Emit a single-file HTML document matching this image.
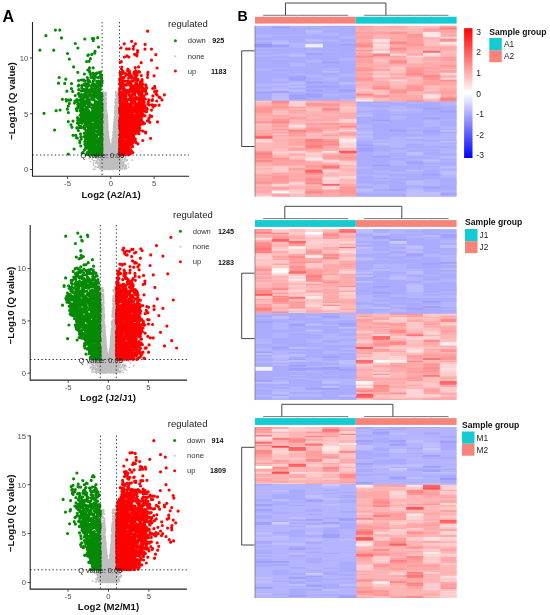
<!DOCTYPE html>
<html><head><meta charset="utf-8"><style>
html,body{margin:0;padding:0;background:#fff;}
body{width:550px;height:615px;overflow:hidden;}
svg{display:block;font-family:"Liberation Sans", sans-serif;filter:blur(0.3px);}
</style></head><body>
<svg width="550" height="615" viewBox="0 0 550 615"><path fill="#b5b5ff" d="M255.0 25.8h17.4v2.6h-17.4zM255.0 28.8h17.4v1.6h-17.4zM255.0 33.8h17.4v3.6h-17.4zM255.0 39.8h17.4v2.6h-17.4zM255.0 42.8h17.4v1.6h-17.4zM255.0 46.8h17.4v2.6h-17.4zM255.0 50.8h17.4v2.6h-17.4zM255.0 53.8h17.4v3.6h-17.4zM255.0 58.8h17.4v1.6h-17.4zM255.0 60.8h17.4v1.6h-17.4zM255.0 62.8h17.4v1.6h-17.4zM255.0 64.8h17.4v1.6h-17.4zM255.0 67.8h17.4v3.6h-17.4zM255.0 72.8h17.4v1.6h-17.4zM255.0 79.8h17.4v1.6h-17.4zM255.0 82.8h17.4v4.6h-17.4zM255.0 87.8h17.4v4.6h-17.4zM255.0 93.8h17.4v1.6h-17.4zM255.0 95.8h17.4v1.6h-17.4zM271.8 27.8h17.4v1.6h-17.4zM271.8 29.8h17.4v1.6h-17.4zM271.8 33.8h17.4v2.6h-17.4zM271.8 38.8h17.4v3.6h-17.4zM271.8 46.8h17.4v2.6h-17.4zM271.8 50.8h17.4v1.6h-17.4zM271.8 52.8h17.4v3.6h-17.4zM271.8 57.8h17.4v2.6h-17.4zM271.8 64.8h17.4v1.6h-17.4zM271.8 66.8h17.4v2.6h-17.4zM271.8 70.8h17.4v2.6h-17.4zM271.8 77.8h17.4v4.6h-17.4zM271.8 82.8h17.4v1.6h-17.4zM271.8 85.8h17.4v3.6h-17.4zM271.8 89.8h17.4v1.6h-17.4zM271.8 92.8h17.4v1.6h-17.4zM271.8 94.8h17.4v1.6h-17.4zM271.8 97.8h17.4v1.6h-17.4zM288.6 25.8h17.4v1.6h-17.4zM288.6 33.8h17.4v2.6h-17.4zM288.6 36.8h17.4v1.6h-17.4zM288.6 39.8h17.4v1.6h-17.4zM288.6 41.8h17.4v6.6h-17.4zM288.6 49.8h17.4v1.6h-17.4zM288.6 51.8h17.4v3.6h-17.4zM288.6 55.8h17.4v1.6h-17.4zM288.6 57.8h17.4v1.6h-17.4zM288.6 59.8h17.4v1.6h-17.4zM288.6 61.8h17.4v5.6h-17.4zM288.6 67.8h17.4v1.6h-17.4zM288.6 70.8h17.4v1.6h-17.4zM288.6 72.8h17.4v2.6h-17.4zM288.6 80.8h17.4v2.6h-17.4zM288.6 84.8h17.4v1.6h-17.4zM288.6 86.8h17.4v1.6h-17.4zM288.6 88.8h17.4v1.6h-17.4zM288.6 91.8h17.4v1.6h-17.4zM288.6 95.8h17.4v1.6h-17.4zM288.6 98.8h17.4v1.6h-17.4zM305.4 25.8h17.4v1.6h-17.4zM305.4 28.8h17.4v2.6h-17.4zM305.4 31.8h17.4v3.6h-17.4zM305.4 35.8h17.4v1.6h-17.4zM305.4 37.8h17.4v2.6h-17.4zM305.4 40.8h17.4v1.6h-17.4zM305.4 42.8h17.4v1.6h-17.4zM305.4 47.8h17.4v1.6h-17.4zM305.4 49.8h17.4v3.6h-17.4zM305.4 55.8h17.4v1.6h-17.4zM305.4 58.8h17.4v4.6h-17.4zM305.4 64.8h17.4v1.6h-17.4zM305.4 67.8h17.4v1.6h-17.4zM305.4 69.8h17.4v1.6h-17.4zM305.4 73.8h17.4v4.6h-17.4zM305.4 78.8h17.4v2.6h-17.4zM305.4 84.8h17.4v1.6h-17.4zM305.4 98.8h17.4v1.6h-17.4zM322.2 27.8h17.4v2.6h-17.4zM322.2 31.8h17.4v4.6h-17.4zM322.2 38.8h17.4v3.6h-17.4zM322.2 42.8h17.4v1.6h-17.4zM322.2 47.8h17.4v1.6h-17.4zM322.2 49.8h17.4v1.6h-17.4zM322.2 51.8h17.4v1.6h-17.4zM322.2 54.8h17.4v1.6h-17.4zM322.2 67.8h17.4v2.6h-17.4zM322.2 75.8h17.4v5.6h-17.4zM322.2 83.8h17.4v1.6h-17.4zM322.2 90.8h17.4v1.6h-17.4zM322.2 92.8h17.4v4.6h-17.4zM322.2 97.8h17.4v1.6h-17.4zM339.0 30.8h17.4v1.6h-17.4zM339.0 32.8h17.4v1.6h-17.4zM339.0 34.8h17.4v4.6h-17.4zM339.0 41.8h17.4v2.6h-17.4zM339.0 54.8h17.4v1.6h-17.4zM339.0 56.8h17.4v4.6h-17.4zM339.0 61.8h17.4v1.6h-17.4zM339.0 66.8h17.4v1.6h-17.4zM339.0 72.8h17.4v4.6h-17.4zM339.0 77.8h17.4v1.6h-17.4zM339.0 80.8h17.4v2.6h-17.4zM339.0 87.8h17.4v1.6h-17.4zM339.0 92.8h17.4v2.6h-17.4zM339.0 95.8h17.4v1.6h-17.4zM339.0 97.8h17.4v3.6h-17.4zM355.8 102.8h17.4v1.6h-17.4zM355.8 105.8h17.4v5.6h-17.4zM355.8 111.8h17.4v3.6h-17.4zM355.8 123.8h17.4v4.6h-17.4zM355.8 128.8h17.4v3.6h-17.4zM355.8 132.8h17.4v3.6h-17.4zM355.8 136.8h17.4v4.6h-17.4zM355.8 145.8h17.4v1.6h-17.4zM355.8 152.8h17.4v1.6h-17.4zM355.8 156.8h17.4v1.6h-17.4zM355.8 159.8h17.4v1.6h-17.4zM355.8 161.8h17.4v1.6h-17.4zM355.8 163.8h17.4v1.6h-17.4zM355.8 165.8h17.4v3.6h-17.4zM355.8 169.8h17.4v1.6h-17.4zM355.8 173.8h17.4v2.6h-17.4zM355.8 178.8h17.4v1.6h-17.4zM355.8 182.8h17.4v3.6h-17.4zM355.8 187.8h17.4v1.6h-17.4zM355.8 190.8h17.4v2.6h-17.4zM355.8 195.8h17.4v1.0h-17.4zM372.6 102.8h17.4v2.6h-17.4zM372.6 106.8h17.4v3.6h-17.4zM372.6 111.8h17.4v1.6h-17.4zM372.6 120.8h17.4v2.6h-17.4zM372.6 130.8h17.4v1.6h-17.4zM372.6 136.8h17.4v1.6h-17.4zM372.6 138.8h17.4v3.6h-17.4zM372.6 143.8h17.4v2.6h-17.4zM372.6 150.8h17.4v5.6h-17.4zM372.6 157.8h17.4v1.6h-17.4zM372.6 162.8h17.4v1.6h-17.4zM372.6 165.8h17.4v1.6h-17.4zM372.6 169.8h17.4v3.6h-17.4zM372.6 173.8h17.4v4.6h-17.4zM372.6 178.8h17.4v2.6h-17.4zM372.6 181.8h17.4v1.6h-17.4zM372.6 183.8h17.4v5.6h-17.4zM372.6 190.8h17.4v2.6h-17.4zM372.6 195.8h17.4v1.0h-17.4zM389.4 100.8h17.4v2.6h-17.4zM389.4 104.8h17.4v5.6h-17.4zM389.4 111.8h17.4v2.6h-17.4zM389.4 114.8h17.4v5.6h-17.4zM389.4 124.8h17.4v1.6h-17.4zM389.4 132.8h17.4v1.6h-17.4zM389.4 135.8h17.4v12.6h-17.4zM389.4 148.8h17.4v4.6h-17.4zM389.4 153.8h17.4v1.6h-17.4zM389.4 155.8h17.4v2.6h-17.4zM389.4 159.8h17.4v6.6h-17.4zM389.4 170.8h17.4v3.6h-17.4zM389.4 175.8h17.4v2.6h-17.4zM389.4 178.8h17.4v1.6h-17.4zM389.4 180.8h17.4v1.6h-17.4zM389.4 187.8h17.4v1.6h-17.4zM389.4 190.8h17.4v2.6h-17.4zM389.4 195.8h17.4v1.0h-17.4zM406.2 101.8h17.4v2.6h-17.4zM406.2 107.8h17.4v5.6h-17.4zM406.2 120.8h17.4v1.6h-17.4zM406.2 122.8h17.4v1.6h-17.4zM406.2 126.8h17.4v2.6h-17.4zM406.2 130.8h17.4v3.6h-17.4zM406.2 137.8h17.4v1.6h-17.4zM406.2 139.8h17.4v4.6h-17.4zM406.2 144.8h17.4v1.6h-17.4zM406.2 147.8h17.4v2.6h-17.4zM406.2 152.8h17.4v1.6h-17.4zM406.2 155.8h17.4v1.6h-17.4zM406.2 157.8h17.4v3.6h-17.4zM406.2 165.8h17.4v1.6h-17.4zM406.2 171.8h17.4v2.6h-17.4zM406.2 176.8h17.4v1.6h-17.4zM406.2 179.8h17.4v1.6h-17.4zM406.2 183.8h17.4v2.6h-17.4zM406.2 186.8h17.4v3.6h-17.4zM406.2 190.8h17.4v1.6h-17.4zM423.0 101.8h17.4v1.6h-17.4zM423.0 104.8h17.4v1.6h-17.4zM423.0 112.8h17.4v1.6h-17.4zM423.0 114.8h17.4v2.6h-17.4zM423.0 118.8h17.4v8.6h-17.4zM423.0 127.8h17.4v1.6h-17.4zM423.0 135.8h17.4v4.6h-17.4zM423.0 140.8h17.4v5.6h-17.4zM423.0 146.8h17.4v2.6h-17.4zM423.0 150.8h17.4v1.6h-17.4zM423.0 154.8h17.4v2.6h-17.4zM423.0 157.8h17.4v2.6h-17.4zM423.0 160.8h17.4v2.6h-17.4zM423.0 163.8h17.4v2.6h-17.4zM423.0 166.8h17.4v2.6h-17.4zM423.0 171.8h17.4v1.6h-17.4zM423.0 178.8h17.4v7.6h-17.4zM423.0 188.8h17.4v1.6h-17.4zM423.0 190.8h17.4v1.6h-17.4zM439.8 100.8h16.8v5.6h-16.8zM439.8 106.8h16.8v1.6h-16.8zM439.8 114.8h16.8v1.6h-16.8zM439.8 116.8h16.8v1.6h-16.8zM439.8 118.8h16.8v2.6h-16.8zM439.8 122.8h16.8v1.6h-16.8zM439.8 125.8h16.8v3.6h-16.8zM439.8 130.8h16.8v1.6h-16.8zM439.8 132.8h16.8v7.6h-16.8zM439.8 142.8h16.8v3.6h-16.8zM439.8 147.8h16.8v6.6h-16.8zM439.8 154.8h16.8v2.6h-16.8zM439.8 159.8h16.8v2.6h-16.8zM439.8 164.8h16.8v2.6h-16.8zM439.8 167.8h16.8v1.6h-16.8zM439.8 169.8h16.8v1.6h-16.8zM439.8 171.8h16.8v1.6h-16.8zM439.8 173.8h16.8v4.6h-16.8zM439.8 179.8h16.8v1.6h-16.8zM439.8 181.8h16.8v1.6h-16.8zM439.8 183.8h16.8v1.6h-16.8zM439.8 189.8h16.8v3.6h-16.8z"/><path fill="#aaaaff" d="M255.0 27.8h17.4v1.6h-17.4zM255.0 29.8h17.4v4.6h-17.4zM255.0 36.8h17.4v3.6h-17.4zM255.0 41.8h17.4v1.6h-17.4zM255.0 48.8h17.4v2.6h-17.4zM255.0 52.8h17.4v1.6h-17.4zM255.0 56.8h17.4v2.6h-17.4zM255.0 59.8h17.4v1.6h-17.4zM255.0 61.8h17.4v1.6h-17.4zM255.0 63.8h17.4v1.6h-17.4zM255.0 65.8h17.4v2.6h-17.4zM255.0 70.8h17.4v2.6h-17.4zM255.0 73.8h17.4v6.6h-17.4zM255.0 80.8h17.4v2.6h-17.4zM255.0 86.8h17.4v1.6h-17.4zM255.0 92.8h17.4v1.6h-17.4zM255.0 94.8h17.4v1.6h-17.4zM255.0 96.8h17.4v4.6h-17.4zM271.8 25.8h17.4v1.6h-17.4zM271.8 28.8h17.4v1.6h-17.4zM271.8 30.8h17.4v3.6h-17.4zM271.8 35.8h17.4v3.6h-17.4zM271.8 48.8h17.4v2.6h-17.4zM271.8 51.8h17.4v1.6h-17.4zM271.8 55.8h17.4v2.6h-17.4zM271.8 59.8h17.4v5.6h-17.4zM271.8 65.8h17.4v1.6h-17.4zM271.8 68.8h17.4v2.6h-17.4zM271.8 72.8h17.4v5.6h-17.4zM271.8 81.8h17.4v1.6h-17.4zM271.8 84.8h17.4v1.6h-17.4zM271.8 91.8h17.4v1.6h-17.4zM271.8 99.8h17.4v1.6h-17.4zM288.6 26.8h17.4v7.6h-17.4zM288.6 35.8h17.4v1.6h-17.4zM288.6 37.8h17.4v2.6h-17.4zM288.6 40.8h17.4v1.6h-17.4zM288.6 47.8h17.4v2.6h-17.4zM288.6 50.8h17.4v1.6h-17.4zM288.6 56.8h17.4v1.6h-17.4zM288.6 58.8h17.4v1.6h-17.4zM288.6 60.8h17.4v1.6h-17.4zM288.6 66.8h17.4v1.6h-17.4zM288.6 68.8h17.4v2.6h-17.4zM288.6 71.8h17.4v1.6h-17.4zM288.6 74.8h17.4v2.6h-17.4zM288.6 79.8h17.4v1.6h-17.4zM288.6 83.8h17.4v1.6h-17.4zM288.6 87.8h17.4v1.6h-17.4zM288.6 90.8h17.4v1.6h-17.4zM288.6 92.8h17.4v2.6h-17.4zM288.6 99.8h17.4v1.6h-17.4zM305.4 26.8h17.4v2.6h-17.4zM305.4 34.8h17.4v1.6h-17.4zM305.4 36.8h17.4v1.6h-17.4zM305.4 41.8h17.4v1.6h-17.4zM305.4 46.8h17.4v1.6h-17.4zM305.4 48.8h17.4v1.6h-17.4zM305.4 53.8h17.4v2.6h-17.4zM305.4 56.8h17.4v2.6h-17.4zM305.4 62.8h17.4v2.6h-17.4zM305.4 65.8h17.4v2.6h-17.4zM305.4 68.8h17.4v1.6h-17.4zM305.4 70.8h17.4v3.6h-17.4zM305.4 77.8h17.4v1.6h-17.4zM305.4 80.8h17.4v1.6h-17.4zM305.4 82.8h17.4v2.6h-17.4zM305.4 86.8h17.4v3.6h-17.4zM305.4 90.8h17.4v3.6h-17.4zM305.4 96.8h17.4v2.6h-17.4zM305.4 99.8h17.4v1.6h-17.4zM322.2 25.8h17.4v2.6h-17.4zM322.2 29.8h17.4v2.6h-17.4zM322.2 35.8h17.4v3.6h-17.4zM322.2 41.8h17.4v1.6h-17.4zM322.2 43.8h17.4v4.6h-17.4zM322.2 48.8h17.4v1.6h-17.4zM322.2 50.8h17.4v1.6h-17.4zM322.2 52.8h17.4v2.6h-17.4zM322.2 55.8h17.4v6.6h-17.4zM322.2 62.8h17.4v5.6h-17.4zM322.2 69.8h17.4v1.6h-17.4zM322.2 71.8h17.4v4.6h-17.4zM322.2 80.8h17.4v3.6h-17.4zM322.2 84.8h17.4v1.6h-17.4zM322.2 86.8h17.4v4.6h-17.4zM322.2 91.8h17.4v1.6h-17.4zM322.2 96.8h17.4v1.6h-17.4zM322.2 98.8h17.4v2.6h-17.4zM339.0 25.8h17.4v5.6h-17.4zM339.0 31.8h17.4v1.6h-17.4zM339.0 33.8h17.4v1.6h-17.4zM339.0 38.8h17.4v3.6h-17.4zM339.0 44.8h17.4v10.6h-17.4zM339.0 55.8h17.4v1.6h-17.4zM339.0 60.8h17.4v1.6h-17.4zM339.0 62.8h17.4v4.6h-17.4zM339.0 67.8h17.4v5.6h-17.4zM339.0 76.8h17.4v1.6h-17.4zM339.0 78.8h17.4v2.6h-17.4zM339.0 83.8h17.4v4.6h-17.4zM339.0 88.8h17.4v1.6h-17.4zM339.0 90.8h17.4v2.6h-17.4zM339.0 94.8h17.4v1.6h-17.4zM339.0 96.8h17.4v1.6h-17.4zM355.8 100.8h17.4v2.6h-17.4zM355.8 103.8h17.4v2.6h-17.4zM355.8 110.8h17.4v1.6h-17.4zM355.8 115.8h17.4v8.6h-17.4zM355.8 127.8h17.4v1.6h-17.4zM355.8 140.8h17.4v4.6h-17.4zM355.8 146.8h17.4v1.6h-17.4zM355.8 150.8h17.4v2.6h-17.4zM355.8 153.8h17.4v3.6h-17.4zM355.8 157.8h17.4v2.6h-17.4zM355.8 160.8h17.4v1.6h-17.4zM355.8 162.8h17.4v1.6h-17.4zM355.8 164.8h17.4v1.6h-17.4zM355.8 168.8h17.4v1.6h-17.4zM355.8 170.8h17.4v3.6h-17.4zM355.8 175.8h17.4v3.6h-17.4zM355.8 179.8h17.4v3.6h-17.4zM355.8 185.8h17.4v2.6h-17.4zM355.8 192.8h17.4v3.6h-17.4zM372.6 100.8h17.4v2.6h-17.4zM372.6 104.8h17.4v2.6h-17.4zM372.6 109.8h17.4v2.6h-17.4zM372.6 112.8h17.4v7.6h-17.4zM372.6 122.8h17.4v8.6h-17.4zM372.6 131.8h17.4v5.6h-17.4zM372.6 137.8h17.4v1.6h-17.4zM372.6 141.8h17.4v1.6h-17.4zM372.6 145.8h17.4v5.6h-17.4zM372.6 156.8h17.4v1.6h-17.4zM372.6 158.8h17.4v4.6h-17.4zM372.6 163.8h17.4v1.6h-17.4zM372.6 166.8h17.4v3.6h-17.4zM372.6 172.8h17.4v1.6h-17.4zM372.6 177.8h17.4v1.6h-17.4zM372.6 180.8h17.4v1.6h-17.4zM372.6 182.8h17.4v1.6h-17.4zM372.6 188.8h17.4v2.6h-17.4zM372.6 192.8h17.4v3.6h-17.4zM389.4 102.8h17.4v2.6h-17.4zM389.4 110.8h17.4v1.6h-17.4zM389.4 113.8h17.4v1.6h-17.4zM389.4 119.8h17.4v5.6h-17.4zM389.4 125.8h17.4v4.6h-17.4zM389.4 130.8h17.4v2.6h-17.4zM389.4 133.8h17.4v2.6h-17.4zM389.4 147.8h17.4v1.6h-17.4zM389.4 152.8h17.4v1.6h-17.4zM389.4 154.8h17.4v1.6h-17.4zM389.4 157.8h17.4v2.6h-17.4zM389.4 165.8h17.4v5.6h-17.4zM389.4 173.8h17.4v2.6h-17.4zM389.4 177.8h17.4v1.6h-17.4zM389.4 179.8h17.4v1.6h-17.4zM389.4 181.8h17.4v6.6h-17.4zM389.4 189.8h17.4v1.6h-17.4zM389.4 192.8h17.4v3.6h-17.4zM406.2 100.8h17.4v1.6h-17.4zM406.2 103.8h17.4v4.6h-17.4zM406.2 112.8h17.4v8.6h-17.4zM406.2 121.8h17.4v1.6h-17.4zM406.2 123.8h17.4v3.6h-17.4zM406.2 128.8h17.4v2.6h-17.4zM406.2 133.8h17.4v3.6h-17.4zM406.2 138.8h17.4v1.6h-17.4zM406.2 143.8h17.4v1.6h-17.4zM406.2 145.8h17.4v2.6h-17.4zM406.2 149.8h17.4v2.6h-17.4zM406.2 154.8h17.4v1.6h-17.4zM406.2 156.8h17.4v1.6h-17.4zM406.2 160.8h17.4v1.6h-17.4zM406.2 162.8h17.4v3.6h-17.4zM406.2 166.8h17.4v3.6h-17.4zM406.2 170.8h17.4v1.6h-17.4zM406.2 173.8h17.4v3.6h-17.4zM406.2 177.8h17.4v2.6h-17.4zM406.2 181.8h17.4v1.6h-17.4zM406.2 185.8h17.4v1.6h-17.4zM406.2 195.8h17.4v1.0h-17.4zM423.0 100.8h17.4v1.6h-17.4zM423.0 102.8h17.4v2.6h-17.4zM423.0 105.8h17.4v2.6h-17.4zM423.0 108.8h17.4v4.6h-17.4zM423.0 113.8h17.4v1.6h-17.4zM423.0 116.8h17.4v1.6h-17.4zM423.0 126.8h17.4v1.6h-17.4zM423.0 128.8h17.4v2.6h-17.4zM423.0 131.8h17.4v4.6h-17.4zM423.0 139.8h17.4v1.6h-17.4zM423.0 145.8h17.4v1.6h-17.4zM423.0 148.8h17.4v2.6h-17.4zM423.0 151.8h17.4v3.6h-17.4zM423.0 156.8h17.4v1.6h-17.4zM423.0 162.8h17.4v1.6h-17.4zM423.0 165.8h17.4v1.6h-17.4zM423.0 168.8h17.4v3.6h-17.4zM423.0 172.8h17.4v1.6h-17.4zM423.0 174.8h17.4v4.6h-17.4zM423.0 185.8h17.4v1.6h-17.4zM423.0 187.8h17.4v1.6h-17.4zM423.0 189.8h17.4v1.6h-17.4zM423.0 195.8h17.4v1.0h-17.4zM439.8 105.8h16.8v1.6h-16.8zM439.8 107.8h16.8v3.6h-16.8zM439.8 111.8h16.8v3.6h-16.8zM439.8 115.8h16.8v1.6h-16.8zM439.8 117.8h16.8v1.6h-16.8zM439.8 120.8h16.8v2.6h-16.8zM439.8 123.8h16.8v2.6h-16.8zM439.8 128.8h16.8v1.6h-16.8zM439.8 131.8h16.8v1.6h-16.8zM439.8 139.8h16.8v1.6h-16.8zM439.8 141.8h16.8v1.6h-16.8zM439.8 145.8h16.8v2.6h-16.8zM439.8 153.8h16.8v1.6h-16.8zM439.8 157.8h16.8v2.6h-16.8zM439.8 161.8h16.8v3.6h-16.8zM439.8 168.8h16.8v1.6h-16.8zM439.8 177.8h16.8v2.6h-16.8zM439.8 180.8h16.8v1.6h-16.8zM439.8 182.8h16.8v1.6h-16.8zM439.8 184.8h16.8v5.6h-16.8zM439.8 193.8h16.8v3.0h-16.8z"/><path fill="#9595ff" d="M255.0 43.8h17.4v3.6h-17.4z"/><path fill="#9f9fff" d="M255.0 91.8h17.4v1.6h-17.4zM271.8 26.8h17.4v1.6h-17.4zM271.8 43.8h17.4v3.6h-17.4zM271.8 90.8h17.4v1.6h-17.4zM288.6 76.8h17.4v3.6h-17.4zM288.6 94.8h17.4v1.6h-17.4zM288.6 96.8h17.4v2.6h-17.4zM305.4 52.8h17.4v1.6h-17.4zM305.4 81.8h17.4v1.6h-17.4zM305.4 85.8h17.4v1.6h-17.4zM305.4 89.8h17.4v1.6h-17.4zM305.4 93.8h17.4v3.6h-17.4zM322.2 61.8h17.4v1.6h-17.4zM322.2 85.8h17.4v1.6h-17.4zM339.0 43.8h17.4v1.6h-17.4zM339.0 89.8h17.4v1.6h-17.4zM355.8 144.8h17.4v1.6h-17.4zM355.8 147.8h17.4v3.6h-17.4zM372.6 119.8h17.4v1.6h-17.4zM372.6 155.8h17.4v1.6h-17.4zM372.6 164.8h17.4v1.6h-17.4zM389.4 129.8h17.4v1.6h-17.4zM389.4 188.8h17.4v1.6h-17.4zM406.2 161.8h17.4v1.6h-17.4zM423.0 107.8h17.4v1.6h-17.4zM423.0 117.8h17.4v1.6h-17.4zM423.0 130.8h17.4v1.6h-17.4zM423.0 173.8h17.4v1.6h-17.4zM423.0 186.8h17.4v1.6h-17.4zM439.8 110.8h16.8v1.6h-16.8zM439.8 192.8h16.8v1.6h-16.8z"/><path fill="#ffcaca" d="M255.0 100.8h17.4v1.6h-17.4zM255.0 166.8h17.4v1.6h-17.4zM255.0 179.8h17.4v1.6h-17.4zM255.0 183.8h17.4v1.6h-17.4zM255.0 192.8h17.4v1.6h-17.4zM271.8 130.8h17.4v1.6h-17.4zM271.8 132.8h17.4v2.6h-17.4zM271.8 150.8h17.4v1.6h-17.4zM271.8 165.8h17.4v6.6h-17.4zM288.6 100.8h17.4v1.6h-17.4zM288.6 102.8h17.4v2.6h-17.4zM288.6 154.8h17.4v1.6h-17.4zM288.6 156.8h17.4v1.6h-17.4zM288.6 166.8h17.4v1.6h-17.4zM288.6 180.8h17.4v2.6h-17.4zM288.6 188.8h17.4v3.6h-17.4zM288.6 194.8h17.4v1.6h-17.4zM305.4 132.8h17.4v2.6h-17.4zM305.4 153.8h17.4v3.6h-17.4zM305.4 183.8h17.4v1.6h-17.4zM322.2 120.8h17.4v2.6h-17.4zM322.2 130.8h17.4v2.6h-17.4zM322.2 135.8h17.4v1.6h-17.4zM322.2 171.8h17.4v1.6h-17.4zM322.2 175.8h17.4v2.6h-17.4zM322.2 179.8h17.4v2.6h-17.4zM322.2 182.8h17.4v1.6h-17.4zM322.2 186.8h17.4v1.6h-17.4zM339.0 105.8h17.4v3.6h-17.4zM339.0 109.8h17.4v1.6h-17.4zM339.0 119.8h17.4v1.6h-17.4zM339.0 135.8h17.4v3.6h-17.4zM339.0 146.8h17.4v1.6h-17.4zM339.0 160.8h17.4v2.6h-17.4zM339.0 163.8h17.4v1.6h-17.4zM339.0 166.8h17.4v1.6h-17.4zM339.0 177.8h17.4v1.6h-17.4zM355.8 88.8h17.4v2.6h-17.4zM355.8 98.8h17.4v1.6h-17.4zM372.6 70.8h17.4v2.6h-17.4zM372.6 74.8h17.4v1.6h-17.4zM372.6 90.8h17.4v1.6h-17.4zM372.6 92.8h17.4v2.6h-17.4zM389.4 54.8h17.4v1.6h-17.4zM389.4 66.8h17.4v3.6h-17.4zM389.4 74.8h17.4v1.6h-17.4zM406.2 60.8h17.4v2.6h-17.4zM423.0 38.8h17.4v1.6h-17.4zM423.0 42.8h17.4v1.6h-17.4zM423.0 84.8h17.4v1.6h-17.4zM423.0 89.8h17.4v1.6h-17.4zM439.8 37.8h16.8v1.6h-16.8zM439.8 68.8h16.8v1.6h-16.8zM439.8 76.8h16.8v2.6h-16.8z"/><path fill="#ffbfbf" d="M255.0 101.8h17.4v1.6h-17.4zM255.0 122.8h17.4v3.6h-17.4zM255.0 126.8h17.4v1.6h-17.4zM255.0 128.8h17.4v1.6h-17.4zM255.0 142.8h17.4v2.6h-17.4zM255.0 145.8h17.4v2.6h-17.4zM255.0 165.8h17.4v1.6h-17.4zM255.0 168.8h17.4v5.6h-17.4zM255.0 184.8h17.4v1.6h-17.4zM255.0 193.8h17.4v2.6h-17.4zM271.8 109.8h17.4v5.6h-17.4zM271.8 136.8h17.4v1.6h-17.4zM271.8 140.8h17.4v1.6h-17.4zM271.8 147.8h17.4v3.6h-17.4zM271.8 152.8h17.4v3.6h-17.4zM271.8 164.8h17.4v1.6h-17.4zM271.8 171.8h17.4v1.6h-17.4zM271.8 188.8h17.4v2.6h-17.4zM288.6 107.8h17.4v2.6h-17.4zM288.6 118.8h17.4v1.6h-17.4zM288.6 122.8h17.4v2.6h-17.4zM288.6 126.8h17.4v3.6h-17.4zM288.6 136.8h17.4v1.6h-17.4zM288.6 146.8h17.4v1.6h-17.4zM288.6 155.8h17.4v1.6h-17.4zM288.6 157.8h17.4v2.6h-17.4zM288.6 164.8h17.4v2.6h-17.4zM288.6 177.8h17.4v1.6h-17.4zM288.6 183.8h17.4v2.6h-17.4zM288.6 192.8h17.4v2.6h-17.4zM305.4 107.8h17.4v3.6h-17.4zM305.4 120.8h17.4v2.6h-17.4zM305.4 135.8h17.4v3.6h-17.4zM305.4 151.8h17.4v1.6h-17.4zM305.4 159.8h17.4v1.6h-17.4zM305.4 184.8h17.4v1.6h-17.4zM322.2 116.8h17.4v1.6h-17.4zM322.2 129.8h17.4v1.6h-17.4zM322.2 136.8h17.4v2.6h-17.4zM322.2 170.8h17.4v1.6h-17.4zM322.2 172.8h17.4v1.6h-17.4zM339.0 108.8h17.4v1.6h-17.4zM339.0 110.8h17.4v2.6h-17.4zM339.0 121.8h17.4v1.6h-17.4zM339.0 131.8h17.4v1.6h-17.4zM339.0 148.8h17.4v2.6h-17.4zM339.0 159.8h17.4v1.6h-17.4zM339.0 165.8h17.4v1.6h-17.4zM339.0 170.8h17.4v4.6h-17.4zM339.0 178.8h17.4v1.6h-17.4zM339.0 180.8h17.4v3.6h-17.4zM339.0 195.8h17.4v1.0h-17.4zM355.8 46.8h17.4v1.6h-17.4zM355.8 50.8h17.4v2.6h-17.4zM355.8 70.8h17.4v1.6h-17.4zM355.8 87.8h17.4v1.6h-17.4zM355.8 90.8h17.4v1.6h-17.4zM372.6 41.8h17.4v2.6h-17.4zM372.6 49.8h17.4v1.6h-17.4zM372.6 55.8h17.4v1.6h-17.4zM372.6 58.8h17.4v3.6h-17.4zM372.6 66.8h17.4v2.6h-17.4zM372.6 72.8h17.4v2.6h-17.4zM372.6 79.8h17.4v1.6h-17.4zM372.6 88.8h17.4v2.6h-17.4zM372.6 91.8h17.4v1.6h-17.4zM372.6 97.8h17.4v2.6h-17.4zM389.4 27.8h17.4v1.6h-17.4zM389.4 29.8h17.4v1.6h-17.4zM389.4 52.8h17.4v1.6h-17.4zM389.4 65.8h17.4v1.6h-17.4zM389.4 69.8h17.4v3.6h-17.4zM389.4 75.8h17.4v1.6h-17.4zM389.4 78.8h17.4v1.6h-17.4zM389.4 81.8h17.4v3.6h-17.4zM389.4 87.8h17.4v1.6h-17.4zM406.2 25.8h17.4v4.6h-17.4zM406.2 49.8h17.4v1.6h-17.4zM406.2 51.8h17.4v1.6h-17.4zM406.2 57.8h17.4v3.6h-17.4zM406.2 76.8h17.4v2.6h-17.4zM406.2 90.8h17.4v1.6h-17.4zM406.2 93.8h17.4v1.6h-17.4zM423.0 25.8h17.4v2.6h-17.4zM423.0 39.8h17.4v3.6h-17.4zM423.0 43.8h17.4v2.6h-17.4zM423.0 47.8h17.4v1.6h-17.4zM423.0 55.8h17.4v1.6h-17.4zM423.0 85.8h17.4v2.6h-17.4zM423.0 88.8h17.4v1.6h-17.4zM423.0 97.8h17.4v2.6h-17.4zM439.8 43.8h16.8v3.6h-16.8zM439.8 50.8h16.8v2.6h-16.8z"/><path fill="#ffb5b5" d="M255.0 102.8h17.4v3.6h-17.4zM255.0 115.8h17.4v2.6h-17.4zM255.0 125.8h17.4v1.6h-17.4zM255.0 127.8h17.4v1.6h-17.4zM255.0 131.8h17.4v1.6h-17.4zM255.0 141.8h17.4v1.6h-17.4zM255.0 144.8h17.4v1.6h-17.4zM255.0 147.8h17.4v3.6h-17.4zM255.0 161.8h17.4v2.6h-17.4zM255.0 164.8h17.4v1.6h-17.4zM255.0 167.8h17.4v1.6h-17.4zM255.0 175.8h17.4v2.6h-17.4zM255.0 188.8h17.4v1.6h-17.4zM271.8 107.8h17.4v1.6h-17.4zM271.8 116.8h17.4v2.6h-17.4zM271.8 123.8h17.4v1.6h-17.4zM271.8 129.8h17.4v1.6h-17.4zM271.8 135.8h17.4v1.6h-17.4zM271.8 137.8h17.4v2.6h-17.4zM271.8 141.8h17.4v6.6h-17.4zM271.8 155.8h17.4v2.6h-17.4zM271.8 160.8h17.4v1.6h-17.4zM288.6 112.8h17.4v4.6h-17.4zM288.6 119.8h17.4v3.6h-17.4zM288.6 135.8h17.4v1.6h-17.4zM288.6 137.8h17.4v1.6h-17.4zM288.6 144.8h17.4v2.6h-17.4zM288.6 169.8h17.4v3.6h-17.4zM288.6 185.8h17.4v3.6h-17.4zM288.6 195.8h17.4v1.0h-17.4zM305.4 100.8h17.4v2.6h-17.4zM305.4 105.8h17.4v2.6h-17.4zM305.4 110.8h17.4v4.6h-17.4zM305.4 115.8h17.4v3.6h-17.4zM305.4 134.8h17.4v1.6h-17.4zM305.4 147.8h17.4v1.6h-17.4zM305.4 150.8h17.4v1.6h-17.4zM305.4 160.8h17.4v1.6h-17.4zM305.4 163.8h17.4v1.6h-17.4zM322.2 105.8h17.4v2.6h-17.4zM322.2 112.8h17.4v3.6h-17.4zM322.2 118.8h17.4v1.6h-17.4zM322.2 125.8h17.4v1.6h-17.4zM322.2 132.8h17.4v2.6h-17.4zM322.2 147.8h17.4v1.6h-17.4zM322.2 161.8h17.4v3.6h-17.4zM322.2 173.8h17.4v2.6h-17.4zM339.0 102.8h17.4v3.6h-17.4zM339.0 116.8h17.4v1.6h-17.4zM339.0 126.8h17.4v3.6h-17.4zM339.0 134.8h17.4v1.6h-17.4zM339.0 147.8h17.4v1.6h-17.4zM339.0 152.8h17.4v2.6h-17.4zM339.0 164.8h17.4v1.6h-17.4zM339.0 167.8h17.4v3.6h-17.4zM339.0 174.8h17.4v1.6h-17.4zM339.0 179.8h17.4v1.6h-17.4zM355.8 27.8h17.4v1.6h-17.4zM355.8 30.8h17.4v1.6h-17.4zM355.8 38.8h17.4v1.6h-17.4zM355.8 47.8h17.4v2.6h-17.4zM355.8 65.8h17.4v1.6h-17.4zM355.8 71.8h17.4v1.6h-17.4zM355.8 80.8h17.4v3.6h-17.4zM355.8 84.8h17.4v3.6h-17.4zM355.8 91.8h17.4v2.6h-17.4zM372.6 25.8h17.4v6.6h-17.4zM372.6 33.8h17.4v4.6h-17.4zM372.6 48.8h17.4v1.6h-17.4zM372.6 56.8h17.4v2.6h-17.4zM372.6 61.8h17.4v3.6h-17.4zM372.6 69.8h17.4v1.6h-17.4zM372.6 77.8h17.4v2.6h-17.4zM372.6 96.8h17.4v1.6h-17.4zM372.6 99.8h17.4v1.6h-17.4zM389.4 28.8h17.4v1.6h-17.4zM389.4 30.8h17.4v1.6h-17.4zM389.4 33.8h17.4v1.6h-17.4zM389.4 43.8h17.4v1.6h-17.4zM389.4 58.8h17.4v1.6h-17.4zM389.4 64.8h17.4v1.6h-17.4zM389.4 72.8h17.4v1.6h-17.4zM389.4 77.8h17.4v1.6h-17.4zM389.4 80.8h17.4v1.6h-17.4zM389.4 84.8h17.4v3.6h-17.4zM406.2 29.8h17.4v4.6h-17.4zM406.2 50.8h17.4v1.6h-17.4zM406.2 56.8h17.4v1.6h-17.4zM406.2 62.8h17.4v1.6h-17.4zM406.2 64.8h17.4v2.6h-17.4zM406.2 78.8h17.4v6.6h-17.4zM406.2 91.8h17.4v2.6h-17.4zM423.0 27.8h17.4v1.6h-17.4zM423.0 37.8h17.4v1.6h-17.4zM423.0 45.8h17.4v1.6h-17.4zM423.0 48.8h17.4v2.6h-17.4zM423.0 59.8h17.4v3.6h-17.4zM423.0 64.8h17.4v1.6h-17.4zM423.0 68.8h17.4v2.6h-17.4zM423.0 79.8h17.4v1.6h-17.4zM423.0 87.8h17.4v1.6h-17.4zM423.0 90.8h17.4v1.6h-17.4zM423.0 92.8h17.4v1.6h-17.4zM423.0 99.8h17.4v1.6h-17.4zM439.8 31.8h16.8v2.6h-16.8zM439.8 34.8h16.8v1.6h-16.8zM439.8 49.8h16.8v1.6h-16.8zM439.8 52.8h16.8v4.6h-16.8zM439.8 62.8h16.8v2.6h-16.8zM439.8 66.8h16.8v1.6h-16.8zM439.8 84.8h16.8v3.6h-16.8zM439.8 94.8h16.8v1.6h-16.8z"/><path fill="#ff9f9f" d="M255.0 105.8h17.4v2.6h-17.4zM255.0 108.8h17.4v1.6h-17.4zM255.0 118.8h17.4v1.6h-17.4zM255.0 132.8h17.4v2.6h-17.4zM255.0 150.8h17.4v1.6h-17.4zM255.0 157.8h17.4v2.6h-17.4zM255.0 174.8h17.4v1.6h-17.4zM255.0 177.8h17.4v2.6h-17.4zM255.0 181.8h17.4v1.6h-17.4zM271.8 102.8h17.4v4.6h-17.4zM271.8 119.8h17.4v1.6h-17.4zM271.8 124.8h17.4v2.6h-17.4zM271.8 131.8h17.4v1.6h-17.4zM271.8 158.8h17.4v2.6h-17.4zM271.8 161.8h17.4v3.6h-17.4zM271.8 172.8h17.4v1.6h-17.4zM271.8 174.8h17.4v1.6h-17.4zM271.8 178.8h17.4v5.6h-17.4zM271.8 186.8h17.4v2.6h-17.4zM271.8 192.8h17.4v1.6h-17.4zM271.8 194.8h17.4v2.0h-17.4zM288.6 106.8h17.4v1.6h-17.4zM288.6 109.8h17.4v1.6h-17.4zM288.6 116.8h17.4v2.6h-17.4zM288.6 132.8h17.4v3.6h-17.4zM288.6 138.8h17.4v1.6h-17.4zM288.6 140.8h17.4v2.6h-17.4zM288.6 147.8h17.4v3.6h-17.4zM288.6 159.8h17.4v3.6h-17.4zM288.6 163.8h17.4v1.6h-17.4zM288.6 167.8h17.4v2.6h-17.4zM288.6 179.8h17.4v1.6h-17.4zM305.4 104.8h17.4v1.6h-17.4zM305.4 122.8h17.4v2.6h-17.4zM305.4 126.8h17.4v2.6h-17.4zM305.4 130.8h17.4v1.6h-17.4zM305.4 148.8h17.4v1.6h-17.4zM305.4 164.8h17.4v1.6h-17.4zM305.4 166.8h17.4v1.6h-17.4zM305.4 175.8h17.4v2.6h-17.4zM305.4 180.8h17.4v1.6h-17.4zM305.4 189.8h17.4v1.6h-17.4zM305.4 193.8h17.4v1.6h-17.4zM322.2 103.8h17.4v1.6h-17.4zM322.2 109.8h17.4v1.6h-17.4zM322.2 126.8h17.4v2.6h-17.4zM322.2 134.8h17.4v1.6h-17.4zM322.2 138.8h17.4v2.6h-17.4zM322.2 141.8h17.4v1.6h-17.4zM322.2 144.8h17.4v1.6h-17.4zM322.2 146.8h17.4v1.6h-17.4zM322.2 149.8h17.4v1.6h-17.4zM322.2 152.8h17.4v1.6h-17.4zM322.2 154.8h17.4v4.6h-17.4zM322.2 167.8h17.4v2.6h-17.4zM322.2 188.8h17.4v4.6h-17.4zM322.2 193.8h17.4v1.6h-17.4zM339.0 124.8h17.4v1.6h-17.4zM339.0 130.8h17.4v1.6h-17.4zM339.0 132.8h17.4v2.6h-17.4zM339.0 154.8h17.4v2.6h-17.4zM339.0 157.8h17.4v2.6h-17.4zM339.0 185.8h17.4v1.6h-17.4zM339.0 187.8h17.4v2.6h-17.4zM339.0 192.8h17.4v3.6h-17.4zM355.8 25.8h17.4v1.6h-17.4zM355.8 31.8h17.4v2.6h-17.4zM355.8 34.8h17.4v4.6h-17.4zM355.8 52.8h17.4v1.6h-17.4zM355.8 54.8h17.4v1.6h-17.4zM355.8 56.8h17.4v1.6h-17.4zM355.8 58.8h17.4v4.6h-17.4zM355.8 66.8h17.4v2.6h-17.4zM355.8 72.8h17.4v2.6h-17.4zM355.8 79.8h17.4v1.6h-17.4zM355.8 96.8h17.4v1.6h-17.4zM372.6 31.8h17.4v2.6h-17.4zM372.6 68.8h17.4v1.6h-17.4zM372.6 84.8h17.4v1.6h-17.4zM372.6 86.8h17.4v1.6h-17.4zM389.4 37.8h17.4v1.6h-17.4zM389.4 48.8h17.4v1.6h-17.4zM389.4 55.8h17.4v1.6h-17.4zM389.4 88.8h17.4v1.6h-17.4zM389.4 92.8h17.4v1.6h-17.4zM389.4 95.8h17.4v1.6h-17.4zM406.2 36.8h17.4v7.6h-17.4zM406.2 44.8h17.4v2.6h-17.4zM406.2 66.8h17.4v2.6h-17.4zM406.2 69.8h17.4v1.6h-17.4zM406.2 74.8h17.4v1.6h-17.4zM406.2 84.8h17.4v2.6h-17.4zM406.2 87.8h17.4v1.6h-17.4zM406.2 89.8h17.4v1.6h-17.4zM406.2 96.8h17.4v1.6h-17.4zM406.2 98.8h17.4v1.6h-17.4zM423.0 28.8h17.4v3.6h-17.4zM423.0 66.8h17.4v2.6h-17.4zM423.0 70.8h17.4v2.6h-17.4zM423.0 73.8h17.4v1.6h-17.4zM423.0 80.8h17.4v4.6h-17.4zM439.8 25.8h16.8v2.6h-16.8zM439.8 28.8h16.8v1.6h-16.8zM439.8 46.8h16.8v1.6h-16.8zM439.8 56.8h16.8v4.6h-16.8zM439.8 69.8h16.8v3.6h-16.8zM439.8 82.8h16.8v1.6h-16.8zM439.8 89.8h16.8v4.6h-16.8z"/><path fill="#ff9595" d="M255.0 107.8h17.4v1.6h-17.4zM255.0 109.8h17.4v3.6h-17.4zM255.0 113.8h17.4v1.6h-17.4zM255.0 120.8h17.4v2.6h-17.4zM255.0 151.8h17.4v1.6h-17.4zM255.0 180.8h17.4v1.6h-17.4zM255.0 182.8h17.4v1.6h-17.4zM271.8 106.8h17.4v1.6h-17.4zM271.8 118.8h17.4v1.6h-17.4zM271.8 128.8h17.4v1.6h-17.4zM271.8 157.8h17.4v1.6h-17.4zM271.8 175.8h17.4v3.6h-17.4zM288.6 130.8h17.4v2.6h-17.4zM305.4 102.8h17.4v2.6h-17.4zM305.4 128.8h17.4v2.6h-17.4zM305.4 142.8h17.4v2.6h-17.4zM305.4 165.8h17.4v1.6h-17.4zM305.4 168.8h17.4v1.6h-17.4zM305.4 177.8h17.4v1.6h-17.4zM305.4 179.8h17.4v1.6h-17.4zM305.4 181.8h17.4v1.6h-17.4zM305.4 188.8h17.4v1.6h-17.4zM305.4 195.8h17.4v1.0h-17.4zM322.2 102.8h17.4v1.6h-17.4zM322.2 104.8h17.4v1.6h-17.4zM322.2 122.8h17.4v2.6h-17.4zM322.2 142.8h17.4v1.6h-17.4zM322.2 164.8h17.4v1.6h-17.4zM322.2 195.8h17.4v1.0h-17.4zM339.0 156.8h17.4v1.6h-17.4zM339.0 186.8h17.4v1.6h-17.4zM339.0 189.8h17.4v3.6h-17.4zM355.8 41.8h17.4v3.6h-17.4zM355.8 49.8h17.4v1.6h-17.4zM355.8 68.8h17.4v2.6h-17.4zM355.8 76.8h17.4v3.6h-17.4zM372.6 85.8h17.4v1.6h-17.4zM372.6 94.8h17.4v2.6h-17.4zM389.4 31.8h17.4v2.6h-17.4zM389.4 46.8h17.4v1.6h-17.4zM389.4 49.8h17.4v1.6h-17.4zM389.4 59.8h17.4v1.6h-17.4zM389.4 89.8h17.4v3.6h-17.4zM406.2 33.8h17.4v3.6h-17.4zM406.2 43.8h17.4v1.6h-17.4zM406.2 68.8h17.4v1.6h-17.4zM406.2 70.8h17.4v2.6h-17.4zM406.2 86.8h17.4v1.6h-17.4zM406.2 88.8h17.4v1.6h-17.4zM406.2 99.8h17.4v1.6h-17.4zM423.0 76.8h17.4v3.6h-17.4zM439.8 30.8h16.8v1.6h-16.8zM439.8 39.8h16.8v2.6h-16.8zM439.8 64.8h16.8v2.6h-16.8zM439.8 96.8h16.8v1.6h-16.8z"/><path fill="#ffaaaa" d="M255.0 112.8h17.4v1.6h-17.4zM255.0 114.8h17.4v1.6h-17.4zM255.0 117.8h17.4v1.6h-17.4zM255.0 119.8h17.4v1.6h-17.4zM255.0 129.8h17.4v2.6h-17.4zM255.0 134.8h17.4v1.6h-17.4zM255.0 163.8h17.4v1.6h-17.4zM255.0 173.8h17.4v1.6h-17.4zM255.0 185.8h17.4v3.6h-17.4zM255.0 189.8h17.4v3.6h-17.4zM271.8 108.8h17.4v1.6h-17.4zM271.8 114.8h17.4v2.6h-17.4zM271.8 122.8h17.4v1.6h-17.4zM271.8 126.8h17.4v2.6h-17.4zM271.8 134.8h17.4v1.6h-17.4zM271.8 139.8h17.4v1.6h-17.4zM271.8 173.8h17.4v1.6h-17.4zM271.8 185.8h17.4v1.6h-17.4zM271.8 193.8h17.4v1.6h-17.4zM288.6 105.8h17.4v1.6h-17.4zM288.6 110.8h17.4v2.6h-17.4zM288.6 139.8h17.4v1.6h-17.4zM288.6 142.8h17.4v2.6h-17.4zM288.6 152.8h17.4v2.6h-17.4zM288.6 162.8h17.4v1.6h-17.4zM288.6 172.8h17.4v5.6h-17.4zM288.6 178.8h17.4v1.6h-17.4zM305.4 114.8h17.4v1.6h-17.4zM305.4 118.8h17.4v2.6h-17.4zM305.4 124.8h17.4v2.6h-17.4zM305.4 131.8h17.4v1.6h-17.4zM305.4 149.8h17.4v1.6h-17.4zM305.4 161.8h17.4v2.6h-17.4zM305.4 167.8h17.4v1.6h-17.4zM305.4 173.8h17.4v2.6h-17.4zM305.4 185.8h17.4v3.6h-17.4zM305.4 192.8h17.4v1.6h-17.4zM305.4 194.8h17.4v1.6h-17.4zM322.2 100.8h17.4v2.6h-17.4zM322.2 110.8h17.4v2.6h-17.4zM322.2 115.8h17.4v1.6h-17.4zM322.2 117.8h17.4v1.6h-17.4zM322.2 119.8h17.4v1.6h-17.4zM322.2 124.8h17.4v1.6h-17.4zM322.2 128.8h17.4v1.6h-17.4zM322.2 145.8h17.4v1.6h-17.4zM322.2 148.8h17.4v1.6h-17.4zM322.2 153.8h17.4v1.6h-17.4zM322.2 158.8h17.4v1.6h-17.4zM322.2 192.8h17.4v1.6h-17.4zM322.2 194.8h17.4v1.6h-17.4zM339.0 100.8h17.4v2.6h-17.4zM339.0 112.8h17.4v4.6h-17.4zM339.0 117.8h17.4v1.6h-17.4zM339.0 122.8h17.4v2.6h-17.4zM339.0 183.8h17.4v2.6h-17.4zM355.8 26.8h17.4v1.6h-17.4zM355.8 28.8h17.4v2.6h-17.4zM355.8 33.8h17.4v1.6h-17.4zM355.8 39.8h17.4v2.6h-17.4zM355.8 53.8h17.4v1.6h-17.4zM355.8 57.8h17.4v1.6h-17.4zM355.8 62.8h17.4v3.6h-17.4zM355.8 74.8h17.4v2.6h-17.4zM355.8 83.8h17.4v1.6h-17.4zM355.8 94.8h17.4v2.6h-17.4zM372.6 37.8h17.4v1.6h-17.4zM372.6 64.8h17.4v2.6h-17.4zM372.6 76.8h17.4v1.6h-17.4zM372.6 80.8h17.4v4.6h-17.4zM389.4 25.8h17.4v2.6h-17.4zM389.4 34.8h17.4v3.6h-17.4zM389.4 38.8h17.4v3.6h-17.4zM389.4 44.8h17.4v2.6h-17.4zM389.4 50.8h17.4v2.6h-17.4zM389.4 56.8h17.4v2.6h-17.4zM389.4 62.8h17.4v2.6h-17.4zM389.4 73.8h17.4v1.6h-17.4zM389.4 76.8h17.4v1.6h-17.4zM389.4 93.8h17.4v2.6h-17.4zM389.4 96.8h17.4v4.6h-17.4zM406.2 46.8h17.4v3.6h-17.4zM406.2 52.8h17.4v3.6h-17.4zM406.2 63.8h17.4v1.6h-17.4zM406.2 75.8h17.4v1.6h-17.4zM406.2 94.8h17.4v2.6h-17.4zM406.2 97.8h17.4v1.6h-17.4zM423.0 36.8h17.4v1.6h-17.4zM423.0 46.8h17.4v1.6h-17.4zM423.0 56.8h17.4v3.6h-17.4zM423.0 62.8h17.4v2.6h-17.4zM423.0 65.8h17.4v1.6h-17.4zM423.0 72.8h17.4v1.6h-17.4zM423.0 91.8h17.4v1.6h-17.4zM439.8 29.8h16.8v1.6h-16.8zM439.8 33.8h16.8v1.6h-16.8zM439.8 35.8h16.8v1.6h-16.8zM439.8 47.8h16.8v2.6h-16.8zM439.8 60.8h16.8v2.6h-16.8zM439.8 67.8h16.8v1.6h-16.8zM439.8 74.8h16.8v2.6h-16.8zM439.8 80.8h16.8v2.6h-16.8zM439.8 83.8h16.8v1.6h-16.8zM439.8 87.8h16.8v2.6h-16.8zM439.8 93.8h16.8v1.6h-16.8zM439.8 95.8h16.8v1.6h-16.8z"/><path fill="#ff6a6a" d="M255.0 135.8h17.4v1.6h-17.4zM305.4 170.8h17.4v2.6h-17.4zM423.0 50.8h17.4v2.6h-17.4z"/><path fill="#ff6060" d="M255.0 136.8h17.4v2.6h-17.4zM305.4 169.8h17.4v1.6h-17.4zM322.2 183.8h17.4v2.6h-17.4zM339.0 151.8h17.4v1.6h-17.4z"/><path fill="#ffd4d4" d="M255.0 138.8h17.4v3.6h-17.4zM271.8 151.8h17.4v1.6h-17.4zM271.8 183.8h17.4v2.6h-17.4zM288.6 101.8h17.4v1.6h-17.4zM288.6 104.8h17.4v1.6h-17.4zM288.6 150.8h17.4v2.6h-17.4zM288.6 182.8h17.4v1.6h-17.4zM288.6 191.8h17.4v1.6h-17.4zM305.4 152.8h17.4v1.6h-17.4zM305.4 156.8h17.4v1.6h-17.4zM322.2 151.8h17.4v1.6h-17.4zM322.2 159.8h17.4v2.6h-17.4zM322.2 178.8h17.4v1.6h-17.4zM322.2 181.8h17.4v1.6h-17.4zM322.2 185.8h17.4v1.6h-17.4zM322.2 187.8h17.4v1.6h-17.4zM339.0 118.8h17.4v1.6h-17.4zM339.0 120.8h17.4v1.6h-17.4zM339.0 141.8h17.4v5.6h-17.4zM339.0 162.8h17.4v1.6h-17.4zM339.0 175.8h17.4v2.6h-17.4zM355.8 97.8h17.4v1.6h-17.4zM372.6 44.8h17.4v4.6h-17.4zM372.6 75.8h17.4v1.6h-17.4zM389.4 53.8h17.4v1.6h-17.4zM389.4 79.8h17.4v1.6h-17.4zM406.2 55.8h17.4v1.6h-17.4zM423.0 35.8h17.4v1.6h-17.4zM423.0 54.8h17.4v1.6h-17.4zM423.0 93.8h17.4v1.6h-17.4zM439.8 36.8h16.8v1.6h-16.8zM439.8 72.8h16.8v2.6h-16.8zM439.8 78.8h16.8v1.6h-16.8z"/><path fill="#ff8080" d="M255.0 152.8h17.4v2.6h-17.4zM288.6 129.8h17.4v1.6h-17.4zM305.4 138.8h17.4v3.6h-17.4zM305.4 144.8h17.4v3.6h-17.4zM305.4 191.8h17.4v1.6h-17.4zM355.8 93.8h17.4v1.6h-17.4zM372.6 52.8h17.4v3.6h-17.4zM389.4 41.8h17.4v1.6h-17.4zM439.8 27.8h16.8v1.6h-16.8zM439.8 97.8h16.8v2.6h-16.8z"/><path fill="#ff8a8a" d="M255.0 154.8h17.4v3.6h-17.4zM255.0 159.8h17.4v2.6h-17.4zM271.8 100.8h17.4v2.6h-17.4zM271.8 120.8h17.4v2.6h-17.4zM305.4 141.8h17.4v1.6h-17.4zM305.4 172.8h17.4v1.6h-17.4zM305.4 178.8h17.4v1.6h-17.4zM305.4 182.8h17.4v1.6h-17.4zM305.4 190.8h17.4v1.6h-17.4zM322.2 107.8h17.4v2.6h-17.4zM322.2 140.8h17.4v1.6h-17.4zM322.2 143.8h17.4v1.6h-17.4zM339.0 125.8h17.4v1.6h-17.4zM355.8 44.8h17.4v2.6h-17.4zM355.8 55.8h17.4v1.6h-17.4zM372.6 87.8h17.4v1.6h-17.4zM389.4 42.8h17.4v1.6h-17.4zM389.4 47.8h17.4v1.6h-17.4zM389.4 60.8h17.4v2.6h-17.4zM406.2 72.8h17.4v2.6h-17.4zM423.0 74.8h17.4v2.6h-17.4zM439.8 38.8h16.8v1.6h-16.8zM439.8 79.8h16.8v1.6h-16.8zM439.8 99.8h16.8v1.6h-16.8z"/><path fill="#ffdfdf" d="M255.0 195.8h17.4v1.0h-17.4zM288.6 124.8h17.4v2.6h-17.4zM305.4 157.8h17.4v1.6h-17.4zM322.2 150.8h17.4v1.6h-17.4zM322.2 169.8h17.4v1.6h-17.4zM322.2 177.8h17.4v1.6h-17.4zM339.0 129.8h17.4v1.6h-17.4zM372.6 38.8h17.4v3.6h-17.4zM372.6 43.8h17.4v1.6h-17.4zM372.6 51.8h17.4v1.6h-17.4zM423.0 31.8h17.4v1.6h-17.4zM423.0 33.8h17.4v1.6h-17.4zM423.0 52.8h17.4v2.6h-17.4zM423.0 94.8h17.4v3.6h-17.4z"/><path fill="#bfbfff" d="M271.8 41.8h17.4v2.6h-17.4zM271.8 83.8h17.4v1.6h-17.4zM271.8 88.8h17.4v1.6h-17.4zM271.8 93.8h17.4v1.6h-17.4zM271.8 95.8h17.4v2.6h-17.4zM271.8 98.8h17.4v1.6h-17.4zM288.6 54.8h17.4v1.6h-17.4zM288.6 82.8h17.4v1.6h-17.4zM288.6 85.8h17.4v1.6h-17.4zM288.6 89.8h17.4v1.6h-17.4zM305.4 30.8h17.4v1.6h-17.4zM305.4 39.8h17.4v1.6h-17.4zM322.2 70.8h17.4v1.6h-17.4zM339.0 82.8h17.4v1.6h-17.4zM355.8 114.8h17.4v1.6h-17.4zM355.8 131.8h17.4v1.6h-17.4zM355.8 135.8h17.4v1.6h-17.4zM355.8 188.8h17.4v2.6h-17.4zM372.6 142.8h17.4v1.6h-17.4zM389.4 109.8h17.4v1.6h-17.4zM406.2 136.8h17.4v1.6h-17.4zM406.2 151.8h17.4v1.6h-17.4zM406.2 153.8h17.4v1.6h-17.4zM406.2 169.8h17.4v1.6h-17.4zM406.2 180.8h17.4v1.6h-17.4zM406.2 182.8h17.4v1.6h-17.4zM406.2 189.8h17.4v1.6h-17.4zM406.2 191.8h17.4v4.6h-17.4zM423.0 159.8h17.4v1.6h-17.4zM423.0 191.8h17.4v4.6h-17.4zM439.8 129.8h16.8v1.6h-16.8zM439.8 140.8h16.8v1.6h-16.8zM439.8 156.8h16.8v1.6h-16.8zM439.8 166.8h16.8v1.6h-16.8zM439.8 170.8h16.8v1.6h-16.8zM439.8 172.8h16.8v1.6h-16.8z"/><path fill="#fff4f4" d="M271.8 190.8h17.4v1.6h-17.4z"/><path fill="#ffffff" d="M271.8 191.8h17.4v1.6h-17.4z"/><path fill="#eaeaff" d="M305.4 43.8h17.4v2.6h-17.4z"/><path fill="#f4f4ff" d="M305.4 45.8h17.4v1.6h-17.4z"/><path fill="#ffeaea" d="M305.4 158.8h17.4v1.6h-17.4zM339.0 138.8h17.4v3.6h-17.4zM355.8 99.8h17.4v1.6h-17.4zM372.6 50.8h17.4v1.6h-17.4zM423.0 32.8h17.4v1.6h-17.4zM423.0 34.8h17.4v1.6h-17.4zM439.8 41.8h16.8v2.6h-16.8z"/><path fill="#ff7575" d="M322.2 165.8h17.4v2.6h-17.4z"/><path fill="#ff5555" d="M339.0 150.8h17.4v1.6h-17.4z"/><rect x="255.0" y="16.8" width="100.8" height="6.8" fill="#f8837a"/><rect x="355.8" y="16.8" width="100.8" height="6.8" fill="#12cbd3"/><path fill="#ff9595" d="M255.0 229.1h17.4v1.6h-17.4zM255.0 241.1h17.4v2.6h-17.4zM255.0 268.1h17.4v3.6h-17.4zM255.0 273.1h17.4v1.6h-17.4zM255.0 277.1h17.4v1.6h-17.4zM255.0 287.1h17.4v1.6h-17.4zM255.0 306.1h17.4v2.6h-17.4zM255.0 311.1h17.4v1.6h-17.4zM271.8 236.1h17.4v3.6h-17.4zM271.8 292.1h17.4v2.6h-17.4zM271.8 296.1h17.4v1.6h-17.4zM271.8 303.1h17.4v1.6h-17.4zM288.6 244.1h17.4v1.6h-17.4zM288.6 261.1h17.4v2.6h-17.4zM288.6 266.1h17.4v4.6h-17.4zM288.6 301.1h17.4v2.6h-17.4zM288.6 306.1h17.4v2.6h-17.4zM305.4 250.1h17.4v3.6h-17.4zM305.4 262.1h17.4v1.6h-17.4zM305.4 273.1h17.4v2.6h-17.4zM305.4 277.1h17.4v2.6h-17.4zM305.4 281.1h17.4v1.6h-17.4zM305.4 291.1h17.4v1.6h-17.4zM322.2 232.1h17.4v2.6h-17.4zM322.2 235.1h17.4v1.6h-17.4zM322.2 238.1h17.4v1.6h-17.4zM322.2 253.1h17.4v1.6h-17.4zM322.2 281.1h17.4v1.6h-17.4zM339.0 303.1h17.4v1.6h-17.4zM355.8 348.1h17.4v1.6h-17.4zM355.8 362.1h17.4v2.6h-17.4zM355.8 390.1h17.4v1.6h-17.4zM372.6 342.1h17.4v4.6h-17.4zM372.6 348.1h17.4v2.6h-17.4zM372.6 373.1h17.4v2.6h-17.4zM372.6 386.1h17.4v6.6h-17.4zM389.4 313.1h17.4v2.6h-17.4zM389.4 328.1h17.4v1.6h-17.4zM389.4 332.1h17.4v1.6h-17.4zM406.2 313.1h17.4v2.6h-17.4zM406.2 356.1h17.4v1.6h-17.4zM406.2 372.1h17.4v1.6h-17.4zM406.2 376.1h17.4v1.6h-17.4zM406.2 380.1h17.4v1.6h-17.4zM423.0 341.1h17.4v1.6h-17.4zM423.0 352.1h17.4v1.6h-17.4zM423.0 355.1h17.4v1.6h-17.4zM423.0 357.1h17.4v1.6h-17.4zM423.0 363.1h17.4v3.6h-17.4zM423.0 368.1h17.4v4.6h-17.4zM423.0 399.1h17.4v1.0h-17.4zM439.8 349.1h16.8v3.6h-16.8zM439.8 356.1h16.8v4.6h-16.8z"/><path fill="#ff9f9f" d="M255.0 230.1h17.4v2.6h-17.4zM255.0 274.1h17.4v1.6h-17.4zM255.0 278.1h17.4v1.6h-17.4zM255.0 288.1h17.4v2.6h-17.4zM255.0 293.1h17.4v1.6h-17.4zM255.0 303.1h17.4v3.6h-17.4zM255.0 310.1h17.4v1.6h-17.4zM255.0 312.1h17.4v1.6h-17.4zM271.8 235.1h17.4v1.6h-17.4zM271.8 255.1h17.4v2.6h-17.4zM271.8 264.1h17.4v1.6h-17.4zM271.8 282.1h17.4v1.6h-17.4zM271.8 297.1h17.4v1.6h-17.4zM271.8 301.1h17.4v2.6h-17.4zM271.8 310.1h17.4v2.6h-17.4zM288.6 243.1h17.4v1.6h-17.4zM288.6 245.1h17.4v1.6h-17.4zM288.6 253.1h17.4v1.6h-17.4zM288.6 257.1h17.4v4.6h-17.4zM288.6 263.1h17.4v1.6h-17.4zM288.6 303.1h17.4v3.6h-17.4zM305.4 253.1h17.4v1.6h-17.4zM305.4 260.1h17.4v2.6h-17.4zM305.4 268.1h17.4v5.6h-17.4zM305.4 280.1h17.4v1.6h-17.4zM305.4 283.1h17.4v2.6h-17.4zM305.4 290.1h17.4v1.6h-17.4zM305.4 295.1h17.4v1.6h-17.4zM322.2 236.1h17.4v2.6h-17.4zM322.2 255.1h17.4v2.6h-17.4zM322.2 264.1h17.4v1.6h-17.4zM322.2 267.1h17.4v1.6h-17.4zM322.2 270.1h17.4v1.6h-17.4zM322.2 273.1h17.4v2.6h-17.4zM322.2 280.1h17.4v1.6h-17.4zM322.2 293.1h17.4v1.6h-17.4zM322.2 301.1h17.4v2.6h-17.4zM339.0 263.1h17.4v2.6h-17.4zM339.0 266.1h17.4v1.6h-17.4zM355.8 315.1h17.4v2.6h-17.4zM355.8 318.1h17.4v4.6h-17.4zM355.8 323.1h17.4v1.6h-17.4zM355.8 327.1h17.4v1.6h-17.4zM355.8 333.1h17.4v1.6h-17.4zM355.8 349.1h17.4v1.6h-17.4zM355.8 376.1h17.4v1.6h-17.4zM355.8 398.1h17.4v1.6h-17.4zM372.6 322.1h17.4v3.6h-17.4zM372.6 326.1h17.4v2.6h-17.4zM372.6 339.1h17.4v3.6h-17.4zM372.6 346.1h17.4v1.6h-17.4zM372.6 350.1h17.4v2.6h-17.4zM372.6 366.1h17.4v1.6h-17.4zM389.4 322.1h17.4v4.6h-17.4zM389.4 329.1h17.4v1.6h-17.4zM389.4 340.1h17.4v2.6h-17.4zM389.4 364.1h17.4v3.6h-17.4zM406.2 315.1h17.4v2.6h-17.4zM406.2 331.1h17.4v1.6h-17.4zM406.2 333.1h17.4v1.6h-17.4zM406.2 354.1h17.4v2.6h-17.4zM406.2 357.1h17.4v1.6h-17.4zM406.2 363.1h17.4v1.6h-17.4zM406.2 367.1h17.4v5.6h-17.4zM406.2 377.1h17.4v3.6h-17.4zM406.2 387.1h17.4v1.6h-17.4zM423.0 323.1h17.4v2.6h-17.4zM423.0 354.1h17.4v1.6h-17.4zM423.0 362.1h17.4v1.6h-17.4zM423.0 366.1h17.4v1.6h-17.4zM423.0 372.1h17.4v2.6h-17.4zM423.0 388.1h17.4v4.6h-17.4zM423.0 393.1h17.4v1.6h-17.4zM439.8 316.1h16.8v1.6h-16.8zM439.8 330.1h16.8v2.6h-16.8zM439.8 348.1h16.8v1.6h-16.8zM439.8 354.1h16.8v2.6h-16.8z"/><path fill="#ff8080" d="M255.0 232.1h17.4v1.6h-17.4zM255.0 246.1h17.4v2.6h-17.4zM255.0 249.1h17.4v4.6h-17.4zM255.0 308.1h17.4v2.6h-17.4zM271.8 295.1h17.4v1.6h-17.4zM305.4 275.1h17.4v2.6h-17.4zM389.4 342.1h17.4v1.6h-17.4zM389.4 393.1h17.4v1.6h-17.4zM406.2 334.1h17.4v1.6h-17.4z"/><path fill="#ff8a8a" d="M255.0 233.1h17.4v1.6h-17.4zM255.0 243.1h17.4v3.6h-17.4zM255.0 290.1h17.4v3.6h-17.4zM271.8 232.1h17.4v2.6h-17.4zM271.8 287.1h17.4v3.6h-17.4zM271.8 298.1h17.4v3.6h-17.4zM271.8 312.1h17.4v1.6h-17.4zM288.6 255.1h17.4v2.6h-17.4zM288.6 265.1h17.4v1.6h-17.4zM288.6 270.1h17.4v1.6h-17.4zM305.4 279.1h17.4v1.6h-17.4zM322.2 234.1h17.4v1.6h-17.4zM322.2 254.1h17.4v1.6h-17.4zM322.2 257.1h17.4v2.6h-17.4zM322.2 282.1h17.4v1.6h-17.4zM322.2 304.1h17.4v2.6h-17.4zM339.0 285.1h17.4v2.6h-17.4zM355.8 353.1h17.4v1.6h-17.4zM355.8 389.1h17.4v1.6h-17.4zM355.8 391.1h17.4v1.6h-17.4zM372.6 384.1h17.4v2.6h-17.4zM389.4 330.1h17.4v2.6h-17.4zM389.4 343.1h17.4v2.6h-17.4zM389.4 392.1h17.4v1.6h-17.4zM406.2 360.1h17.4v2.6h-17.4zM423.0 339.1h17.4v2.6h-17.4zM423.0 367.1h17.4v1.6h-17.4zM439.8 318.1h16.8v4.6h-16.8zM439.8 386.1h16.8v1.6h-16.8z"/><path fill="#ffb5b5" d="M255.0 234.1h17.4v1.6h-17.4zM255.0 236.1h17.4v2.6h-17.4zM255.0 239.1h17.4v2.6h-17.4zM255.0 265.1h17.4v2.6h-17.4zM255.0 275.1h17.4v1.6h-17.4zM255.0 279.1h17.4v1.6h-17.4zM255.0 281.1h17.4v1.6h-17.4zM255.0 283.1h17.4v4.6h-17.4zM255.0 299.1h17.4v3.6h-17.4zM271.8 243.1h17.4v4.6h-17.4zM271.8 252.1h17.4v1.6h-17.4zM271.8 276.1h17.4v2.6h-17.4zM271.8 280.1h17.4v2.6h-17.4zM271.8 306.1h17.4v2.6h-17.4zM288.6 234.1h17.4v2.6h-17.4zM288.6 240.1h17.4v1.6h-17.4zM288.6 283.1h17.4v2.6h-17.4zM288.6 298.1h17.4v3.6h-17.4zM288.6 308.1h17.4v1.6h-17.4zM305.4 238.1h17.4v1.6h-17.4zM305.4 246.1h17.4v1.6h-17.4zM305.4 285.1h17.4v3.6h-17.4zM305.4 289.1h17.4v1.6h-17.4zM322.2 230.1h17.4v2.6h-17.4zM322.2 248.1h17.4v1.6h-17.4zM322.2 261.1h17.4v1.6h-17.4zM322.2 263.1h17.4v1.6h-17.4zM322.2 272.1h17.4v1.6h-17.4zM322.2 277.1h17.4v1.6h-17.4zM322.2 286.1h17.4v3.6h-17.4zM322.2 294.1h17.4v1.6h-17.4zM322.2 299.1h17.4v1.6h-17.4zM322.2 310.1h17.4v2.6h-17.4zM339.0 233.1h17.4v3.6h-17.4zM339.0 237.1h17.4v1.6h-17.4zM339.0 243.1h17.4v2.6h-17.4zM339.0 246.1h17.4v1.6h-17.4zM339.0 254.1h17.4v3.6h-17.4zM339.0 268.1h17.4v1.6h-17.4zM339.0 273.1h17.4v1.6h-17.4zM339.0 276.1h17.4v1.6h-17.4zM339.0 279.1h17.4v1.6h-17.4zM339.0 281.1h17.4v1.6h-17.4zM339.0 284.1h17.4v1.6h-17.4zM339.0 295.1h17.4v1.6h-17.4zM339.0 298.1h17.4v1.6h-17.4zM339.0 300.1h17.4v1.6h-17.4zM339.0 302.1h17.4v1.6h-17.4zM339.0 304.1h17.4v2.6h-17.4zM339.0 307.1h17.4v2.6h-17.4zM339.0 311.1h17.4v1.6h-17.4zM355.8 314.1h17.4v1.6h-17.4zM355.8 324.1h17.4v1.6h-17.4zM355.8 329.1h17.4v2.6h-17.4zM355.8 335.1h17.4v2.6h-17.4zM355.8 338.1h17.4v1.6h-17.4zM355.8 342.1h17.4v2.6h-17.4zM355.8 355.1h17.4v2.6h-17.4zM355.8 367.1h17.4v2.6h-17.4zM355.8 370.1h17.4v6.6h-17.4zM355.8 379.1h17.4v1.6h-17.4zM355.8 392.1h17.4v1.6h-17.4zM372.6 313.1h17.4v2.6h-17.4zM372.6 316.1h17.4v1.6h-17.4zM372.6 321.1h17.4v1.6h-17.4zM372.6 325.1h17.4v1.6h-17.4zM372.6 328.1h17.4v1.6h-17.4zM372.6 331.1h17.4v2.6h-17.4zM372.6 367.1h17.4v1.6h-17.4zM372.6 371.1h17.4v1.6h-17.4zM372.6 377.1h17.4v1.6h-17.4zM372.6 380.1h17.4v2.6h-17.4zM372.6 383.1h17.4v1.6h-17.4zM372.6 394.1h17.4v1.6h-17.4zM372.6 397.1h17.4v2.6h-17.4zM389.4 315.1h17.4v1.6h-17.4zM389.4 334.1h17.4v2.6h-17.4zM389.4 345.1h17.4v1.6h-17.4zM389.4 349.1h17.4v2.6h-17.4zM389.4 362.1h17.4v1.6h-17.4zM389.4 371.1h17.4v2.6h-17.4zM389.4 374.1h17.4v4.6h-17.4zM389.4 380.1h17.4v2.6h-17.4zM389.4 383.1h17.4v3.6h-17.4zM389.4 391.1h17.4v1.6h-17.4zM389.4 398.1h17.4v1.6h-17.4zM406.2 318.1h17.4v2.6h-17.4zM406.2 325.1h17.4v1.6h-17.4zM406.2 328.1h17.4v1.6h-17.4zM406.2 344.1h17.4v2.6h-17.4zM406.2 352.1h17.4v1.6h-17.4zM406.2 359.1h17.4v1.6h-17.4zM406.2 388.1h17.4v1.6h-17.4zM406.2 397.1h17.4v3.0h-17.4zM423.0 320.1h17.4v1.6h-17.4zM423.0 325.1h17.4v1.6h-17.4zM423.0 327.1h17.4v1.6h-17.4zM423.0 334.1h17.4v2.6h-17.4zM423.0 345.1h17.4v2.6h-17.4zM423.0 349.1h17.4v3.6h-17.4zM423.0 376.1h17.4v1.6h-17.4zM423.0 380.1h17.4v1.6h-17.4zM423.0 387.1h17.4v1.6h-17.4zM439.8 317.1h16.8v1.6h-16.8zM439.8 325.1h16.8v1.6h-16.8zM439.8 334.1h16.8v5.6h-16.8zM439.8 352.1h16.8v1.6h-16.8zM439.8 360.1h16.8v1.6h-16.8zM439.8 376.1h16.8v1.6h-16.8zM439.8 378.1h16.8v1.6h-16.8zM439.8 380.1h16.8v1.6h-16.8zM439.8 392.1h16.8v1.6h-16.8zM439.8 394.1h16.8v1.6h-16.8zM439.8 396.1h16.8v1.6h-16.8zM439.8 399.1h16.8v1.0h-16.8z"/><path fill="#ffaaaa" d="M255.0 235.1h17.4v1.6h-17.4zM255.0 267.1h17.4v1.6h-17.4zM255.0 271.1h17.4v2.6h-17.4zM255.0 276.1h17.4v1.6h-17.4zM255.0 280.1h17.4v1.6h-17.4zM255.0 298.1h17.4v1.6h-17.4zM271.8 234.1h17.4v1.6h-17.4zM271.8 250.1h17.4v2.6h-17.4zM271.8 257.1h17.4v3.6h-17.4zM271.8 263.1h17.4v1.6h-17.4zM271.8 275.1h17.4v1.6h-17.4zM271.8 279.1h17.4v1.6h-17.4zM271.8 283.1h17.4v4.6h-17.4zM271.8 308.1h17.4v1.6h-17.4zM288.6 236.1h17.4v3.6h-17.4zM288.6 254.1h17.4v1.6h-17.4zM288.6 264.1h17.4v1.6h-17.4zM305.4 248.1h17.4v2.6h-17.4zM305.4 254.1h17.4v1.6h-17.4zM305.4 257.1h17.4v3.6h-17.4zM305.4 309.1h17.4v4.6h-17.4zM322.2 246.1h17.4v2.6h-17.4zM322.2 249.1h17.4v1.6h-17.4zM322.2 259.1h17.4v1.6h-17.4zM322.2 265.1h17.4v2.6h-17.4zM322.2 268.1h17.4v2.6h-17.4zM322.2 271.1h17.4v1.6h-17.4zM322.2 279.1h17.4v1.6h-17.4zM322.2 283.1h17.4v3.6h-17.4zM322.2 289.1h17.4v4.6h-17.4zM322.2 295.1h17.4v4.6h-17.4zM322.2 300.1h17.4v1.6h-17.4zM339.0 236.1h17.4v1.6h-17.4zM339.0 260.1h17.4v3.6h-17.4zM339.0 265.1h17.4v1.6h-17.4zM339.0 267.1h17.4v1.6h-17.4zM339.0 274.1h17.4v2.6h-17.4zM339.0 277.1h17.4v2.6h-17.4zM339.0 280.1h17.4v1.6h-17.4zM339.0 282.1h17.4v2.6h-17.4zM339.0 290.1h17.4v2.6h-17.4zM339.0 299.1h17.4v1.6h-17.4zM339.0 301.1h17.4v1.6h-17.4zM339.0 309.1h17.4v1.6h-17.4zM339.0 312.1h17.4v1.6h-17.4zM355.8 313.1h17.4v1.6h-17.4zM355.8 322.1h17.4v1.6h-17.4zM355.8 325.1h17.4v2.6h-17.4zM355.8 328.1h17.4v1.6h-17.4zM355.8 334.1h17.4v1.6h-17.4zM355.8 337.1h17.4v1.6h-17.4zM355.8 344.1h17.4v3.6h-17.4zM355.8 350.1h17.4v3.6h-17.4zM355.8 369.1h17.4v1.6h-17.4zM355.8 377.1h17.4v2.6h-17.4zM355.8 380.1h17.4v1.6h-17.4zM355.8 387.1h17.4v2.6h-17.4zM355.8 393.1h17.4v1.6h-17.4zM355.8 397.1h17.4v1.6h-17.4zM372.6 317.1h17.4v3.6h-17.4zM372.6 329.1h17.4v2.6h-17.4zM372.6 333.1h17.4v1.6h-17.4zM372.6 364.1h17.4v2.6h-17.4zM372.6 370.1h17.4v1.6h-17.4zM372.6 378.1h17.4v2.6h-17.4zM372.6 382.1h17.4v1.6h-17.4zM372.6 392.1h17.4v2.6h-17.4zM372.6 399.1h17.4v1.0h-17.4zM389.4 316.1h17.4v1.6h-17.4zM389.4 326.1h17.4v2.6h-17.4zM389.4 333.1h17.4v1.6h-17.4zM389.4 339.1h17.4v1.6h-17.4zM389.4 351.1h17.4v1.6h-17.4zM389.4 353.1h17.4v1.6h-17.4zM389.4 363.1h17.4v1.6h-17.4zM389.4 367.1h17.4v4.6h-17.4zM389.4 378.1h17.4v2.6h-17.4zM389.4 382.1h17.4v1.6h-17.4zM389.4 386.1h17.4v2.6h-17.4zM389.4 399.1h17.4v1.0h-17.4zM406.2 320.1h17.4v2.6h-17.4zM406.2 332.1h17.4v1.6h-17.4zM406.2 358.1h17.4v1.6h-17.4zM406.2 362.1h17.4v1.6h-17.4zM406.2 364.1h17.4v3.6h-17.4zM406.2 373.1h17.4v3.6h-17.4zM406.2 384.1h17.4v2.6h-17.4zM423.0 321.1h17.4v2.6h-17.4zM423.0 326.1h17.4v1.6h-17.4zM423.0 342.1h17.4v3.6h-17.4zM423.0 348.1h17.4v1.6h-17.4zM423.0 353.1h17.4v1.6h-17.4zM423.0 356.1h17.4v1.6h-17.4zM423.0 374.1h17.4v1.6h-17.4zM423.0 378.1h17.4v1.6h-17.4zM423.0 392.1h17.4v1.6h-17.4zM423.0 397.1h17.4v2.6h-17.4zM439.8 315.1h16.8v1.6h-16.8zM439.8 326.1h16.8v4.6h-16.8zM439.8 332.1h16.8v2.6h-16.8zM439.8 345.1h16.8v2.6h-16.8zM439.8 353.1h16.8v1.6h-16.8zM439.8 361.1h16.8v1.6h-16.8zM439.8 377.1h16.8v1.6h-16.8zM439.8 384.1h16.8v2.6h-16.8zM439.8 393.1h16.8v1.6h-16.8zM439.8 397.1h16.8v2.6h-16.8z"/><path fill="#ffdfdf" d="M255.0 238.1h17.4v1.6h-17.4zM288.6 275.1h17.4v2.6h-17.4zM288.6 291.1h17.4v1.6h-17.4zM288.6 294.1h17.4v1.6h-17.4zM305.4 241.1h17.4v1.6h-17.4zM305.4 304.1h17.4v1.6h-17.4zM339.0 251.1h17.4v2.6h-17.4zM406.2 347.1h17.4v1.6h-17.4zM406.2 349.1h17.4v3.6h-17.4zM439.8 363.1h16.8v1.6h-16.8zM439.8 367.1h16.8v3.6h-16.8zM439.8 371.1h16.8v1.6h-16.8z"/><path fill="#ff7575" d="M255.0 248.1h17.4v1.6h-17.4zM288.6 242.1h17.4v1.6h-17.4zM288.6 271.1h17.4v1.6h-17.4zM288.6 296.1h17.4v2.6h-17.4zM339.0 229.1h17.4v2.6h-17.4zM339.0 247.1h17.4v1.6h-17.4zM406.2 335.1h17.4v1.6h-17.4zM423.0 317.1h17.4v1.6h-17.4zM423.0 358.1h17.4v2.6h-17.4zM423.0 375.1h17.4v1.6h-17.4z"/><path fill="#ffbfbf" d="M255.0 253.1h17.4v2.6h-17.4zM255.0 259.1h17.4v2.6h-17.4zM255.0 264.1h17.4v1.6h-17.4zM255.0 282.1h17.4v1.6h-17.4zM255.0 296.1h17.4v1.6h-17.4zM255.0 302.1h17.4v1.6h-17.4zM271.8 241.1h17.4v2.6h-17.4zM271.8 248.1h17.4v1.6h-17.4zM271.8 253.1h17.4v2.6h-17.4zM271.8 262.1h17.4v1.6h-17.4zM271.8 267.1h17.4v1.6h-17.4zM271.8 273.1h17.4v1.6h-17.4zM271.8 278.1h17.4v1.6h-17.4zM271.8 290.1h17.4v2.6h-17.4zM271.8 294.1h17.4v1.6h-17.4zM271.8 304.1h17.4v2.6h-17.4zM271.8 309.1h17.4v1.6h-17.4zM288.6 229.1h17.4v3.6h-17.4zM288.6 239.1h17.4v1.6h-17.4zM288.6 274.1h17.4v1.6h-17.4zM288.6 282.1h17.4v1.6h-17.4zM288.6 286.1h17.4v3.6h-17.4zM288.6 292.1h17.4v2.6h-17.4zM288.6 310.1h17.4v2.6h-17.4zM305.4 237.1h17.4v1.6h-17.4zM305.4 266.1h17.4v2.6h-17.4zM305.4 288.1h17.4v1.6h-17.4zM305.4 292.1h17.4v1.6h-17.4zM305.4 299.1h17.4v3.6h-17.4zM305.4 306.1h17.4v3.6h-17.4zM322.2 229.1h17.4v1.6h-17.4zM322.2 240.1h17.4v1.6h-17.4zM322.2 243.1h17.4v2.6h-17.4zM322.2 250.1h17.4v3.6h-17.4zM322.2 260.1h17.4v1.6h-17.4zM322.2 262.1h17.4v1.6h-17.4zM322.2 275.1h17.4v2.6h-17.4zM322.2 278.1h17.4v1.6h-17.4zM322.2 309.1h17.4v1.6h-17.4zM322.2 312.1h17.4v1.6h-17.4zM339.0 232.1h17.4v1.6h-17.4zM339.0 238.1h17.4v3.6h-17.4zM339.0 245.1h17.4v1.6h-17.4zM339.0 248.1h17.4v1.6h-17.4zM339.0 253.1h17.4v1.6h-17.4zM339.0 259.1h17.4v1.6h-17.4zM339.0 269.1h17.4v2.6h-17.4zM339.0 289.1h17.4v1.6h-17.4zM339.0 306.1h17.4v1.6h-17.4zM339.0 310.1h17.4v1.6h-17.4zM355.8 317.1h17.4v1.6h-17.4zM355.8 332.1h17.4v1.6h-17.4zM355.8 339.1h17.4v2.6h-17.4zM355.8 354.1h17.4v1.6h-17.4zM355.8 357.1h17.4v1.6h-17.4zM355.8 365.1h17.4v2.6h-17.4zM372.6 315.1h17.4v1.6h-17.4zM372.6 335.1h17.4v1.6h-17.4zM372.6 362.1h17.4v1.6h-17.4zM372.6 368.1h17.4v2.6h-17.4zM372.6 376.1h17.4v1.6h-17.4zM372.6 395.1h17.4v2.6h-17.4zM389.4 337.1h17.4v2.6h-17.4zM389.4 346.1h17.4v1.6h-17.4zM389.4 348.1h17.4v1.6h-17.4zM389.4 352.1h17.4v1.6h-17.4zM389.4 354.1h17.4v2.6h-17.4zM389.4 373.1h17.4v1.6h-17.4zM389.4 388.1h17.4v3.6h-17.4zM389.4 394.1h17.4v2.6h-17.4zM389.4 397.1h17.4v1.6h-17.4zM406.2 317.1h17.4v1.6h-17.4zM406.2 323.1h17.4v1.6h-17.4zM406.2 329.1h17.4v2.6h-17.4zM406.2 336.1h17.4v1.6h-17.4zM406.2 339.1h17.4v5.6h-17.4zM406.2 346.1h17.4v1.6h-17.4zM406.2 353.1h17.4v1.6h-17.4zM406.2 381.1h17.4v3.6h-17.4zM406.2 386.1h17.4v1.6h-17.4zM423.0 315.1h17.4v1.6h-17.4zM423.0 318.1h17.4v2.6h-17.4zM423.0 328.1h17.4v3.6h-17.4zM423.0 347.1h17.4v1.6h-17.4zM423.0 360.1h17.4v2.6h-17.4zM423.0 377.1h17.4v1.6h-17.4zM423.0 379.1h17.4v1.6h-17.4zM423.0 381.1h17.4v2.6h-17.4zM423.0 386.1h17.4v1.6h-17.4zM439.8 313.1h16.8v1.6h-16.8zM439.8 339.1h16.8v3.6h-16.8zM439.8 347.1h16.8v1.6h-16.8zM439.8 362.1h16.8v1.6h-16.8zM439.8 375.1h16.8v1.6h-16.8zM439.8 379.1h16.8v1.6h-16.8zM439.8 388.1h16.8v1.6h-16.8zM439.8 395.1h16.8v1.6h-16.8z"/><path fill="#ffcaca" d="M255.0 255.1h17.4v2.6h-17.4zM255.0 258.1h17.4v1.6h-17.4zM255.0 261.1h17.4v3.6h-17.4zM255.0 295.1h17.4v1.6h-17.4zM255.0 297.1h17.4v1.6h-17.4zM271.8 230.1h17.4v2.6h-17.4zM271.8 247.1h17.4v1.6h-17.4zM271.8 260.1h17.4v2.6h-17.4zM271.8 265.1h17.4v2.6h-17.4zM288.6 232.1h17.4v2.6h-17.4zM288.6 248.1h17.4v1.6h-17.4zM288.6 250.1h17.4v1.6h-17.4zM288.6 273.1h17.4v1.6h-17.4zM288.6 280.1h17.4v2.6h-17.4zM288.6 285.1h17.4v1.6h-17.4zM288.6 289.1h17.4v1.6h-17.4zM288.6 295.1h17.4v1.6h-17.4zM288.6 312.1h17.4v1.6h-17.4zM305.4 236.1h17.4v1.6h-17.4zM305.4 239.1h17.4v2.6h-17.4zM305.4 243.1h17.4v3.6h-17.4zM305.4 247.1h17.4v1.6h-17.4zM305.4 263.1h17.4v3.6h-17.4zM305.4 282.1h17.4v1.6h-17.4zM305.4 293.1h17.4v1.6h-17.4zM305.4 298.1h17.4v1.6h-17.4zM305.4 302.1h17.4v2.6h-17.4zM322.2 239.1h17.4v1.6h-17.4zM322.2 241.1h17.4v2.6h-17.4zM322.2 245.1h17.4v1.6h-17.4zM322.2 303.1h17.4v1.6h-17.4zM339.0 242.1h17.4v1.6h-17.4zM339.0 249.1h17.4v1.6h-17.4zM339.0 257.1h17.4v2.6h-17.4zM339.0 287.1h17.4v2.6h-17.4zM339.0 293.1h17.4v2.6h-17.4zM339.0 296.1h17.4v2.6h-17.4zM355.8 331.1h17.4v1.6h-17.4zM355.8 341.1h17.4v1.6h-17.4zM355.8 358.1h17.4v2.6h-17.4zM355.8 364.1h17.4v1.6h-17.4zM355.8 384.1h17.4v2.6h-17.4zM355.8 399.1h17.4v1.0h-17.4zM372.6 320.1h17.4v1.6h-17.4zM372.6 347.1h17.4v1.6h-17.4zM372.6 352.1h17.4v8.6h-17.4zM372.6 363.1h17.4v1.6h-17.4zM372.6 372.1h17.4v1.6h-17.4zM389.4 318.1h17.4v4.6h-17.4zM389.4 336.1h17.4v1.6h-17.4zM389.4 347.1h17.4v1.6h-17.4zM389.4 396.1h17.4v1.6h-17.4zM406.2 322.1h17.4v1.6h-17.4zM406.2 324.1h17.4v1.6h-17.4zM406.2 326.1h17.4v2.6h-17.4zM406.2 337.1h17.4v1.6h-17.4zM423.0 313.1h17.4v2.6h-17.4zM423.0 316.1h17.4v1.6h-17.4zM423.0 331.1h17.4v1.6h-17.4zM423.0 336.1h17.4v1.6h-17.4zM423.0 338.1h17.4v1.6h-17.4zM423.0 383.1h17.4v3.6h-17.4zM423.0 394.1h17.4v1.6h-17.4zM423.0 396.1h17.4v1.6h-17.4zM439.8 314.1h16.8v1.6h-16.8zM439.8 322.1h16.8v3.6h-16.8zM439.8 372.1h16.8v3.6h-16.8zM439.8 387.1h16.8v1.6h-16.8zM439.8 389.1h16.8v3.6h-16.8z"/><path fill="#ffd4d4" d="M255.0 257.1h17.4v1.6h-17.4zM271.8 229.1h17.4v1.6h-17.4zM271.8 249.1h17.4v1.6h-17.4zM271.8 274.1h17.4v1.6h-17.4zM288.6 246.1h17.4v1.6h-17.4zM288.6 249.1h17.4v1.6h-17.4zM288.6 251.1h17.4v2.6h-17.4zM288.6 277.1h17.4v2.6h-17.4zM288.6 290.1h17.4v1.6h-17.4zM288.6 309.1h17.4v1.6h-17.4zM305.4 229.1h17.4v3.6h-17.4zM305.4 234.1h17.4v2.6h-17.4zM305.4 242.1h17.4v1.6h-17.4zM305.4 294.1h17.4v1.6h-17.4zM305.4 305.1h17.4v1.6h-17.4zM322.2 306.1h17.4v3.6h-17.4zM339.0 241.1h17.4v1.6h-17.4zM339.0 250.1h17.4v1.6h-17.4zM339.0 271.1h17.4v2.6h-17.4zM339.0 292.1h17.4v1.6h-17.4zM372.6 334.1h17.4v1.6h-17.4zM372.6 375.1h17.4v1.6h-17.4zM389.4 317.1h17.4v1.6h-17.4zM389.4 356.1h17.4v4.6h-17.4zM406.2 338.1h17.4v1.6h-17.4zM406.2 348.1h17.4v1.6h-17.4zM406.2 389.1h17.4v8.6h-17.4zM423.0 332.1h17.4v2.6h-17.4zM423.0 337.1h17.4v1.6h-17.4zM423.0 395.1h17.4v1.6h-17.4zM439.8 364.1h16.8v3.6h-16.8zM439.8 370.1h16.8v1.6h-16.8z"/><path fill="#ff5555" d="M255.0 294.1h17.4v1.6h-17.4zM355.8 394.1h17.4v2.6h-17.4z"/><path fill="#b5b5ff" d="M255.0 313.1h17.4v2.6h-17.4zM255.0 317.1h17.4v2.6h-17.4zM255.0 322.1h17.4v1.6h-17.4zM255.0 325.1h17.4v1.6h-17.4zM255.0 334.1h17.4v1.6h-17.4zM255.0 336.1h17.4v1.6h-17.4zM255.0 338.1h17.4v6.6h-17.4zM255.0 345.1h17.4v1.6h-17.4zM255.0 347.1h17.4v4.6h-17.4zM255.0 356.1h17.4v2.6h-17.4zM255.0 360.1h17.4v3.6h-17.4zM255.0 365.1h17.4v2.6h-17.4zM255.0 372.1h17.4v1.6h-17.4zM255.0 375.1h17.4v1.6h-17.4zM255.0 381.1h17.4v1.6h-17.4zM255.0 383.1h17.4v1.6h-17.4zM255.0 385.1h17.4v1.6h-17.4zM255.0 387.1h17.4v2.6h-17.4zM255.0 394.1h17.4v3.6h-17.4zM255.0 399.1h17.4v1.0h-17.4zM271.8 313.1h17.4v1.6h-17.4zM271.8 315.1h17.4v1.6h-17.4zM271.8 318.1h17.4v1.6h-17.4zM271.8 320.1h17.4v1.6h-17.4zM271.8 322.1h17.4v8.6h-17.4zM271.8 332.1h17.4v6.6h-17.4zM271.8 344.1h17.4v2.6h-17.4zM271.8 348.1h17.4v1.6h-17.4zM271.8 350.1h17.4v5.6h-17.4zM271.8 357.1h17.4v4.6h-17.4zM271.8 363.1h17.4v3.6h-17.4zM271.8 371.1h17.4v1.6h-17.4zM271.8 376.1h17.4v2.6h-17.4zM271.8 379.1h17.4v3.6h-17.4zM271.8 383.1h17.4v1.6h-17.4zM271.8 385.1h17.4v2.6h-17.4zM271.8 388.1h17.4v4.6h-17.4zM271.8 393.1h17.4v2.6h-17.4zM271.8 397.1h17.4v3.0h-17.4zM288.6 317.1h17.4v1.6h-17.4zM288.6 320.1h17.4v3.6h-17.4zM288.6 327.1h17.4v1.6h-17.4zM288.6 329.1h17.4v1.6h-17.4zM288.6 331.1h17.4v2.6h-17.4zM288.6 350.1h17.4v2.6h-17.4zM288.6 355.1h17.4v2.6h-17.4zM288.6 361.1h17.4v1.6h-17.4zM288.6 370.1h17.4v2.6h-17.4zM288.6 374.1h17.4v2.6h-17.4zM288.6 377.1h17.4v2.6h-17.4zM288.6 381.1h17.4v1.6h-17.4zM288.6 384.1h17.4v1.6h-17.4zM288.6 386.1h17.4v6.6h-17.4zM288.6 393.1h17.4v4.6h-17.4zM305.4 313.1h17.4v1.6h-17.4zM305.4 315.1h17.4v3.6h-17.4zM305.4 320.1h17.4v1.6h-17.4zM305.4 322.1h17.4v2.6h-17.4zM305.4 328.1h17.4v2.6h-17.4zM305.4 332.1h17.4v2.6h-17.4zM305.4 336.1h17.4v1.6h-17.4zM305.4 338.1h17.4v5.6h-17.4zM305.4 344.1h17.4v1.6h-17.4zM305.4 346.1h17.4v3.6h-17.4zM305.4 353.1h17.4v1.6h-17.4zM305.4 357.1h17.4v5.6h-17.4zM305.4 365.1h17.4v2.6h-17.4zM305.4 370.1h17.4v3.6h-17.4zM305.4 376.1h17.4v1.6h-17.4zM305.4 378.1h17.4v2.6h-17.4zM305.4 381.1h17.4v1.6h-17.4zM305.4 383.1h17.4v1.6h-17.4zM305.4 389.1h17.4v3.6h-17.4zM305.4 393.1h17.4v4.6h-17.4zM305.4 398.1h17.4v1.6h-17.4zM322.2 315.1h17.4v1.6h-17.4zM322.2 318.1h17.4v3.6h-17.4zM322.2 324.1h17.4v2.6h-17.4zM322.2 333.1h17.4v7.6h-17.4zM322.2 342.1h17.4v3.6h-17.4zM322.2 348.1h17.4v1.6h-17.4zM322.2 350.1h17.4v4.6h-17.4zM322.2 360.1h17.4v3.6h-17.4zM322.2 364.1h17.4v3.6h-17.4zM322.2 370.1h17.4v1.6h-17.4zM322.2 374.1h17.4v2.6h-17.4zM322.2 378.1h17.4v3.6h-17.4zM322.2 383.1h17.4v1.6h-17.4zM322.2 385.1h17.4v1.6h-17.4zM322.2 387.1h17.4v1.6h-17.4zM322.2 390.1h17.4v1.6h-17.4zM322.2 393.1h17.4v1.6h-17.4zM322.2 395.1h17.4v1.6h-17.4zM322.2 398.1h17.4v2.0h-17.4zM339.0 313.1h17.4v7.6h-17.4zM339.0 325.1h17.4v1.6h-17.4zM339.0 330.1h17.4v3.6h-17.4zM339.0 335.1h17.4v4.6h-17.4zM339.0 340.1h17.4v5.6h-17.4zM339.0 347.1h17.4v3.6h-17.4zM339.0 351.1h17.4v2.6h-17.4zM339.0 356.1h17.4v1.6h-17.4zM339.0 358.1h17.4v1.6h-17.4zM339.0 364.1h17.4v3.6h-17.4zM339.0 374.1h17.4v1.6h-17.4zM339.0 378.1h17.4v7.6h-17.4zM339.0 386.1h17.4v1.6h-17.4zM339.0 394.1h17.4v1.6h-17.4zM339.0 396.1h17.4v1.6h-17.4zM355.8 230.1h17.4v1.6h-17.4zM355.8 232.1h17.4v2.6h-17.4zM355.8 236.1h17.4v5.6h-17.4zM355.8 242.1h17.4v3.6h-17.4zM355.8 246.1h17.4v1.6h-17.4zM355.8 248.1h17.4v6.6h-17.4zM355.8 256.1h17.4v2.6h-17.4zM355.8 259.1h17.4v2.6h-17.4zM355.8 264.1h17.4v1.6h-17.4zM355.8 269.1h17.4v3.6h-17.4zM355.8 276.1h17.4v1.6h-17.4zM355.8 280.1h17.4v1.6h-17.4zM355.8 283.1h17.4v1.6h-17.4zM355.8 285.1h17.4v2.6h-17.4zM355.8 288.1h17.4v1.6h-17.4zM355.8 292.1h17.4v1.6h-17.4zM355.8 294.1h17.4v8.6h-17.4zM355.8 304.1h17.4v5.6h-17.4zM372.6 230.1h17.4v1.6h-17.4zM372.6 232.1h17.4v1.6h-17.4zM372.6 234.1h17.4v2.6h-17.4zM372.6 238.1h17.4v3.6h-17.4zM372.6 247.1h17.4v1.6h-17.4zM372.6 250.1h17.4v3.6h-17.4zM372.6 255.1h17.4v1.6h-17.4zM372.6 258.1h17.4v2.6h-17.4zM372.6 263.1h17.4v5.6h-17.4zM372.6 272.1h17.4v1.6h-17.4zM372.6 274.1h17.4v1.6h-17.4zM372.6 277.1h17.4v2.6h-17.4zM372.6 285.1h17.4v1.6h-17.4zM372.6 287.1h17.4v1.6h-17.4zM372.6 289.1h17.4v1.6h-17.4zM372.6 294.1h17.4v1.6h-17.4zM372.6 297.1h17.4v2.6h-17.4zM372.6 301.1h17.4v3.6h-17.4zM372.6 310.1h17.4v3.6h-17.4zM389.4 229.1h17.4v5.6h-17.4zM389.4 235.1h17.4v1.6h-17.4zM389.4 240.1h17.4v1.6h-17.4zM389.4 244.1h17.4v3.6h-17.4zM389.4 248.1h17.4v3.6h-17.4zM389.4 253.1h17.4v3.6h-17.4zM389.4 260.1h17.4v1.6h-17.4zM389.4 263.1h17.4v9.6h-17.4zM389.4 273.1h17.4v3.6h-17.4zM389.4 277.1h17.4v1.6h-17.4zM389.4 282.1h17.4v1.6h-17.4zM389.4 284.1h17.4v1.6h-17.4zM389.4 294.1h17.4v3.6h-17.4zM389.4 301.1h17.4v1.6h-17.4zM389.4 304.1h17.4v3.6h-17.4zM389.4 308.1h17.4v4.6h-17.4zM406.2 229.1h17.4v2.6h-17.4zM406.2 232.1h17.4v2.6h-17.4zM406.2 235.1h17.4v3.6h-17.4zM406.2 244.1h17.4v2.6h-17.4zM406.2 248.1h17.4v3.6h-17.4zM406.2 255.1h17.4v1.6h-17.4zM406.2 257.1h17.4v2.6h-17.4zM406.2 263.1h17.4v1.6h-17.4zM406.2 266.1h17.4v1.6h-17.4zM406.2 268.1h17.4v3.6h-17.4zM406.2 273.1h17.4v2.6h-17.4zM406.2 276.1h17.4v5.6h-17.4zM406.2 282.1h17.4v3.6h-17.4zM406.2 287.1h17.4v1.6h-17.4zM406.2 289.1h17.4v1.6h-17.4zM406.2 291.1h17.4v7.6h-17.4zM406.2 301.1h17.4v2.6h-17.4zM406.2 306.1h17.4v1.6h-17.4zM406.2 309.1h17.4v1.6h-17.4zM406.2 311.1h17.4v1.6h-17.4zM423.0 230.1h17.4v1.6h-17.4zM423.0 232.1h17.4v1.6h-17.4zM423.0 237.1h17.4v2.6h-17.4zM423.0 240.1h17.4v1.6h-17.4zM423.0 242.1h17.4v1.6h-17.4zM423.0 249.1h17.4v1.6h-17.4zM423.0 253.1h17.4v4.6h-17.4zM423.0 258.1h17.4v1.6h-17.4zM423.0 260.1h17.4v1.6h-17.4zM423.0 268.1h17.4v1.6h-17.4zM423.0 270.1h17.4v1.6h-17.4zM423.0 274.1h17.4v2.6h-17.4zM423.0 277.1h17.4v1.6h-17.4zM423.0 280.1h17.4v3.6h-17.4zM423.0 292.1h17.4v2.6h-17.4zM423.0 295.1h17.4v3.6h-17.4zM423.0 304.1h17.4v2.6h-17.4zM423.0 308.1h17.4v1.6h-17.4zM423.0 311.1h17.4v1.6h-17.4zM439.8 229.1h16.8v1.6h-16.8zM439.8 232.1h16.8v2.6h-16.8zM439.8 239.1h16.8v4.6h-16.8zM439.8 244.1h16.8v1.6h-16.8zM439.8 247.1h16.8v1.6h-16.8zM439.8 249.1h16.8v1.6h-16.8zM439.8 251.1h16.8v2.6h-16.8zM439.8 254.1h16.8v8.6h-16.8zM439.8 263.1h16.8v2.6h-16.8zM439.8 267.1h16.8v3.6h-16.8zM439.8 271.1h16.8v2.6h-16.8zM439.8 278.1h16.8v4.6h-16.8zM439.8 285.1h16.8v1.6h-16.8zM439.8 288.1h16.8v1.6h-16.8zM439.8 291.1h16.8v2.6h-16.8zM439.8 294.1h16.8v4.6h-16.8zM439.8 301.1h16.8v6.6h-16.8zM439.8 308.1h16.8v2.6h-16.8zM439.8 312.1h16.8v1.6h-16.8z"/><path fill="#aaaaff" d="M255.0 315.1h17.4v2.6h-17.4zM255.0 319.1h17.4v2.6h-17.4zM255.0 323.1h17.4v2.6h-17.4zM255.0 326.1h17.4v8.6h-17.4zM255.0 335.1h17.4v1.6h-17.4zM255.0 337.1h17.4v1.6h-17.4zM255.0 344.1h17.4v1.6h-17.4zM255.0 346.1h17.4v1.6h-17.4zM255.0 351.1h17.4v1.6h-17.4zM255.0 354.1h17.4v2.6h-17.4zM255.0 358.1h17.4v2.6h-17.4zM255.0 363.1h17.4v2.6h-17.4zM255.0 370.1h17.4v2.6h-17.4zM255.0 373.1h17.4v2.6h-17.4zM255.0 376.1h17.4v4.6h-17.4zM255.0 384.1h17.4v1.6h-17.4zM255.0 386.1h17.4v1.6h-17.4zM255.0 389.1h17.4v5.6h-17.4zM255.0 397.1h17.4v2.6h-17.4zM271.8 314.1h17.4v1.6h-17.4zM271.8 319.1h17.4v1.6h-17.4zM271.8 321.1h17.4v1.6h-17.4zM271.8 330.1h17.4v2.6h-17.4zM271.8 338.1h17.4v6.6h-17.4zM271.8 346.1h17.4v1.6h-17.4zM271.8 349.1h17.4v1.6h-17.4zM271.8 362.1h17.4v1.6h-17.4zM271.8 366.1h17.4v5.6h-17.4zM271.8 372.1h17.4v4.6h-17.4zM271.8 378.1h17.4v1.6h-17.4zM271.8 384.1h17.4v1.6h-17.4zM271.8 387.1h17.4v1.6h-17.4zM271.8 395.1h17.4v1.6h-17.4zM288.6 313.1h17.4v4.6h-17.4zM288.6 318.1h17.4v2.6h-17.4zM288.6 323.1h17.4v1.6h-17.4zM288.6 325.1h17.4v2.6h-17.4zM288.6 328.1h17.4v1.6h-17.4zM288.6 330.1h17.4v1.6h-17.4zM288.6 333.1h17.4v14.6h-17.4zM288.6 348.1h17.4v2.6h-17.4zM288.6 352.1h17.4v2.6h-17.4zM288.6 357.1h17.4v2.6h-17.4zM288.6 362.1h17.4v3.6h-17.4zM288.6 366.1h17.4v2.6h-17.4zM288.6 372.1h17.4v2.6h-17.4zM288.6 376.1h17.4v1.6h-17.4zM288.6 379.1h17.4v2.6h-17.4zM288.6 382.1h17.4v2.6h-17.4zM288.6 385.1h17.4v1.6h-17.4zM288.6 392.1h17.4v1.6h-17.4zM288.6 397.1h17.4v3.0h-17.4zM305.4 314.1h17.4v1.6h-17.4zM305.4 318.1h17.4v2.6h-17.4zM305.4 321.1h17.4v1.6h-17.4zM305.4 325.1h17.4v3.6h-17.4zM305.4 331.1h17.4v1.6h-17.4zM305.4 334.1h17.4v2.6h-17.4zM305.4 337.1h17.4v1.6h-17.4zM305.4 343.1h17.4v1.6h-17.4zM305.4 345.1h17.4v1.6h-17.4zM305.4 349.1h17.4v4.6h-17.4zM305.4 354.1h17.4v3.6h-17.4zM305.4 362.1h17.4v3.6h-17.4zM305.4 367.1h17.4v1.6h-17.4zM305.4 369.1h17.4v1.6h-17.4zM305.4 373.1h17.4v3.6h-17.4zM305.4 377.1h17.4v1.6h-17.4zM305.4 380.1h17.4v1.6h-17.4zM305.4 382.1h17.4v1.6h-17.4zM305.4 384.1h17.4v4.6h-17.4zM305.4 392.1h17.4v1.6h-17.4zM305.4 397.1h17.4v1.6h-17.4zM305.4 399.1h17.4v1.0h-17.4zM322.2 313.1h17.4v2.6h-17.4zM322.2 317.1h17.4v1.6h-17.4zM322.2 321.1h17.4v3.6h-17.4zM322.2 326.1h17.4v7.6h-17.4zM322.2 340.1h17.4v2.6h-17.4zM322.2 345.1h17.4v3.6h-17.4zM322.2 349.1h17.4v1.6h-17.4zM322.2 354.1h17.4v2.6h-17.4zM322.2 357.1h17.4v3.6h-17.4zM322.2 363.1h17.4v1.6h-17.4zM322.2 369.1h17.4v1.6h-17.4zM322.2 371.1h17.4v3.6h-17.4zM322.2 376.1h17.4v2.6h-17.4zM322.2 384.1h17.4v1.6h-17.4zM322.2 389.1h17.4v1.6h-17.4zM322.2 391.1h17.4v2.6h-17.4zM322.2 394.1h17.4v1.6h-17.4zM322.2 396.1h17.4v2.6h-17.4zM339.0 320.1h17.4v3.6h-17.4zM339.0 326.1h17.4v1.6h-17.4zM339.0 328.1h17.4v2.6h-17.4zM339.0 333.1h17.4v2.6h-17.4zM339.0 339.1h17.4v1.6h-17.4zM339.0 345.1h17.4v2.6h-17.4zM339.0 350.1h17.4v1.6h-17.4zM339.0 353.1h17.4v3.6h-17.4zM339.0 357.1h17.4v1.6h-17.4zM339.0 359.1h17.4v1.6h-17.4zM339.0 367.1h17.4v2.6h-17.4zM339.0 370.1h17.4v4.6h-17.4zM339.0 375.1h17.4v3.6h-17.4zM339.0 385.1h17.4v1.6h-17.4zM339.0 387.1h17.4v7.6h-17.4zM339.0 397.1h17.4v3.0h-17.4zM355.8 234.1h17.4v2.6h-17.4zM355.8 241.1h17.4v1.6h-17.4zM355.8 245.1h17.4v1.6h-17.4zM355.8 254.1h17.4v2.6h-17.4zM355.8 261.1h17.4v3.6h-17.4zM355.8 265.1h17.4v4.6h-17.4zM355.8 273.1h17.4v2.6h-17.4zM355.8 277.1h17.4v3.6h-17.4zM355.8 282.1h17.4v1.6h-17.4zM355.8 284.1h17.4v1.6h-17.4zM355.8 287.1h17.4v1.6h-17.4zM355.8 289.1h17.4v3.6h-17.4zM355.8 293.1h17.4v1.6h-17.4zM355.8 302.1h17.4v2.6h-17.4zM355.8 309.1h17.4v4.6h-17.4zM372.6 229.1h17.4v1.6h-17.4zM372.6 231.1h17.4v1.6h-17.4zM372.6 241.1h17.4v6.6h-17.4zM372.6 248.1h17.4v2.6h-17.4zM372.6 253.1h17.4v2.6h-17.4zM372.6 256.1h17.4v2.6h-17.4zM372.6 260.1h17.4v3.6h-17.4zM372.6 268.1h17.4v1.6h-17.4zM372.6 270.1h17.4v2.6h-17.4zM372.6 273.1h17.4v1.6h-17.4zM372.6 275.1h17.4v2.6h-17.4zM372.6 279.1h17.4v6.6h-17.4zM372.6 288.1h17.4v1.6h-17.4zM372.6 290.1h17.4v2.6h-17.4zM372.6 293.1h17.4v1.6h-17.4zM372.6 295.1h17.4v2.6h-17.4zM372.6 299.1h17.4v2.6h-17.4zM372.6 304.1h17.4v3.6h-17.4zM372.6 308.1h17.4v2.6h-17.4zM389.4 234.1h17.4v1.6h-17.4zM389.4 236.1h17.4v3.6h-17.4zM389.4 243.1h17.4v1.6h-17.4zM389.4 247.1h17.4v1.6h-17.4zM389.4 251.1h17.4v2.6h-17.4zM389.4 256.1h17.4v4.6h-17.4zM389.4 261.1h17.4v2.6h-17.4zM389.4 272.1h17.4v1.6h-17.4zM389.4 279.1h17.4v3.6h-17.4zM389.4 283.1h17.4v1.6h-17.4zM389.4 285.1h17.4v9.6h-17.4zM389.4 297.1h17.4v4.6h-17.4zM389.4 302.1h17.4v2.6h-17.4zM389.4 307.1h17.4v1.6h-17.4zM389.4 312.1h17.4v1.6h-17.4zM406.2 231.1h17.4v1.6h-17.4zM406.2 234.1h17.4v1.6h-17.4zM406.2 238.1h17.4v6.6h-17.4zM406.2 252.1h17.4v2.6h-17.4zM406.2 256.1h17.4v1.6h-17.4zM406.2 259.1h17.4v4.6h-17.4zM406.2 264.1h17.4v2.6h-17.4zM406.2 267.1h17.4v1.6h-17.4zM406.2 275.1h17.4v1.6h-17.4zM406.2 281.1h17.4v1.6h-17.4zM406.2 298.1h17.4v3.6h-17.4zM406.2 303.1h17.4v3.6h-17.4zM406.2 307.1h17.4v1.6h-17.4zM406.2 310.1h17.4v1.6h-17.4zM406.2 312.1h17.4v1.6h-17.4zM423.0 229.1h17.4v1.6h-17.4zM423.0 231.1h17.4v1.6h-17.4zM423.0 233.1h17.4v2.6h-17.4zM423.0 236.1h17.4v1.6h-17.4zM423.0 239.1h17.4v1.6h-17.4zM423.0 241.1h17.4v1.6h-17.4zM423.0 243.1h17.4v6.6h-17.4zM423.0 250.1h17.4v3.6h-17.4zM423.0 257.1h17.4v1.6h-17.4zM423.0 259.1h17.4v1.6h-17.4zM423.0 261.1h17.4v2.6h-17.4zM423.0 264.1h17.4v4.6h-17.4zM423.0 269.1h17.4v1.6h-17.4zM423.0 271.1h17.4v3.6h-17.4zM423.0 276.1h17.4v1.6h-17.4zM423.0 278.1h17.4v2.6h-17.4zM423.0 283.1h17.4v9.6h-17.4zM423.0 294.1h17.4v1.6h-17.4zM423.0 298.1h17.4v3.6h-17.4zM423.0 302.1h17.4v2.6h-17.4zM423.0 307.1h17.4v1.6h-17.4zM423.0 309.1h17.4v2.6h-17.4zM423.0 312.1h17.4v1.6h-17.4zM439.8 230.1h16.8v2.6h-16.8zM439.8 235.1h16.8v1.6h-16.8zM439.8 237.1h16.8v2.6h-16.8zM439.8 243.1h16.8v1.6h-16.8zM439.8 248.1h16.8v1.6h-16.8zM439.8 250.1h16.8v1.6h-16.8zM439.8 253.1h16.8v1.6h-16.8zM439.8 265.1h16.8v2.6h-16.8zM439.8 270.1h16.8v1.6h-16.8zM439.8 273.1h16.8v5.6h-16.8zM439.8 282.1h16.8v3.6h-16.8zM439.8 286.1h16.8v2.6h-16.8zM439.8 289.1h16.8v2.6h-16.8zM439.8 293.1h16.8v1.6h-16.8zM439.8 298.1h16.8v3.6h-16.8zM439.8 307.1h16.8v1.6h-16.8zM439.8 310.1h16.8v2.6h-16.8z"/><path fill="#9f9fff" d="M255.0 321.1h17.4v1.6h-17.4zM255.0 352.1h17.4v1.6h-17.4zM255.0 380.1h17.4v1.6h-17.4zM271.8 347.1h17.4v1.6h-17.4zM288.6 324.1h17.4v1.6h-17.4zM288.6 359.1h17.4v1.6h-17.4zM288.6 365.1h17.4v1.6h-17.4zM288.6 368.1h17.4v2.6h-17.4zM305.4 368.1h17.4v1.6h-17.4zM305.4 388.1h17.4v1.6h-17.4zM322.2 316.1h17.4v1.6h-17.4zM322.2 356.1h17.4v1.6h-17.4zM322.2 367.1h17.4v2.6h-17.4zM322.2 388.1h17.4v1.6h-17.4zM339.0 323.1h17.4v2.6h-17.4zM339.0 369.1h17.4v1.6h-17.4zM372.6 236.1h17.4v2.6h-17.4zM372.6 286.1h17.4v1.6h-17.4zM372.6 292.1h17.4v1.6h-17.4zM389.4 239.1h17.4v1.6h-17.4zM406.2 254.1h17.4v1.6h-17.4zM406.2 308.1h17.4v1.6h-17.4zM423.0 263.1h17.4v1.6h-17.4zM423.0 301.1h17.4v1.6h-17.4zM423.0 306.1h17.4v1.6h-17.4zM439.8 234.1h16.8v1.6h-16.8zM439.8 236.1h16.8v1.6h-16.8zM439.8 262.1h16.8v1.6h-16.8z"/><path fill="#bfbfff" d="M255.0 353.1h17.4v1.6h-17.4zM255.0 382.1h17.4v1.6h-17.4zM271.8 316.1h17.4v2.6h-17.4zM271.8 355.1h17.4v2.6h-17.4zM271.8 361.1h17.4v1.6h-17.4zM271.8 382.1h17.4v1.6h-17.4zM271.8 392.1h17.4v1.6h-17.4zM271.8 396.1h17.4v1.6h-17.4zM288.6 347.1h17.4v1.6h-17.4zM288.6 354.1h17.4v1.6h-17.4zM288.6 360.1h17.4v1.6h-17.4zM305.4 324.1h17.4v1.6h-17.4zM305.4 330.1h17.4v1.6h-17.4zM322.2 381.1h17.4v2.6h-17.4zM322.2 386.1h17.4v1.6h-17.4zM339.0 327.1h17.4v1.6h-17.4zM339.0 360.1h17.4v4.6h-17.4zM339.0 395.1h17.4v1.6h-17.4zM355.8 229.1h17.4v1.6h-17.4zM355.8 231.1h17.4v1.6h-17.4zM355.8 247.1h17.4v1.6h-17.4zM355.8 258.1h17.4v1.6h-17.4zM355.8 272.1h17.4v1.6h-17.4zM355.8 275.1h17.4v1.6h-17.4zM355.8 281.1h17.4v1.6h-17.4zM372.6 233.1h17.4v1.6h-17.4zM372.6 269.1h17.4v1.6h-17.4zM372.6 307.1h17.4v1.6h-17.4zM389.4 276.1h17.4v1.6h-17.4zM389.4 278.1h17.4v1.6h-17.4zM406.2 246.1h17.4v2.6h-17.4zM406.2 251.1h17.4v1.6h-17.4zM406.2 271.1h17.4v2.6h-17.4zM406.2 285.1h17.4v2.6h-17.4zM406.2 288.1h17.4v1.6h-17.4zM406.2 290.1h17.4v1.6h-17.4zM423.0 235.1h17.4v1.6h-17.4zM439.8 245.1h16.8v2.6h-16.8z"/><path fill="#f4f4ff" d="M255.0 367.1h17.4v3.6h-17.4zM305.4 233.1h17.4v1.6h-17.4z"/><path fill="#ff6060" d="M271.8 239.1h17.4v2.6h-17.4zM355.8 396.1h17.4v1.6h-17.4zM439.8 382.1h16.8v1.6h-16.8z"/><path fill="#fff4f4" d="M271.8 268.1h17.4v2.6h-17.4zM271.8 271.1h17.4v2.6h-17.4zM288.6 247.1h17.4v1.6h-17.4zM305.4 256.1h17.4v1.6h-17.4zM355.8 381.1h17.4v3.6h-17.4zM372.6 361.1h17.4v1.6h-17.4z"/><path fill="#ffffff" d="M271.8 270.1h17.4v1.6h-17.4zM305.4 232.1h17.4v1.6h-17.4zM372.6 360.1h17.4v1.6h-17.4z"/><path fill="#ff6a6a" d="M288.6 241.1h17.4v1.6h-17.4zM288.6 272.1h17.4v1.6h-17.4zM339.0 231.1h17.4v1.6h-17.4zM355.8 360.1h17.4v2.6h-17.4zM372.6 336.1h17.4v3.6h-17.4zM439.8 381.1h16.8v1.6h-16.8zM439.8 383.1h16.8v1.6h-16.8z"/><path fill="#ffeaea" d="M288.6 279.1h17.4v1.6h-17.4zM305.4 255.1h17.4v1.6h-17.4zM305.4 296.1h17.4v2.6h-17.4zM355.8 386.1h17.4v1.6h-17.4zM389.4 360.1h17.4v2.6h-17.4zM439.8 342.1h16.8v3.6h-16.8z"/><path fill="#ff4a4a" d="M355.8 347.1h17.4v1.6h-17.4z"/><path fill="#cacaff" d="M389.4 241.1h17.4v2.6h-17.4z"/><rect x="255.0" y="220.1" width="100.8" height="6.8" fill="#12cbd3"/><rect x="355.8" y="220.1" width="100.8" height="6.8" fill="#f8837a"/><path fill="#ff9595" d="M255.0 427.1h17.4v3.6h-17.4zM255.0 468.1h17.4v1.6h-17.4zM271.8 445.1h17.4v1.6h-17.4zM271.8 461.1h17.4v1.6h-17.4zM288.6 437.1h17.4v2.6h-17.4zM305.4 431.1h17.4v2.6h-17.4zM305.4 450.1h17.4v1.6h-17.4zM305.4 452.1h17.4v1.6h-17.4zM305.4 460.1h17.4v2.6h-17.4zM322.2 428.1h17.4v1.6h-17.4zM322.2 431.1h17.4v2.6h-17.4zM322.2 456.1h17.4v2.6h-17.4zM322.2 466.1h17.4v1.6h-17.4zM322.2 468.1h17.4v3.6h-17.4zM339.0 450.1h17.4v1.6h-17.4zM339.0 452.1h17.4v1.6h-17.4zM339.0 474.1h17.4v1.6h-17.4zM339.0 477.1h17.4v1.6h-17.4zM355.8 524.1h17.4v1.6h-17.4zM355.8 526.1h17.4v1.6h-17.4zM355.8 552.1h17.4v2.6h-17.4zM355.8 558.1h17.4v1.6h-17.4zM355.8 570.1h17.4v1.6h-17.4zM355.8 579.1h17.4v3.6h-17.4zM355.8 587.1h17.4v1.6h-17.4zM355.8 592.1h17.4v1.6h-17.4zM372.6 498.1h17.4v3.6h-17.4zM372.6 504.1h17.4v1.6h-17.4zM372.6 512.1h17.4v1.6h-17.4zM372.6 514.1h17.4v1.6h-17.4zM372.6 528.1h17.4v1.6h-17.4zM372.6 545.1h17.4v1.6h-17.4zM372.6 550.1h17.4v1.6h-17.4zM372.6 552.1h17.4v3.6h-17.4zM372.6 564.1h17.4v3.6h-17.4zM372.6 590.1h17.4v2.6h-17.4zM372.6 593.1h17.4v3.6h-17.4zM389.4 484.1h17.4v1.6h-17.4zM389.4 509.1h17.4v1.6h-17.4zM389.4 513.1h17.4v1.6h-17.4zM389.4 538.1h17.4v1.6h-17.4zM389.4 540.1h17.4v2.6h-17.4zM389.4 562.1h17.4v1.6h-17.4zM389.4 567.1h17.4v1.6h-17.4zM389.4 569.1h17.4v1.6h-17.4zM389.4 582.1h17.4v1.6h-17.4zM406.2 492.1h17.4v3.6h-17.4zM406.2 532.1h17.4v2.6h-17.4zM406.2 546.1h17.4v2.6h-17.4zM406.2 557.1h17.4v3.6h-17.4zM406.2 585.1h17.4v1.6h-17.4zM423.0 503.1h17.4v2.6h-17.4zM439.8 522.1h16.8v2.6h-16.8zM439.8 584.1h16.8v1.6h-16.8zM439.8 587.1h16.8v2.6h-16.8z"/><path fill="#ff9f9f" d="M255.0 430.1h17.4v3.6h-17.4zM255.0 453.1h17.4v4.6h-17.4zM255.0 462.1h17.4v2.6h-17.4zM255.0 479.1h17.4v2.6h-17.4zM271.8 459.1h17.4v2.6h-17.4zM271.8 468.1h17.4v3.6h-17.4zM271.8 481.1h17.4v1.6h-17.4zM305.4 435.1h17.4v1.6h-17.4zM305.4 445.1h17.4v1.6h-17.4zM305.4 451.1h17.4v1.6h-17.4zM305.4 453.1h17.4v4.6h-17.4zM305.4 458.1h17.4v1.6h-17.4zM305.4 478.1h17.4v1.6h-17.4zM322.2 427.1h17.4v1.6h-17.4zM322.2 435.1h17.4v2.6h-17.4zM322.2 453.1h17.4v1.6h-17.4zM322.2 455.1h17.4v1.6h-17.4zM322.2 471.1h17.4v1.6h-17.4zM339.0 430.1h17.4v1.6h-17.4zM339.0 458.1h17.4v1.6h-17.4zM339.0 462.1h17.4v1.6h-17.4zM339.0 478.1h17.4v1.6h-17.4zM339.0 481.1h17.4v2.6h-17.4zM355.8 493.1h17.4v1.6h-17.4zM355.8 495.1h17.4v1.6h-17.4zM355.8 497.1h17.4v1.6h-17.4zM355.8 525.1h17.4v1.6h-17.4zM355.8 527.1h17.4v1.6h-17.4zM355.8 551.1h17.4v1.6h-17.4zM355.8 557.1h17.4v1.6h-17.4zM355.8 578.1h17.4v1.6h-17.4zM355.8 586.1h17.4v1.6h-17.4zM355.8 588.1h17.4v3.6h-17.4zM355.8 593.1h17.4v2.6h-17.4zM355.8 597.1h17.4v1.0h-17.4zM372.6 484.1h17.4v2.6h-17.4zM372.6 503.1h17.4v1.6h-17.4zM372.6 513.1h17.4v1.6h-17.4zM372.6 519.1h17.4v1.6h-17.4zM372.6 526.1h17.4v2.6h-17.4zM372.6 540.1h17.4v5.6h-17.4zM372.6 548.1h17.4v1.6h-17.4zM372.6 555.1h17.4v1.6h-17.4zM372.6 563.1h17.4v1.6h-17.4zM372.6 589.1h17.4v1.6h-17.4zM372.6 592.1h17.4v1.6h-17.4zM389.4 485.1h17.4v2.6h-17.4zM389.4 512.1h17.4v1.6h-17.4zM389.4 514.1h17.4v6.6h-17.4zM389.4 537.1h17.4v1.6h-17.4zM389.4 539.1h17.4v1.6h-17.4zM389.4 553.1h17.4v1.6h-17.4zM389.4 557.1h17.4v3.6h-17.4zM389.4 563.1h17.4v2.6h-17.4zM389.4 568.1h17.4v1.6h-17.4zM389.4 596.1h17.4v2.0h-17.4zM406.2 489.1h17.4v1.6h-17.4zM406.2 503.1h17.4v2.6h-17.4zM406.2 524.1h17.4v1.6h-17.4zM406.2 526.1h17.4v1.6h-17.4zM406.2 545.1h17.4v1.6h-17.4zM406.2 548.1h17.4v1.6h-17.4zM406.2 560.1h17.4v3.6h-17.4zM406.2 564.1h17.4v3.6h-17.4zM406.2 571.1h17.4v1.6h-17.4zM406.2 579.1h17.4v1.6h-17.4zM406.2 581.1h17.4v2.6h-17.4zM406.2 586.1h17.4v1.6h-17.4zM406.2 588.1h17.4v1.6h-17.4zM406.2 590.1h17.4v1.6h-17.4zM406.2 595.1h17.4v1.6h-17.4zM423.0 491.1h17.4v4.6h-17.4zM423.0 513.1h17.4v1.6h-17.4zM423.0 523.1h17.4v3.6h-17.4zM423.0 541.1h17.4v1.6h-17.4zM423.0 556.1h17.4v1.6h-17.4zM423.0 564.1h17.4v3.6h-17.4zM423.0 568.1h17.4v1.6h-17.4zM423.0 582.1h17.4v1.6h-17.4zM439.8 497.1h16.8v1.6h-16.8zM439.8 501.1h16.8v1.6h-16.8zM439.8 510.1h16.8v2.6h-16.8zM439.8 529.1h16.8v1.6h-16.8zM439.8 549.1h16.8v2.6h-16.8zM439.8 560.1h16.8v1.6h-16.8zM439.8 583.1h16.8v1.6h-16.8zM439.8 585.1h16.8v2.6h-16.8z"/><path fill="#ffbfbf" d="M255.0 433.1h17.4v2.6h-17.4zM255.0 443.1h17.4v2.6h-17.4zM255.0 460.1h17.4v2.6h-17.4zM255.0 464.1h17.4v1.6h-17.4zM255.0 476.1h17.4v2.6h-17.4zM255.0 483.1h17.4v1.6h-17.4zM271.8 431.1h17.4v1.6h-17.4zM271.8 434.1h17.4v1.6h-17.4zM271.8 443.1h17.4v1.6h-17.4zM271.8 454.1h17.4v4.6h-17.4zM288.6 432.1h17.4v1.6h-17.4zM288.6 442.1h17.4v1.6h-17.4zM288.6 450.1h17.4v3.6h-17.4zM288.6 471.1h17.4v1.6h-17.4zM305.4 427.1h17.4v2.6h-17.4zM305.4 430.1h17.4v1.6h-17.4zM305.4 438.1h17.4v1.6h-17.4zM305.4 440.1h17.4v1.6h-17.4zM305.4 446.1h17.4v1.6h-17.4zM305.4 462.1h17.4v2.6h-17.4zM305.4 471.1h17.4v1.6h-17.4zM305.4 476.1h17.4v2.6h-17.4zM305.4 479.1h17.4v1.6h-17.4zM322.2 437.1h17.4v5.6h-17.4zM322.2 462.1h17.4v1.6h-17.4zM322.2 465.1h17.4v1.6h-17.4zM322.2 475.1h17.4v1.6h-17.4zM339.0 436.1h17.4v4.6h-17.4zM339.0 442.1h17.4v1.6h-17.4zM339.0 449.1h17.4v1.6h-17.4zM339.0 453.1h17.4v2.6h-17.4zM339.0 456.1h17.4v2.6h-17.4zM339.0 463.1h17.4v1.6h-17.4zM339.0 470.1h17.4v2.6h-17.4zM355.8 487.1h17.4v2.6h-17.4zM355.8 502.1h17.4v1.6h-17.4zM355.8 507.1h17.4v2.6h-17.4zM355.8 512.1h17.4v1.6h-17.4zM355.8 519.1h17.4v1.6h-17.4zM355.8 573.1h17.4v1.6h-17.4zM355.8 582.1h17.4v1.6h-17.4zM372.6 538.1h17.4v1.6h-17.4zM372.6 562.1h17.4v1.6h-17.4zM372.6 573.1h17.4v2.6h-17.4zM372.6 588.1h17.4v1.6h-17.4zM372.6 596.1h17.4v2.0h-17.4zM389.4 487.1h17.4v1.6h-17.4zM389.4 495.1h17.4v1.6h-17.4zM389.4 501.1h17.4v3.6h-17.4zM389.4 510.1h17.4v1.6h-17.4zM389.4 520.1h17.4v2.6h-17.4zM389.4 546.1h17.4v1.6h-17.4zM389.4 556.1h17.4v1.6h-17.4zM389.4 571.1h17.4v1.6h-17.4zM389.4 574.1h17.4v1.6h-17.4zM389.4 586.1h17.4v1.6h-17.4zM389.4 591.1h17.4v1.6h-17.4zM406.2 502.1h17.4v1.6h-17.4zM406.2 506.1h17.4v1.6h-17.4zM406.2 509.1h17.4v1.6h-17.4zM406.2 512.1h17.4v1.6h-17.4zM406.2 519.1h17.4v2.6h-17.4zM406.2 529.1h17.4v1.6h-17.4zM406.2 544.1h17.4v1.6h-17.4zM406.2 549.1h17.4v2.6h-17.4zM406.2 554.1h17.4v2.6h-17.4zM423.0 505.1h17.4v1.6h-17.4zM423.0 507.1h17.4v2.6h-17.4zM423.0 518.1h17.4v1.6h-17.4zM423.0 520.1h17.4v2.6h-17.4zM423.0 534.1h17.4v1.6h-17.4zM423.0 536.1h17.4v1.6h-17.4zM423.0 551.1h17.4v1.6h-17.4zM423.0 561.1h17.4v1.6h-17.4zM423.0 581.1h17.4v1.6h-17.4zM423.0 585.1h17.4v1.6h-17.4zM423.0 589.1h17.4v2.6h-17.4zM423.0 595.1h17.4v2.6h-17.4zM439.8 490.1h16.8v1.6h-16.8zM439.8 493.1h16.8v2.6h-16.8zM439.8 517.1h16.8v2.6h-16.8zM439.8 540.1h16.8v1.6h-16.8zM439.8 542.1h16.8v1.6h-16.8zM439.8 552.1h16.8v2.6h-16.8zM439.8 556.1h16.8v1.6h-16.8zM439.8 564.1h16.8v1.6h-16.8zM439.8 566.1h16.8v1.6h-16.8zM439.8 581.1h16.8v1.6h-16.8zM439.8 589.1h16.8v2.6h-16.8z"/><path fill="#ff8080" d="M255.0 435.1h17.4v1.6h-17.4zM271.8 437.1h17.4v3.6h-17.4zM305.4 436.1h17.4v1.6h-17.4zM339.0 433.1h17.4v2.6h-17.4zM372.6 515.1h17.4v2.6h-17.4zM389.4 560.1h17.4v1.6h-17.4zM406.2 491.1h17.4v1.6h-17.4zM406.2 572.1h17.4v1.6h-17.4zM406.2 574.1h17.4v1.6h-17.4zM406.2 576.1h17.4v2.6h-17.4zM406.2 583.1h17.4v1.6h-17.4z"/><path fill="#ffaaaa" d="M255.0 436.1h17.4v1.6h-17.4zM255.0 440.1h17.4v2.6h-17.4zM255.0 447.1h17.4v1.6h-17.4zM255.0 449.1h17.4v1.6h-17.4zM255.0 457.1h17.4v2.6h-17.4zM255.0 469.1h17.4v2.6h-17.4zM255.0 473.1h17.4v3.6h-17.4zM255.0 478.1h17.4v1.6h-17.4zM271.8 427.1h17.4v2.6h-17.4zM271.8 440.1h17.4v2.6h-17.4zM271.8 462.1h17.4v2.6h-17.4zM271.8 475.1h17.4v1.6h-17.4zM271.8 477.1h17.4v2.6h-17.4zM271.8 480.1h17.4v1.6h-17.4zM271.8 482.1h17.4v1.6h-17.4zM288.6 435.1h17.4v1.6h-17.4zM288.6 443.1h17.4v3.6h-17.4zM288.6 459.1h17.4v1.6h-17.4zM288.6 462.1h17.4v2.6h-17.4zM288.6 467.1h17.4v1.6h-17.4zM288.6 473.1h17.4v5.6h-17.4zM305.4 439.1h17.4v1.6h-17.4zM305.4 457.1h17.4v1.6h-17.4zM305.4 466.1h17.4v1.6h-17.4zM322.2 433.1h17.4v2.6h-17.4zM322.2 454.1h17.4v1.6h-17.4zM322.2 458.1h17.4v1.6h-17.4zM322.2 463.1h17.4v1.6h-17.4zM322.2 473.1h17.4v1.6h-17.4zM322.2 479.1h17.4v2.6h-17.4zM322.2 482.1h17.4v2.6h-17.4zM339.0 429.1h17.4v1.6h-17.4zM339.0 459.1h17.4v3.6h-17.4zM339.0 467.1h17.4v1.6h-17.4zM339.0 479.1h17.4v2.6h-17.4zM355.8 491.1h17.4v2.6h-17.4zM355.8 494.1h17.4v1.6h-17.4zM355.8 496.1h17.4v1.6h-17.4zM355.8 504.1h17.4v2.6h-17.4zM355.8 510.1h17.4v2.6h-17.4zM355.8 515.1h17.4v1.6h-17.4zM355.8 522.1h17.4v1.6h-17.4zM355.8 528.1h17.4v1.6h-17.4zM355.8 534.1h17.4v3.6h-17.4zM355.8 549.1h17.4v2.6h-17.4zM355.8 556.1h17.4v1.6h-17.4zM355.8 559.1h17.4v2.6h-17.4zM355.8 562.1h17.4v1.6h-17.4zM355.8 571.1h17.4v1.6h-17.4zM355.8 574.1h17.4v1.6h-17.4zM355.8 584.1h17.4v1.6h-17.4zM355.8 596.1h17.4v1.6h-17.4zM372.6 486.1h17.4v1.6h-17.4zM372.6 488.1h17.4v1.6h-17.4zM372.6 490.1h17.4v8.6h-17.4zM372.6 509.1h17.4v1.6h-17.4zM372.6 511.1h17.4v1.6h-17.4zM372.6 517.1h17.4v2.6h-17.4zM372.6 522.1h17.4v4.6h-17.4zM372.6 546.1h17.4v1.6h-17.4zM372.6 551.1h17.4v1.6h-17.4zM372.6 567.1h17.4v3.6h-17.4zM372.6 572.1h17.4v1.6h-17.4zM372.6 578.1h17.4v3.6h-17.4zM389.4 505.1h17.4v1.6h-17.4zM389.4 527.1h17.4v2.6h-17.4zM389.4 545.1h17.4v1.6h-17.4zM389.4 551.1h17.4v2.6h-17.4zM389.4 554.1h17.4v2.6h-17.4zM389.4 565.1h17.4v2.6h-17.4zM389.4 575.1h17.4v2.6h-17.4zM389.4 578.1h17.4v3.6h-17.4zM389.4 583.1h17.4v2.6h-17.4zM389.4 589.1h17.4v1.6h-17.4zM389.4 595.1h17.4v1.6h-17.4zM406.2 498.1h17.4v1.6h-17.4zM406.2 500.1h17.4v1.6h-17.4zM406.2 511.1h17.4v1.6h-17.4zM406.2 523.1h17.4v1.6h-17.4zM406.2 525.1h17.4v1.6h-17.4zM406.2 527.1h17.4v1.6h-17.4zM406.2 534.1h17.4v3.6h-17.4zM406.2 551.1h17.4v1.6h-17.4zM406.2 563.1h17.4v1.6h-17.4zM406.2 567.1h17.4v3.6h-17.4zM406.2 578.1h17.4v1.6h-17.4zM406.2 580.1h17.4v1.6h-17.4zM406.2 587.1h17.4v1.6h-17.4zM423.0 490.1h17.4v1.6h-17.4zM423.0 495.1h17.4v3.6h-17.4zM423.0 501.1h17.4v2.6h-17.4zM423.0 512.1h17.4v1.6h-17.4zM423.0 514.1h17.4v1.6h-17.4zM423.0 516.1h17.4v1.6h-17.4zM423.0 519.1h17.4v1.6h-17.4zM423.0 522.1h17.4v1.6h-17.4zM423.0 526.1h17.4v4.6h-17.4zM423.0 531.1h17.4v3.6h-17.4zM423.0 540.1h17.4v1.6h-17.4zM423.0 542.1h17.4v1.6h-17.4zM423.0 545.1h17.4v1.6h-17.4zM423.0 563.1h17.4v1.6h-17.4zM423.0 567.1h17.4v1.6h-17.4zM423.0 569.1h17.4v1.6h-17.4zM423.0 571.1h17.4v1.6h-17.4zM423.0 573.1h17.4v1.6h-17.4zM423.0 576.1h17.4v1.6h-17.4zM423.0 593.1h17.4v2.6h-17.4zM439.8 489.1h16.8v1.6h-16.8zM439.8 495.1h16.8v2.6h-16.8zM439.8 499.1h16.8v2.6h-16.8zM439.8 502.1h16.8v1.6h-16.8zM439.8 509.1h16.8v1.6h-16.8zM439.8 519.1h16.8v1.6h-16.8zM439.8 528.1h16.8v1.6h-16.8zM439.8 530.1h16.8v1.6h-16.8zM439.8 534.1h16.8v3.6h-16.8zM439.8 546.1h16.8v1.6h-16.8zM439.8 548.1h16.8v1.6h-16.8zM439.8 557.1h16.8v3.6h-16.8zM439.8 561.1h16.8v1.6h-16.8zM439.8 570.1h16.8v1.6h-16.8zM439.8 572.1h16.8v1.6h-16.8zM439.8 582.1h16.8v1.6h-16.8z"/><path fill="#ffdfdf" d="M255.0 437.1h17.4v2.6h-17.4zM271.8 429.1h17.4v2.6h-17.4zM271.8 452.1h17.4v1.6h-17.4zM288.6 472.1h17.4v1.6h-17.4zM322.2 445.1h17.4v1.6h-17.4zM322.2 447.1h17.4v1.6h-17.4zM339.0 444.1h17.4v1.6h-17.4zM339.0 446.1h17.4v1.6h-17.4zM355.8 484.1h17.4v1.6h-17.4zM355.8 486.1h17.4v1.6h-17.4zM355.8 540.1h17.4v1.6h-17.4zM355.8 542.1h17.4v2.6h-17.4zM372.6 560.1h17.4v1.6h-17.4zM389.4 492.1h17.4v1.6h-17.4zM406.2 484.1h17.4v3.6h-17.4zM406.2 516.1h17.4v1.6h-17.4zM423.0 537.1h17.4v3.6h-17.4zM423.0 553.1h17.4v1.6h-17.4zM423.0 555.1h17.4v1.6h-17.4zM439.8 575.1h16.8v2.6h-16.8zM439.8 593.1h16.8v1.6h-16.8z"/><path fill="#ffd4d4" d="M255.0 439.1h17.4v1.6h-17.4zM271.8 448.1h17.4v1.6h-17.4zM271.8 450.1h17.4v2.6h-17.4zM288.6 427.1h17.4v1.6h-17.4zM305.4 465.1h17.4v1.6h-17.4zM305.4 472.1h17.4v1.6h-17.4zM322.2 450.1h17.4v3.6h-17.4zM322.2 459.1h17.4v1.6h-17.4zM339.0 431.1h17.4v2.6h-17.4zM339.0 464.1h17.4v1.6h-17.4zM355.8 521.1h17.4v1.6h-17.4zM355.8 541.1h17.4v1.6h-17.4zM355.8 564.1h17.4v3.6h-17.4zM372.6 531.1h17.4v3.6h-17.4zM372.6 557.1h17.4v1.6h-17.4zM372.6 559.1h17.4v1.6h-17.4zM372.6 581.1h17.4v1.6h-17.4zM389.4 490.1h17.4v2.6h-17.4zM389.4 493.1h17.4v2.6h-17.4zM389.4 507.1h17.4v2.6h-17.4zM389.4 522.1h17.4v1.6h-17.4zM389.4 529.1h17.4v2.6h-17.4zM389.4 573.1h17.4v1.6h-17.4zM406.2 517.1h17.4v2.6h-17.4zM423.0 554.1h17.4v1.6h-17.4zM423.0 560.1h17.4v1.6h-17.4zM423.0 572.1h17.4v1.6h-17.4zM423.0 584.1h17.4v1.6h-17.4zM423.0 588.1h17.4v1.6h-17.4zM439.8 484.1h16.8v1.6h-16.8zM439.8 486.1h16.8v3.6h-16.8zM439.8 503.1h16.8v2.6h-16.8zM439.8 515.1h16.8v1.6h-16.8zM439.8 524.1h16.8v3.6h-16.8zM439.8 531.1h16.8v3.6h-16.8zM439.8 537.1h16.8v3.6h-16.8zM439.8 554.1h16.8v1.6h-16.8zM439.8 563.1h16.8v1.6h-16.8zM439.8 577.1h16.8v1.6h-16.8zM439.8 591.1h16.8v1.6h-16.8zM439.8 594.1h16.8v1.6h-16.8zM439.8 596.1h16.8v2.0h-16.8z"/><path fill="#ff6a6a" d="M255.0 442.1h17.4v1.6h-17.4zM305.4 443.1h17.4v1.6h-17.4zM305.4 483.1h17.4v1.6h-17.4zM389.4 543.1h17.4v1.6h-17.4zM423.0 484.1h17.4v2.6h-17.4z"/><path fill="#ff8a8a" d="M255.0 445.1h17.4v1.6h-17.4zM255.0 450.1h17.4v3.6h-17.4zM271.8 466.1h17.4v2.6h-17.4zM271.8 471.1h17.4v1.6h-17.4zM288.6 439.1h17.4v3.6h-17.4zM305.4 459.1h17.4v1.6h-17.4zM322.2 467.1h17.4v1.6h-17.4zM339.0 451.1h17.4v1.6h-17.4zM339.0 473.1h17.4v1.6h-17.4zM339.0 475.1h17.4v2.6h-17.4zM355.8 517.1h17.4v2.6h-17.4zM355.8 529.1h17.4v2.6h-17.4zM355.8 591.1h17.4v1.6h-17.4zM372.6 501.1h17.4v2.6h-17.4zM372.6 505.1h17.4v2.6h-17.4zM372.6 549.1h17.4v1.6h-17.4zM389.4 542.1h17.4v1.6h-17.4zM389.4 561.1h17.4v1.6h-17.4zM389.4 581.1h17.4v1.6h-17.4zM406.2 490.1h17.4v1.6h-17.4zM406.2 531.1h17.4v1.6h-17.4zM406.2 556.1h17.4v1.6h-17.4zM406.2 573.1h17.4v1.6h-17.4zM406.2 584.1h17.4v1.6h-17.4zM406.2 596.1h17.4v2.0h-17.4z"/><path fill="#ffb5b5" d="M255.0 446.1h17.4v1.6h-17.4zM255.0 448.1h17.4v1.6h-17.4zM255.0 459.1h17.4v1.6h-17.4zM255.0 465.1h17.4v1.6h-17.4zM255.0 471.1h17.4v1.6h-17.4zM255.0 481.1h17.4v2.6h-17.4zM271.8 432.1h17.4v1.6h-17.4zM271.8 442.1h17.4v1.6h-17.4zM271.8 444.1h17.4v1.6h-17.4zM271.8 473.1h17.4v2.6h-17.4zM271.8 476.1h17.4v1.6h-17.4zM271.8 479.1h17.4v1.6h-17.4zM288.6 431.1h17.4v1.6h-17.4zM288.6 433.1h17.4v2.6h-17.4zM288.6 436.1h17.4v1.6h-17.4zM288.6 453.1h17.4v5.6h-17.4zM288.6 460.1h17.4v2.6h-17.4zM288.6 466.1h17.4v1.6h-17.4zM288.6 468.1h17.4v3.6h-17.4zM288.6 479.1h17.4v4.6h-17.4zM305.4 433.1h17.4v2.6h-17.4zM305.4 437.1h17.4v1.6h-17.4zM305.4 442.1h17.4v1.6h-17.4zM305.4 447.1h17.4v3.6h-17.4zM305.4 467.1h17.4v4.6h-17.4zM305.4 480.1h17.4v3.6h-17.4zM322.2 464.1h17.4v1.6h-17.4zM322.2 474.1h17.4v1.6h-17.4zM322.2 476.1h17.4v2.6h-17.4zM322.2 481.1h17.4v1.6h-17.4zM339.0 427.1h17.4v2.6h-17.4zM339.0 440.1h17.4v2.6h-17.4zM339.0 466.1h17.4v1.6h-17.4zM339.0 472.1h17.4v1.6h-17.4zM339.0 483.1h17.4v1.6h-17.4zM355.8 489.1h17.4v2.6h-17.4zM355.8 498.1h17.4v4.6h-17.4zM355.8 503.1h17.4v1.6h-17.4zM355.8 506.1h17.4v1.6h-17.4zM355.8 509.1h17.4v1.6h-17.4zM355.8 514.1h17.4v1.6h-17.4zM355.8 516.1h17.4v1.6h-17.4zM355.8 523.1h17.4v1.6h-17.4zM355.8 546.1h17.4v3.6h-17.4zM355.8 561.1h17.4v1.6h-17.4zM355.8 563.1h17.4v1.6h-17.4zM355.8 572.1h17.4v1.6h-17.4zM355.8 575.1h17.4v3.6h-17.4zM355.8 583.1h17.4v1.6h-17.4zM355.8 585.1h17.4v1.6h-17.4zM355.8 595.1h17.4v1.6h-17.4zM372.6 487.1h17.4v1.6h-17.4zM372.6 489.1h17.4v1.6h-17.4zM372.6 507.1h17.4v2.6h-17.4zM372.6 510.1h17.4v1.6h-17.4zM372.6 520.1h17.4v2.6h-17.4zM372.6 529.1h17.4v2.6h-17.4zM372.6 534.1h17.4v3.6h-17.4zM372.6 547.1h17.4v1.6h-17.4zM372.6 570.1h17.4v2.6h-17.4zM372.6 575.1h17.4v3.6h-17.4zM372.6 586.1h17.4v2.6h-17.4zM389.4 488.1h17.4v2.6h-17.4zM389.4 498.1h17.4v3.6h-17.4zM389.4 504.1h17.4v1.6h-17.4zM389.4 506.1h17.4v1.6h-17.4zM389.4 511.1h17.4v1.6h-17.4zM389.4 524.1h17.4v3.6h-17.4zM389.4 534.1h17.4v3.6h-17.4zM389.4 547.1h17.4v4.6h-17.4zM389.4 570.1h17.4v1.6h-17.4zM389.4 577.1h17.4v1.6h-17.4zM389.4 585.1h17.4v1.6h-17.4zM389.4 587.1h17.4v2.6h-17.4zM389.4 590.1h17.4v1.6h-17.4zM389.4 592.1h17.4v3.6h-17.4zM406.2 495.1h17.4v3.6h-17.4zM406.2 499.1h17.4v1.6h-17.4zM406.2 501.1h17.4v1.6h-17.4zM406.2 505.1h17.4v1.6h-17.4zM406.2 510.1h17.4v1.6h-17.4zM406.2 522.1h17.4v1.6h-17.4zM406.2 530.1h17.4v1.6h-17.4zM406.2 540.1h17.4v4.6h-17.4zM406.2 552.1h17.4v2.6h-17.4zM406.2 570.1h17.4v1.6h-17.4zM406.2 589.1h17.4v1.6h-17.4zM406.2 591.1h17.4v4.6h-17.4zM423.0 489.1h17.4v1.6h-17.4zM423.0 498.1h17.4v3.6h-17.4zM423.0 506.1h17.4v1.6h-17.4zM423.0 509.1h17.4v3.6h-17.4zM423.0 515.1h17.4v1.6h-17.4zM423.0 517.1h17.4v1.6h-17.4zM423.0 530.1h17.4v1.6h-17.4zM423.0 535.1h17.4v1.6h-17.4zM423.0 546.1h17.4v3.6h-17.4zM423.0 570.1h17.4v1.6h-17.4zM423.0 574.1h17.4v2.6h-17.4zM423.0 577.1h17.4v4.6h-17.4zM423.0 591.1h17.4v2.6h-17.4zM423.0 597.1h17.4v1.0h-17.4zM439.8 498.1h16.8v1.6h-16.8zM439.8 505.1h16.8v2.6h-16.8zM439.8 512.1h16.8v3.6h-16.8zM439.8 541.1h16.8v1.6h-16.8zM439.8 547.1h16.8v1.6h-16.8zM439.8 551.1h16.8v1.6h-16.8zM439.8 562.1h16.8v1.6h-16.8zM439.8 565.1h16.8v1.6h-16.8zM439.8 567.1h16.8v3.6h-16.8zM439.8 571.1h16.8v1.6h-16.8zM439.8 573.1h16.8v2.6h-16.8z"/><path fill="#ffffff" d="M255.0 466.1h17.4v2.6h-17.4z"/><path fill="#ffcaca" d="M255.0 472.1h17.4v1.6h-17.4zM271.8 433.1h17.4v1.6h-17.4zM271.8 435.1h17.4v2.6h-17.4zM271.8 447.1h17.4v1.6h-17.4zM271.8 449.1h17.4v1.6h-17.4zM271.8 453.1h17.4v1.6h-17.4zM271.8 458.1h17.4v1.6h-17.4zM271.8 464.1h17.4v2.6h-17.4zM271.8 483.1h17.4v1.6h-17.4zM288.6 428.1h17.4v3.6h-17.4zM288.6 446.1h17.4v1.6h-17.4zM288.6 458.1h17.4v1.6h-17.4zM288.6 478.1h17.4v1.6h-17.4zM288.6 483.1h17.4v1.6h-17.4zM305.4 429.1h17.4v1.6h-17.4zM305.4 441.1h17.4v1.6h-17.4zM305.4 464.1h17.4v1.6h-17.4zM305.4 473.1h17.4v3.6h-17.4zM322.2 442.1h17.4v3.6h-17.4zM322.2 460.1h17.4v2.6h-17.4zM322.2 472.1h17.4v1.6h-17.4zM322.2 478.1h17.4v1.6h-17.4zM339.0 435.1h17.4v1.6h-17.4zM339.0 445.1h17.4v1.6h-17.4zM339.0 447.1h17.4v2.6h-17.4zM339.0 455.1h17.4v1.6h-17.4zM339.0 465.1h17.4v1.6h-17.4zM339.0 468.1h17.4v2.6h-17.4zM355.8 513.1h17.4v1.6h-17.4zM355.8 520.1h17.4v1.6h-17.4zM355.8 545.1h17.4v1.6h-17.4zM355.8 567.1h17.4v3.6h-17.4zM372.6 537.1h17.4v1.6h-17.4zM372.6 539.1h17.4v1.6h-17.4zM372.6 556.1h17.4v1.6h-17.4zM372.6 558.1h17.4v1.6h-17.4zM372.6 561.1h17.4v1.6h-17.4zM372.6 583.1h17.4v3.6h-17.4zM389.4 496.1h17.4v2.6h-17.4zM389.4 523.1h17.4v1.6h-17.4zM389.4 531.1h17.4v3.6h-17.4zM389.4 572.1h17.4v1.6h-17.4zM406.2 487.1h17.4v2.6h-17.4zM406.2 513.1h17.4v1.6h-17.4zM406.2 515.1h17.4v1.6h-17.4zM406.2 521.1h17.4v1.6h-17.4zM406.2 528.1h17.4v1.6h-17.4zM406.2 537.1h17.4v3.6h-17.4zM423.0 543.1h17.4v2.6h-17.4zM423.0 549.1h17.4v2.6h-17.4zM423.0 557.1h17.4v3.6h-17.4zM423.0 562.1h17.4v1.6h-17.4zM423.0 583.1h17.4v1.6h-17.4zM423.0 586.1h17.4v2.6h-17.4zM439.8 485.1h16.8v1.6h-16.8zM439.8 491.1h16.8v2.6h-16.8zM439.8 507.1h16.8v2.6h-16.8zM439.8 516.1h16.8v1.6h-16.8zM439.8 527.1h16.8v1.6h-16.8zM439.8 543.1h16.8v3.6h-16.8zM439.8 555.1h16.8v1.6h-16.8zM439.8 578.1h16.8v3.6h-16.8zM439.8 592.1h16.8v1.6h-16.8zM439.8 595.1h16.8v1.6h-16.8z"/><path fill="#aaaaff" d="M255.0 484.1h17.4v2.6h-17.4zM255.0 489.1h17.4v1.6h-17.4zM255.0 492.1h17.4v1.6h-17.4zM255.0 496.1h17.4v1.6h-17.4zM255.0 498.1h17.4v4.6h-17.4zM255.0 503.1h17.4v1.6h-17.4zM255.0 505.1h17.4v2.6h-17.4zM255.0 508.1h17.4v1.6h-17.4zM255.0 510.1h17.4v3.6h-17.4zM255.0 514.1h17.4v5.6h-17.4zM255.0 524.1h17.4v1.6h-17.4zM255.0 528.1h17.4v1.6h-17.4zM255.0 540.1h17.4v4.6h-17.4zM255.0 545.1h17.4v2.6h-17.4zM255.0 549.1h17.4v5.6h-17.4zM255.0 555.1h17.4v2.6h-17.4zM255.0 558.1h17.4v3.6h-17.4zM255.0 562.1h17.4v5.6h-17.4zM255.0 583.1h17.4v1.6h-17.4zM255.0 586.1h17.4v1.6h-17.4zM255.0 592.1h17.4v1.6h-17.4zM271.8 487.1h17.4v1.6h-17.4zM271.8 489.1h17.4v1.6h-17.4zM271.8 493.1h17.4v6.6h-17.4zM271.8 501.1h17.4v4.6h-17.4zM271.8 508.1h17.4v1.6h-17.4zM271.8 511.1h17.4v3.6h-17.4zM271.8 517.1h17.4v1.6h-17.4zM271.8 520.1h17.4v2.6h-17.4zM271.8 525.1h17.4v1.6h-17.4zM271.8 527.1h17.4v1.6h-17.4zM271.8 531.1h17.4v3.6h-17.4zM271.8 547.1h17.4v1.6h-17.4zM271.8 549.1h17.4v1.6h-17.4zM271.8 551.1h17.4v1.6h-17.4zM271.8 553.1h17.4v1.6h-17.4zM271.8 557.1h17.4v1.6h-17.4zM271.8 559.1h17.4v1.6h-17.4zM271.8 563.1h17.4v3.6h-17.4zM271.8 569.1h17.4v6.6h-17.4zM271.8 580.1h17.4v2.6h-17.4zM271.8 583.1h17.4v1.6h-17.4zM271.8 586.1h17.4v1.6h-17.4zM271.8 591.1h17.4v1.6h-17.4zM271.8 593.1h17.4v2.6h-17.4zM271.8 597.1h17.4v1.0h-17.4zM288.6 486.1h17.4v1.6h-17.4zM288.6 489.1h17.4v11.6h-17.4zM288.6 501.1h17.4v2.6h-17.4zM288.6 504.1h17.4v2.6h-17.4zM288.6 512.1h17.4v1.6h-17.4zM288.6 514.1h17.4v1.6h-17.4zM288.6 516.1h17.4v1.6h-17.4zM288.6 519.1h17.4v2.6h-17.4zM288.6 522.1h17.4v2.6h-17.4zM288.6 525.1h17.4v2.6h-17.4zM288.6 529.1h17.4v8.6h-17.4zM288.6 538.1h17.4v1.6h-17.4zM288.6 545.1h17.4v3.6h-17.4zM288.6 549.1h17.4v1.6h-17.4zM288.6 551.1h17.4v1.6h-17.4zM288.6 554.1h17.4v3.6h-17.4zM288.6 564.1h17.4v1.6h-17.4zM288.6 566.1h17.4v3.6h-17.4zM288.6 570.1h17.4v1.6h-17.4zM288.6 572.1h17.4v3.6h-17.4zM288.6 576.1h17.4v1.6h-17.4zM288.6 580.1h17.4v4.6h-17.4zM288.6 586.1h17.4v1.6h-17.4zM288.6 588.1h17.4v7.6h-17.4zM288.6 596.1h17.4v1.6h-17.4zM305.4 485.1h17.4v1.6h-17.4zM305.4 488.1h17.4v1.6h-17.4zM305.4 498.1h17.4v2.6h-17.4zM305.4 506.1h17.4v1.6h-17.4zM305.4 508.1h17.4v4.6h-17.4zM305.4 513.1h17.4v2.6h-17.4zM305.4 522.1h17.4v3.6h-17.4zM305.4 534.1h17.4v3.6h-17.4zM305.4 541.1h17.4v3.6h-17.4zM305.4 547.1h17.4v2.6h-17.4zM305.4 551.1h17.4v2.6h-17.4zM305.4 554.1h17.4v1.6h-17.4zM305.4 557.1h17.4v6.6h-17.4zM305.4 569.1h17.4v2.6h-17.4zM305.4 576.1h17.4v6.6h-17.4zM305.4 583.1h17.4v2.6h-17.4zM305.4 588.1h17.4v3.6h-17.4zM305.4 592.1h17.4v1.6h-17.4zM305.4 594.1h17.4v2.6h-17.4zM322.2 489.1h17.4v2.6h-17.4zM322.2 492.1h17.4v2.6h-17.4zM322.2 497.1h17.4v1.6h-17.4zM322.2 501.1h17.4v1.6h-17.4zM322.2 505.1h17.4v1.6h-17.4zM322.2 509.1h17.4v1.6h-17.4zM322.2 512.1h17.4v1.6h-17.4zM322.2 517.1h17.4v2.6h-17.4zM322.2 523.1h17.4v1.6h-17.4zM322.2 527.1h17.4v7.6h-17.4zM322.2 537.1h17.4v1.6h-17.4zM322.2 540.1h17.4v1.6h-17.4zM322.2 543.1h17.4v1.6h-17.4zM322.2 545.1h17.4v1.6h-17.4zM322.2 552.1h17.4v2.6h-17.4zM322.2 556.1h17.4v1.6h-17.4zM322.2 560.1h17.4v1.6h-17.4zM322.2 567.1h17.4v2.6h-17.4zM322.2 571.1h17.4v4.6h-17.4zM322.2 578.1h17.4v2.6h-17.4zM322.2 583.1h17.4v6.6h-17.4zM322.2 593.1h17.4v3.6h-17.4zM322.2 597.1h17.4v1.0h-17.4zM339.0 488.1h17.4v1.6h-17.4zM339.0 491.1h17.4v2.6h-17.4zM339.0 494.1h17.4v4.6h-17.4zM339.0 499.1h17.4v4.6h-17.4zM339.0 508.1h17.4v1.6h-17.4zM339.0 510.1h17.4v3.6h-17.4zM339.0 515.1h17.4v1.6h-17.4zM339.0 517.1h17.4v1.6h-17.4zM339.0 522.1h17.4v7.6h-17.4zM339.0 530.1h17.4v1.6h-17.4zM339.0 535.1h17.4v1.6h-17.4zM339.0 540.1h17.4v1.6h-17.4zM339.0 546.1h17.4v1.6h-17.4zM339.0 550.1h17.4v1.6h-17.4zM339.0 552.1h17.4v1.6h-17.4zM339.0 558.1h17.4v1.6h-17.4zM339.0 561.1h17.4v11.6h-17.4zM339.0 573.1h17.4v3.6h-17.4zM339.0 577.1h17.4v3.6h-17.4zM339.0 581.1h17.4v2.6h-17.4zM339.0 586.1h17.4v2.6h-17.4zM339.0 590.1h17.4v1.6h-17.4zM339.0 596.1h17.4v1.6h-17.4zM355.8 427.1h17.4v2.6h-17.4zM355.8 431.1h17.4v1.6h-17.4zM355.8 434.1h17.4v3.6h-17.4zM355.8 441.1h17.4v4.6h-17.4zM355.8 450.1h17.4v9.6h-17.4zM355.8 462.1h17.4v1.6h-17.4zM355.8 465.1h17.4v2.6h-17.4zM355.8 468.1h17.4v4.6h-17.4zM355.8 473.1h17.4v3.6h-17.4zM355.8 481.1h17.4v1.6h-17.4zM355.8 483.1h17.4v1.6h-17.4zM372.6 428.1h17.4v4.6h-17.4zM372.6 433.1h17.4v3.6h-17.4zM372.6 437.1h17.4v6.6h-17.4zM372.6 445.1h17.4v1.6h-17.4zM372.6 447.1h17.4v4.6h-17.4zM372.6 452.1h17.4v5.6h-17.4zM372.6 459.1h17.4v5.6h-17.4zM372.6 469.1h17.4v1.6h-17.4zM372.6 473.1h17.4v2.6h-17.4zM372.6 480.1h17.4v1.6h-17.4zM389.4 427.1h17.4v3.6h-17.4zM389.4 434.1h17.4v1.6h-17.4zM389.4 436.1h17.4v1.6h-17.4zM389.4 438.1h17.4v1.6h-17.4zM389.4 441.1h17.4v3.6h-17.4zM389.4 445.1h17.4v1.6h-17.4zM389.4 453.1h17.4v1.6h-17.4zM389.4 458.1h17.4v6.6h-17.4zM389.4 467.1h17.4v1.6h-17.4zM389.4 471.1h17.4v1.6h-17.4zM389.4 473.1h17.4v1.6h-17.4zM389.4 475.1h17.4v2.6h-17.4zM389.4 478.1h17.4v2.6h-17.4zM389.4 481.1h17.4v1.6h-17.4zM406.2 427.1h17.4v1.6h-17.4zM406.2 430.1h17.4v1.6h-17.4zM406.2 433.1h17.4v1.6h-17.4zM406.2 435.1h17.4v1.6h-17.4zM406.2 445.1h17.4v1.6h-17.4zM406.2 447.1h17.4v2.6h-17.4zM406.2 450.1h17.4v1.6h-17.4zM406.2 452.1h17.4v2.6h-17.4zM406.2 456.1h17.4v1.6h-17.4zM406.2 462.1h17.4v1.6h-17.4zM406.2 468.1h17.4v3.6h-17.4zM406.2 476.1h17.4v1.6h-17.4zM406.2 481.1h17.4v2.6h-17.4zM423.0 427.1h17.4v1.6h-17.4zM423.0 431.1h17.4v4.6h-17.4zM423.0 436.1h17.4v1.6h-17.4zM423.0 453.1h17.4v1.6h-17.4zM423.0 457.1h17.4v2.6h-17.4zM423.0 461.1h17.4v1.6h-17.4zM423.0 464.1h17.4v1.6h-17.4zM423.0 468.1h17.4v2.6h-17.4zM423.0 473.1h17.4v1.6h-17.4zM423.0 475.1h17.4v2.6h-17.4zM423.0 478.1h17.4v1.6h-17.4zM423.0 480.1h17.4v1.6h-17.4zM439.8 428.1h16.8v1.6h-16.8zM439.8 430.1h16.8v1.6h-16.8zM439.8 433.1h16.8v1.6h-16.8zM439.8 435.1h16.8v3.6h-16.8zM439.8 439.1h16.8v2.6h-16.8zM439.8 442.1h16.8v8.6h-16.8zM439.8 453.1h16.8v1.6h-16.8zM439.8 456.1h16.8v3.6h-16.8zM439.8 460.1h16.8v1.6h-16.8zM439.8 464.1h16.8v1.6h-16.8zM439.8 468.1h16.8v2.6h-16.8zM439.8 471.1h16.8v1.6h-16.8zM439.8 474.1h16.8v4.6h-16.8zM439.8 479.1h16.8v4.6h-16.8z"/><path fill="#b5b5ff" d="M255.0 486.1h17.4v3.6h-17.4zM255.0 490.1h17.4v2.6h-17.4zM255.0 493.1h17.4v3.6h-17.4zM255.0 497.1h17.4v1.6h-17.4zM255.0 502.1h17.4v1.6h-17.4zM255.0 507.1h17.4v1.6h-17.4zM255.0 513.1h17.4v1.6h-17.4zM255.0 519.1h17.4v3.6h-17.4zM255.0 525.1h17.4v3.6h-17.4zM255.0 529.1h17.4v3.6h-17.4zM255.0 534.1h17.4v3.6h-17.4zM255.0 544.1h17.4v1.6h-17.4zM255.0 547.1h17.4v2.6h-17.4zM255.0 554.1h17.4v1.6h-17.4zM255.0 557.1h17.4v1.6h-17.4zM255.0 567.1h17.4v10.6h-17.4zM255.0 578.1h17.4v2.6h-17.4zM255.0 581.1h17.4v1.6h-17.4zM255.0 584.1h17.4v2.6h-17.4zM255.0 588.1h17.4v4.6h-17.4zM255.0 594.1h17.4v4.0h-17.4zM271.8 484.1h17.4v3.6h-17.4zM271.8 488.1h17.4v1.6h-17.4zM271.8 491.1h17.4v2.6h-17.4zM271.8 500.1h17.4v1.6h-17.4zM271.8 505.1h17.4v3.6h-17.4zM271.8 509.1h17.4v2.6h-17.4zM271.8 514.1h17.4v3.6h-17.4zM271.8 518.1h17.4v2.6h-17.4zM271.8 524.1h17.4v1.6h-17.4zM271.8 526.1h17.4v1.6h-17.4zM271.8 528.1h17.4v3.6h-17.4zM271.8 534.1h17.4v2.6h-17.4zM271.8 537.1h17.4v1.6h-17.4zM271.8 539.1h17.4v4.6h-17.4zM271.8 544.1h17.4v3.6h-17.4zM271.8 548.1h17.4v1.6h-17.4zM271.8 550.1h17.4v1.6h-17.4zM271.8 552.1h17.4v1.6h-17.4zM271.8 554.1h17.4v3.6h-17.4zM271.8 558.1h17.4v1.6h-17.4zM271.8 560.1h17.4v1.6h-17.4zM271.8 562.1h17.4v1.6h-17.4zM271.8 566.1h17.4v3.6h-17.4zM271.8 575.1h17.4v5.6h-17.4zM271.8 582.1h17.4v1.6h-17.4zM271.8 584.1h17.4v2.6h-17.4zM271.8 587.1h17.4v4.6h-17.4zM271.8 592.1h17.4v1.6h-17.4zM271.8 595.1h17.4v2.6h-17.4zM288.6 484.1h17.4v2.6h-17.4zM288.6 487.1h17.4v2.6h-17.4zM288.6 500.1h17.4v1.6h-17.4zM288.6 503.1h17.4v1.6h-17.4zM288.6 506.1h17.4v6.6h-17.4zM288.6 513.1h17.4v1.6h-17.4zM288.6 515.1h17.4v1.6h-17.4zM288.6 518.1h17.4v1.6h-17.4zM288.6 521.1h17.4v1.6h-17.4zM288.6 524.1h17.4v1.6h-17.4zM288.6 527.1h17.4v2.6h-17.4zM288.6 537.1h17.4v1.6h-17.4zM288.6 539.1h17.4v4.6h-17.4zM288.6 550.1h17.4v1.6h-17.4zM288.6 552.1h17.4v1.6h-17.4zM288.6 557.1h17.4v7.6h-17.4zM288.6 565.1h17.4v1.6h-17.4zM288.6 569.1h17.4v1.6h-17.4zM288.6 571.1h17.4v1.6h-17.4zM288.6 575.1h17.4v1.6h-17.4zM288.6 578.1h17.4v2.6h-17.4zM288.6 585.1h17.4v1.6h-17.4zM288.6 587.1h17.4v1.6h-17.4zM288.6 597.1h17.4v1.0h-17.4zM305.4 484.1h17.4v1.6h-17.4zM305.4 486.1h17.4v2.6h-17.4zM305.4 489.1h17.4v6.6h-17.4zM305.4 501.1h17.4v5.6h-17.4zM305.4 507.1h17.4v1.6h-17.4zM305.4 512.1h17.4v1.6h-17.4zM305.4 515.1h17.4v4.6h-17.4zM305.4 520.1h17.4v2.6h-17.4zM305.4 527.1h17.4v5.6h-17.4zM305.4 537.1h17.4v2.6h-17.4zM305.4 540.1h17.4v1.6h-17.4zM305.4 544.1h17.4v3.6h-17.4zM305.4 549.1h17.4v2.6h-17.4zM305.4 553.1h17.4v1.6h-17.4zM305.4 555.1h17.4v2.6h-17.4zM305.4 563.1h17.4v6.6h-17.4zM305.4 571.1h17.4v2.6h-17.4zM305.4 582.1h17.4v1.6h-17.4zM305.4 586.1h17.4v2.6h-17.4zM305.4 591.1h17.4v1.6h-17.4zM305.4 593.1h17.4v1.6h-17.4zM305.4 596.1h17.4v2.0h-17.4zM322.2 487.1h17.4v2.6h-17.4zM322.2 491.1h17.4v1.6h-17.4zM322.2 494.1h17.4v3.6h-17.4zM322.2 499.1h17.4v2.6h-17.4zM322.2 502.1h17.4v2.6h-17.4zM322.2 506.1h17.4v3.6h-17.4zM322.2 510.1h17.4v2.6h-17.4zM322.2 513.1h17.4v4.6h-17.4zM322.2 519.1h17.4v3.6h-17.4zM322.2 524.1h17.4v1.6h-17.4zM322.2 526.1h17.4v1.6h-17.4zM322.2 538.1h17.4v2.6h-17.4zM322.2 541.1h17.4v2.6h-17.4zM322.2 544.1h17.4v1.6h-17.4zM322.2 546.1h17.4v6.6h-17.4zM322.2 554.1h17.4v2.6h-17.4zM322.2 557.1h17.4v3.6h-17.4zM322.2 561.1h17.4v6.6h-17.4zM322.2 569.1h17.4v2.6h-17.4zM322.2 575.1h17.4v3.6h-17.4zM322.2 580.1h17.4v3.6h-17.4zM322.2 590.1h17.4v3.6h-17.4zM322.2 596.1h17.4v1.6h-17.4zM339.0 484.1h17.4v4.6h-17.4zM339.0 489.1h17.4v2.6h-17.4zM339.0 493.1h17.4v1.6h-17.4zM339.0 498.1h17.4v1.6h-17.4zM339.0 503.1h17.4v5.6h-17.4zM339.0 509.1h17.4v1.6h-17.4zM339.0 513.1h17.4v2.6h-17.4zM339.0 516.1h17.4v1.6h-17.4zM339.0 520.1h17.4v2.6h-17.4zM339.0 529.1h17.4v1.6h-17.4zM339.0 531.1h17.4v4.6h-17.4zM339.0 536.1h17.4v3.6h-17.4zM339.0 541.1h17.4v5.6h-17.4zM339.0 547.1h17.4v3.6h-17.4zM339.0 551.1h17.4v1.6h-17.4zM339.0 553.1h17.4v5.6h-17.4zM339.0 559.1h17.4v2.6h-17.4zM339.0 572.1h17.4v1.6h-17.4zM339.0 576.1h17.4v1.6h-17.4zM339.0 580.1h17.4v1.6h-17.4zM339.0 583.1h17.4v1.6h-17.4zM339.0 585.1h17.4v1.6h-17.4zM339.0 588.1h17.4v2.6h-17.4zM339.0 591.1h17.4v4.6h-17.4zM355.8 429.1h17.4v2.6h-17.4zM355.8 432.1h17.4v2.6h-17.4zM355.8 437.1h17.4v3.6h-17.4zM355.8 449.1h17.4v1.6h-17.4zM355.8 459.1h17.4v3.6h-17.4zM355.8 464.1h17.4v1.6h-17.4zM355.8 467.1h17.4v1.6h-17.4zM355.8 472.1h17.4v1.6h-17.4zM355.8 476.1h17.4v5.6h-17.4zM372.6 427.1h17.4v1.6h-17.4zM372.6 436.1h17.4v1.6h-17.4zM372.6 443.1h17.4v2.6h-17.4zM372.6 446.1h17.4v1.6h-17.4zM372.6 451.1h17.4v1.6h-17.4zM372.6 457.1h17.4v2.6h-17.4zM372.6 464.1h17.4v2.6h-17.4zM372.6 467.1h17.4v2.6h-17.4zM372.6 470.1h17.4v3.6h-17.4zM372.6 475.1h17.4v5.6h-17.4zM372.6 481.1h17.4v3.6h-17.4zM389.4 430.1h17.4v3.6h-17.4zM389.4 435.1h17.4v1.6h-17.4zM389.4 437.1h17.4v1.6h-17.4zM389.4 439.1h17.4v1.6h-17.4zM389.4 446.1h17.4v3.6h-17.4zM389.4 452.1h17.4v1.6h-17.4zM389.4 454.1h17.4v4.6h-17.4zM389.4 464.1h17.4v1.6h-17.4zM389.4 466.1h17.4v1.6h-17.4zM389.4 472.1h17.4v1.6h-17.4zM389.4 474.1h17.4v1.6h-17.4zM389.4 480.1h17.4v1.6h-17.4zM389.4 482.1h17.4v2.6h-17.4zM406.2 428.1h17.4v2.6h-17.4zM406.2 431.1h17.4v2.6h-17.4zM406.2 434.1h17.4v1.6h-17.4zM406.2 436.1h17.4v4.6h-17.4zM406.2 442.1h17.4v3.6h-17.4zM406.2 446.1h17.4v1.6h-17.4zM406.2 449.1h17.4v1.6h-17.4zM406.2 451.1h17.4v1.6h-17.4zM406.2 454.1h17.4v2.6h-17.4zM406.2 457.1h17.4v5.6h-17.4zM406.2 463.1h17.4v1.6h-17.4zM406.2 466.1h17.4v2.6h-17.4zM406.2 471.1h17.4v5.6h-17.4zM406.2 478.1h17.4v3.6h-17.4zM406.2 483.1h17.4v1.6h-17.4zM423.0 428.1h17.4v3.6h-17.4zM423.0 435.1h17.4v1.6h-17.4zM423.0 437.1h17.4v6.6h-17.4zM423.0 445.1h17.4v1.6h-17.4zM423.0 447.1h17.4v1.6h-17.4zM423.0 452.1h17.4v1.6h-17.4zM423.0 454.1h17.4v1.6h-17.4zM423.0 456.1h17.4v1.6h-17.4zM423.0 459.1h17.4v2.6h-17.4zM423.0 462.1h17.4v2.6h-17.4zM423.0 465.1h17.4v1.6h-17.4zM423.0 467.1h17.4v1.6h-17.4zM423.0 471.1h17.4v1.6h-17.4zM423.0 474.1h17.4v1.6h-17.4zM423.0 477.1h17.4v1.6h-17.4zM423.0 479.1h17.4v1.6h-17.4zM423.0 481.1h17.4v2.6h-17.4zM439.8 427.1h16.8v1.6h-16.8zM439.8 429.1h16.8v1.6h-16.8zM439.8 431.1h16.8v2.6h-16.8zM439.8 434.1h16.8v1.6h-16.8zM439.8 438.1h16.8v1.6h-16.8zM439.8 450.1h16.8v3.6h-16.8zM439.8 454.1h16.8v2.6h-16.8zM439.8 459.1h16.8v1.6h-16.8zM439.8 461.1h16.8v3.6h-16.8zM439.8 465.1h16.8v3.6h-16.8zM439.8 470.1h16.8v1.6h-16.8zM439.8 473.1h16.8v1.6h-16.8zM439.8 483.1h16.8v1.6h-16.8z"/><path fill="#9f9fff" d="M255.0 504.1h17.4v1.6h-17.4zM255.0 509.1h17.4v1.6h-17.4zM255.0 522.1h17.4v2.6h-17.4zM255.0 561.1h17.4v1.6h-17.4zM255.0 587.1h17.4v1.6h-17.4zM271.8 561.1h17.4v1.6h-17.4zM288.6 548.1h17.4v1.6h-17.4zM288.6 577.1h17.4v1.6h-17.4zM288.6 595.1h17.4v1.6h-17.4zM305.4 500.1h17.4v1.6h-17.4zM305.4 519.1h17.4v1.6h-17.4zM305.4 575.1h17.4v1.6h-17.4zM305.4 585.1h17.4v1.6h-17.4zM322.2 522.1h17.4v1.6h-17.4zM322.2 534.1h17.4v3.6h-17.4zM339.0 518.1h17.4v2.6h-17.4zM339.0 595.1h17.4v1.6h-17.4zM339.0 597.1h17.4v1.0h-17.4zM355.8 440.1h17.4v1.6h-17.4zM355.8 463.1h17.4v1.6h-17.4zM355.8 482.1h17.4v1.6h-17.4zM372.6 432.1h17.4v1.6h-17.4zM389.4 440.1h17.4v1.6h-17.4zM389.4 444.1h17.4v1.6h-17.4zM389.4 477.1h17.4v1.6h-17.4zM423.0 455.1h17.4v1.6h-17.4zM423.0 466.1h17.4v1.6h-17.4zM423.0 470.1h17.4v1.6h-17.4zM439.8 441.1h16.8v1.6h-16.8z"/><path fill="#bfbfff" d="M255.0 532.1h17.4v2.6h-17.4zM255.0 537.1h17.4v3.6h-17.4zM255.0 577.1h17.4v1.6h-17.4zM255.0 580.1h17.4v1.6h-17.4zM255.0 582.1h17.4v1.6h-17.4zM255.0 593.1h17.4v1.6h-17.4zM271.8 490.1h17.4v1.6h-17.4zM271.8 499.1h17.4v1.6h-17.4zM271.8 536.1h17.4v1.6h-17.4zM271.8 538.1h17.4v1.6h-17.4zM271.8 543.1h17.4v1.6h-17.4zM288.6 517.1h17.4v1.6h-17.4zM288.6 543.1h17.4v2.6h-17.4zM288.6 553.1h17.4v1.6h-17.4zM288.6 584.1h17.4v1.6h-17.4zM305.4 495.1h17.4v3.6h-17.4zM305.4 525.1h17.4v2.6h-17.4zM305.4 532.1h17.4v2.6h-17.4zM305.4 539.1h17.4v1.6h-17.4zM305.4 574.1h17.4v1.6h-17.4zM322.2 485.1h17.4v2.6h-17.4zM322.2 498.1h17.4v1.6h-17.4zM322.2 504.1h17.4v1.6h-17.4zM322.2 525.1h17.4v1.6h-17.4zM322.2 589.1h17.4v1.6h-17.4zM339.0 539.1h17.4v1.6h-17.4zM339.0 584.1h17.4v1.6h-17.4zM355.8 445.1h17.4v4.6h-17.4zM372.6 466.1h17.4v1.6h-17.4zM389.4 433.1h17.4v1.6h-17.4zM389.4 449.1h17.4v3.6h-17.4zM389.4 465.1h17.4v1.6h-17.4zM389.4 469.1h17.4v2.6h-17.4zM406.2 440.1h17.4v2.6h-17.4zM406.2 464.1h17.4v2.6h-17.4zM406.2 477.1h17.4v1.6h-17.4zM423.0 443.1h17.4v2.6h-17.4zM423.0 446.1h17.4v1.6h-17.4zM423.0 449.1h17.4v3.6h-17.4zM423.0 472.1h17.4v1.6h-17.4zM423.0 483.1h17.4v1.6h-17.4zM439.8 472.1h16.8v1.6h-16.8z"/><path fill="#ff4a4a" d="M271.8 446.1h17.4v1.6h-17.4zM271.8 472.1h17.4v1.6h-17.4z"/><path fill="#d4d4ff" d="M271.8 522.1h17.4v1.6h-17.4z"/><path fill="#cacaff" d="M271.8 523.1h17.4v1.6h-17.4zM305.4 573.1h17.4v1.6h-17.4zM322.2 484.1h17.4v1.6h-17.4zM389.4 468.1h17.4v1.6h-17.4zM423.0 448.1h17.4v1.6h-17.4z"/><path fill="#ff6060" d="M288.6 447.1h17.4v3.6h-17.4zM288.6 464.1h17.4v2.6h-17.4zM355.8 537.1h17.4v1.6h-17.4zM355.8 539.1h17.4v1.6h-17.4zM389.4 544.1h17.4v1.6h-17.4zM423.0 486.1h17.4v2.6h-17.4zM439.8 520.1h16.8v2.6h-16.8z"/><path fill="#ff7575" d="M305.4 444.1h17.4v1.6h-17.4zM322.2 429.1h17.4v2.6h-17.4zM355.8 531.1h17.4v3.6h-17.4zM355.8 554.1h17.4v2.6h-17.4zM406.2 575.1h17.4v1.6h-17.4z"/><path fill="#ffeaea" d="M322.2 446.1h17.4v1.6h-17.4zM322.2 448.1h17.4v2.6h-17.4zM339.0 443.1h17.4v1.6h-17.4zM355.8 485.1h17.4v1.6h-17.4zM355.8 544.1h17.4v1.6h-17.4zM406.2 514.1h17.4v1.6h-17.4zM423.0 552.1h17.4v1.6h-17.4z"/><path fill="#ff5555" d="M355.8 538.1h17.4v1.6h-17.4zM406.2 507.1h17.4v2.6h-17.4zM423.0 488.1h17.4v1.6h-17.4z"/><path fill="#fff4f4" d="M372.6 582.1h17.4v1.6h-17.4z"/><path fill="#9595ff" d="M439.8 478.1h16.8v1.6h-16.8z"/><rect x="255.0" y="418.1" width="100.8" height="6.8" fill="#12cbd3"/><rect x="355.8" y="418.1" width="100.8" height="6.8" fill="#f8837a"/><line x1="285.5" y1="3.0" x2="385.9" y2="3.0" stroke="#333" stroke-width="0.9"/><line x1="285.5" y1="3.0" x2="285.5" y2="15.3" stroke="#333" stroke-width="0.9"/><line x1="385.9" y1="3.0" x2="385.9" y2="15.3" stroke="#333" stroke-width="0.9"/><line x1="263.2" y1="15.3" x2="348.2" y2="15.3" stroke="#555" stroke-width="0.8"/><line x1="364.2" y1="15.3" x2="448.5" y2="15.3" stroke="#555" stroke-width="0.8"/><line x1="263.4" y1="15.3" x2="263.4" y2="16.8" stroke="#bbb" stroke-width="0.5"/><line x1="280.2" y1="15.3" x2="280.2" y2="16.8" stroke="#bbb" stroke-width="0.5"/><line x1="297.0" y1="15.3" x2="297.0" y2="16.8" stroke="#bbb" stroke-width="0.5"/><line x1="313.8" y1="15.3" x2="313.8" y2="16.8" stroke="#bbb" stroke-width="0.5"/><line x1="330.6" y1="15.3" x2="330.6" y2="16.8" stroke="#bbb" stroke-width="0.5"/><line x1="347.4" y1="15.3" x2="347.4" y2="16.8" stroke="#bbb" stroke-width="0.5"/><line x1="364.2" y1="15.3" x2="364.2" y2="16.8" stroke="#bbb" stroke-width="0.5"/><line x1="381.0" y1="15.3" x2="381.0" y2="16.8" stroke="#bbb" stroke-width="0.5"/><line x1="397.8" y1="15.3" x2="397.8" y2="16.8" stroke="#bbb" stroke-width="0.5"/><line x1="414.6" y1="15.3" x2="414.6" y2="16.8" stroke="#bbb" stroke-width="0.5"/><line x1="431.4" y1="15.3" x2="431.4" y2="16.8" stroke="#bbb" stroke-width="0.5"/><line x1="448.2" y1="15.3" x2="448.2" y2="16.8" stroke="#bbb" stroke-width="0.5"/><line x1="284.8" y1="206.3" x2="401.8" y2="206.3" stroke="#333" stroke-width="0.9"/><line x1="284.8" y1="206.3" x2="284.8" y2="218.6" stroke="#333" stroke-width="0.9"/><line x1="401.8" y1="206.3" x2="401.8" y2="218.6" stroke="#333" stroke-width="0.9"/><line x1="263.2" y1="218.6" x2="348.2" y2="218.6" stroke="#555" stroke-width="0.8"/><line x1="364.2" y1="218.6" x2="448.5" y2="218.6" stroke="#555" stroke-width="0.8"/><line x1="263.4" y1="218.6" x2="263.4" y2="220.1" stroke="#bbb" stroke-width="0.5"/><line x1="280.2" y1="218.6" x2="280.2" y2="220.1" stroke="#bbb" stroke-width="0.5"/><line x1="297.0" y1="218.6" x2="297.0" y2="220.1" stroke="#bbb" stroke-width="0.5"/><line x1="313.8" y1="218.6" x2="313.8" y2="220.1" stroke="#bbb" stroke-width="0.5"/><line x1="330.6" y1="218.6" x2="330.6" y2="220.1" stroke="#bbb" stroke-width="0.5"/><line x1="347.4" y1="218.6" x2="347.4" y2="220.1" stroke="#bbb" stroke-width="0.5"/><line x1="364.2" y1="218.6" x2="364.2" y2="220.1" stroke="#bbb" stroke-width="0.5"/><line x1="381.0" y1="218.6" x2="381.0" y2="220.1" stroke="#bbb" stroke-width="0.5"/><line x1="397.8" y1="218.6" x2="397.8" y2="220.1" stroke="#bbb" stroke-width="0.5"/><line x1="414.6" y1="218.6" x2="414.6" y2="220.1" stroke="#bbb" stroke-width="0.5"/><line x1="431.4" y1="218.6" x2="431.4" y2="220.1" stroke="#bbb" stroke-width="0.5"/><line x1="448.2" y1="218.6" x2="448.2" y2="220.1" stroke="#bbb" stroke-width="0.5"/><line x1="281.8" y1="404.3" x2="392.9" y2="404.3" stroke="#333" stroke-width="0.9"/><line x1="281.8" y1="404.3" x2="281.8" y2="416.6" stroke="#333" stroke-width="0.9"/><line x1="392.9" y1="404.3" x2="392.9" y2="416.6" stroke="#333" stroke-width="0.9"/><line x1="263.2" y1="416.6" x2="348.2" y2="416.6" stroke="#555" stroke-width="0.8"/><line x1="364.2" y1="416.6" x2="448.5" y2="416.6" stroke="#555" stroke-width="0.8"/><line x1="263.4" y1="416.6" x2="263.4" y2="418.1" stroke="#bbb" stroke-width="0.5"/><line x1="280.2" y1="416.6" x2="280.2" y2="418.1" stroke="#bbb" stroke-width="0.5"/><line x1="297.0" y1="416.6" x2="297.0" y2="418.1" stroke="#bbb" stroke-width="0.5"/><line x1="313.8" y1="416.6" x2="313.8" y2="418.1" stroke="#bbb" stroke-width="0.5"/><line x1="330.6" y1="416.6" x2="330.6" y2="418.1" stroke="#bbb" stroke-width="0.5"/><line x1="347.4" y1="416.6" x2="347.4" y2="418.1" stroke="#bbb" stroke-width="0.5"/><line x1="364.2" y1="416.6" x2="364.2" y2="418.1" stroke="#bbb" stroke-width="0.5"/><line x1="381.0" y1="416.6" x2="381.0" y2="418.1" stroke="#bbb" stroke-width="0.5"/><line x1="397.8" y1="416.6" x2="397.8" y2="418.1" stroke="#bbb" stroke-width="0.5"/><line x1="414.6" y1="416.6" x2="414.6" y2="418.1" stroke="#bbb" stroke-width="0.5"/><line x1="431.4" y1="416.6" x2="431.4" y2="418.1" stroke="#bbb" stroke-width="0.5"/><line x1="448.2" y1="416.6" x2="448.2" y2="418.1" stroke="#bbb" stroke-width="0.5"/><line x1="241.7" y1="50.8" x2="241.7" y2="146.5" stroke="#333" stroke-width="0.9"/><line x1="241.7" y1="50.8" x2="254.6" y2="50.8" stroke="#333" stroke-width="0.9"/><line x1="241.7" y1="146.5" x2="254.6" y2="146.5" stroke="#333" stroke-width="0.9"/><line x1="255.0" y1="25.8" x2="255.0" y2="196.8" stroke="#777" stroke-width="0.8"/><line x1="241.7" y1="273.2" x2="241.7" y2="338.6" stroke="#333" stroke-width="0.9"/><line x1="241.7" y1="273.2" x2="254.6" y2="273.2" stroke="#333" stroke-width="0.9"/><line x1="241.7" y1="338.6" x2="254.6" y2="338.6" stroke="#333" stroke-width="0.9"/><line x1="255.0" y1="229.1" x2="255.0" y2="400.1" stroke="#777" stroke-width="0.8"/><line x1="241.7" y1="447.3" x2="241.7" y2="545.0" stroke="#333" stroke-width="0.9"/><line x1="241.7" y1="447.3" x2="254.6" y2="447.3" stroke="#333" stroke-width="0.9"/><line x1="241.7" y1="545.0" x2="254.6" y2="545.0" stroke="#333" stroke-width="0.9"/><line x1="255.0" y1="427.1" x2="255.0" y2="598.1" stroke="#777" stroke-width="0.8"/><defs><linearGradient id="cb" x1="0" y1="0" x2="0" y2="1"><stop offset="0" stop-color="#ff0000"/><stop offset="0.5" stop-color="#ffffff"/><stop offset="1" stop-color="#0000ff"/></linearGradient></defs><rect x="464.1" y="28.2" width="8.4" height="129.8" fill="url(#cb)"/><text x="476.3" y="34.8" font-size="8.5" fill="#222">3</text><text x="476.3" y="55.4" font-size="8.5" fill="#222">2</text><text x="476.3" y="76.0" font-size="8.5" fill="#222">1</text><text x="476.3" y="96.6" font-size="8.5" fill="#222">0</text><text x="476.3" y="117.2" font-size="8.5" fill="#222">-1</text><text x="476.3" y="137.8" font-size="8.5" fill="#222">-2</text><text x="476.3" y="158.4" font-size="8.5" fill="#222">-3</text><text x="489.3" y="34.7" font-size="8.6" font-weight="bold" fill="#111">Sample group</text><rect x="489.3" y="38.0" width="12.5" height="12.2" fill="#12cbd3"/><rect x="489.3" y="50.2" width="12.5" height="12.0" fill="#f8837a"/><text x="503.9" y="47.2" font-size="8.3" fill="#222">A1</text><text x="503.9" y="59.3" font-size="8.3" fill="#222">A2</text><text x="465.0" y="225.4" font-size="8.6" font-weight="bold" fill="#111">Sample group</text><rect x="465.0" y="229.0" width="12.5" height="12.2" fill="#12cbd3"/><rect x="465.0" y="241.2" width="12.5" height="12.0" fill="#f8837a"/><text x="479.6" y="238.2" font-size="8.3" fill="#222">J1</text><text x="479.6" y="250.3" font-size="8.3" fill="#222">J2</text><text x="462.0" y="427.9" font-size="8.6" font-weight="bold" fill="#111">Sample group</text><rect x="462.0" y="431.5" width="12.5" height="12.2" fill="#12cbd3"/><rect x="462.0" y="443.7" width="12.5" height="12.0" fill="#f8837a"/><text x="476.6" y="440.7" font-size="8.3" fill="#222">M1</text><text x="476.6" y="452.8" font-size="8.3" fill="#222">M2</text><path d="M103.8 146.2h0M119.3 138.2h0M104.9 150.4h0M117.1 144.4h0M104.5 123.2h0M102.8 106.2h0M104.3 153.7h0M113.5 150.0h0M103.8 139.9h0M114.9 153.6h0M114.6 130.1h0M115.6 135.0h0M113.8 136.6h0M102.7 110.0h0M115.7 126.1h0M105.3 137.2h0M119.4 117.2h0M113.8 142.0h0M112.7 149.0h0M115.2 99.1h0M114.7 121.1h0M107.6 141.1h0M115.6 146.6h0M106.0 135.8h0M116.3 154.9h0M102.9 108.5h0M114.6 154.5h0M116.4 94.9h0M107.2 122.3h0M115.0 145.3h0M119.1 143.2h0M115.1 131.2h0M117.9 116.5h0M115.9 119.5h0M114.0 143.5h0M107.8 131.0h0M105.6 125.3h0M103.1 122.1h0M108.9 146.2h0M115.1 150.5h0M118.5 132.0h0M108.3 140.2h0M118.3 130.4h0M113.6 144.0h0M114.9 138.3h0M111.1 146.2h0M118.0 118.3h0M107.1 138.6h0M103.5 145.0h0M111.4 152.6h0M107.1 129.8h0M113.5 133.9h0M107.4 139.1h0M112.9 139.5h0M110.0 153.3h0M112.5 145.7h0M111.1 146.2h0M118.1 132.4h0M117.8 152.9h0M113.4 153.2h0M106.4 143.3h0M106.3 125.9h0M117.7 104.4h0M106.5 114.8h0M107.1 154.0h0M105.8 147.0h0M119.1 134.3h0M113.3 135.3h0M108.8 145.4h0M115.8 117.3h0M103.8 118.8h0M113.7 125.4h0M110.6 148.8h0M106.5 151.0h0M118.0 145.9h0M114.3 144.4h0M113.7 129.8h0M106.8 133.0h0M108.6 152.3h0M106.5 118.9h0M107.8 152.1h0M110.6 153.4h0M117.4 143.1h0M118.6 139.0h0M108.4 137.2h0M105.8 151.6h0M103.5 120.2h0M106.0 118.1h0M118.1 100.0h0M115.2 141.5h0M102.5 128.9h0M114.9 151.8h0M115.9 105.2h0M108.7 141.4h0M115.1 125.6h0M104.4 152.3h0M114.8 151.9h0M116.6 143.3h0M115.1 151.4h0M116.1 94.0h0M118.1 148.2h0M106.6 113.3h0M102.8 138.5h0M111.6 151.9h0M107.4 123.7h0M104.2 138.8h0M116.5 122.8h0M107.1 139.3h0M105.7 121.6h0M119.1 135.5h0M116.9 101.8h0M108.1 141.2h0M113.6 139.1h0M102.7 115.9h0M118.6 111.3h0M113.5 149.0h0M116.6 151.9h0M113.2 132.6h0M117.4 147.9h0M105.8 120.0h0M111.8 152.8h0M117.1 98.6h0M118.6 113.5h0M110.8 153.9h0M106.6 131.1h0M102.3 150.3h0M116.3 103.0h0M118.6 144.1h0M113.9 147.5h0M111.8 146.0h0M106.3 106.7h0M103.4 99.9h0M105.1 148.0h0M102.8 125.5h0M119.2 137.4h0M111.1 150.2h0M102.4 125.1h0M103.4 129.5h0M114.2 140.7h0M108.1 150.8h0M114.1 129.0h0M115.4 120.6h0M115.8 131.3h0M103.6 129.2h0M105.9 155.0h0M114.2 147.1h0M106.8 138.8h0M105.7 129.8h0M106.5 146.2h0M114.3 129.1h0M105.7 129.3h0M112.6 146.5h0M116.3 151.4h0M117.2 125.8h0M103.4 138.3h0M115.5 139.4h0M107.1 121.0h0M102.2 94.2h0M117.7 146.4h0M110.1 146.3h0M103.7 125.8h0M102.6 96.3h0M119.1 146.0h0M106.9 151.1h0M104.2 152.7h0M114.7 120.8h0M113.0 138.4h0M114.3 120.0h0M110.6 151.6h0M106.6 118.4h0M106.4 154.2h0M116.1 126.1h0M118.0 96.2h0M115.3 99.4h0M108.6 147.4h0M103.7 153.2h0M118.8 120.4h0M103.0 149.7h0M105.8 145.2h0M118.3 120.1h0M105.0 130.7h0M119.0 132.0h0M104.0 110.8h0M102.8 112.3h0M116.2 143.7h0M107.4 137.6h0M107.7 133.9h0M112.5 147.0h0M116.6 133.7h0M115.4 144.2h0M110.8 153.6h0M116.3 124.9h0M103.8 132.3h0M106.3 134.9h0M117.6 135.5h0M103.8 143.1h0M119.1 115.1h0M108.0 137.0h0M102.2 96.0h0M117.9 122.8h0M106.0 141.6h0M109.5 154.7h0M104.0 133.7h0M103.2 152.2h0M114.8 149.0h0M104.4 154.6h0M116.5 155.0h0M103.3 116.6h0M114.5 130.0h0M114.1 119.0h0M104.7 131.5h0M105.8 123.0h0M109.2 149.5h0M112.7 148.0h0M103.1 112.2h0M106.9 143.9h0M106.3 149.0h0M106.9 110.5h0M105.1 151.4h0M109.2 140.3h0M104.2 119.8h0M116.3 115.2h0M103.5 118.5h0M105.5 153.7h0M119.2 154.5h0M112.8 150.3h0M108.1 142.9h0M102.6 124.0h0M114.4 142.8h0M114.4 137.2h0M111.2 147.7h0M105.3 106.3h0M117.6 105.4h0M117.9 114.2h0M107.4 153.3h0M118.7 109.1h0M106.7 138.5h0M119.1 105.7h0M103.4 152.5h0M119.1 153.1h0M117.3 100.2h0M118.9 154.3h0M118.1 137.0h0M110.3 153.8h0M118.1 152.8h0M119.2 137.2h0M116.4 129.0h0M103.0 152.6h0M107.7 152.5h0M103.7 98.9h0M102.2 129.6h0M118.9 133.2h0M105.3 103.5h0M102.5 133.9h0M117.8 124.3h0M106.8 114.1h0M104.3 134.6h0M104.3 141.7h0M109.8 151.3h0M103.3 147.3h0M111.5 148.2h0M106.9 133.3h0M104.8 142.2h0M102.6 108.7h0M115.9 152.4h0M114.3 146.5h0M107.2 147.1h0M102.2 130.8h0M107.8 124.2h0M115.7 92.6h0M108.4 131.6h0M114.6 154.7h0M111.1 150.0h0M116.0 147.1h0M111.4 154.0h0M115.8 134.2h0M114.9 144.4h0M108.8 147.9h0M113.0 150.1h0M113.0 150.7h0M114.6 121.9h0M110.8 151.4h0M112.8 148.5h0M116.0 139.5h0M117.4 150.6h0M103.9 134.2h0M115.6 148.5h0M102.8 151.2h0M103.1 111.1h0M114.8 120.9h0M116.2 150.2h0M112.7 146.2h0M119.0 110.1h0M103.7 149.5h0M107.2 139.4h0M109.4 151.3h0M104.1 103.2h0M113.0 133.1h0M112.9 153.0h0M116.5 143.8h0M106.8 127.0h0M107.9 127.7h0M107.3 141.9h0M105.1 152.5h0M102.6 147.5h0M117.9 102.8h0M109.3 146.1h0M103.3 151.7h0M115.2 139.3h0M108.9 152.3h0M103.8 150.1h0M104.4 122.4h0M105.0 112.1h0M116.9 149.8h0M118.3 99.5h0M117.0 149.4h0M103.9 101.1h0M108.0 133.0h0M102.6 144.5h0M112.9 148.0h0M102.4 142.8h0M119.4 128.9h0M118.3 123.8h0M113.8 155.0h0M106.0 121.9h0M115.2 151.7h0M109.0 141.5h0M114.6 128.1h0M107.9 137.4h0M104.0 141.9h0M102.7 149.7h0M113.9 126.9h0M116.7 110.3h0M117.0 152.7h0M112.7 151.6h0M106.9 110.5h0M107.7 140.7h0M113.2 148.7h0M106.8 152.2h0M114.8 118.5h0M102.5 138.7h0M114.1 130.3h0M117.9 132.3h0M102.4 126.6h0M105.8 145.9h0M118.6 142.2h0M118.3 117.2h0M115.0 119.5h0M103.8 153.4h0M117.7 127.1h0M107.7 149.7h0M107.6 131.9h0M105.6 130.6h0M115.5 137.5h0M104.6 96.3h0M105.2 122.2h0M116.5 116.7h0M116.1 150.9h0M110.7 153.0h0M102.6 142.6h0M113.8 131.8h0M116.9 125.9h0M113.8 145.0h0M114.0 142.8h0M117.2 145.5h0M116.3 143.0h0M107.6 134.8h0M118.7 101.6h0M102.2 113.4h0M118.7 138.0h0M103.1 154.3h0M113.7 126.7h0M106.5 139.4h0M104.3 106.5h0M102.6 145.4h0M103.2 152.6h0M117.6 143.3h0M115.1 134.9h0M116.1 98.4h0M114.1 147.4h0M106.8 117.3h0M107.2 124.6h0M114.5 140.7h0M116.4 138.1h0M112.2 147.5h0M114.8 133.8h0M118.7 126.9h0M104.2 132.5h0M115.8 149.0h0M106.9 149.5h0M104.1 152.6h0M118.3 116.6h0M102.4 151.9h0M118.8 108.3h0M116.6 114.7h0M116.0 111.1h0M114.7 142.0h0M116.0 153.1h0M118.0 134.3h0M102.5 137.6h0M103.2 103.8h0M118.0 151.1h0M105.8 136.9h0M112.1 143.6h0M102.6 148.8h0M111.2 144.5h0M104.7 123.3h0M107.0 144.1h0M114.0 150.0h0M103.6 94.1h0M105.1 101.5h0M110.9 154.6h0M105.7 138.5h0M105.7 145.2h0M116.0 154.5h0M114.4 140.8h0M117.6 140.3h0M103.8 140.8h0M103.0 151.1h0M112.4 154.1h0M119.0 120.6h0M115.0 136.2h0M109.1 153.3h0M111.2 154.4h0M107.3 142.1h0M110.8 154.2h0M117.3 93.8h0M115.7 137.0h0M118.0 128.7h0M105.4 131.2h0M102.7 143.8h0M117.4 141.2h0M118.9 151.2h0M102.3 120.9h0M106.9 138.6h0M112.4 141.5h0M104.1 139.1h0M118.4 147.4h0M114.6 111.4h0M118.1 120.7h0M108.7 149.5h0M119.4 150.6h0M113.6 129.4h0M114.5 131.1h0M107.4 150.3h0M116.6 133.8h0M106.7 114.1h0M103.5 99.7h0M102.5 140.2h0M106.0 152.6h0M104.8 114.3h0M115.0 108.0h0M113.8 141.7h0M104.5 129.5h0M117.3 152.7h0M103.0 124.4h0M106.4 135.4h0M115.0 145.5h0M116.0 141.5h0M115.4 132.6h0M114.3 130.7h0M106.9 123.0h0M107.2 147.1h0M103.9 139.5h0M117.6 122.3h0M103.5 99.1h0M114.9 144.4h0M109.4 148.1h0M103.0 122.4h0M107.5 142.7h0M105.5 140.5h0M116.9 115.4h0M118.7 122.8h0M103.7 119.6h0M105.4 139.8h0M115.8 148.5h0M118.8 145.8h0M106.5 128.9h0M103.2 152.9h0M118.5 124.9h0M106.8 152.8h0M108.0 154.2h0M116.1 142.9h0M109.8 146.3h0M119.2 111.1h0M112.8 152.0h0M115.0 124.6h0M105.5 143.6h0M103.0 129.7h0M105.5 132.5h0M106.2 125.1h0M104.8 132.7h0M116.9 125.5h0M118.6 136.7h0M110.3 150.8h0M107.7 125.1h0M102.7 143.8h0M117.4 116.2h0M104.8 127.2h0M103.2 122.8h0M117.6 148.7h0M103.7 126.5h0M111.3 153.4h0M115.1 126.6h0M119.3 140.3h0M117.5 136.1h0M114.3 140.9h0M116.9 113.1h0M105.7 141.0h0M117.4 142.1h0M102.6 124.7h0M102.9 153.2h0M115.1 131.5h0M116.3 113.1h0M108.9 150.5h0M116.0 136.5h0M107.4 142.2h0M103.6 145.5h0M112.5 143.2h0M103.3 144.3h0M107.1 113.7h0M115.1 135.9h0M117.1 145.7h0M105.2 116.4h0M104.1 113.0h0M117.1 99.4h0M116.2 122.1h0M115.8 111.0h0M103.8 132.8h0M111.8 143.7h0M107.1 121.4h0M104.7 108.3h0M104.2 92.8h0M106.4 106.4h0M102.9 108.7h0M106.5 142.0h0M119.1 141.9h0M109.1 151.4h0M103.8 145.9h0M103.6 148.2h0M114.1 151.7h0M110.4 149.5h0M103.3 148.6h0M102.3 152.9h0M106.8 126.0h0M111.6 153.6h0M108.0 140.5h0M116.6 96.8h0M110.5 151.3h0M107.6 140.1h0M103.3 146.2h0M117.7 92.6h0M115.9 125.4h0M103.7 123.5h0M104.1 110.5h0M110.1 155.0h0M104.9 153.5h0M103.5 150.5h0M107.7 152.1h0M114.0 123.0h0M116.1 153.4h0M103.0 137.6h0M106.5 145.4h0M106.4 129.4h0M115.7 126.2h0M110.4 153.3h0M105.5 136.9h0M102.4 126.0h0M102.8 145.5h0M109.2 151.0h0M106.0 128.5h0M109.0 142.5h0M116.8 150.4h0M106.1 131.6h0M114.1 139.6h0M103.3 124.0h0M115.7 148.2h0M114.4 120.1h0M111.8 150.0h0M106.9 150.7h0M110.7 152.9h0M111.6 144.5h0M115.8 138.2h0M112.2 155.0h0M116.1 151.7h0M116.3 126.4h0M119.2 132.4h0M102.8 141.9h0M104.1 140.7h0M119.4 111.7h0M115.4 147.0h0M117.6 153.3h0M118.4 143.2h0M107.5 154.2h0M115.9 128.4h0M103.9 101.3h0M108.3 149.0h0M109.2 140.7h0M113.3 153.5h0M104.5 144.5h0M119.1 144.4h0M103.0 145.1h0M103.9 144.1h0M116.5 148.0h0M111.4 144.3h0M118.2 123.6h0M104.5 132.8h0M104.2 135.9h0M104.1 131.7h0M110.9 149.0h0M116.4 138.1h0M113.6 132.3h0M116.8 99.0h0M107.7 152.7h0M105.9 94.5h0M113.1 135.9h0M118.2 110.0h0M104.0 147.0h0M109.5 148.0h0M103.2 132.0h0M108.1 142.8h0M115.1 153.0h0M105.7 132.1h0M102.4 113.0h0M116.1 114.6h0M106.6 121.0h0M119.3 139.5h0M106.2 116.9h0M118.1 125.6h0M104.9 153.2h0M104.7 137.0h0M117.7 132.1h0M114.4 113.1h0M102.4 134.1h0M103.6 151.4h0M105.1 138.8h0M108.1 135.0h0M105.9 143.3h0M115.7 152.2h0M103.6 136.9h0M107.8 145.5h0M113.6 141.2h0M102.5 136.7h0M118.6 103.1h0M115.0 117.8h0M118.6 128.3h0M117.5 144.5h0M102.9 152.1h0M117.5 144.3h0M106.6 144.6h0M117.6 123.4h0M109.0 148.7h0M118.1 129.2h0M115.2 111.6h0M106.3 154.6h0M116.8 134.1h0M103.6 98.0h0M115.2 146.8h0M105.0 137.7h0M106.0 93.2h0M112.4 139.1h0M119.4 145.6h0M113.9 153.4h0M105.9 154.7h0M102.2 133.7h0M103.8 133.8h0M103.2 124.0h0M118.0 108.4h0M114.6 127.7h0M108.3 152.7h0M106.2 153.5h0M104.8 110.3h0M119.4 150.8h0M102.4 91.8h0M113.4 128.9h0M113.8 147.0h0M103.3 140.7h0M107.7 146.4h0M117.2 123.7h0M118.6 154.4h0M114.8 138.9h0M107.8 139.2h0M106.8 147.0h0M102.4 152.2h0M105.0 119.7h0M117.4 113.1h0M102.2 121.0h0M104.0 154.4h0M104.4 119.2h0M117.6 143.9h0M116.9 117.8h0M107.8 142.4h0M105.2 154.1h0M102.8 125.4h0M107.6 141.5h0M106.7 114.5h0M104.1 144.8h0M104.1 134.2h0M109.6 150.2h0M106.1 139.0h0M103.1 94.8h0M118.8 149.7h0M113.4 141.9h0M115.5 154.4h0M106.6 154.7h0M107.8 152.1h0M111.3 149.3h0M102.4 117.7h0M106.3 139.8h0M117.9 127.4h0M114.7 144.7h0M105.9 128.6h0M118.6 102.4h0M103.4 131.5h0M119.3 129.4h0M117.5 154.7h0M113.4 152.5h0M102.8 107.4h0M105.9 139.4h0M112.6 142.2h0M117.9 132.7h0M109.4 141.2h0M108.3 153.4h0M118.4 126.6h0M116.0 153.0h0M105.5 146.7h0M104.5 115.2h0M102.5 123.0h0M119.4 149.7h0M102.7 135.1h0M104.9 149.5h0M117.9 129.2h0M102.2 136.6h0M103.1 151.9h0M117.2 151.9h0M106.3 145.7h0M107.9 131.2h0M118.9 115.3h0M108.3 136.3h0M114.7 140.4h0M114.9 136.6h0M102.5 147.9h0M105.7 135.5h0M104.1 121.9h0M112.1 146.6h0M103.6 151.3h0M119.4 144.2h0M117.3 151.0h0M106.9 149.9h0M108.2 153.2h0M107.5 118.9h0M117.7 123.2h0M104.6 111.5h0M118.5 138.7h0M117.1 146.2h0M104.5 126.8h0M107.9 154.6h0M110.8 148.2h0M109.0 143.5h0M102.8 98.3h0M105.3 150.7h0M112.8 140.2h0M107.2 118.5h0M118.9 152.7h0M112.7 145.2h0M115.5 132.6h0M106.3 150.9h0M113.7 133.2h0M117.5 136.9h0M114.2 147.5h0M104.9 153.8h0M112.8 151.4h0M109.5 146.1h0M103.2 129.4h0M105.5 131.7h0M108.2 147.7h0M118.0 96.8h0M111.2 155.0h0M106.2 144.8h0M117.2 129.9h0M107.6 150.8h0M102.5 113.1h0M111.4 150.7h0M112.6 154.9h0M105.0 112.4h0M106.0 152.3h0M115.1 106.0h0M104.2 137.5h0M113.1 148.4h0M103.2 126.3h0M118.4 146.3h0M103.7 151.3h0M102.6 144.5h0M119.1 154.1h0M115.0 130.5h0M118.8 153.8h0M105.2 153.3h0M117.7 133.8h0M109.8 145.7h0M114.2 149.2h0M119.3 123.0h0M102.2 116.9h0M117.9 96.7h0M118.0 143.2h0M114.1 141.7h0M107.2 152.2h0M118.5 141.4h0M115.5 122.2h0M103.2 97.1h0M105.6 133.3h0M102.7 149.7h0M114.3 154.5h0M116.8 134.0h0M102.4 135.1h0M114.7 146.6h0M106.3 126.6h0M114.9 121.9h0M103.5 143.8h0M117.1 138.8h0M118.0 146.5h0M116.7 107.3h0M110.9 151.6h0M105.3 119.4h0M103.6 110.1h0M114.7 112.9h0M113.3 154.6h0M107.4 134.9h0M108.9 145.1h0M103.2 137.9h0M114.7 121.9h0M116.3 114.9h0M118.4 147.4h0M115.0 154.9h0M103.8 120.6h0M106.8 152.1h0M114.2 141.3h0M119.4 154.3h0M104.7 99.1h0M113.1 141.3h0M105.2 136.7h0M108.8 137.5h0M118.9 131.5h0M114.4 154.7h0M119.3 98.1h0M119.3 139.9h0M102.6 150.6h0M104.6 149.7h0M105.0 120.1h0M104.3 151.2h0M119.0 132.2h0M114.3 132.4h0M113.7 141.2h0M108.2 142.1h0M104.9 135.0h0M105.8 150.7h0M106.7 118.3h0M112.7 149.7h0M103.1 144.2h0M103.6 121.1h0M111.4 149.1h0M119.3 141.2h0M102.2 110.5h0M115.0 151.0h0M108.1 138.3h0M118.8 150.0h0M108.6 140.2h0M116.7 140.1h0M116.4 135.5h0M102.9 123.0h0M113.6 126.5h0M103.6 146.5h0M115.2 132.7h0M116.0 125.5h0M108.3 144.3h0M118.3 117.6h0M107.2 124.0h0M114.8 148.4h0M104.7 131.8h0M119.2 106.9h0M113.0 135.5h0M115.0 135.5h0M103.9 152.0h0M106.7 124.8h0M108.6 146.3h0M102.8 154.5h0M104.9 131.1h0M104.4 100.5h0M116.6 154.8h0M113.4 139.4h0M118.3 145.1h0M111.3 148.8h0M103.1 133.7h0M111.6 152.9h0M119.0 154.6h0M117.4 118.3h0M117.9 123.5h0M118.6 150.4h0M117.6 108.6h0M117.0 101.1h0M108.1 154.8h0M118.9 124.7h0M107.4 135.6h0M108.5 149.4h0M108.9 141.9h0M106.1 114.4h0M115.7 106.0h0M115.4 145.1h0M118.8 119.9h0M106.0 151.8h0M116.6 132.4h0M103.4 134.6h0M116.8 111.7h0M111.2 149.8h0M115.1 148.6h0M112.0 151.2h0M110.4 154.1h0M107.4 153.5h0M114.8 127.8h0M119.1 116.5h0M114.5 121.7h0M106.0 142.0h0M119.2 138.9h0M117.7 119.0h0M115.0 106.3h0M105.0 128.5h0M109.7 147.8h0M103.4 152.6h0M104.4 153.5h0M106.6 123.7h0M116.2 127.5h0M105.0 152.4h0M105.2 144.1h0M102.4 152.4h0M106.7 114.0h0M107.1 130.9h0M119.0 95.7h0M106.4 140.6h0M105.1 153.1h0M105.2 152.1h0M115.2 144.7h0M106.6 154.1h0M109.2 144.4h0M111.4 148.2h0M107.6 149.2h0M114.7 152.4h0M117.6 139.8h0M104.5 123.1h0M115.8 104.0h0M114.6 126.4h0M109.4 147.9h0M106.7 147.9h0M102.9 137.9h0M104.6 105.5h0M118.9 121.9h0M114.2 143.2h0M105.5 102.9h0M115.2 130.4h0M106.5 119.9h0M103.2 114.6h0M104.2 113.0h0M116.6 143.6h0M118.5 100.0h0M103.8 94.8h0M116.0 152.7h0M116.9 125.0h0M117.5 108.3h0M113.0 150.6h0M104.5 153.5h0M115.6 106.9h0M118.1 150.8h0M117.6 132.9h0M103.3 144.9h0M111.9 149.1h0M105.3 138.3h0M102.3 147.4h0M113.3 146.9h0M106.3 150.9h0M117.9 143.2h0M116.9 124.6h0M104.2 143.7h0M106.4 138.7h0M108.5 138.7h0M118.4 106.0h0M114.4 135.4h0M105.8 134.3h0M106.9 141.5h0M106.1 149.5h0M118.7 128.4h0M103.8 127.4h0M106.1 116.2h0M118.4 126.9h0M104.4 149.1h0M113.6 149.6h0M103.9 150.6h0M114.3 137.4h0M115.9 91.7h0M103.3 105.0h0M103.3 91.9h0M114.4 131.4h0M111.6 152.9h0M103.6 112.0h0M104.8 98.2h0M108.9 145.8h0M103.0 138.4h0M117.5 138.6h0M112.1 147.0h0M103.8 116.7h0M111.2 153.5h0M106.7 122.2h0M117.5 153.1h0M115.0 145.6h0M110.3 152.2h0M106.2 112.6h0M105.9 110.9h0M113.7 151.0h0M115.9 140.0h0M118.8 144.7h0M117.8 129.5h0M104.4 129.9h0M111.9 154.7h0M118.0 121.4h0M106.1 149.4h0M112.0 145.0h0M106.1 144.6h0M114.2 140.8h0M116.1 149.9h0M111.9 153.4h0M117.3 138.4h0M113.0 151.2h0M119.1 115.8h0M111.3 148.8h0M115.4 149.3h0M105.9 97.8h0M111.5 149.0h0M111.6 144.1h0M106.3 123.8h0M105.1 129.3h0M102.8 153.6h0M115.7 106.6h0M106.4 147.2h0M109.5 146.9h0M105.6 100.9h0M112.5 151.3h0M113.9 143.0h0M114.8 141.9h0M115.2 144.2h0M118.4 150.6h0M105.0 140.9h0M116.5 120.6h0M113.5 138.8h0M102.7 137.3h0M115.1 154.2h0M102.4 150.3h0M116.3 151.2h0M117.3 133.6h0M118.2 128.4h0M112.3 141.8h0M117.4 136.9h0M106.9 134.9h0M104.1 117.1h0M104.8 120.4h0M102.7 143.4h0M116.4 133.4h0M104.4 149.6h0M104.0 114.2h0M119.0 128.8h0M118.2 129.8h0M116.2 101.3h0M108.8 154.0h0M114.8 151.7h0M117.3 148.2h0M107.9 144.3h0M116.6 123.0h0M113.8 154.1h0M119.4 149.3h0M113.8 148.0h0M103.2 111.5h0M102.7 143.4h0M116.4 110.9h0M105.0 121.9h0M111.7 154.3h0M103.7 153.7h0M117.6 134.0h0M117.8 112.5h0M113.2 153.0h0M119.4 150.7h0M106.5 147.2h0M113.3 137.4h0M103.4 153.0h0M117.3 127.5h0M102.4 155.0h0M109.2 140.8h0M103.8 140.5h0M114.7 120.4h0M105.8 128.5h0M108.8 150.5h0M105.3 111.1h0M118.3 130.3h0M102.2 111.6h0M106.7 140.1h0M105.2 132.1h0M103.4 91.9h0M118.1 153.9h0M113.9 144.8h0M115.9 154.9h0M106.3 149.1h0M104.6 133.5h0M113.2 131.7h0M115.9 143.8h0M102.9 134.1h0M110.9 153.4h0M105.0 143.7h0M103.0 134.3h0M115.7 128.1h0M103.7 152.2h0M112.2 140.7h0M105.7 137.5h0M113.0 146.1h0M102.2 96.6h0M106.9 144.5h0M105.2 129.2h0M118.4 128.2h0M118.0 123.9h0M114.4 151.2h0M115.6 141.1h0M102.4 126.2h0M104.1 136.0h0M107.6 145.7h0M105.3 141.3h0M116.9 129.1h0M105.1 125.6h0M104.8 136.5h0M117.4 123.6h0M106.2 127.1h0M114.1 141.0h0M106.4 152.1h0M115.7 115.1h0M104.9 114.8h0M106.1 143.0h0M115.7 148.1h0M118.6 106.1h0M110.1 151.8h0M103.1 143.5h0M103.1 123.6h0M115.7 154.1h0M117.4 131.1h0M106.3 134.3h0M118.3 152.8h0M107.5 152.6h0M105.7 118.9h0M119.2 133.2h0M112.5 140.2h0M103.7 142.9h0M103.0 114.5h0M104.2 134.5h0M105.6 137.5h0M104.6 117.2h0M104.4 97.1h0M108.1 147.1h0M114.6 122.7h0M115.8 141.2h0M106.0 140.4h0M112.4 154.5h0M103.9 150.2h0M106.6 137.5h0M106.6 136.6h0M103.3 145.4h0M104.1 96.9h0M104.6 124.3h0M107.1 133.7h0M115.9 147.1h0M105.7 130.0h0M106.1 144.2h0M104.4 154.4h0M115.7 148.7h0M117.5 123.0h0M118.0 122.4h0M115.2 131.0h0M115.3 132.4h0M102.2 115.4h0M106.9 131.3h0M115.8 108.5h0M103.4 114.3h0M105.3 93.3h0M116.7 122.1h0M108.7 154.1h0M116.4 145.9h0M104.4 143.9h0M113.2 132.7h0M112.3 147.7h0M103.5 98.9h0M103.4 138.1h0M118.1 151.9h0M105.1 142.9h0M112.5 143.6h0M104.6 117.2h0M116.9 107.9h0M114.4 119.0h0M109.8 146.7h0M116.2 138.2h0M104.4 141.2h0M103.8 153.7h0M103.2 123.4h0M117.8 137.9h0M109.5 155.0h0M118.1 140.8h0M108.3 137.2h0M105.3 100.4h0M119.2 120.7h0M104.1 136.4h0M103.2 147.8h0M115.9 130.6h0M116.0 137.9h0M103.8 128.6h0M118.8 94.9h0M114.2 154.4h0M102.4 106.2h0M116.4 132.7h0M110.7 148.4h0M112.2 140.0h0M103.8 124.5h0M119.4 139.6h0M103.8 146.3h0M113.0 135.6h0M117.4 140.8h0M105.6 132.9h0M107.6 120.7h0M118.0 144.9h0M115.3 145.6h0M112.8 140.6h0M112.4 155.0h0M116.6 146.7h0M111.6 150.4h0M104.9 154.7h0M102.4 144.9h0M118.6 125.2h0M103.8 103.5h0M109.6 150.9h0M106.6 139.4h0M104.9 137.1h0M115.2 121.4h0M109.8 152.2h0M106.9 118.8h0M104.0 116.1h0M113.3 140.6h0M108.1 136.4h0M104.6 124.7h0M118.5 110.7h0M112.8 141.2h0M113.3 141.4h0M106.5 131.3h0M107.8 149.6h0M102.7 138.5h0M102.9 149.0h0M107.8 147.3h0M104.0 129.8h0M114.0 131.3h0M114.4 134.0h0M108.1 153.0h0M105.7 148.1h0M115.9 110.8h0M113.6 126.1h0M119.3 142.3h0M102.8 148.8h0M114.4 149.0h0M115.6 136.7h0M118.7 121.9h0M112.4 139.9h0M119.1 97.0h0M118.8 92.5h0M114.0 151.5h0M103.0 93.7h0M108.0 152.8h0M115.4 152.4h0M118.6 125.4h0M106.0 125.1h0M102.8 136.6h0M117.6 154.2h0M116.2 153.0h0M115.4 145.3h0M104.1 151.2h0M112.9 135.4h0M109.4 151.0h0M104.4 143.2h0M116.4 137.8h0M114.7 135.6h0M109.7 150.7h0M113.7 154.0h0M108.5 151.3h0M107.3 132.7h0M112.2 143.1h0M114.3 134.1h0M104.4 144.2h0M104.4 154.1h0M102.7 100.8h0M103.9 139.7h0M115.4 127.4h0M107.0 130.4h0M116.3 113.2h0M116.6 148.3h0M118.9 145.0h0M118.0 149.0h0M110.0 146.6h0M108.3 144.8h0M108.0 155.0h0M118.2 99.4h0M113.6 152.6h0M118.3 152.1h0M102.7 130.1h0M109.0 149.3h0M103.2 128.1h0M104.3 145.8h0M114.0 130.3h0M115.6 117.6h0M104.4 135.5h0M117.6 125.6h0M117.7 97.0h0M103.1 131.7h0M109.6 154.9h0M102.7 153.8h0M102.5 152.8h0M109.6 154.1h0M116.0 123.5h0M107.5 128.3h0M108.8 146.7h0M105.0 145.1h0M102.9 150.7h0M117.6 119.0h0M108.4 149.2h0M114.1 131.3h0M118.8 95.7h0M115.4 121.2h0M102.9 125.0h0M103.9 129.2h0M104.7 152.6h0M114.6 110.5h0M115.2 125.5h0M107.1 137.5h0M117.1 152.3h0M103.0 150.5h0M106.2 132.1h0M107.3 123.2h0M115.0 144.7h0M115.1 148.3h0M116.1 93.7h0M105.4 151.7h0M107.8 151.3h0M104.2 138.6h0M116.0 118.7h0M115.6 114.0h0M108.0 131.7h0M113.8 153.3h0M116.7 154.8h0M110.0 152.2h0M103.9 155.0h0M108.4 151.4h0M110.2 154.1h0M105.1 134.1h0M104.4 145.7h0M119.4 134.4h0M119.3 117.4h0M109.8 153.2h0M117.9 132.5h0M113.5 154.0h0M106.4 125.4h0M116.3 149.2h0M107.8 135.9h0M113.2 137.4h0M107.9 146.6h0M105.7 142.9h0M114.5 141.2h0M106.8 145.6h0M118.7 96.3h0M116.4 137.1h0M118.5 152.5h0M116.9 105.1h0M103.6 132.8h0M102.7 127.3h0M117.2 116.6h0M105.8 104.8h0M111.1 145.5h0M118.2 153.1h0M108.7 142.7h0M116.0 136.6h0M103.8 111.5h0M117.6 94.5h0M114.7 147.1h0M114.7 147.6h0M119.1 122.5h0M108.8 142.4h0M105.7 151.5h0M105.3 115.6h0M114.2 148.1h0M106.0 148.8h0M109.4 144.9h0M102.4 150.9h0M119.2 130.8h0M105.9 136.2h0M118.8 136.3h0M113.0 146.3h0M102.9 121.2h0M103.1 131.3h0M105.2 119.1h0M105.7 95.3h0M118.4 154.3h0M108.0 126.8h0M107.0 152.1h0M104.5 134.8h0M115.8 142.6h0M111.4 150.0h0M116.1 138.3h0M104.7 103.9h0M116.2 112.1h0M106.7 141.4h0M106.2 102.5h0M103.3 139.4h0M111.6 149.5h0M117.0 150.7h0M102.4 126.6h0M103.0 141.4h0M103.4 104.3h0M105.2 153.6h0M117.8 153.7h0M116.5 102.7h0M115.8 110.9h0M107.0 145.2h0M104.8 138.0h0M115.0 101.8h0M103.5 125.0h0M104.5 98.0h0M115.2 133.3h0M116.8 117.3h0M118.1 154.2h0M116.0 141.1h0M112.7 138.2h0M106.8 134.8h0M116.0 148.5h0M114.0 134.9h0M104.9 151.4h0M117.2 144.2h0M113.4 131.0h0M118.1 153.8h0M117.0 132.9h0M105.5 138.5h0M110.3 154.9h0M107.3 153.5h0M108.5 140.6h0M106.2 152.7h0M103.1 96.8h0M103.7 150.4h0M106.2 150.0h0M106.0 151.8h0M102.4 153.7h0M114.5 153.4h0M105.7 118.6h0M113.9 125.0h0M102.2 136.6h0M115.1 130.2h0M102.8 126.9h0M104.7 138.7h0M102.4 145.5h0M105.8 152.6h0M118.7 100.5h0M107.5 143.4h0M119.0 153.8h0M117.5 113.4h0M105.7 117.1h0M105.2 129.8h0M105.2 149.5h0M111.1 152.5h0M113.8 141.3h0M106.7 138.2h0M103.6 123.0h0M104.8 118.1h0M106.5 139.7h0M115.3 138.4h0M118.7 140.5h0M111.1 154.8h0M103.1 141.0h0M107.0 154.9h0M102.2 121.2h0M103.0 137.7h0M116.2 132.0h0M102.5 98.5h0M107.5 146.2h0M102.5 139.7h0M105.2 143.4h0M106.4 141.3h0M109.8 145.0h0M103.4 143.1h0M118.6 152.0h0M107.0 137.1h0M108.0 153.9h0M105.8 92.7h0M105.2 151.1h0M106.4 118.6h0M102.3 128.4h0M105.5 133.0h0M106.7 147.7h0M106.2 135.8h0M118.0 103.5h0M116.6 149.9h0M107.7 130.8h0M117.2 108.2h0M116.1 151.1h0M110.4 148.0h0M117.5 139.8h0M105.5 148.5h0M104.1 99.6h0M108.8 154.3h0M105.0 153.5h0M104.9 134.9h0M118.4 108.0h0M106.1 143.4h0M119.2 101.8h0M102.9 151.7h0M115.6 151.0h0M104.7 153.6h0M115.2 137.9h0M117.0 151.4h0M117.8 151.7h0M119.3 139.8h0M118.9 112.5h0M106.3 130.9h0M108.5 132.4h0M119.1 123.8h0M114.6 152.5h0M117.8 137.7h0M102.2 130.3h0M113.0 146.5h0M103.9 98.0h0M118.8 146.6h0M117.7 107.1h0M113.4 133.8h0M118.7 133.7h0M102.8 137.6h0M104.9 138.1h0M112.2 147.0h0M102.5 129.3h0M105.3 94.9h0M113.4 152.3h0M116.7 145.9h0M117.6 144.8h0M108.7 148.8h0M113.7 147.0h0M118.9 124.7h0M102.7 126.4h0M103.3 141.1h0M107.2 136.1h0M111.1 151.5h0M116.6 103.5h0M105.7 148.4h0M116.3 122.9h0M105.8 138.1h0M112.1 152.6h0M114.8 116.5h0M104.5 102.1h0M116.0 152.4h0M114.5 153.2h0M116.0 146.4h0M118.4 125.0h0M113.5 154.6h0M103.0 124.9h0M105.8 105.7h0M108.4 136.5h0M118.2 139.7h0M109.0 154.7h0M106.1 108.6h0M103.7 121.5h0M105.9 143.6h0M111.5 150.5h0M114.8 151.3h0M116.3 139.1h0M115.4 107.2h0M115.7 148.2h0M116.5 135.2h0M107.2 114.8h0M102.5 140.3h0M117.5 150.3h0M115.3 99.4h0M103.9 119.2h0M119.1 117.0h0M118.1 122.5h0M103.2 125.0h0M113.3 138.2h0M116.7 140.7h0M102.2 154.7h0M113.4 151.5h0M104.0 128.0h0M106.4 131.9h0M112.3 146.7h0M118.6 152.1h0M105.9 92.4h0M114.1 137.1h0M106.6 121.9h0M112.4 147.2h0M116.4 121.6h0M106.5 138.0h0M103.2 133.5h0M103.8 122.8h0M105.1 104.5h0M111.6 147.8h0M107.9 151.6h0M116.9 145.8h0M113.7 151.8h0M115.8 140.9h0M107.4 117.6h0M118.5 141.3h0M114.8 150.3h0M112.5 140.2h0M103.4 154.7h0M105.4 154.7h0M115.8 109.9h0M115.2 103.2h0M106.3 152.0h0M104.1 140.6h0M102.9 138.6h0M117.1 96.4h0M104.6 110.7h0M113.0 152.9h0M112.5 150.2h0M118.3 100.3h0M107.4 145.8h0M105.2 106.7h0M114.1 127.5h0M106.0 92.4h0M117.0 142.0h0M114.0 145.5h0M116.2 142.7h0M114.9 139.5h0M107.0 148.3h0M107.5 135.1h0M105.2 135.9h0M116.4 150.9h0M107.4 129.1h0M103.6 132.2h0M103.5 150.9h0M117.1 135.3h0M116.6 116.8h0M109.8 147.6h0M115.8 122.9h0M112.0 144.3h0M106.4 152.2h0M116.9 128.4h0M117.4 108.2h0M118.5 135.1h0M103.2 140.5h0M104.7 146.1h0M108.1 149.9h0M106.1 93.7h0M108.1 140.5h0M116.1 123.8h0M106.0 152.1h0M115.2 106.0h0M102.4 149.8h0M107.4 155.0h0M107.5 131.0h0M113.6 125.5h0M114.1 153.2h0M112.6 149.9h0M105.8 142.3h0M107.6 128.4h0M104.4 151.2h0M114.8 115.1h0M116.7 100.5h0M102.5 134.3h0M115.4 153.2h0M106.3 142.2h0M107.7 144.3h0M103.2 151.3h0M118.4 138.6h0M116.0 147.7h0M115.8 137.1h0M103.0 119.9h0M102.3 148.6h0M103.6 148.0h0M109.3 149.0h0M115.9 154.4h0M116.9 152.6h0M116.4 94.5h0M107.1 117.2h0M108.4 150.6h0M118.5 143.4h0M105.9 99.8h0M110.8 148.4h0M103.0 121.5h0M107.6 154.1h0M106.0 125.5h0M118.8 130.8h0M103.8 113.3h0M113.3 134.1h0M118.0 127.8h0M103.7 142.2h0M116.6 130.8h0M118.6 118.9h0M106.1 145.0h0M115.1 151.9h0M105.0 147.8h0M114.7 150.4h0M102.2 136.2h0M117.7 144.7h0M116.3 132.2h0M103.1 115.9h0M102.6 151.6h0M102.8 140.1h0M118.4 110.9h0M111.7 146.1h0M114.2 154.9h0M105.0 109.5h0M117.1 139.0h0M112.9 154.1h0M118.4 147.6h0M103.9 136.5h0M106.9 119.1h0M118.2 151.1h0M104.8 114.6h0M114.8 128.3h0M106.7 136.4h0M116.8 136.7h0M114.9 152.4h0M116.4 144.1h0M113.9 132.5h0M107.2 135.2h0M116.3 154.5h0M116.7 127.3h0M116.0 154.8h0M118.2 120.0h0M103.9 111.8h0M106.9 119.8h0M104.2 121.5h0M112.0 152.7h0M117.6 100.9h0M104.2 134.2h0M105.1 131.2h0M108.6 136.5h0M119.1 153.2h0M104.7 107.3h0M116.6 142.1h0M118.2 139.6h0M102.3 149.2h0M108.7 147.8h0M105.9 141.7h0M105.5 139.3h0M118.4 123.8h0M115.4 105.7h0M111.1 146.6h0M115.9 93.6h0M104.1 147.4h0M109.0 150.1h0M117.1 151.1h0M117.3 118.1h0M113.9 154.9h0M116.0 95.4h0M115.9 137.0h0M117.0 148.6h0M113.2 154.7h0M106.5 154.5h0M104.8 99.4h0M119.1 94.5h0M112.5 144.8h0M103.5 153.0h0M118.7 148.1h0M113.4 153.8h0M107.2 143.6h0M108.2 146.4h0M116.7 143.2h0M107.1 130.0h0M114.5 152.5h0M115.0 114.8h0M103.5 144.6h0M116.8 139.3h0M115.4 143.2h0M104.2 116.0h0M103.2 131.1h0M118.0 146.9h0M104.5 139.8h0M110.5 145.7h0M118.0 150.0h0M108.6 154.3h0M104.9 132.6h0M102.2 113.1h0M104.6 117.0h0M118.7 109.3h0M105.1 144.6h0M116.6 149.6h0M114.9 153.1h0M107.8 130.7h0M115.1 136.8h0M106.4 137.8h0M105.3 125.6h0M104.3 145.7h0M115.3 141.8h0M116.4 152.6h0M113.3 144.9h0M118.3 143.9h0M104.9 149.3h0M118.2 128.2h0M115.2 144.3h0M104.7 112.6h0M118.0 104.6h0M117.7 111.9h0M115.8 137.1h0M118.0 146.6h0M105.9 138.0h0M107.1 141.6h0M114.0 146.1h0M114.6 110.6h0M116.2 144.8h0M103.8 102.1h0M102.4 115.2h0M116.7 148.7h0M116.9 154.0h0M103.0 134.2h0M104.5 119.9h0M105.3 146.3h0M107.1 132.2h0M116.0 148.7h0M116.3 148.9h0M103.6 132.1h0M108.3 141.0h0M115.6 141.0h0M103.4 130.7h0M102.5 148.7h0M107.9 144.4h0M116.8 130.1h0M116.4 113.8h0M103.1 133.5h0M118.4 98.9h0M102.6 149.7h0M105.7 147.2h0M103.0 98.4h0M108.2 143.2h0M116.3 125.7h0M118.3 127.5h0M114.7 107.8h0M114.1 154.4h0M107.3 145.7h0M103.5 98.2h0M116.3 115.1h0M116.8 119.4h0M106.0 154.4h0M115.8 110.1h0M118.6 97.9h0M106.3 103.9h0M103.6 125.2h0M105.5 132.3h0M116.3 139.3h0M105.3 125.6h0M103.2 94.7h0M111.5 152.9h0M112.6 146.5h0M116.1 151.4h0M118.0 99.4h0M105.8 131.0h0M105.3 131.3h0M103.0 119.1h0M118.8 140.8h0M105.3 125.6h0M105.3 139.5h0M102.7 117.8h0M113.6 154.0h0M106.7 139.3h0M116.8 111.2h0M105.8 148.7h0M104.6 129.2h0M105.6 142.7h0M105.7 139.8h0M118.2 141.2h0M114.9 114.8h0M102.5 117.6h0M103.6 122.5h0M114.4 141.7h0M118.1 120.9h0M104.7 149.4h0M113.5 150.9h0M115.5 108.3h0M118.2 115.5h0M113.5 131.8h0M103.9 101.9h0M107.2 133.7h0M107.3 116.4h0M107.9 138.5h0M116.7 113.7h0M119.4 154.0h0M117.2 128.9h0M106.8 141.5h0M109.4 146.0h0M115.2 147.2h0M112.9 145.5h0M118.7 149.4h0M119.1 96.9h0M104.1 142.1h0M108.6 138.9h0M113.4 133.0h0M107.7 135.4h0M105.1 147.8h0M119.3 139.3h0M113.3 139.3h0M116.8 140.8h0M109.1 148.3h0M103.5 152.3h0M117.2 108.7h0M106.4 125.5h0M107.8 150.0h0M102.9 134.5h0M104.6 126.3h0M107.6 123.4h0M104.1 112.6h0M118.9 142.3h0M105.3 137.8h0M107.8 136.3h0M103.6 154.0h0M108.8 143.0h0M116.1 154.5h0M115.7 119.4h0M114.0 122.0h0M115.5 151.0h0M102.5 124.3h0M116.8 126.1h0M103.8 148.9h0M104.0 141.0h0M108.8 146.7h0M117.8 146.4h0M108.2 131.1h0M102.2 120.0h0M117.3 142.0h0M118.8 95.8h0M107.5 124.7h0M104.9 145.0h0M106.2 98.9h0M103.0 144.9h0M108.0 136.0h0M108.9 144.9h0M103.2 142.4h0M107.4 116.4h0M117.8 146.8h0M111.6 149.7h0M103.9 112.1h0M110.6 153.0h0M105.1 128.1h0M107.2 151.1h0M102.7 127.4h0M110.9 147.8h0M107.6 131.1h0M104.3 128.8h0M105.4 125.1h0M103.3 142.2h0M103.9 125.7h0M109.6 151.6h0M105.7 128.6h0M106.3 154.4h0M107.3 125.5h0M114.4 130.2h0M117.1 124.0h0M117.4 106.2h0M102.7 152.3h0M117.8 134.5h0M106.4 149.4h0M103.8 131.8h0M112.2 153.9h0M118.7 147.7h0M108.5 143.7h0M110.2 145.3h0M117.1 152.4h0M118.4 152.0h0M104.5 152.6h0M102.5 118.9h0M117.8 115.0h0M108.0 149.3h0M103.3 154.1h0M110.3 147.2h0M106.2 95.7h0M108.9 148.9h0M116.3 154.1h0M103.8 125.2h0M102.6 152.3h0M103.7 123.8h0M104.9 123.6h0M114.8 119.8h0M113.9 123.2h0M116.6 108.1h0M105.8 101.8h0M109.8 143.2h0M119.2 107.1h0M111.8 152.5h0M116.8 139.9h0M117.0 128.5h0M104.4 121.6h0M107.6 129.8h0M115.2 128.5h0M103.0 148.6h0M112.0 153.9h0M119.4 119.1h0M116.2 92.0h0M105.4 154.5h0M117.5 134.6h0M114.9 108.6h0M112.5 150.4h0M113.5 143.6h0M104.4 136.2h0M102.7 125.2h0M108.1 137.2h0M113.3 153.3h0M107.5 128.9h0M119.4 130.1h0M113.4 151.6h0M110.7 145.2h0M107.6 142.5h0M105.4 132.0h0M105.5 131.3h0M110.7 152.8h0M113.3 149.7h0M116.7 142.3h0M119.1 139.1h0M107.3 137.8h0M114.5 127.3h0M104.2 127.4h0M104.7 130.1h0M112.4 153.2h0M115.9 137.1h0M103.5 154.3h0M112.8 146.2h0M105.6 152.6h0M115.2 148.5h0M104.6 135.3h0M117.9 151.5h0M103.2 151.4h0M113.4 142.4h0M103.1 149.9h0M103.8 132.4h0M116.3 119.5h0M102.9 136.1h0M118.6 127.0h0M108.5 145.3h0M114.3 131.1h0M104.7 106.2h0M117.6 153.2h0M116.4 121.7h0M103.3 100.1h0M110.2 151.5h0M106.5 112.0h0M118.2 137.5h0M104.0 126.5h0M117.9 134.6h0M118.3 147.8h0M116.7 117.6h0M106.8 124.9h0M118.9 147.4h0M113.6 151.0h0M114.6 116.9h0M103.8 134.0h0M118.6 153.8h0M116.8 136.1h0M113.0 153.4h0M114.9 108.7h0M117.7 139.5h0M108.1 143.7h0M119.1 151.1h0M104.1 130.8h0M115.6 95.1h0M112.7 154.7h0M113.3 135.5h0M106.2 123.0h0M115.4 101.3h0M108.5 137.6h0M115.4 138.0h0M117.8 110.5h0M116.6 120.1h0M103.2 118.9h0M103.0 106.6h0M103.0 127.2h0M114.3 127.5h0M117.2 143.7h0M102.8 91.6h0M116.1 142.4h0M116.9 114.4h0M114.4 142.4h0M106.0 154.7h0M103.4 129.6h0M104.2 133.5h0M116.1 151.8h0M118.9 146.6h0M103.2 144.3h0M104.4 154.0h0M112.7 146.4h0M114.4 144.3h0M104.0 143.3h0M105.2 118.2h0M117.7 139.7h0M114.4 153.5h0M116.5 118.3h0M106.7 141.6h0M113.6 133.3h0M105.9 134.5h0M117.0 98.9h0M117.6 145.3h0M118.3 109.0h0M113.9 122.9h0M114.0 152.9h0M119.1 140.3h0M118.1 109.4h0M105.3 155.0h0M113.4 152.4h0M106.4 150.7h0M108.7 146.3h0M106.2 147.0h0M107.8 145.3h0M116.9 105.2h0M114.5 117.0h0M119.0 119.4h0M106.8 151.9h0M119.4 150.3h0M117.7 134.9h0M112.0 147.2h0M112.6 148.2h0M105.8 138.7h0M114.4 149.7h0M113.9 147.8h0M115.4 100.8h0M112.0 145.1h0M105.6 141.8h0M116.7 146.8h0M118.5 152.8h0M117.6 116.9h0M108.3 146.5h0M105.1 134.3h0M117.2 115.4h0M103.6 132.1h0M106.7 152.5h0M103.5 130.3h0M107.1 148.3h0M105.1 93.7h0M104.2 137.8h0M115.2 141.0h0M117.7 141.1h0M107.4 150.8h0M116.3 141.7h0M107.1 149.8h0M118.7 146.8h0M105.3 108.7h0M104.4 110.5h0M103.1 122.6h0M107.6 122.7h0M106.6 121.4h0M118.8 129.9h0M117.5 120.8h0M118.7 137.7h0M116.0 96.1h0M102.3 97.7h0M111.9 149.4h0M118.4 141.2h0M104.9 105.2h0M108.8 139.2h0M103.5 113.4h0M104.9 142.9h0M107.6 131.7h0M113.8 123.8h0M108.7 136.9h0M116.9 152.7h0M119.0 153.8h0M118.6 150.7h0M116.7 136.2h0M106.5 146.7h0M108.1 135.2h0M112.3 142.4h0M105.2 152.3h0M103.8 128.4h0M111.8 154.7h0M106.0 136.9h0M117.2 152.0h0M104.6 151.1h0M115.2 142.2h0M106.4 110.4h0M114.4 149.7h0M107.0 128.7h0M117.5 143.2h0M104.9 102.6h0M108.1 153.2h0M113.8 154.5h0M118.6 100.5h0M112.8 149.8h0M115.7 120.1h0M118.5 149.3h0M114.1 151.9h0M109.9 150.3h0M106.1 136.4h0M112.8 147.8h0M115.8 137.5h0M106.1 95.2h0M114.4 136.3h0M108.5 134.6h0M102.9 143.0h0M117.4 112.7h0M118.9 139.2h0M102.3 120.2h0M103.5 137.1h0M106.4 131.4h0M103.6 95.1h0M102.6 152.4h0M115.2 151.0h0M115.9 165.8h0M102.2 165.0h0M113.6 166.6h0M113.2 156.1h0M107.7 155.4h0M110.4 156.1h0M103.2 155.2h0M111.2 155.1h0M119.7 163.7h0M114.5 161.1h0M114.6 157.5h0M109.0 168.0h0M121.1 161.2h0M113.9 159.9h0M96.5 161.3h0M108.8 160.7h0M113.8 163.1h0M106.9 163.7h0M105.5 155.2h0M111.3 157.8h0M117.6 159.2h0M118.0 163.9h0M110.5 160.9h0M107.4 156.3h0M106.0 161.5h0M107.8 168.6h0M114.4 160.5h0M105.6 155.0h0M106.5 160.2h0M113.4 158.5h0M108.7 159.9h0M121.4 163.8h0M108.8 165.0h0M110.3 167.3h0M115.1 156.2h0M108.5 161.9h0M104.4 156.2h0M110.2 155.2h0M108.7 168.8h0M117.7 158.0h0M107.4 157.0h0M115.3 155.9h0M104.1 169.3h0M103.3 163.2h0M97.5 163.8h0M108.8 159.1h0M111.4 163.7h0M97.4 157.6h0M116.0 157.1h0M110.4 161.1h0M103.5 168.5h0M117.0 157.2h0M116.5 155.2h0M114.7 161.1h0M115.9 166.6h0M110.2 169.3h0M117.5 165.3h0M106.4 155.3h0M109.1 155.1h0M119.0 156.1h0M94.8 169.1h0M118.0 156.4h0M113.6 155.5h0M95.2 166.7h0M107.3 156.1h0M112.7 155.6h0M114.3 155.8h0M115.5 158.4h0M110.3 161.9h0M108.5 158.6h0M112.0 155.2h0M105.7 155.1h0M122.2 156.8h0M114.9 155.8h0M111.5 160.5h0M102.5 161.4h0M120.2 155.0h0M112.3 157.0h0M116.0 163.7h0M105.2 155.2h0M108.1 156.5h0M103.4 157.5h0M117.2 156.6h0M107.6 159.2h0M110.4 162.5h0M107.1 167.2h0M108.4 168.2h0M112.1 158.0h0M122.2 168.1h0M106.1 163.0h0M115.8 160.2h0M111.3 157.6h0M107.4 156.9h0M104.6 160.4h0M108.3 156.8h0M101.6 162.4h0M112.0 155.9h0M111.9 158.7h0M112.0 167.5h0M115.4 160.1h0M117.3 165.6h0M108.1 159.7h0M112.8 158.9h0M102.9 158.1h0M113.4 160.0h0M117.7 165.3h0M108.3 155.7h0M115.1 157.1h0M114.1 162.9h0M95.2 157.2h0M101.5 166.6h0M108.7 160.0h0M103.9 157.3h0M110.2 163.1h0M114.1 163.2h0M113.3 158.2h0M114.1 155.0h0M106.8 156.5h0M107.6 156.0h0M112.3 163.6h0M118.6 164.3h0M110.1 156.2h0M100.6 155.8h0M107.9 155.6h0M111.8 168.3h0M102.0 159.4h0M104.9 160.4h0M112.3 155.1h0M113.5 164.7h0M114.0 167.5h0M97.1 160.5h0M121.8 166.6h0M114.9 168.5h0M110.1 160.8h0M120.0 155.1h0M102.5 159.2h0M110.5 162.0h0M117.8 162.7h0M111.8 158.4h0M106.0 160.0h0M117.8 155.3h0M111.1 158.5h0M106.2 162.1h0M114.8 159.6h0M118.8 161.7h0M100.5 158.4h0M112.3 156.7h0M114.9 159.1h0M107.4 161.6h0M112.0 155.8h0M111.2 157.0h0M111.8 156.4h0M93.4 160.6h0M123.6 163.4h0M111.6 166.2h0M117.8 159.8h0M106.3 156.4h0M102.3 158.7h0M108.7 168.7h0M110.6 156.1h0M110.9 160.9h0M122.7 156.2h0M108.0 168.5h0M113.6 168.8h0M111.5 167.5h0M105.3 155.0h0M115.5 155.0h0M109.4 157.3h0M106.4 156.8h0M99.7 163.5h0M119.1 156.7h0M96.2 158.2h0M105.2 155.6h0M114.5 158.9h0M117.4 158.8h0M106.6 155.0h0M100.6 159.5h0M99.7 166.4h0M115.9 159.6h0M123.6 164.5h0M120.0 167.9h0M95.4 163.0h0M103.1 155.0h0M106.8 163.5h0M112.9 155.1h0M112.8 169.0h0M115.6 155.2h0M127.2 155.5h0M120.2 161.3h0M104.0 155.6h0M109.4 165.4h0M115.4 162.5h0M108.2 166.0h0M110.1 168.0h0M113.1 160.9h0M109.3 156.2h0M113.8 169.0h0M119.1 159.7h0M106.1 157.6h0M99.4 155.4h0M122.9 155.0h0M110.7 160.4h0M120.5 163.7h0M118.3 155.7h0M106.0 159.4h0M98.9 155.0h0M107.5 155.9h0M105.9 163.6h0M104.5 155.1h0M112.4 166.0h0M114.4 162.5h0M98.9 159.6h0M109.5 165.8h0M109.0 163.0h0M101.5 156.7h0M115.5 156.3h0M100.6 155.4h0M93.4 169.3h0M108.6 155.0h0M114.8 157.4h0M107.7 160.1h0M112.0 156.3h0M106.0 155.3h0M122.9 163.5h0M120.7 164.5h0M113.0 164.8h0M108.0 159.0h0M113.4 168.7h0M110.9 158.6h0M122.5 156.1h0M106.7 163.4h0M115.8 161.7h0M119.3 162.0h0M123.4 161.7h0M106.0 164.6h0M101.6 156.8h0M112.6 166.5h0M116.6 157.4h0M108.0 162.7h0M110.0 168.1h0M108.3 168.6h0M117.8 168.4h0M113.8 156.7h0M116.2 163.0h0M115.3 163.4h0M111.0 160.7h0M104.1 157.6h0M109.7 159.4h0M101.6 155.0h0M119.7 162.5h0M114.7 160.0h0M112.1 159.1h0M124.5 167.9h0M113.8 155.7h0M108.5 164.4h0M112.9 167.4h0M99.6 161.0h0M120.2 157.6h0M109.5 165.1h0M119.9 168.3h0M112.4 160.1h0M115.5 159.3h0M108.8 159.7h0M114.7 164.1h0M119.4 161.3h0M107.0 167.5h0M107.2 156.0h0M110.9 163.5h0M99.5 168.3h0M113.4 160.2h0M100.3 155.1h0M99.3 156.1h0M114.2 157.4h0M115.1 157.2h0M96.7 156.1h0M119.4 165.4h0M116.9 160.3h0M107.5 158.0h0M97.1 156.4h0M106.2 156.0h0M113.7 155.0h0M118.3 156.3h0M115.2 163.1h0M113.7 165.4h0M118.3 164.6h0M112.0 159.4h0M105.9 165.5h0M111.0 166.5h0M114.0 156.0h0M108.4 166.0h0M103.3 168.2h0M114.6 155.5h0M104.3 155.7h0M106.9 165.2h0M115.0 159.3h0M117.7 159.0h0M114.2 155.8h0M115.8 155.7h0M112.4 167.9h0M124.8 160.4h0M119.4 158.6h0M107.0 155.3h0M109.0 162.5h0M111.6 155.4h0M97.9 163.3h0M120.4 168.3h0M111.0 165.2h0M111.4 163.6h0M105.8 158.2h0M109.1 164.7h0M112.8 157.6h0M109.1 169.0h0M110.8 168.9h0M113.0 166.6h0M100.9 159.3h0M101.9 155.0h0M122.1 156.0h0M121.6 155.5h0M117.1 155.8h0M121.4 155.1h0M112.7 157.3h0M120.2 162.5h0M111.0 165.9h0M109.0 157.1h0M105.1 155.2h0M109.5 161.8h0M112.3 165.0h0M106.7 155.4h0M90.3 161.5h0M117.6 164.9h0M113.3 156.7h0M106.4 159.6h0M104.5 159.2h0M119.9 160.0h0M113.8 167.5h0M116.1 156.0h0M102.3 168.3h0M117.1 157.6h0M111.8 157.5h0M106.7 164.4h0M106.2 166.7h0M109.4 161.0h0M119.2 156.8h0M108.2 156.6h0M104.6 159.1h0M102.8 168.8h0M109.5 166.4h0M117.2 162.7h0M111.7 159.6h0M115.3 167.6h0M104.9 161.4h0M111.8 156.6h0M111.0 156.3h0M117.3 156.7h0M120.1 155.9h0M117.2 161.1h0M112.3 155.0h0M111.9 157.0h0M114.5 165.8h0M114.7 162.7h0M113.2 160.5h0M107.2 155.3h0M105.0 155.0h0M116.7 161.5h0M111.9 161.1h0M107.2 158.9h0M110.7 160.9h0M115.9 157.3h0M109.5 159.2h0M110.4 161.7h0M106.4 155.0h0M109.9 167.5h0M104.9 164.3h0M119.2 155.2h0M100.9 160.9h0M109.9 155.2h0M115.4 167.4h0M111.6 159.6h0M116.8 156.6h0M108.2 159.3h0M113.3 165.3h0M111.0 158.1h0M109.5 162.3h0M125.7 166.6h0M103.4 163.0h0M112.5 157.0h0M96.4 156.0h0M112.5 156.6h0M111.8 155.2h0M113.5 164.2h0M116.1 168.6h0M108.0 167.0h0M111.7 159.1h0M106.3 168.3h0M111.7 155.1h0M106.6 162.9h0M103.5 164.8h0M108.5 155.7h0M97.5 159.8h0M106.6 155.5h0M115.9 165.8h0M102.7 155.1h0M109.6 158.4h0M103.6 155.0h0M121.4 155.9h0M107.9 168.0h0M109.9 165.3h0M110.0 157.6h0M114.6 162.3h0M114.5 161.5h0M107.2 168.0h0M117.2 158.4h0M110.1 169.5h0M117.6 160.8h0M115.2 166.6h0M114.7 163.9h0M119.9 159.4h0M104.2 161.6h0M111.4 166.9h0M107.9 155.6h0M119.7 169.4h0M115.4 158.2h0M106.7 168.3h0M116.2 165.0h0M117.5 157.0h0M109.6 165.9h0M122.6 156.4h0M122.3 168.6h0M119.5 158.7h0M119.2 155.7h0M114.2 164.1h0M113.0 156.1h0M110.9 162.0h0M115.6 166.8h0M114.8 155.3h0M116.9 164.8h0M101.0 157.3h0M106.4 155.8h0M108.3 165.5h0M110.8 169.4h0M108.7 158.9h0M111.3 158.4h0M103.0 155.5h0M106.8 157.1h0M117.9 168.0h0M113.2 168.7h0M115.0 161.1h0M112.8 161.2h0M120.3 167.2h0M115.6 155.6h0M122.1 159.4h0M110.6 156.8h0M110.2 157.6h0M107.6 158.2h0M106.1 160.0h0M101.8 157.2h0M114.1 155.2h0M111.5 169.0h0M108.0 155.3h0M111.5 159.6h0M117.1 169.2h0M115.5 157.2h0M102.7 155.2h0M107.2 158.4h0M115.7 167.4h0M119.9 157.2h0M109.4 165.4h0M114.1 167.1h0M109.2 155.1h0M108.8 155.7h0M115.7 157.4h0M115.1 156.2h0M125.0 155.6h0M100.8 160.5h0M112.1 157.2h0M99.9 156.5h0M117.2 156.0h0M117.8 156.0h0M100.9 162.2h0M110.3 156.9h0M106.9 158.4h0M107.3 156.8h0M108.5 164.1h0M113.6 164.6h0M121.8 166.2h0M110.7 166.0h0M104.5 155.4h0M108.5 156.1h0M110.2 169.2h0M118.5 164.8h0M116.9 155.4h0M119.8 166.5h0M121.8 155.1h0M125.2 158.0h0M107.9 157.8h0M97.7 167.3h0M109.1 155.8h0M115.8 155.5h0M105.4 157.7h0M120.3 160.5h0M105.8 165.7h0M125.4 155.1h0M104.0 166.4h0M112.0 157.9h0M115.2 155.8h0M114.9 163.7h0M100.9 164.2h0M110.0 160.5h0M127.4 160.4h0M114.9 163.8h0M119.7 167.4h0M115.9 160.6h0M105.2 159.6h0M99.4 164.9h0M110.6 164.5h0M107.7 155.2h0M123.2 155.6h0M124.1 167.6h0M119.7 161.6h0M113.2 167.8h0M120.3 157.5h0M111.8 155.0h0M110.7 161.9h0M115.4 155.1h0M100.1 156.1h0M116.3 166.3h0M110.1 161.8h0M113.2 158.5h0M115.1 162.3h0M107.3 156.1h0M113.2 160.3h0M99.9 159.5h0M109.7 163.0h0M112.0 162.3h0M110.1 161.4h0M100.4 164.0h0M113.5 156.6h0M117.2 155.4h0M105.3 155.1h0M115.7 161.8h0M111.4 155.9h0M114.4 155.2h0M106.3 164.1h0M107.1 157.4h0M98.7 165.9h0M113.3 155.5h0M109.7 156.4h0M100.3 155.4h0M114.6 167.4h0M114.3 156.2h0M110.5 157.4h0M106.6 164.6h0M103.9 155.7h0M114.9 167.2h0M101.3 166.0h0M110.1 169.1h0M118.7 166.2h0M116.4 158.4h0M107.8 157.2h0M108.0 156.5h0M103.3 164.1h0M107.4 160.5h0M117.8 155.1h0M121.8 163.4h0M111.1 163.5h0M98.1 157.4h0M115.3 164.9h0M128.2 155.8h0M118.3 163.6h0M115.2 158.8h0M109.3 160.0h0M118.8 157.9h0M104.7 155.0h0M114.2 155.9h0M114.8 159.4h0M96.1 162.4h0M112.2 162.5h0M108.5 157.3h0M116.7 161.4h0M113.3 166.3h0M110.9 160.7h0M107.7 159.2h0M122.5 168.5h0M114.9 164.7h0M103.4 155.3h0M107.0 156.2h0M114.6 156.1h0M93.4 162.9h0M114.0 166.7h0M102.9 161.5h0M106.0 155.6h0M106.9 156.2h0M109.1 163.0h0M114.0 158.1h0M125.3 165.1h0M114.2 169.1h0M105.8 156.9h0M115.2 157.5h0M119.8 155.6h0M105.0 167.6h0M101.4 168.3h0M98.2 159.8h0M115.9 166.7h0M108.0 157.5h0M112.7 156.5h0M105.0 157.1h0M115.6 163.2h0M117.3 159.5h0M99.0 157.0h0M101.5 163.6h0M109.1 161.7h0M110.9 158.2h0M104.2 167.1h0M109.7 158.2h0M100.5 164.1h0M117.6 167.1h0M99.4 164.8h0M118.9 162.1h0M102.1 155.1h0M126.4 165.9h0M123.9 163.0h0M114.3 169.1h0M119.9 167.3h0M102.9 158.5h0M108.4 157.0h0M122.2 156.3h0M104.8 155.4h0M113.8 163.1h0M119.9 158.4h0M110.7 165.6h0M112.1 157.8h0M105.3 155.9h0M105.8 165.8h0M101.7 155.4h0M101.0 169.4h0M115.4 162.0h0M110.3 158.9h0M112.8 160.3h0M110.1 167.7h0M132.1 160.1h0M109.9 155.6h0M103.9 156.2h0M114.1 156.1h0M111.5 159.7h0M110.9 164.6h0M99.8 166.7h0M105.3 155.7h0M115.2 157.4h0M104.8 160.5h0M115.9 164.5h0M101.0 157.5h0M105.4 165.8h0M117.0 159.9h0M118.9 155.5h0M112.9 161.5h0M113.8 166.4h0M116.1 156.3h0M116.1 168.8h0M111.0 155.3h0M110.8 167.1h0M108.1 155.5h0M116.9 161.0h0M121.7 159.3h0M112.7 159.1h0M110.7 160.1h0M111.2 158.6h0M122.1 165.6h0M107.4 161.0h0M106.5 167.8h0M111.5 161.3h0M106.2 162.8h0M106.8 155.6h0M105.1 157.0h0M113.5 164.6h0M100.7 155.2h0M113.5 156.7h0M119.1 160.8h0M112.5 155.0h0M109.9 158.5h0M105.0 157.5h0M105.4 160.5h0M122.0 163.5h0M104.8 166.1h0M113.6 163.7h0M111.5 159.8h0M101.2 156.7h0M114.9 155.4h0M119.3 156.3h0M119.6 155.6h0M125.1 159.3h0M107.1 155.4h0M106.1 169.3h0M110.5 168.5h0M103.7 169.2h0M115.4 155.4h0M119.9 156.0h0M112.6 165.3h0M110.6 155.5h0M96.6 161.1h0M110.6 160.9h0M109.2 164.4h0M113.8 159.4h0M107.8 164.9h0M128.2 164.0h0M106.7 155.8h0M108.6 155.3h0M109.5 157.6h0M115.7 156.1h0M109.0 157.0h0M112.5 162.8h0M108.5 160.0h0M112.0 160.1h0M105.9 160.8h0M118.1 160.0h0M120.0 156.4h0M116.1 164.0h0M117.0 155.1h0M115.7 164.5h0M116.9 155.1h0M103.0 156.2h0M107.4 167.3h0M103.8 163.4h0M107.4 155.7h0M107.0 166.2h0M116.9 166.3h0M117.9 160.1h0M104.4 164.8h0M114.8 164.0h0M120.4 159.0h0M117.6 156.4h0M115.6 158.5h0M120.1 161.2h0M117.4 159.5h0M110.6 162.1h0M115.2 160.2h0M115.5 156.0h0M106.7 160.9h0M107.9 157.3h0M104.6 157.6h0M119.7 163.4h0M103.5 155.4h0M107.3 161.9h0M103.0 155.4h0M117.4 157.0h0M103.4 159.6h0M110.0 156.1h0M112.7 159.2h0M101.8 155.7h0M104.3 163.3h0M110.6 159.1h0M104.1 155.3h0M121.3 160.5h0M102.8 168.5h0M112.8 157.3h0M105.9 161.1h0M113.4 161.0h0M118.8 156.4h0M115.5 159.4h0M96.4 156.7h0M110.4 160.1h0M117.2 158.5h0M101.2 160.3h0M111.2 158.1h0M121.2 159.9h0M106.9 156.8h0M113.1 162.7h0M119.7 161.4h0M108.2 164.4h0M104.1 155.5h0M118.2 155.9h0M92.3 157.7h0M103.6 158.7h0M104.3 155.4h0M113.3 169.2h0M109.1 159.4h0M110.5 167.1h0M104.8 162.7h0M100.7 162.4h0M116.1 159.8h0M116.5 158.3h0M104.1 157.4h0M117.1 158.8h0M106.0 162.2h0M110.6 167.6h0M115.7 159.8h0M117.7 155.3h0M99.5 160.8h0M99.0 162.3h0M101.4 168.7h0M106.6 155.1h0M104.0 162.5h0M117.7 155.9h0M110.2 155.5h0M99.7 155.0h0M104.8 155.8h0M111.8 157.9h0M106.7 162.5h0M114.0 164.7h0M110.6 162.3h0M109.8 155.3h0M107.6 168.1h0M122.3 155.6h0M109.8 161.5h0M114.3 155.9h0M109.5 160.3h0M108.4 167.6h0M118.7 156.0h0M110.1 160.6h0M109.1 158.8h0M110.2 157.2h0M120.8 155.7h0M98.5 156.0h0M108.2 163.4h0M104.9 162.0h0M112.1 159.2h0M102.3 161.1h0M110.4 155.8h0M108.8 159.7h0M119.7 160.1h0M114.0 156.1h0M93.5 164.8h0M116.8 155.0h0M117.5 165.1h0M108.1 164.9h0M114.9 155.3h0M114.7 159.4h0M113.6 161.4h0M98.9 155.3h0M108.6 161.3h0M114.1 157.4h0M109.8 168.4h0M97.4 155.1h0M118.2 166.2h0M110.3 157.0h0M112.4 161.5h0M107.5 159.0h0M110.7 160.2h0M111.8 161.5h0M110.2 157.8h0M107.5 168.2h0M114.0 155.4h0M108.3 157.9h0M102.5 155.2h0M109.5 155.0h0M109.5 166.0h0M110.4 168.9h0M111.4 156.1h0M113.3 167.4h0M115.4 155.7h0M102.7 155.0h0M112.1 155.6h0M111.1 162.1h0M106.2 160.7h0M111.7 165.5h0M112.4 160.7h0M118.7 165.8h0M107.2 164.6h0M109.6 164.3h0M116.6 157.1h0M108.9 157.7h0M94.8 160.5h0M107.3 160.3h0M110.5 159.1h0M115.2 155.2h0M113.2 168.4h0M111.1 168.0h0M120.9 162.2h0M101.2 157.6h0M117.3 166.1h0M118.3 155.2h0M113.5 155.2h0M113.6 158.5h0M117.1 162.6h0M116.0 160.9h0M109.7 157.7h0M109.9 159.2h0M105.9 155.5h0M112.0 158.4h0M112.5 168.1h0M103.6 161.1h0M108.2 159.6h0M103.8 162.8h0M108.4 161.1h0M105.8 159.7h0M112.5 157.2h0M115.8 165.9h0M111.5 165.1h0M118.2 156.4h0M107.4 169.1h0M112.3 163.6h0M104.6 158.8h0M110.2 162.0h0M97.8 163.8h0M107.9 164.7h0M117.9 157.2h0M122.9 159.0h0M106.3 156.0h0M111.7 164.1h0M112.4 155.4h0M114.1 155.5h0M110.1 159.7h0M119.7 155.3h0M108.7 155.8h0M103.0 158.3h0M106.6 155.4h0M109.0 157.0h0M107.9 164.9h0M113.3 161.2h0M114.2 167.6h0M113.8 168.3h0M112.1 159.9h0M113.0 159.1h0M111.1 155.2h0M116.1 165.3h0M121.5 168.8h0M100.1 166.6h0M108.8 155.3h0M108.5 155.7h0M101.9 157.3h0M119.4 165.1h0M105.1 160.3h0M108.6 165.7h0M125.1 158.2h0M108.0 160.6h0M111.7 159.2h0M115.8 159.8h0M118.3 161.9h0M116.8 161.9h0M111.8 161.4h0M108.0 155.0h0M110.1 159.6h0M104.2 157.8h0M109.5 155.5h0M115.2 167.6h0M125.5 168.4h0M100.6 167.1h0M111.7 156.6h0M114.6 158.5h0M101.0 168.0h0M113.8 159.6h0M117.8 165.3h0M95.3 155.0h0M104.5 167.0h0M115.7 160.4h0M105.5 161.8h0M116.7 169.4h0M119.5 168.8h0M119.3 165.6h0M112.4 157.1h0M116.9 159.2h0M112.7 157.8h0M123.7 166.4h0M106.0 156.7h0M106.7 168.9h0M118.0 161.9h0M117.9 168.1h0M117.5 155.0h0M111.5 157.9h0M105.1 157.9h0M118.1 164.3h0M122.4 157.9h0M110.8 167.4h0M107.9 158.8h0M110.3 156.6h0M123.2 162.0h0M109.9 164.0h0M117.8 158.1h0M103.2 166.3h0M112.2 165.9h0M110.8 159.7h0M105.9 167.9h0M109.8 159.3h0M102.4 158.4h0M103.5 165.7h0M109.4 157.1h0M109.8 156.8h0M113.7 165.4h0M105.5 160.4h0M112.8 162.9h0M116.5 163.1h0M104.3 169.2h0M105.0 156.4h0M113.5 157.6h0M112.8 165.0h0M108.2 164.4h0M111.4 155.0h0M98.0 158.4h0M115.1 164.8h0M122.4 162.3h0M115.7 155.5h0M107.2 158.0h0M120.2 155.2h0M111.1 155.7h0M110.1 167.3h0M103.0 155.9h0M115.2 168.1h0M117.4 160.9h0M118.3 165.5h0M108.5 166.8h0M97.0 162.2h0M103.9 158.4h0M105.0 164.6h0M119.2 155.0h0M105.4 164.1h0M121.5 155.6h0M103.8 156.7h0M113.1 157.4h0M101.3 161.6h0M105.4 155.7h0M118.2 155.6h0M110.3 158.4h0M101.9 164.6h0M118.5 160.6h0M115.1 159.8h0M110.8 159.7h0M120.6 155.5h0M107.5 164.7h0M97.9 163.0h0M107.7 155.0h0M107.4 156.1h0M109.4 169.1h0M109.8 166.4h0M111.9 158.9h0M110.9 155.3h0M108.2 160.6h0M107.2 163.4h0M109.2 157.5h0M105.0 159.2h0M119.8 158.2h0M92.0 159.3h0M110.4 165.7h0M105.4 167.0h0M107.6 159.9h0M105.7 166.3h0M110.9 155.0h0M115.5 168.5h0M89.2 158.5h0M116.6 159.7h0M109.1 155.8h0M106.1 157.2h0M106.3 162.8h0M107.9 156.9h0M114.7 160.9h0M117.9 161.7h0M112.5 155.0h0M110.7 161.1h0M105.1 155.8h0M110.0 167.2h0M114.1 167.2h0M111.9 156.2h0M117.4 155.6h0M104.8 155.3h0M112.6 159.3h0M111.0 155.6h0M89.0 156.3h0M116.8 162.1h0M100.5 159.3h0M109.1 165.1h0M113.5 162.0h0M112.1 160.4h0M106.4 163.8h0M120.8 160.8h0M103.4 156.8h0M115.4 161.5h0M110.5 162.3h0M117.2 162.3h0M111.5 155.1h0M117.5 156.8h0M104.0 166.7h0M112.4 166.7h0M113.1 155.7h0M107.4 156.7h0M117.7 165.6h0M104.2 160.2h0M116.1 161.1h0M99.3 162.4h0M111.5 159.3h0M104.1 161.9h0M111.7 166.3h0M109.4 163.3h0M115.3 158.2h0M106.0 162.1h0M114.9 155.5h0M119.9 156.1h0M115.8 160.4h0M110.8 168.0h0M104.2 163.6h0M113.5 155.2h0M124.4 169.2h0M95.9 166.9h0M115.1 165.2h0M111.3 161.3h0M110.3 161.7h0M110.4 169.2h0M114.1 162.6h0M104.1 160.0h0M104.8 157.0h0M107.7 161.1h0M108.1 164.5h0M116.7 155.6h0M105.6 156.0h0M111.6 167.6h0M113.5 161.5h0M108.4 163.6h0M113.1 157.8h0M99.9 166.1h0M108.5 155.7h0M115.4 156.9h0M105.7 169.2h0M115.7 160.1h0M116.7 161.2h0M98.8 157.0h0M110.2 165.9h0M112.8 161.6h0M115.2 159.0h0M115.9 165.0h0M116.5 167.9h0M121.9 164.7h0M115.6 159.1h0M105.7 155.2h0M101.7 155.4h0M118.8 156.5h0M114.4 162.4h0M102.0 159.3h0M118.8 167.8h0M97.0 162.9h0M104.5 165.4h0M112.9 168.3h0M119.1 168.6h0M124.7 160.6h0M118.2 157.5h0M117.3 157.3h0M109.6 155.1h0M116.0 163.3h0M107.7 155.1h0M106.3 159.0h0M108.7 158.2h0M104.0 158.0h0M112.6 158.8h0M107.6 157.1h0M105.8 160.4h0M115.8 168.0h0M115.0 166.8h0M109.5 165.6h0M112.8 159.5h0M104.5 164.1h0M111.6 157.6h0M101.6 158.3h0M116.8 155.2h0M106.1 155.1h0M114.0 155.5h0M103.7 160.6h0M113.6 155.1h0M106.9 168.9h0M112.1 164.0h0M108.2 163.6h0M108.0 156.4h0M111.2 156.8h0M105.7 168.2h0M109.9 165.7h0M114.9 158.5h0M116.4 168.1h0M107.1 158.5h0M112.4 155.3h0M102.6 155.5h0M110.5 168.0h0M117.6 155.7h0M113.4 167.3h0M114.2 163.8h0M107.0 155.4h0M108.6 156.9h0M113.3 159.4h0M109.2 160.5h0M115.1 159.2h0M114.5 160.4h0M102.9 163.6h0M126.7 155.0h0M109.2 155.6h0M118.8 157.4h0M107.6 155.9h0M112.1 159.4h0M117.8 159.0h0M109.8 156.0h0M110.7 156.8h0M122.4 166.6h0M104.6 155.0h0M110.3 160.5h0M110.3 159.3h0M112.7 167.2h0M115.1 155.0h0M107.5 156.5h0M114.3 162.5h0M107.5 160.7h0M110.6 160.3h0M112.9 169.5h0M110.9 155.9h0M108.0 168.9h0M114.7 155.0h0M110.4 166.2h0M111.3 158.3h0M120.5 155.5h0M100.3 165.8h0M108.9 169.4h0M116.1 166.7h0M123.0 155.5h0M103.1 159.0h0M112.3 166.1h0M111.4 155.5h0M103.8 167.0h0M118.0 168.9h0M104.7 157.6h0M120.9 169.2h0M114.3 163.9h0M121.5 155.6h0M115.5 165.5h0M109.7 168.7h0M107.5 161.5h0M104.5 169.2h0M109.5 156.5h0M118.2 166.3h0M115.3 160.7h0M124.9 165.0h0M111.7 160.1h0M112.1 156.9h0M115.3 156.2h0M124.7 158.8h0M109.7 164.6h0M118.1 166.5h0M113.4 157.9h0M108.7 155.4h0M106.1 167.7h0M110.2 155.9h0M107.9 162.4h0M115.6 160.4h0M98.9 157.1h0M99.8 155.6h0M104.2 157.1h0M108.1 161.2h0M116.2 160.2h0M122.8 159.7h0M115.4 161.2h0M105.5 162.7h0M102.2 167.3h0M106.7 160.0h0M111.8 168.1h0M117.0 163.1h0M116.9 163.6h0M110.7 155.4h0M101.3 159.3h0M116.9 163.2h0M120.0 155.7h0M112.7 161.9h0M112.8 159.9h0M105.6 160.5h0M104.6 156.9h0M103.9 161.4h0M102.2 160.5h0M107.2 159.6h0M103.1 155.4h0M110.6 164.4h0M110.3 157.8h0M109.4 159.3h0M107.1 161.8h0M112.6 156.6h0M113.3 168.7h0M99.1 165.6h0M112.3 166.6h0M105.8 159.6h0M118.8 159.9h0M112.4 157.4h0M107.2 156.4h0M113.1 166.8h0M114.5 166.5h0M118.4 157.1h0M104.7 158.6h0M100.2 155.6h0M118.7 160.9h0M113.3 155.4h0M102.1 161.9h0M118.5 162.4h0M120.3 155.4h0M106.3 157.9h0M106.3 161.2h0M106.8 162.1h0M121.7 165.5h0M104.8 155.5h0M102.0 157.8h0M113.9 163.9h0M115.6 161.0h0M111.1 165.3h0M122.1 166.4h0M107.2 162.2h0M113.3 155.5h0M113.1 165.7h0M106.3 156.1h0M111.0 163.0h0M122.3 155.2h0M113.1 167.6h0M113.2 167.4h0M110.6 164.1h0M102.5 167.8h0M116.8 157.0h0M108.0 158.9h0M111.3 157.9h0M108.7 157.7h0M109.9 163.0h0M122.9 165.2h0M110.8 161.0h0M105.2 155.7h0M106.4 164.2h0M112.9 163.5h0M103.4 161.5h0M107.2 158.9h0M109.4 155.1h0M109.7 167.4h0M112.0 165.0h0M106.9 164.2h0M106.8 157.6h0M96.3 155.6h0M107.1 161.3h0M99.3 160.1h0M102.5 160.0h0M114.2 155.4h0M109.6 165.7h0M118.2 168.5h0M102.4 155.8h0M108.0 163.0h0M98.6 166.3h0M119.0 165.6h0M107.0 158.6h0M125.2 156.8h0M108.1 162.4h0M110.2 155.5h0M113.3 161.7h0M117.5 164.8h0M117.2 155.1h0M111.1 159.5h0M118.8 157.8h0M113.4 156.2h0M119.6 168.2h0M112.0 166.8h0M109.3 164.7h0M114.8 160.9h0M114.8 159.6h0M115.4 156.9h0M115.9 165.8h0M102.4 165.5h0M123.1 156.2h0M100.2 159.2h0M112.8 155.1h0M112.3 166.8h0M118.0 168.9h0M105.1 167.6h0M111.5 159.2h0M105.0 167.4h0M105.4 159.2h0M120.0 158.1h0M99.0 167.1h0M113.8 168.0h0M109.1 155.1h0M106.4 160.9h0M105.7 163.4h0M116.3 159.6h0M108.3 158.3h0M109.5 167.2h0M111.5 155.1h0M99.5 162.1h0M109.3 156.9h0M114.0 159.8h0M114.3 155.1h0M113.9 160.0h0M115.7 155.8h0M110.5 158.6h0M118.2 157.7h0M110.5 162.3h0M112.0 167.5h0M116.0 166.3h0M106.3 164.6h0M101.3 156.9h0M116.7 156.7h0M126.4 161.0h0M108.4 155.2h0M108.6 158.6h0M114.4 161.4h0M107.1 162.7h0M113.5 159.6h0M112.4 164.2h0M111.1 163.3h0M115.5 156.1h0M109.8 166.5h0M102.6 167.8h0M108.2 163.0h0M121.5 165.9h0M110.4 166.1h0M119.0 161.7h0M115.4 164.3h0M114.6 155.2h0M117.6 159.4h0M109.3 166.3h0M112.9 156.0h0M111.3 161.3h0M107.8 155.0h0M118.9 163.3h0M108.9 163.0h0M117.8 168.3h0M105.2 164.0h0M118.5 156.8h0M116.9 155.1h0M115.6 160.2h0M112.7 157.8h0M111.7 166.3h0M110.2 156.3h0M109.1 155.9h0M109.3 159.2h0M111.0 166.9h0M107.0 157.3h0M100.6 159.0h0M118.4 159.4h0M101.4 161.5h0M118.7 163.0h0M115.6 168.2h0M109.3 160.5h0M114.0 156.3h0M113.1 157.8h0M113.3 156.1h0M110.8 166.1h0M108.1 155.2h0M128.6 167.0h0M114.5 159.3h0M117.2 167.0h0M121.2 160.3h0M101.0 157.0h0M121.2 156.5h0M119.8 165.8h0M127.0 159.3h0M110.3 164.2h0M116.8 155.4h0M113.7 155.7h0M116.7 161.3h0M105.5 168.8h0M100.9 155.7h0M111.8 162.6h0M110.2 155.5h0M109.7 163.3h0M105.6 158.7h0M119.8 155.8h0M109.6 155.8h0M100.5 155.3h0M112.7 155.5h0M111.2 157.2h0M108.6 157.3h0M116.5 164.9h0M106.1 166.0h0M118.5 161.4h0M116.0 161.2h0M121.3 160.2h0M105.2 155.3h0M105.1 155.0h0M104.5 165.7h0M108.8 158.5h0M118.5 155.3h0M100.9 155.0h0M119.6 157.4h0M119.3 156.8h0M109.8 160.6h0M113.5 155.1h0M115.1 158.2h0M126.5 168.4h0M117.4 155.5h0M110.2 160.3h0M109.9 158.4h0M115.8 164.5h0M110.8 157.9h0M106.4 158.5h0M110.2 161.3h0M117.4 156.8h0M108.3 159.0h0M110.0 165.2h0M117.8 159.0h0M122.0 155.7h0M120.2 168.8h0M118.6 155.1h0M114.0 157.5h0M105.4 155.8h0M117.6 156.7h0M111.8 163.0h0M105.6 168.4h0M111.0 155.0h0M97.5 156.7h0M114.6 164.7h0M103.7 155.1h0M118.6 162.6h0M107.7 155.2h0M108.0 155.0h0M116.9 156.7h0M101.8 155.2h0M113.5 155.4h0M113.5 157.7h0M104.5 156.0h0M111.7 168.1h0" stroke="#bebebe" stroke-width="1.7" stroke-linecap="round" fill="none"/><path d="M39.9 50.2h0M55.4 30.1h0M59.8 30.1h0M45.9 35.7h0M61.5 37.9h0M53.7 50.2h0M75.3 43.5h0M84.8 39.0h0M69.3 59.1h0M65.8 79.2h0M72.7 91.5h0M62.4 99.3h0M68.4 112.6h0M71.0 124.9h0M67.5 53.5h0M77.9 48.0h0M73.6 66.9h0M97.9 116.5h0M91.5 87.2h0M94.1 135.9h0M90.3 142.7h0M81.8 87.9h0M97.4 110.8h0M101.8 150.4h0M86.3 107.6h0M88.6 110.5h0M89.3 101.8h0M97.1 94.3h0M93.2 112.3h0M101.6 149.8h0M96.9 124.5h0M97.4 126.2h0M101.9 150.7h0M101.8 133.4h0M89.3 92.1h0M89.6 151.2h0M80.8 110.4h0M98.9 97.5h0M85.4 109.4h0M96.0 91.3h0M88.7 130.7h0M92.3 120.5h0M92.3 147.5h0M78.2 100.4h0M97.8 131.9h0M95.4 106.4h0M83.8 111.5h0M96.5 95.8h0M88.7 115.4h0M101.5 141.7h0M100.5 138.1h0M94.2 79.4h0M102.1 138.6h0M78.4 130.5h0M98.1 116.8h0M83.2 95.7h0M58.5 83.2h0M85.8 101.3h0M101.8 148.3h0M97.9 119.7h0M94.1 138.2h0M95.9 117.8h0M87.7 154.2h0M72.0 127.3h0M96.3 89.8h0M80.2 127.4h0M100.5 116.7h0M101.0 96.9h0M96.1 123.5h0M92.7 150.9h0M100.8 136.8h0M81.3 80.0h0M101.3 141.8h0M101.5 146.1h0M91.5 152.1h0M100.7 148.6h0M98.7 72.7h0M101.1 153.4h0M93.6 73.8h0M84.8 112.8h0M73.0 135.3h0M93.9 138.6h0M88.4 90.6h0M83.5 105.8h0M99.3 139.1h0M83.7 114.3h0M98.6 113.3h0M100.4 151.6h0M88.4 143.8h0M97.7 132.0h0M83.4 114.3h0M96.0 77.0h0M82.1 106.2h0M84.3 115.5h0M86.5 109.9h0M99.3 110.3h0M89.1 147.1h0M89.1 148.8h0M91.2 115.3h0M85.6 148.4h0M100.3 105.8h0M99.2 121.1h0M56.1 110.7h0M80.8 115.6h0M87.4 121.3h0M90.7 90.1h0M101.1 109.1h0M99.3 95.0h0M89.1 61.3h0M94.9 122.4h0M86.1 144.5h0M93.4 137.2h0M85.2 137.3h0M98.2 123.9h0M99.6 94.4h0M90.0 95.4h0M91.5 113.1h0M85.2 114.8h0M87.0 132.4h0M101.5 143.0h0M88.8 90.4h0M83.0 152.3h0M94.3 120.1h0M90.7 146.7h0M93.5 148.9h0M92.3 143.7h0M92.6 131.2h0M94.5 84.3h0M88.1 145.2h0M81.6 98.9h0M92.1 151.3h0M99.6 143.8h0M93.9 114.7h0M100.4 142.5h0M97.6 146.3h0M89.2 136.3h0M100.0 83.0h0M99.9 111.0h0M89.0 137.8h0M88.2 117.4h0M100.7 112.1h0M101.7 147.1h0M85.5 123.4h0M96.2 117.6h0M94.6 145.4h0M89.1 134.4h0M89.4 143.4h0M99.5 84.3h0M100.6 143.7h0M78.4 93.8h0M76.8 127.9h0M95.9 115.5h0M94.7 53.1h0M83.6 89.5h0M94.4 93.4h0M92.4 143.5h0M99.5 72.8h0M96.8 124.9h0M101.3 98.4h0M100.9 124.5h0M96.9 91.4h0M98.6 81.4h0M99.3 105.5h0M94.4 97.1h0M81.5 118.3h0M94.3 124.9h0M80.1 115.1h0M100.8 145.7h0M84.9 105.4h0M99.3 139.0h0M90.9 149.9h0M101.0 144.9h0M92.5 148.7h0M87.6 123.2h0M87.1 98.3h0M90.4 145.7h0M93.8 92.3h0M87.2 142.1h0M98.9 107.3h0M101.6 78.4h0M80.6 109.5h0M96.8 96.8h0M90.1 147.7h0M89.0 112.0h0M93.1 152.2h0M95.2 139.2h0M98.9 102.0h0M96.8 149.2h0M100.5 96.1h0M96.2 88.8h0M101.1 131.5h0M99.6 138.3h0M93.9 137.4h0M93.0 139.4h0M91.8 54.4h0M97.7 153.1h0M94.3 107.6h0M82.3 116.4h0M79.8 140.8h0M90.9 91.0h0M98.3 151.1h0M100.8 140.0h0M78.6 80.5h0M92.5 137.4h0M100.6 149.1h0M95.3 147.0h0M75.2 95.5h0M101.1 123.4h0M101.8 114.8h0M79.8 142.8h0M100.2 98.3h0M102.0 99.6h0M101.6 152.1h0M88.1 98.5h0M94.5 117.8h0M88.2 128.6h0M90.4 89.6h0M94.5 134.0h0M96.9 109.4h0M95.1 143.5h0M94.9 105.5h0M97.9 96.3h0M96.3 101.7h0M82.8 101.9h0M93.3 80.9h0M83.9 98.3h0M81.1 127.7h0M100.2 116.0h0M80.9 100.7h0M100.8 130.8h0M95.1 136.9h0M96.2 121.3h0M90.3 135.4h0M98.8 88.4h0M80.3 110.9h0M93.4 114.3h0M59.2 77.5h0M80.7 100.1h0M98.6 116.4h0M82.2 96.1h0M97.4 113.6h0M84.7 81.2h0M101.8 113.5h0M100.3 99.6h0M102.0 95.9h0M86.7 124.8h0M84.5 121.4h0M101.5 136.8h0M68.3 121.6h0M99.3 89.9h0M100.4 137.5h0M95.8 76.9h0M85.3 89.3h0M91.8 143.7h0M89.9 153.5h0M88.5 140.4h0M87.2 115.6h0M82.2 153.1h0M91.2 105.0h0M88.3 148.3h0M88.0 131.1h0M89.3 114.3h0M102.0 82.9h0M95.2 111.2h0M99.0 88.3h0M93.1 67.8h0M101.7 75.4h0M100.8 141.9h0M101.9 153.3h0M101.0 118.6h0M66.1 99.6h0M90.3 103.6h0M99.9 122.9h0M102.1 103.5h0M76.9 110.7h0M95.5 149.6h0M94.6 93.8h0M100.4 127.4h0M84.6 119.6h0M90.0 146.1h0M88.8 119.2h0M99.5 117.8h0M77.4 123.1h0M93.1 116.5h0M83.8 101.0h0M86.7 113.2h0M95.9 150.7h0M99.9 98.4h0M92.8 126.1h0M98.4 139.3h0M66.9 91.2h0M100.9 140.4h0M89.1 135.2h0M86.7 118.6h0M99.8 150.4h0M100.4 131.3h0M87.1 91.3h0M84.8 141.7h0M80.6 120.4h0M100.2 86.8h0M79.2 103.9h0M94.3 94.2h0M96.8 119.2h0M100.8 96.4h0M100.9 96.2h0M94.9 149.5h0M100.1 134.9h0M98.0 93.5h0M101.9 138.6h0M95.8 96.3h0M96.0 106.7h0M92.3 145.2h0M98.6 108.1h0M99.8 117.5h0M92.2 94.8h0M92.6 99.6h0M90.8 130.5h0M100.5 140.5h0M81.3 112.6h0M89.4 119.1h0M82.1 113.0h0M99.0 113.8h0M97.2 132.1h0M68.2 106.2h0M92.0 108.0h0M98.9 101.7h0M97.0 81.4h0M44.0 113.3h0M100.2 140.7h0M92.1 148.9h0M84.5 125.6h0M90.5 136.3h0M89.7 72.2h0M100.1 111.5h0M93.9 144.5h0M94.3 143.8h0M87.1 108.9h0M91.3 150.7h0M98.4 77.7h0M93.9 133.8h0M92.8 83.1h0M99.3 129.3h0M82.6 110.9h0M98.1 108.8h0M80.3 99.8h0M85.7 125.5h0M99.4 120.0h0M90.1 137.6h0M84.6 103.9h0M89.2 142.9h0M99.5 101.3h0M92.6 105.4h0M86.8 115.4h0M84.8 114.6h0M97.5 147.8h0M81.9 85.6h0M86.5 102.7h0M87.8 70.0h0M96.5 73.2h0M87.4 77.6h0M96.9 89.9h0M100.7 133.4h0M99.1 112.2h0M101.5 146.6h0M97.2 103.6h0M81.5 99.4h0M100.2 122.7h0M85.8 84.9h0M90.4 58.7h0M96.4 86.7h0M92.1 144.7h0M95.8 155.0h0M86.0 120.9h0M101.9 108.1h0M90.2 93.9h0M88.6 80.3h0M85.9 130.4h0M76.9 101.0h0M89.4 121.4h0M98.8 132.6h0M99.4 91.8h0M98.5 152.5h0M90.6 140.3h0M93.3 147.3h0M83.4 122.1h0M96.7 125.0h0M100.6 72.1h0M81.8 123.2h0M85.7 114.9h0M96.9 115.2h0M94.0 141.5h0M86.4 134.4h0M94.7 135.0h0M86.0 111.8h0M71.5 83.6h0M78.5 104.5h0M94.9 151.8h0M100.2 94.8h0M89.5 70.9h0M97.5 83.3h0M99.5 105.1h0M101.3 139.1h0M82.9 118.9h0M92.6 113.4h0M80.8 109.0h0M90.9 77.4h0M100.4 121.5h0M101.8 123.0h0M98.0 150.1h0M102.0 105.2h0M91.1 116.5h0M100.8 109.9h0M78.2 123.6h0M76.9 99.7h0M100.4 127.7h0M77.5 117.5h0M93.7 131.9h0M95.5 114.9h0M95.0 144.0h0M98.7 144.7h0M96.5 115.9h0M92.4 105.1h0M100.7 128.6h0M85.7 126.4h0M100.6 75.0h0M82.9 103.9h0M86.7 154.4h0M83.7 94.5h0M95.1 145.9h0M90.2 118.8h0M101.5 125.5h0M83.7 84.6h0M99.5 133.2h0M80.1 105.5h0M101.5 104.5h0M96.6 123.9h0M91.8 149.4h0M93.5 124.1h0M98.3 148.7h0M94.9 152.3h0M98.6 150.2h0M80.8 136.8h0M86.6 102.8h0M85.4 115.2h0M89.2 126.9h0M101.4 119.7h0M92.7 91.7h0M102.0 105.0h0M97.6 131.2h0M96.7 109.6h0M89.6 127.2h0M86.9 88.6h0M94.9 75.4h0M102.1 115.8h0M96.5 90.8h0M95.9 140.3h0M84.6 80.6h0M94.0 91.6h0M98.1 153.0h0M93.5 75.8h0M97.3 150.3h0M76.2 100.3h0M101.8 145.7h0M93.6 138.4h0M91.0 151.4h0M88.2 133.4h0M98.3 149.3h0M84.7 105.2h0M94.2 146.6h0M101.7 129.2h0M95.4 142.8h0M84.8 117.3h0M80.8 118.2h0M99.2 146.7h0M102.0 99.3h0M96.0 116.9h0M85.8 92.7h0M85.3 108.8h0M91.1 86.2h0M92.7 131.9h0M91.5 149.3h0M82.7 96.3h0M77.8 72.3h0M90.6 121.8h0M100.6 126.8h0M99.1 119.7h0M91.6 121.2h0M89.1 116.7h0M82.8 121.8h0M80.3 107.6h0M96.0 112.0h0M79.6 106.3h0M96.9 81.5h0M101.8 139.0h0M99.1 126.2h0M83.5 79.9h0M71.5 88.7h0M89.4 124.1h0M93.3 40.6h0M90.5 94.6h0M98.6 98.8h0M96.5 110.5h0M83.6 127.6h0M100.8 147.8h0M83.9 136.5h0M76.3 108.8h0M86.9 103.2h0M87.6 83.4h0M98.5 149.4h0M85.8 134.0h0M97.5 111.3h0M84.3 126.4h0M87.6 83.6h0M84.2 104.7h0M93.3 139.9h0M87.1 97.1h0M101.8 114.6h0M96.1 149.5h0M97.5 123.1h0M100.9 145.6h0M101.1 154.0h0M101.3 132.3h0M93.6 152.2h0M91.8 89.0h0M86.2 96.5h0M89.2 106.7h0M79.6 96.4h0M78.8 89.7h0M89.0 150.5h0M96.1 141.0h0M102.1 139.7h0M90.7 132.6h0M87.5 107.0h0M88.2 95.4h0M90.0 125.0h0M90.6 128.0h0M101.0 80.7h0M98.2 105.1h0M93.9 145.1h0M98.7 90.2h0M93.5 107.7h0M97.4 128.0h0M79.2 95.0h0M99.3 104.5h0M91.1 115.2h0M77.8 104.6h0M94.5 93.9h0M92.6 135.4h0M89.5 137.9h0M98.4 142.1h0M90.6 136.7h0M87.9 55.4h0M92.9 109.9h0M94.6 155.0h0M97.0 153.2h0M98.6 146.0h0M97.7 97.3h0M99.7 146.1h0M69.4 103.4h0M78.8 93.3h0M74.1 149.0h0M94.3 152.1h0M82.7 107.1h0M87.5 107.4h0M102.1 80.8h0M81.3 91.0h0M94.3 128.0h0M87.2 152.6h0M89.5 136.5h0M100.2 99.6h0M92.4 155.0h0M91.3 138.7h0M86.0 122.3h0M91.3 136.8h0M81.1 98.8h0M86.1 95.3h0M92.1 111.7h0M100.3 127.2h0M101.9 114.2h0M92.7 146.9h0M100.9 111.2h0M88.6 138.8h0M60.1 110.0h0M86.1 93.4h0M93.0 155.0h0M100.3 146.2h0M101.4 85.8h0M101.4 126.0h0M96.7 73.6h0M90.5 146.3h0M88.9 154.6h0M98.5 91.0h0M90.8 139.0h0M97.4 85.4h0M75.8 135.3h0M93.7 92.9h0M102.0 117.3h0M86.2 134.6h0M97.7 37.7h0M76.5 137.7h0M95.1 151.8h0M88.9 118.5h0M98.8 154.4h0M88.7 94.6h0M101.3 106.8h0M91.6 136.1h0M94.1 88.5h0M85.5 84.1h0M80.9 137.1h0M101.4 138.6h0M94.4 154.5h0M99.4 86.0h0M82.0 86.1h0M98.2 142.8h0M88.0 80.5h0M85.1 133.8h0M97.0 97.4h0M96.7 142.3h0M86.0 92.3h0M89.1 100.1h0M85.8 85.9h0M100.8 152.5h0M96.9 121.5h0M93.1 128.1h0M78.4 127.5h0M91.7 139.3h0M84.3 150.1h0M101.6 133.6h0M98.6 47.0h0M84.2 128.5h0M100.2 147.9h0M95.6 130.9h0M94.0 127.3h0M85.1 110.0h0M101.0 151.7h0M101.8 143.1h0M86.8 145.6h0M99.9 92.6h0M100.2 108.1h0M92.9 154.3h0M93.9 138.1h0M101.6 147.3h0M67.4 109.2h0M79.7 119.3h0M84.0 96.2h0M99.5 109.0h0M87.9 134.3h0M94.3 115.1h0M99.4 145.1h0M101.9 106.7h0M94.5 146.1h0M102.0 123.3h0M92.4 111.4h0M86.7 100.3h0M77.4 102.1h0M99.2 110.1h0M98.9 143.0h0M100.6 102.7h0M86.3 117.7h0M94.9 145.4h0M97.1 122.0h0M80.8 146.0h0M101.9 142.0h0M79.3 125.9h0M100.4 118.2h0M87.4 111.6h0M81.9 97.5h0M87.6 136.3h0M88.5 132.8h0M92.5 119.2h0M70.7 99.9h0M95.5 119.6h0M94.9 145.1h0M87.6 80.3h0M81.3 101.9h0M88.8 122.6h0M88.8 123.5h0M81.8 103.9h0M93.4 140.8h0M101.0 75.7h0M91.5 141.0h0M91.3 117.3h0M101.6 93.5h0M92.4 84.6h0M101.5 121.7h0M93.5 152.7h0M80.1 122.5h0M95.3 102.4h0M86.1 133.3h0M66.4 101.0h0M93.8 153.5h0M98.5 154.6h0M101.3 109.5h0M94.1 133.7h0M97.2 135.1h0M80.6 103.6h0M83.8 90.8h0M80.6 103.7h0M100.9 130.0h0M94.4 104.6h0M92.1 128.4h0M98.1 123.1h0M102.0 150.1h0M93.4 135.6h0M101.6 136.5h0M89.5 67.9h0M91.2 151.6h0M94.4 86.0h0M96.7 117.7h0M98.0 145.9h0M98.8 98.7h0M93.0 137.2h0M88.7 127.8h0M99.3 128.2h0M90.6 127.2h0M73.0 121.1h0M91.2 150.8h0M101.8 131.2h0M97.7 134.7h0M94.2 119.5h0M101.6 118.7h0M101.4 148.2h0M101.5 134.0h0M101.9 99.6h0M93.7 38.7h0M78.8 120.6h0M81.6 110.9h0M77.7 120.2h0M101.3 154.4h0M68.6 100.0h0M64.7 83.4h0M86.7 114.3h0M82.6 114.9h0M89.6 120.7h0M98.7 154.4h0M98.8 128.4h0M101.1 138.0h0M95.0 111.9h0M99.8 113.8h0M74.4 103.1h0M98.6 118.6h0M100.7 150.3h0M99.3 124.6h0M85.6 139.1h0M101.6 142.6h0M68.3 154.1h0M88.4 54.8h0M100.1 148.3h0M93.9 119.9h0M95.2 127.8h0M80.9 126.7h0M98.5 143.5h0M91.4 154.3h0M94.1 99.8h0M100.3 95.7h0M95.8 73.6h0M99.3 153.0h0M98.8 154.6h0M101.9 127.5h0M101.3 124.6h0M89.8 81.7h0M87.6 117.7h0M81.4 94.5h0M87.7 86.3h0M101.2 101.8h0M95.5 105.3h0M96.3 113.1h0M81.3 139.0h0M92.6 153.8h0M101.9 145.0h0M102.1 134.5h0M102.1 121.4h0M101.0 142.6h0M96.7 81.5h0M98.0 121.6h0M92.9 73.1h0M98.5 122.7h0M91.8 141.3h0M100.5 89.5h0M92.8 91.0h0M100.2 125.0h0M87.2 126.0h0M91.5 96.1h0M91.7 139.5h0M98.0 148.5h0M100.5 126.1h0M92.6 150.3h0M100.1 147.4h0M84.8 127.3h0M94.8 118.8h0M100.9 147.8h0M101.1 116.6h0M99.0 89.0h0M86.3 112.3h0M90.2 128.6h0M85.6 146.3h0M90.6 74.6h0M87.7 136.2h0M90.9 138.1h0M100.5 125.2h0M82.0 108.3h0M88.1 91.3h0M84.4 74.0h0M100.5 139.6h0M96.6 118.0h0M98.2 150.0h0M99.4 151.5h0M96.8 114.1h0M102.0 147.5h0M100.2 124.9h0M88.1 104.2h0M100.6 134.0h0M91.7 128.2h0M93.4 116.8h0M100.5 146.1h0M97.6 140.8h0M100.4 139.3h0M80.4 104.0h0M99.1 106.3h0M101.3 144.7h0M93.0 125.4h0M92.1 97.6h0M101.8 134.3h0M89.4 131.4h0M97.2 143.2h0M96.3 148.6h0M99.1 150.2h0M87.7 146.5h0M94.4 151.6h0M99.1 96.0h0M93.4 77.7h0M101.8 120.8h0M81.0 109.9h0M95.2 151.5h0M90.9 148.0h0M101.0 112.6h0M92.4 38.6h0M95.6 119.1h0M86.2 131.0h0M83.7 102.6h0M78.0 106.7h0M99.8 147.8h0M84.4 133.3h0M54.6 130.0h0M77.6 100.3h0M101.9 106.9h0M86.6 61.5h0M75.0 101.0h0M102.1 107.4h0M89.7 153.5h0M81.9 99.6h0M77.3 138.1h0M99.6 126.6h0M101.5 134.1h0M82.0 105.7h0M94.0 107.9h0M93.5 117.2h0M92.9 133.8h0M94.3 136.4h0M102.1 109.2h0M78.8 85.2h0M100.8 151.4h0M101.6 122.4h0M97.2 154.9h0M89.0 136.6h0M85.3 119.4h0M100.9 146.6h0M93.4 117.5h0M96.7 153.2h0M94.2 89.3h0M85.7 85.3h0M80.5 133.9h0M97.8 123.3h0M99.7 107.6h0M84.8 144.2h0M78.3 85.9h0M93.7 146.4h0M89.4 116.6h0M97.6 93.2h0M101.5 115.4h0M102.1 110.4h0M99.8 150.6h0M88.8 84.9h0M99.7 77.0h0M87.5 132.3h0M86.5 92.6h0M85.3 141.0h0M101.5 109.0h0M83.0 108.8h0M96.7 137.0h0M90.7 123.4h0M95.0 51.4h0M90.2 133.9h0M84.8 96.4h0M90.1 123.2h0M100.2 121.8h0M94.2 110.3h0M101.1 120.9h0M84.2 121.1h0M95.7 108.5h0M89.3 95.9h0M96.5 117.9h0M87.0 137.0h0M87.5 138.5h0M100.3 149.7h0M100.3 151.3h0M91.0 117.8h0M91.8 143.7h0M101.8 148.7h0M97.8 115.5h0M99.8 98.4h0M98.0 122.4h0M88.3 133.7h0M98.3 92.9h0M88.4 145.6h0M77.4 108.4h0M91.3 121.5h0M93.3 130.2h0M94.9 110.7h0M97.6 92.3h0M91.6 98.9h0M100.9 119.1h0M99.9 110.4h0M101.5 115.7h0M95.4 127.3h0" stroke="#068a06" stroke-width="3.2" stroke-linecap="round" fill="none"/><path d="M147.6 31.2h0M131.6 41.3h0M151.5 49.1h0M133.3 49.1h0M136.8 55.8h0M155.8 54.7h0M151.5 60.2h0M164.4 94.8h0M157.1 68.0h0M150.6 138.3h0M142.8 140.5h0M154.1 75.8h0M153.2 107.1h0M154.9 88.1h0M148.9 118.2h0M119.5 94.8h0M140.0 85.1h0M127.8 118.5h0M129.7 134.1h0M119.6 139.0h0M146.1 86.4h0M141.6 113.0h0M119.9 102.2h0M124.3 144.5h0M131.9 119.1h0M129.2 48.8h0M136.9 54.7h0M139.2 115.2h0M126.1 96.1h0M120.2 98.0h0M132.0 109.4h0M139.7 86.3h0M122.7 86.0h0M129.9 130.6h0M145.7 84.8h0M123.8 153.5h0M122.7 149.8h0M130.4 141.7h0M124.8 153.3h0M119.9 102.3h0M139.0 122.4h0M135.8 79.2h0M124.1 152.4h0M121.5 125.2h0M128.5 154.6h0M142.1 79.6h0M127.3 119.5h0M138.7 125.9h0M128.0 81.2h0M141.2 119.5h0M122.7 138.5h0M124.9 96.9h0M119.7 144.4h0M125.1 146.4h0M133.8 73.3h0M122.0 98.0h0M130.0 103.9h0M128.8 144.2h0M127.8 133.5h0M139.9 118.9h0M125.4 132.1h0M136.3 80.4h0M119.9 97.7h0M132.8 142.7h0M121.6 68.9h0M122.5 124.6h0M141.3 91.4h0M135.2 127.1h0M134.1 119.4h0M121.3 147.2h0M132.1 94.7h0M140.1 105.6h0M131.5 102.1h0M130.0 99.0h0M130.9 99.5h0M121.5 126.2h0M125.8 148.8h0M136.1 80.2h0M133.5 126.6h0M121.9 136.0h0M121.6 129.9h0M120.0 108.0h0M121.1 110.0h0M130.3 96.9h0M125.6 147.1h0M120.3 147.2h0M133.1 81.0h0M126.0 90.9h0M130.9 150.4h0M128.3 130.4h0M127.6 90.5h0M119.7 140.0h0M121.1 104.3h0M123.4 143.1h0M121.9 143.8h0M128.1 153.0h0M141.4 99.4h0M125.2 117.1h0M129.5 127.1h0M145.8 107.9h0M138.4 129.4h0M131.8 90.7h0M121.9 100.1h0M138.7 119.5h0M124.2 85.0h0M133.3 139.4h0M142.1 112.0h0M134.6 93.9h0M123.6 114.1h0M131.5 77.8h0M126.3 93.6h0M128.6 106.0h0M123.1 107.4h0M141.7 120.7h0M131.6 126.3h0M139.7 127.7h0M132.3 128.1h0M138.5 98.0h0M139.0 119.2h0M121.0 145.0h0M128.4 113.6h0M126.5 140.6h0M139.6 94.9h0M136.9 122.4h0M123.6 152.3h0M124.0 123.2h0M137.4 121.4h0M122.8 86.0h0M137.4 87.7h0M121.5 147.3h0M144.5 123.3h0M123.9 88.3h0M124.6 98.9h0M121.5 153.8h0M129.9 114.1h0M129.9 136.0h0M140.1 120.3h0M123.5 128.7h0M129.6 129.2h0M131.5 102.6h0M128.3 104.7h0M121.2 94.0h0M131.7 111.2h0M120.0 72.7h0M119.8 127.2h0M127.1 152.6h0M129.1 137.8h0M137.3 98.0h0M146.5 111.7h0M122.0 81.0h0M129.6 76.1h0M144.2 107.2h0M127.5 143.0h0M159.1 97.2h0M120.4 118.7h0M137.7 84.6h0M120.1 144.6h0M120.0 125.7h0M125.5 152.7h0M127.9 69.2h0M141.2 62.7h0M129.9 145.0h0M123.1 115.1h0M125.6 90.4h0M138.5 66.9h0M124.8 142.4h0M119.8 80.3h0M129.7 73.2h0M124.9 93.2h0M132.4 129.6h0M120.1 93.7h0M122.7 140.5h0M160.0 97.6h0M119.7 108.1h0M120.5 137.9h0M136.0 120.2h0M119.6 153.9h0M130.3 120.5h0M124.5 153.1h0M119.5 150.9h0M122.4 117.5h0M123.4 118.3h0M140.9 112.5h0M123.3 130.4h0M142.0 103.6h0M130.9 130.7h0M125.7 81.1h0M122.1 140.4h0M134.7 117.9h0M126.1 103.0h0M134.0 130.5h0M145.6 133.0h0M137.6 50.6h0M122.2 153.9h0M121.5 113.7h0M129.3 94.6h0M120.5 142.1h0M131.0 130.4h0M120.0 97.7h0M149.8 122.3h0M138.2 121.6h0M139.8 122.1h0M134.6 103.3h0M133.7 99.5h0M120.4 154.4h0M123.6 97.5h0M122.6 73.3h0M129.4 115.7h0M143.2 122.3h0M127.4 115.3h0M119.5 120.4h0M125.9 129.4h0M139.2 110.9h0M134.1 116.2h0M121.2 152.5h0M138.9 108.4h0M135.8 109.3h0M138.8 128.1h0M142.7 103.4h0M146.7 108.1h0M135.9 133.3h0M126.7 102.8h0M122.3 136.4h0M119.8 144.1h0M134.4 80.0h0M131.7 141.0h0M155.4 105.3h0M127.0 130.1h0M126.5 122.1h0M124.8 129.2h0M140.7 121.4h0M125.0 151.6h0M121.9 154.3h0M136.0 103.9h0M129.5 110.9h0M129.8 128.5h0M153.0 106.7h0M119.8 145.0h0M131.7 151.4h0M127.8 108.3h0M133.2 125.2h0M125.3 122.7h0M121.5 97.2h0M132.8 86.6h0M141.7 88.4h0M134.7 79.6h0M122.0 133.0h0M121.8 67.0h0M143.6 95.8h0M122.6 142.6h0M139.6 119.3h0M135.6 78.0h0M127.2 136.1h0M121.7 142.1h0M125.9 123.8h0M124.4 137.7h0M119.5 121.8h0M122.8 154.8h0M120.1 92.3h0M125.0 149.6h0M123.5 93.9h0M128.8 153.9h0M137.6 118.4h0M124.0 132.7h0M133.2 102.3h0M135.2 100.3h0M146.7 88.1h0M122.7 82.0h0M133.2 115.3h0M123.7 149.2h0M137.9 128.4h0M132.5 114.5h0M137.1 130.9h0M124.1 77.4h0M123.0 77.7h0M122.5 141.2h0M120.2 113.4h0M129.1 139.1h0M125.8 133.8h0M141.1 120.0h0M123.2 140.4h0M127.3 145.9h0M130.1 89.4h0M124.7 118.2h0M120.6 107.0h0M139.5 87.5h0M127.2 114.6h0M119.9 93.6h0M120.9 154.8h0M123.0 115.7h0M141.6 99.3h0M120.1 100.7h0M119.5 120.3h0M157.5 121.9h0M132.6 114.1h0M135.2 119.5h0M145.7 132.0h0M126.4 150.7h0M122.7 133.8h0M124.1 94.6h0M133.0 92.7h0M141.9 106.0h0M122.6 85.1h0M123.5 98.5h0M121.1 126.3h0M141.2 84.1h0M122.5 154.3h0M126.9 136.4h0M149.0 118.2h0M137.1 129.8h0M119.6 113.0h0M141.5 97.9h0M141.9 93.2h0M120.5 75.8h0M125.6 105.5h0M125.3 133.6h0M135.2 110.8h0M122.4 71.2h0M127.3 123.9h0M127.7 140.2h0M137.1 98.2h0M121.5 73.5h0M123.3 95.5h0M119.9 135.2h0M119.5 108.8h0M120.1 138.7h0M122.5 85.0h0M128.7 153.9h0M125.5 134.5h0M125.1 141.4h0M120.0 147.5h0M132.0 145.1h0M141.0 84.6h0M127.4 124.0h0M152.9 95.9h0M131.3 95.9h0M120.4 83.4h0M124.4 109.6h0M128.6 71.4h0M140.9 121.1h0M141.0 97.3h0M124.9 110.1h0M120.0 111.4h0M120.2 92.3h0M129.5 71.9h0M125.5 93.8h0M128.1 149.0h0M134.0 111.2h0M136.0 130.4h0M142.6 84.4h0M124.0 150.3h0M130.0 143.3h0M120.6 112.8h0M136.4 98.1h0M126.5 153.2h0M132.9 119.7h0M162.0 99.9h0M133.0 89.7h0M140.2 116.3h0M129.5 144.4h0M138.6 104.1h0M141.8 101.5h0M122.9 154.2h0M126.8 148.2h0M123.0 145.1h0M133.0 140.6h0M125.5 129.9h0M126.2 107.2h0M124.7 148.6h0M122.1 119.5h0M142.9 131.1h0M131.6 102.3h0M136.8 85.3h0M137.0 123.2h0M120.7 147.1h0M125.7 90.1h0M135.8 83.2h0M122.1 96.1h0M121.9 88.1h0M129.4 117.6h0M145.4 99.0h0M122.2 145.9h0M120.9 117.3h0M124.9 125.6h0M123.5 114.8h0M126.9 145.7h0M128.1 143.9h0M135.3 74.1h0M139.1 88.6h0M126.2 103.5h0M120.6 137.1h0M128.4 153.4h0M132.6 85.5h0M133.6 117.5h0M127.9 132.7h0M136.6 122.4h0M120.2 153.3h0M137.6 113.6h0M135.3 125.5h0M125.9 106.4h0M120.4 100.6h0M133.0 136.4h0M127.2 144.2h0M136.5 87.8h0M120.9 154.1h0M124.1 110.4h0M120.6 138.2h0M125.1 133.4h0M128.0 130.2h0M127.3 152.9h0M147.9 72.4h0M137.2 91.6h0M131.6 113.5h0M141.8 113.1h0M124.4 57.0h0M123.1 113.3h0M134.4 126.5h0M126.5 151.9h0M133.6 46.3h0M120.8 143.9h0M146.1 111.8h0M128.2 149.7h0M134.0 87.2h0M121.6 107.4h0M120.9 151.6h0M122.5 73.5h0M127.8 149.5h0M122.5 84.0h0M120.8 152.6h0M136.3 98.5h0M129.1 122.0h0M143.3 97.9h0M123.2 71.7h0M142.0 110.6h0M140.4 104.5h0M125.9 141.5h0M133.8 134.9h0M138.0 79.4h0M141.8 107.5h0M126.4 85.1h0M138.3 107.1h0M126.3 110.2h0M121.8 118.0h0M121.0 118.0h0M134.3 78.0h0M127.7 149.2h0M127.5 145.4h0M133.4 107.4h0M122.0 129.3h0M144.2 102.4h0M127.8 107.3h0M120.7 143.4h0M129.1 153.4h0M120.0 117.5h0M122.3 132.1h0M136.8 128.6h0M126.0 114.2h0M121.2 144.5h0M130.4 144.3h0M125.3 94.6h0M131.8 141.4h0M125.7 116.0h0M128.9 140.1h0M127.0 132.8h0M129.6 145.4h0M123.8 92.0h0M137.2 88.5h0M126.9 137.8h0M121.6 139.9h0M122.4 123.2h0M122.1 136.2h0M130.1 143.5h0M127.5 111.8h0M156.8 91.0h0M141.3 75.5h0M120.9 85.3h0M146.7 93.8h0M129.4 104.6h0M124.7 132.1h0M123.6 123.3h0M141.7 109.3h0M123.2 112.6h0M147.4 120.8h0M127.2 134.5h0M120.6 126.2h0M122.8 104.8h0M149.4 104.9h0M121.1 85.6h0M121.5 131.9h0M127.2 145.1h0M143.6 110.7h0M131.0 83.1h0M133.6 137.7h0M124.4 153.7h0M133.3 100.0h0M119.9 80.7h0M121.3 150.9h0M121.6 81.7h0M130.9 123.5h0M119.9 90.2h0M126.7 120.7h0M128.0 137.6h0M128.6 108.6h0M121.0 47.8h0M150.0 115.5h0M132.9 111.3h0M141.9 116.9h0M127.0 149.7h0M132.0 142.6h0M133.5 136.6h0M133.4 137.2h0M137.2 122.6h0M124.9 130.5h0M126.3 146.2h0M134.2 103.1h0M125.4 97.9h0M123.9 126.4h0M138.6 102.8h0M124.0 147.1h0M142.1 80.9h0M131.2 87.9h0M120.7 152.7h0M134.3 138.4h0M121.7 152.6h0M135.9 113.7h0M135.2 87.2h0M147.8 74.6h0M127.8 143.1h0M130.5 113.8h0M130.9 124.6h0M120.7 112.4h0M120.7 132.3h0M125.6 111.3h0M140.5 109.9h0M126.8 119.9h0M122.6 130.8h0M123.7 80.8h0M125.4 94.4h0M125.1 147.9h0M127.6 70.8h0M129.5 140.9h0M124.1 114.1h0M129.4 114.1h0M124.0 139.3h0M123.9 122.0h0M119.7 108.4h0M128.3 129.3h0M121.3 61.7h0M127.6 92.2h0M120.1 99.7h0M119.7 88.4h0M134.6 71.9h0M130.4 153.7h0M122.1 123.4h0M140.5 93.1h0M128.6 143.7h0M122.0 129.4h0M121.0 133.9h0M125.8 143.9h0M120.4 82.5h0M122.8 153.9h0M129.4 99.5h0M144.3 107.2h0M119.7 79.0h0M143.3 115.2h0M121.0 151.6h0M122.9 147.9h0M143.4 104.0h0M125.9 144.0h0M119.7 90.7h0M126.3 131.6h0M132.6 122.4h0M128.9 57.0h0M129.3 70.9h0M122.1 119.1h0M120.0 123.2h0M124.9 122.4h0M138.6 112.6h0M125.5 144.6h0M119.5 148.8h0M124.1 85.4h0M120.8 130.4h0M139.3 93.2h0M120.3 106.1h0M119.5 152.4h0M121.6 77.5h0M138.9 103.9h0M119.5 135.0h0M133.1 141.0h0M130.3 140.2h0M132.3 116.5h0M121.6 138.8h0M120.3 73.8h0M138.6 98.5h0M126.4 90.5h0M120.3 121.8h0M122.7 128.3h0M126.2 111.9h0M142.5 109.5h0M122.7 127.9h0M125.6 126.0h0M124.0 153.5h0M125.1 148.9h0M137.1 80.8h0M128.6 116.9h0M137.8 111.5h0M134.0 130.1h0M134.3 71.9h0M129.4 115.6h0M127.5 74.5h0M128.3 128.3h0M122.5 98.8h0M124.9 145.5h0M120.1 117.4h0M121.3 92.9h0M136.3 107.5h0M122.2 97.2h0M122.3 79.2h0M132.2 116.9h0M138.1 114.1h0M127.1 90.6h0M127.9 144.0h0M134.3 124.1h0M143.1 101.0h0M123.3 115.7h0M141.4 113.0h0M132.3 102.8h0M124.5 153.3h0M141.6 109.0h0M134.1 85.8h0M127.3 146.9h0M123.2 102.4h0M139.6 95.1h0M129.8 126.8h0M123.7 150.6h0M141.2 98.7h0M122.3 143.7h0M121.8 129.9h0M122.8 117.1h0M133.4 126.0h0M136.5 124.1h0M138.9 114.4h0M121.9 96.0h0M123.3 89.6h0M120.9 108.5h0M152.6 99.6h0M126.5 133.8h0M136.5 128.9h0M132.5 85.6h0M120.4 141.6h0M123.4 91.0h0M119.8 124.2h0M140.6 115.2h0M141.1 92.5h0M120.6 149.9h0M124.2 137.1h0M142.6 87.6h0M135.3 138.8h0M120.3 144.9h0M132.0 101.6h0M132.1 97.1h0M119.7 143.6h0M140.6 107.4h0M137.0 72.3h0M120.6 146.8h0M136.1 142.6h0M139.3 128.5h0M132.2 138.6h0M132.1 118.5h0M130.2 84.8h0M123.6 104.0h0M129.4 151.0h0M133.6 121.5h0M139.4 100.4h0M124.4 147.5h0M130.5 130.0h0M148.6 119.8h0M128.2 143.9h0M138.7 125.9h0M127.6 132.8h0M130.4 99.6h0M123.4 116.9h0M141.5 86.8h0M145.1 115.8h0M125.1 109.2h0M126.7 151.3h0M126.2 124.8h0M122.5 72.6h0M132.6 97.5h0M126.1 151.5h0M123.2 108.3h0M137.6 118.7h0M137.1 73.7h0M137.0 75.1h0M129.7 143.0h0M140.3 83.4h0M119.6 128.6h0M145.0 49.1h0M128.3 115.6h0M121.8 118.7h0M126.4 102.7h0M135.0 90.7h0M120.1 128.2h0M124.3 152.0h0M121.6 125.9h0M138.7 94.1h0M125.6 116.5h0M130.5 113.9h0M120.5 136.4h0M121.9 154.7h0M121.9 117.7h0M135.7 88.8h0M128.3 99.3h0M120.7 153.8h0M120.3 120.2h0M124.1 136.4h0M125.3 134.9h0M129.5 134.7h0M136.0 97.0h0M124.3 43.8h0M135.4 91.5h0M119.5 83.8h0M119.5 150.8h0M122.8 119.5h0M133.8 124.6h0M140.9 112.9h0M130.7 115.1h0M132.5 91.9h0M120.7 131.0h0M123.7 129.9h0M125.0 124.0h0M129.6 95.4h0M123.1 122.0h0M124.2 154.6h0M121.5 147.4h0M125.7 108.3h0M154.7 86.3h0M128.2 108.9h0M135.4 132.1h0M122.3 131.8h0M126.4 145.6h0M122.0 83.0h0M134.9 104.9h0M124.9 132.0h0M151.7 116.4h0M135.6 141.4h0M129.9 85.3h0M124.0 105.7h0M137.9 143.8h0M139.7 124.8h0M151.5 110.1h0M122.9 139.6h0M120.1 151.9h0M135.6 70.9h0M130.1 135.8h0M130.0 81.9h0M119.5 134.8h0M142.0 91.4h0M125.7 84.8h0M119.5 94.3h0M132.9 152.5h0M122.4 137.4h0M156.1 93.7h0M129.7 123.1h0M130.7 119.2h0M122.8 139.5h0M139.7 72.0h0M129.8 142.1h0M123.4 113.8h0M122.8 153.5h0M132.2 135.6h0M131.0 90.9h0M122.4 86.5h0M120.0 91.3h0M129.9 148.7h0M136.1 119.6h0M119.8 109.1h0M137.7 103.6h0M122.1 100.2h0M135.8 121.9h0M132.6 135.9h0M123.3 134.0h0M127.8 142.1h0M137.8 79.0h0M138.3 108.0h0M120.6 116.9h0M133.7 117.8h0M128.9 145.0h0M124.5 118.8h0M119.6 150.0h0M138.7 103.5h0M126.9 101.7h0M159.1 105.2h0M121.3 136.2h0M125.0 147.4h0M126.2 152.6h0M138.5 98.2h0M123.3 102.3h0M126.6 151.7h0M130.5 112.0h0M134.1 123.1h0M130.0 123.6h0M124.5 119.8h0M128.5 147.3h0M123.0 121.5h0M142.2 95.7h0M119.9 102.1h0M127.2 84.0h0M136.6 75.5h0M122.9 86.7h0M127.5 133.1h0M121.7 147.5h0M123.9 153.0h0M125.1 135.9h0M125.3 104.1h0M127.0 55.9h0M140.3 105.0h0M121.2 97.1h0M134.4 126.4h0M152.7 88.5h0M130.3 110.6h0M144.8 105.6h0M121.5 68.8h0M135.5 120.1h0M134.8 75.7h0M120.5 111.3h0M120.6 142.1h0M120.4 131.3h0M157.0 94.8h0M137.9 112.9h0M142.8 89.8h0M128.2 121.8h0M128.8 124.0h0M121.2 130.4h0M127.9 115.9h0M135.3 123.7h0M126.1 115.2h0M122.6 154.2h0M122.9 138.7h0M122.2 128.3h0M124.9 120.7h0M125.1 95.7h0M137.5 52.3h0M123.1 141.3h0M123.7 153.6h0M134.0 111.4h0M130.1 153.9h0M119.5 110.6h0M122.2 104.7h0M125.3 132.4h0M131.4 139.9h0M126.4 108.4h0M138.5 90.7h0M121.8 112.2h0M120.3 152.0h0M121.2 153.1h0M143.7 97.5h0M145.1 108.3h0M120.0 84.6h0M125.2 92.2h0M127.6 119.7h0M129.7 117.2h0M130.6 127.6h0M132.2 109.8h0M131.3 89.1h0M123.7 97.3h0M135.2 67.6h0M128.5 78.0h0M120.1 131.5h0M122.9 130.7h0M124.7 150.1h0M134.2 109.4h0M139.3 122.3h0M131.1 134.8h0M138.2 117.8h0M141.6 101.9h0M121.5 134.1h0M127.6 122.1h0M128.7 140.7h0M121.3 131.9h0M141.4 85.3h0M135.0 121.1h0M120.6 93.7h0M127.8 112.0h0M120.1 108.0h0M124.1 145.1h0M130.8 84.2h0M121.7 120.9h0M120.2 95.2h0M128.8 137.3h0M121.9 124.6h0M130.2 115.0h0M124.5 149.3h0M121.2 137.1h0M139.7 117.4h0M133.1 135.7h0M137.5 110.0h0M126.4 116.7h0M148.4 101.7h0M136.7 115.2h0M119.5 146.4h0M125.4 149.2h0M124.8 133.5h0M129.2 134.8h0M130.0 152.6h0M127.8 124.2h0M138.9 133.7h0M132.5 120.5h0M142.5 91.7h0M132.1 96.7h0M121.5 114.9h0M141.6 104.6h0M130.1 149.1h0M124.1 105.3h0M131.0 107.4h0M138.6 108.1h0M144.1 99.1h0M132.4 108.2h0M136.7 127.0h0M125.2 131.7h0M120.4 113.1h0M120.4 100.1h0M137.1 88.7h0M121.5 129.2h0M124.3 137.4h0M126.6 48.9h0M135.9 85.2h0M124.8 152.1h0M123.9 127.9h0M132.8 89.0h0M120.7 133.4h0M124.9 122.3h0M140.3 81.8h0M145.6 91.7h0M127.8 119.9h0M122.6 143.9h0M130.1 142.3h0M122.1 152.1h0M136.9 88.8h0M123.1 97.2h0M129.3 145.6h0M144.5 105.5h0M136.5 85.6h0M132.3 120.5h0M134.5 102.6h0M154.6 91.6h0M129.2 83.5h0M120.4 148.2h0M119.5 146.3h0M121.2 136.1h0M129.3 126.7h0M123.5 108.9h0M132.1 80.9h0M132.9 109.5h0M125.2 97.5h0M146.3 93.4h0M120.7 86.8h0M134.1 102.3h0M119.7 90.1h0M120.6 146.8h0M120.1 153.3h0M144.0 99.1h0M125.8 146.3h0M135.2 99.1h0M131.0 116.6h0M125.0 109.2h0M127.1 106.5h0M123.6 144.1h0M126.2 74.9h0M131.2 111.6h0M131.4 123.4h0M133.9 129.5h0M125.2 108.1h0M131.1 115.4h0M122.5 144.6h0M120.7 133.1h0M127.1 153.1h0M120.1 128.2h0M140.0 130.3h0M125.4 121.4h0M124.9 150.0h0M126.9 114.1h0M135.9 88.4h0M120.1 99.7h0M121.4 128.1h0M133.7 110.1h0M134.6 94.5h0M121.6 151.7h0M145.1 44.4h0M130.3 118.6h0M144.3 99.3h0M123.4 93.5h0M134.2 103.3h0M119.9 153.5h0M122.2 104.1h0M128.2 124.2h0M121.4 128.4h0M121.4 120.4h0M124.3 130.1h0M153.7 105.7h0M119.7 151.9h0M128.1 123.2h0M129.9 107.1h0M122.4 131.4h0M119.5 141.2h0M124.6 140.7h0M136.9 130.8h0M119.5 125.3h0M122.5 140.1h0M126.8 152.5h0M121.5 83.2h0M127.0 126.3h0M134.6 54.3h0M123.9 133.2h0M133.3 116.6h0M128.4 109.8h0M123.3 124.2h0M137.8 129.4h0M121.5 72.7h0M137.9 128.0h0M126.6 100.0h0M126.9 107.9h0M136.3 117.0h0M131.0 87.6h0M120.5 121.5h0M132.8 102.5h0M130.6 141.0h0M131.4 104.9h0M129.6 137.1h0M137.1 114.5h0M126.6 130.6h0M130.0 116.0h0M123.5 153.4h0M141.6 102.1h0M125.2 100.2h0M119.8 143.4h0M136.9 83.6h0M144.0 95.7h0M136.8 112.0h0M120.2 154.8h0M132.1 144.9h0M121.7 145.9h0M122.7 94.5h0M130.2 75.4h0M125.6 73.7h0M148.9 99.9h0M135.4 43.8h0M128.0 152.7h0M137.7 129.5h0M131.9 97.1h0M120.1 102.9h0M125.0 149.7h0M119.5 142.6h0M135.0 87.7h0M131.7 135.8h0M140.5 95.1h0M134.6 98.0h0M133.5 87.8h0M130.1 115.9h0M121.6 109.5h0M123.4 152.8h0M152.1 104.8h0M131.2 102.7h0M137.3 72.6h0M125.4 128.6h0M122.6 98.0h0M143.0 114.3h0M132.2 88.5h0M119.7 138.3h0M120.3 151.6h0M137.0 118.4h0M120.9 94.5h0M123.6 108.0h0M126.6 99.5h0M125.9 126.0h0M130.6 84.7h0M125.2 153.1h0M122.5 145.0h0M127.6 136.9h0M126.0 120.7h0M137.8 105.4h0M132.2 117.9h0M122.5 123.4h0M119.8 152.7h0M140.6 123.9h0M120.6 136.4h0M138.2 92.9h0M124.2 131.5h0M128.1 106.8h0M124.4 123.8h0M145.6 88.4h0M147.9 104.2h0M141.6 93.9h0M144.4 111.0h0M131.1 117.0h0M125.0 133.6h0M120.9 147.6h0M121.3 149.2h0M119.8 150.9h0M125.6 126.1h0M132.3 132.6h0M123.1 83.7h0M123.2 122.8h0M131.5 103.5h0M136.8 114.6h0M121.1 141.1h0M124.2 133.5h0M145.6 89.9h0M121.3 80.0h0M120.3 118.9h0M132.5 146.7h0M143.6 106.3h0M132.6 92.1h0M120.6 98.7h0M147.5 77.3h0M143.5 90.1h0M147.3 109.1h0M130.9 132.6h0M138.5 71.5h0M138.0 124.8h0M128.6 120.5h0M120.0 141.9h0M146.7 93.9h0M137.1 106.0h0M135.0 100.8h0M122.8 109.9h0M131.5 75.9h0M121.9 129.9h0M120.0 123.3h0M127.5 124.4h0M126.3 118.4h0M123.4 154.0h0M122.1 151.0h0M142.1 83.0h0M138.2 132.8h0M142.6 123.9h0M141.0 117.9h0M127.8 145.9h0M125.5 127.7h0M141.1 110.1h0M120.5 139.4h0M143.9 98.4h0M144.6 107.3h0M120.0 140.5h0M137.6 99.0h0M121.5 110.5h0M125.7 154.2h0M122.2 72.0h0M119.7 147.0h0M127.6 129.1h0M119.8 91.4h0M126.0 99.3h0M127.9 115.0h0M152.2 100.4h0M120.2 102.8h0M126.8 107.9h0M128.0 151.8h0M130.7 104.0h0M129.3 92.2h0M124.0 143.5h0M126.0 153.7h0M124.3 144.2h0M123.8 153.3h0M120.6 119.4h0M121.8 146.5h0M128.8 127.7h0M134.7 102.3h0M130.3 134.8h0M139.8 102.0h0M136.5 107.1h0M122.2 149.9h0M156.7 101.0h0M132.8 128.4h0M131.5 117.8h0M137.5 105.3h0M129.0 116.9h0M119.7 123.6h0M133.4 134.2h0M120.2 62.3h0M135.7 119.7h0M125.9 75.4h0M121.1 93.7h0M123.0 92.7h0" stroke="#ff0000" stroke-width="3.2" stroke-linecap="round" fill="none"/><line x1="32.5" y1="155.0" x2="189.0" y2="155.0" stroke="#3a3a3a" stroke-width="1.0" stroke-dasharray="1.4 2.3"/><line x1="102.1" y1="22.0" x2="102.1" y2="176.3" stroke="#3a3a3a" stroke-width="1.0" stroke-dasharray="1.4 2.3"/><line x1="119.5" y1="22.0" x2="119.5" y2="176.3" stroke="#3a3a3a" stroke-width="1.0" stroke-dasharray="1.4 2.3"/><text x="80.5" y="158.4" font-size="7.4" fill="#1a1a1a">Q value: 0.05</text><path d="M32.5 22.0V176.3H189.0" stroke="#222" stroke-width="1.1" fill="none"/><line x1="29.9" y1="169.5" x2="32.5" y2="169.5" stroke="#333" stroke-width="0.9"/><text x="28.3" y="172.3" font-size="7.7" fill="#4d4d4d" text-anchor="end">0</text><line x1="29.9" y1="113.8" x2="32.5" y2="113.8" stroke="#333" stroke-width="0.9"/><text x="28.3" y="116.5" font-size="7.7" fill="#4d4d4d" text-anchor="end">5</text><line x1="29.9" y1="58.0" x2="32.5" y2="58.0" stroke="#333" stroke-width="0.9"/><text x="28.3" y="60.8" font-size="7.7" fill="#4d4d4d" text-anchor="end">10</text><line x1="67.5" y1="176.3" x2="67.5" y2="178.9" stroke="#333" stroke-width="0.9"/><text x="67.5" y="186.3" font-size="7.7" fill="#4d4d4d" text-anchor="middle">-5</text><line x1="110.8" y1="176.3" x2="110.8" y2="178.9" stroke="#333" stroke-width="0.9"/><text x="110.8" y="186.3" font-size="7.7" fill="#4d4d4d" text-anchor="middle">0</text><line x1="154.1" y1="176.3" x2="154.1" y2="178.9" stroke="#333" stroke-width="0.9"/><text x="154.1" y="186.3" font-size="7.7" fill="#4d4d4d" text-anchor="middle">5</text><text x="111.0" y="197.5" font-size="9.6" font-weight="bold" fill="#111" text-anchor="middle">Log2 (A2/A1)</text><text transform="translate(15.2,101.0) rotate(-90)" font-size="9.6" font-weight="bold" fill="#111" text-anchor="middle">−Log10 (Q value)</text><text x="168.1" y="27.2" font-size="9.5" fill="#222">regulated</text><path d="M175.4 40.8h0" stroke="#0f8c0f" stroke-width="3.0" stroke-linecap="round"/><text x="187.7" y="43.4" font-size="7.6" fill="#333">down</text><path d="M175.4 56.3h0" stroke="#c4c4c4" stroke-width="2.0" stroke-linecap="round"/><text x="187.7" y="58.9" font-size="7.6" fill="#333">none</text><path d="M175.4 71.1h0" stroke="#ff0000" stroke-width="3.0" stroke-linecap="round"/><text x="187.7" y="73.7" font-size="7.6" fill="#333">up</text><text x="212.2" y="43.4" font-size="7.2" font-weight="bold" fill="#111">925</text><text x="211.0" y="73.7" font-size="7.2" font-weight="bold" fill="#111">1183</text><path d="M112.6 324.2h0M115.7 358.4h0M115.9 343.8h0M114.3 348.0h0M111.3 349.7h0M112.2 334.1h0M115.4 319.8h0M102.7 348.9h0M110.4 351.8h0M110.9 358.6h0M107.5 353.2h0M113.4 317.7h0M111.9 336.7h0M103.2 350.9h0M114.5 351.4h0M109.9 356.6h0M104.0 348.1h0M114.8 337.6h0M114.2 325.8h0M103.8 358.8h0M115.0 297.7h0M112.9 331.3h0M100.5 341.5h0M109.7 354.0h0M113.7 308.8h0M101.6 327.9h0M115.4 342.6h0M115.0 337.5h0M101.3 336.7h0M116.0 308.8h0M100.8 327.4h0M101.5 346.7h0M109.1 355.8h0M111.9 346.8h0M109.1 356.0h0M113.4 336.4h0M101.7 327.7h0M113.2 323.0h0M114.8 339.6h0M101.3 352.3h0M101.1 315.1h0M113.1 309.4h0M101.2 304.6h0M114.0 335.5h0M100.4 312.8h0M107.4 355.8h0M113.1 309.8h0M101.8 312.5h0M110.6 345.8h0M101.8 358.6h0M114.3 307.5h0M111.1 334.8h0M104.0 316.8h0M114.2 313.6h0M105.7 337.4h0M113.1 354.2h0M116.3 338.2h0M111.5 349.8h0M114.1 304.8h0M114.3 325.7h0M115.4 330.8h0M101.8 328.0h0M113.3 311.6h0M101.9 348.6h0M104.7 329.2h0M101.3 356.1h0M103.1 317.0h0M111.7 324.9h0M116.1 349.7h0M112.6 345.4h0M113.7 339.1h0M101.7 354.8h0M106.6 355.9h0M115.4 343.4h0M115.0 334.9h0M112.0 340.9h0M102.2 322.9h0M112.1 346.5h0M115.3 330.3h0M111.5 336.4h0M102.0 297.1h0M103.7 329.6h0M107.7 354.9h0M103.9 330.8h0M103.5 348.3h0M115.5 319.1h0M115.4 348.2h0M115.7 327.1h0M100.9 357.0h0M113.0 304.7h0M111.2 355.4h0M116.1 331.6h0M103.3 311.4h0M100.8 349.0h0M112.4 359.2h0M115.2 358.7h0M103.7 311.8h0M108.2 359.1h0M111.8 348.3h0M100.3 331.9h0M111.9 325.6h0M102.3 310.5h0M113.4 355.6h0M102.6 287.8h0M107.8 357.6h0M112.2 346.9h0M114.3 353.6h0M113.2 358.2h0M109.5 358.8h0M115.3 358.6h0M114.8 334.5h0M109.2 355.3h0M101.3 326.4h0M103.1 308.3h0M101.4 359.4h0M103.4 343.9h0M113.6 296.4h0M115.9 354.0h0M111.2 358.2h0M101.7 341.5h0M112.9 336.6h0M102.6 352.7h0M100.7 323.9h0M104.6 346.8h0M115.1 354.5h0M100.6 355.5h0M101.4 348.2h0M110.9 355.7h0M102.9 319.8h0M100.5 344.9h0M106.0 353.2h0M103.1 341.2h0M104.1 311.8h0M116.0 351.1h0M104.0 338.0h0M110.8 353.7h0M103.6 294.2h0M115.2 311.6h0M101.2 331.2h0M101.9 309.3h0M106.0 346.7h0M105.5 347.8h0M103.6 343.3h0M101.1 330.4h0M110.3 350.1h0M100.4 344.7h0M100.8 317.6h0M104.9 325.6h0M102.3 344.9h0M115.8 355.3h0M115.0 297.7h0M103.5 330.5h0M112.7 358.9h0M112.7 353.5h0M101.8 312.9h0M105.1 340.4h0M112.2 336.1h0M112.7 351.0h0M115.1 310.1h0M112.9 356.6h0M109.9 355.1h0M113.0 351.9h0M111.6 337.7h0M105.2 356.1h0M113.6 348.4h0M113.7 329.6h0M110.1 352.7h0M102.9 352.3h0M101.3 339.2h0M115.2 309.0h0M101.6 315.1h0M110.6 356.7h0M112.6 349.2h0M101.6 337.6h0M111.1 350.3h0M115.5 287.3h0M114.7 335.6h0M115.2 350.4h0M102.0 353.3h0M103.4 346.7h0M116.2 338.5h0M114.7 346.1h0M105.6 352.7h0M101.0 346.4h0M113.8 324.7h0M113.6 357.0h0M100.9 346.3h0M103.9 327.8h0M101.6 338.7h0M114.9 338.6h0M111.6 352.5h0M104.3 326.3h0M101.2 356.7h0M115.7 334.6h0M113.7 327.9h0M104.8 349.7h0M101.3 349.4h0M115.1 342.2h0M102.1 350.6h0M101.6 355.6h0M108.3 355.3h0M110.8 357.1h0M115.5 349.6h0M105.7 351.3h0M103.1 358.9h0M101.7 348.7h0M102.4 358.2h0M103.6 353.1h0M101.9 351.3h0M106.9 356.8h0M101.2 353.4h0M107.2 356.6h0M103.8 337.1h0M104.4 329.6h0M104.4 353.4h0M113.0 330.8h0M114.8 342.3h0M101.3 347.2h0M105.8 347.0h0M104.3 313.5h0M104.3 346.1h0M104.7 346.9h0M103.0 356.1h0M115.8 354.0h0M100.5 350.7h0M103.2 352.5h0M109.5 353.5h0M112.1 354.6h0M103.5 306.7h0M115.9 294.4h0M115.8 327.9h0M106.3 346.6h0M108.5 358.0h0M104.7 357.3h0M111.7 357.3h0M101.1 352.2h0M111.9 348.1h0M114.1 306.1h0M100.3 290.8h0M103.1 354.7h0M111.5 349.8h0M104.1 358.0h0M116.1 330.6h0M104.8 337.7h0M103.3 316.8h0M101.8 323.5h0M115.6 322.4h0M116.2 306.1h0M102.1 346.7h0M112.5 325.3h0M100.4 338.1h0M104.7 348.8h0M115.9 337.1h0M102.3 352.2h0M102.9 295.7h0M103.2 321.8h0M106.4 347.2h0M113.8 358.0h0M103.5 341.0h0M104.7 330.7h0M102.1 343.5h0M103.0 351.9h0M116.2 359.1h0M103.7 344.5h0M115.7 345.4h0M102.9 342.6h0M113.3 353.1h0M115.0 350.1h0M115.5 358.1h0M105.0 359.1h0M114.2 331.9h0M101.3 359.2h0M113.7 329.3h0M113.6 336.8h0M112.4 314.2h0M102.1 339.2h0M112.8 358.1h0M103.9 344.5h0M105.9 341.2h0M101.1 289.4h0M112.2 323.0h0M104.4 327.1h0M114.1 316.1h0M101.0 298.6h0M110.2 348.4h0M103.7 352.0h0M103.9 337.8h0M100.7 347.5h0M110.2 346.9h0M115.9 351.4h0M102.5 329.9h0M114.7 350.0h0M110.8 357.5h0M113.4 335.0h0M100.5 350.3h0M100.9 338.6h0M111.2 353.9h0M100.5 343.0h0M114.9 358.4h0M104.1 355.6h0M111.6 349.3h0M103.4 356.3h0M102.0 308.0h0M102.4 347.6h0M102.1 336.2h0M105.7 353.5h0M115.7 289.7h0M111.3 342.6h0M105.0 349.1h0M102.9 353.0h0M115.1 347.2h0M112.6 352.8h0M113.4 313.9h0M112.8 348.0h0M114.6 335.2h0M110.3 347.2h0M115.9 316.2h0M111.5 354.1h0M103.2 340.4h0M102.1 303.8h0M101.9 356.0h0M101.6 343.1h0M101.8 345.4h0M105.7 355.4h0M113.2 356.4h0M101.9 339.5h0M106.2 357.3h0M109.7 350.7h0M114.8 357.4h0M114.9 338.9h0M104.9 353.9h0M112.9 351.1h0M113.1 351.2h0M113.5 312.7h0M103.2 345.2h0M104.5 352.0h0M112.0 348.0h0M112.5 336.5h0M115.3 325.1h0M104.4 330.4h0M114.4 355.2h0M101.6 298.6h0M114.8 358.1h0M111.7 329.9h0M104.1 309.2h0M110.5 354.4h0M104.0 341.2h0M102.8 354.8h0M113.6 326.6h0M105.8 341.4h0M112.0 346.9h0M108.3 357.9h0M116.0 300.5h0M115.3 348.6h0M101.1 288.4h0M115.8 350.2h0M103.5 330.1h0M115.2 325.2h0M115.1 352.9h0M113.6 307.6h0M104.7 359.1h0M109.2 358.1h0M114.0 358.6h0M104.1 345.2h0M101.3 349.4h0M101.9 347.2h0M111.0 335.9h0M105.5 349.2h0M112.9 346.4h0M100.9 318.1h0M111.5 338.1h0M100.4 296.6h0M105.1 330.6h0M115.6 317.1h0M112.8 298.7h0M103.1 338.2h0M114.5 321.0h0M100.7 351.6h0M110.5 346.5h0M112.1 355.1h0M113.1 324.1h0M115.5 299.3h0M115.8 296.9h0M102.0 303.7h0M105.8 356.3h0M113.9 297.3h0M116.1 336.8h0M116.0 353.5h0M109.4 357.6h0M112.7 336.5h0M114.5 323.7h0M103.5 353.3h0M101.7 354.6h0M113.7 299.0h0M113.9 332.6h0M113.9 338.7h0M111.5 356.6h0M103.0 356.2h0M115.2 317.5h0M104.3 341.3h0M104.3 341.8h0M104.8 338.4h0M102.5 314.8h0M102.6 324.8h0M103.8 322.7h0M114.0 327.7h0M115.9 326.1h0M108.4 357.9h0M112.1 357.2h0M115.7 308.3h0M115.8 313.4h0M101.0 315.3h0M104.5 335.6h0M113.2 357.8h0M116.2 286.5h0M112.2 327.8h0M107.0 359.4h0M102.5 357.0h0M104.3 359.1h0M108.2 359.4h0M109.1 356.3h0M100.5 322.8h0M105.0 351.7h0M116.2 292.1h0M115.4 335.0h0M108.0 359.2h0M105.4 344.8h0M115.9 352.0h0M109.2 356.3h0M113.1 347.6h0M113.6 336.6h0M111.0 337.4h0M102.9 305.1h0M104.1 350.2h0M116.2 324.0h0M103.3 330.8h0M105.9 355.2h0M102.0 325.1h0M113.7 338.6h0M103.9 355.3h0M109.4 354.3h0M113.0 352.1h0M102.2 349.9h0M114.2 345.0h0M104.3 343.0h0M104.7 325.3h0M100.7 347.1h0M103.8 308.1h0M105.6 342.3h0M107.7 356.1h0M116.1 349.5h0M100.9 357.1h0M116.0 306.5h0M114.9 332.6h0M112.6 331.8h0M111.8 349.9h0M102.7 350.4h0M104.0 357.0h0M100.4 330.7h0M116.2 355.2h0M101.8 338.6h0M102.8 344.3h0M116.0 305.6h0M114.7 286.7h0M112.3 350.5h0M105.8 344.6h0M104.3 356.1h0M109.8 358.9h0M115.7 328.3h0M112.4 338.1h0M109.1 358.9h0M102.8 315.3h0M105.1 352.6h0M100.8 351.9h0M100.5 344.2h0M103.2 299.5h0M115.1 347.9h0M101.5 339.2h0M101.7 350.1h0M116.2 306.0h0M110.3 352.7h0M112.9 358.8h0M107.1 352.2h0M102.5 335.5h0M113.9 352.6h0M100.5 324.3h0M102.6 309.5h0M105.4 332.9h0M105.3 352.8h0M110.9 355.7h0M116.3 302.7h0M115.2 305.9h0M106.0 355.2h0M110.2 351.7h0M102.3 289.9h0M114.6 301.9h0M105.2 352.8h0M115.2 346.1h0M111.3 341.3h0M113.2 348.3h0M106.9 351.9h0M112.7 336.9h0M104.2 352.2h0M115.2 357.2h0M100.9 311.7h0M112.6 347.9h0M107.3 357.8h0M113.1 354.1h0M111.4 333.1h0M116.2 358.4h0M114.9 359.1h0M113.9 295.0h0M102.8 359.3h0M103.6 320.0h0M113.3 289.5h0M114.3 295.0h0M100.8 352.6h0M115.3 325.6h0M100.5 358.4h0M115.5 352.2h0M105.8 339.0h0M101.2 324.1h0M104.4 338.6h0M103.8 359.1h0M113.0 301.3h0M101.4 340.5h0M113.1 323.8h0M110.9 353.2h0M101.1 346.0h0M115.9 346.5h0M113.2 341.7h0M114.7 315.3h0M111.5 349.4h0M100.7 346.9h0M116.3 295.4h0M100.7 351.9h0M103.6 295.9h0M114.9 330.2h0M115.0 329.5h0M111.1 335.9h0M115.7 349.8h0M104.4 318.7h0M101.2 354.0h0M110.2 347.3h0M113.3 342.2h0M104.9 345.0h0M111.3 358.3h0M113.2 332.3h0M113.2 324.3h0M103.0 319.7h0M114.6 297.9h0M101.1 318.9h0M106.4 349.6h0M112.4 359.4h0M111.3 356.6h0M114.0 344.4h0M104.8 348.4h0M110.9 355.7h0M110.0 355.8h0M109.6 358.9h0M108.8 356.5h0M105.7 357.1h0M113.9 357.5h0M115.5 349.8h0M114.7 332.7h0M101.2 299.6h0M102.0 354.2h0M102.3 329.9h0M113.1 347.7h0M112.8 320.6h0M111.2 348.5h0M105.7 354.3h0M102.1 325.2h0M116.3 346.4h0M114.8 288.1h0M101.8 321.1h0M107.5 354.6h0M112.9 341.4h0M105.5 345.4h0M107.0 356.3h0M102.2 356.3h0M100.7 357.8h0M115.0 319.2h0M105.5 349.2h0M116.2 358.5h0M115.2 346.6h0M106.0 358.6h0M113.8 298.4h0M103.2 342.1h0M102.9 335.9h0M110.1 356.9h0M114.1 330.9h0M113.0 325.3h0M100.7 357.0h0M101.8 337.1h0M100.8 301.1h0M103.2 348.8h0M114.7 331.3h0M114.7 290.4h0M102.7 334.6h0M106.7 350.3h0M106.6 351.4h0M104.9 350.4h0M111.5 353.1h0M113.5 311.8h0M116.1 341.8h0M103.3 348.9h0M115.0 333.4h0M102.9 354.7h0M110.7 343.4h0M102.6 334.2h0M114.8 344.7h0M107.9 355.6h0M102.9 351.5h0M113.4 297.1h0M115.7 335.8h0M104.1 314.8h0M111.5 356.9h0M101.0 317.4h0M102.4 320.8h0M112.3 342.3h0M115.9 352.5h0M113.0 328.5h0M101.1 311.9h0M102.4 359.0h0M108.0 354.6h0M113.6 332.2h0M105.9 340.7h0M105.9 352.5h0M101.9 329.9h0M103.3 358.8h0M109.0 358.0h0M103.9 340.2h0M102.3 343.0h0M113.5 312.5h0M116.0 339.9h0M115.3 359.3h0M103.3 357.5h0M112.8 333.9h0M101.0 357.7h0M104.4 341.2h0M102.2 353.9h0M111.6 349.2h0M102.8 335.7h0M115.2 311.9h0M112.9 351.3h0M103.0 291.7h0M112.3 345.7h0M106.2 346.2h0M110.1 347.5h0M102.4 350.4h0M115.2 293.6h0M115.9 344.1h0M103.4 299.9h0M101.3 333.4h0M103.6 319.5h0M106.4 347.8h0M103.4 347.1h0M102.6 320.9h0M101.8 289.9h0M116.1 355.9h0M102.6 309.5h0M114.5 341.2h0M100.4 342.1h0M105.0 345.5h0M110.9 351.8h0M101.9 325.7h0M100.6 320.8h0M104.3 347.7h0M103.0 353.5h0M105.2 334.5h0M101.9 349.4h0M106.3 347.6h0M113.4 351.5h0M114.6 299.4h0M102.8 352.3h0M101.7 353.6h0M111.7 321.7h0M116.2 319.8h0M101.4 356.3h0M101.1 340.6h0M114.4 341.9h0M103.5 291.6h0M100.9 318.6h0M112.3 333.2h0M102.4 359.1h0M102.7 347.5h0M113.8 320.7h0M101.9 327.6h0M111.7 338.2h0M103.5 330.5h0M113.4 299.8h0M102.6 334.1h0M103.4 289.9h0M110.1 352.0h0M115.6 356.4h0M106.8 352.0h0M114.6 310.5h0M116.3 326.3h0M103.2 334.6h0M111.9 344.4h0M103.2 313.5h0M101.7 287.9h0M100.5 348.4h0M100.8 339.5h0M116.0 333.6h0M113.0 354.1h0M102.9 315.9h0M114.9 328.8h0M103.1 329.9h0M110.5 345.0h0M101.4 359.5h0M115.7 322.6h0M105.7 343.9h0M103.4 331.1h0M110.5 346.5h0M102.4 314.4h0M113.8 301.9h0M103.4 314.8h0M101.9 332.8h0M114.9 334.7h0M115.3 330.7h0M102.8 335.9h0M104.3 329.3h0M100.3 332.6h0M106.8 358.2h0M104.0 302.1h0M116.1 358.2h0M108.5 358.8h0M109.1 359.1h0M105.6 347.5h0M103.7 345.2h0M105.1 355.2h0M101.6 356.8h0M115.5 342.4h0M112.4 320.1h0M115.4 325.4h0M104.0 340.6h0M103.9 359.4h0M107.0 353.0h0M104.7 327.9h0M115.7 346.5h0M104.3 346.8h0M112.0 344.3h0M112.8 357.4h0M102.0 327.6h0M116.1 349.0h0M115.7 348.8h0M104.8 328.0h0M114.8 300.8h0M103.6 309.7h0M114.6 315.9h0M103.3 335.6h0M104.6 353.7h0M113.1 308.1h0M115.3 351.1h0M102.7 352.6h0M105.1 332.1h0M116.1 298.3h0M115.9 300.6h0M114.2 290.5h0M114.8 331.8h0M112.4 311.6h0M106.2 357.9h0M110.9 337.1h0M105.7 358.1h0M103.7 336.6h0M102.0 335.2h0M106.7 353.6h0M115.0 344.4h0M113.1 333.2h0M105.0 330.4h0M112.9 308.6h0M101.0 344.4h0M102.8 332.7h0M113.7 298.1h0M104.4 341.6h0M109.8 358.7h0M114.4 328.9h0M111.1 355.3h0M106.5 351.3h0M109.4 353.8h0M113.5 334.4h0M114.6 318.3h0M115.3 326.6h0M115.5 291.6h0M114.6 354.1h0M113.6 312.2h0M113.6 331.8h0M101.9 349.3h0M114.2 345.4h0M103.5 359.4h0M104.0 334.1h0M103.9 352.4h0M102.4 350.4h0M112.9 350.9h0M111.0 346.8h0M103.2 301.9h0M104.0 352.3h0M100.5 318.8h0M112.4 358.4h0M102.4 323.6h0M113.3 355.4h0M103.6 332.6h0M110.2 350.8h0M103.4 347.3h0M116.1 338.7h0M114.3 358.2h0M114.1 351.8h0M113.7 346.0h0M101.2 294.4h0M110.8 338.5h0M114.7 354.8h0M104.6 327.9h0M114.0 326.4h0M115.5 335.0h0M102.6 344.0h0M112.8 353.1h0M101.5 345.9h0M112.7 358.0h0M105.9 359.0h0M102.5 338.0h0M101.8 288.9h0M113.6 297.2h0M114.4 332.4h0M112.5 329.7h0M111.9 323.2h0M114.0 345.3h0M111.1 355.1h0M114.6 306.9h0M106.4 355.7h0M102.2 322.5h0M106.8 357.3h0M108.2 357.3h0M112.9 323.7h0M103.8 348.9h0M111.3 338.4h0M104.9 356.3h0M103.8 340.4h0M114.8 357.6h0M114.7 357.7h0M114.9 339.1h0M102.3 348.6h0M102.6 312.3h0M103.9 306.6h0M102.3 355.7h0M115.8 324.6h0M115.9 315.2h0M100.5 330.5h0M113.4 333.3h0M112.0 353.2h0M100.3 349.5h0M104.2 323.4h0M115.9 336.8h0M103.1 358.9h0M115.3 347.9h0M103.4 325.8h0M114.2 311.4h0M103.4 351.1h0M109.3 359.5h0M102.1 343.4h0M114.6 340.8h0M112.3 343.9h0M116.3 293.8h0M102.3 302.8h0M105.1 343.7h0M104.5 331.0h0M103.6 349.4h0M114.4 347.0h0M115.6 302.1h0M101.3 288.3h0M116.0 316.4h0M113.2 316.0h0M111.7 336.0h0M104.6 347.6h0M113.6 352.5h0M113.7 353.7h0M103.3 351.4h0M113.6 348.6h0M105.3 350.1h0M109.4 351.2h0M114.2 325.4h0M104.1 350.0h0M102.8 356.1h0M112.2 347.8h0M103.0 349.4h0M113.1 357.4h0M104.4 314.7h0M109.1 356.8h0M114.1 336.6h0M116.2 346.3h0M102.7 330.1h0M100.8 309.5h0M112.6 351.0h0M106.6 354.7h0M109.4 353.1h0M111.6 343.1h0M114.4 315.0h0M102.5 340.3h0M114.3 337.8h0M113.9 355.3h0M112.9 349.9h0M103.6 341.6h0M107.0 352.6h0M111.8 357.4h0M113.4 343.5h0M103.1 351.0h0M102.7 324.8h0M111.0 353.2h0M100.7 357.2h0M103.7 319.5h0M100.7 308.8h0M104.6 331.0h0M111.3 350.3h0M115.1 324.5h0M103.7 327.6h0M107.3 357.4h0M102.4 342.0h0M102.5 338.6h0M109.5 352.2h0M114.2 356.4h0M114.4 311.5h0M103.6 340.5h0M107.1 352.1h0M110.1 351.0h0M112.0 347.7h0M116.2 321.8h0M107.4 356.8h0M113.6 298.6h0M105.2 344.8h0M111.9 343.2h0M100.7 357.3h0M113.2 354.6h0M100.5 333.8h0M100.9 296.5h0M115.4 339.1h0M108.2 359.2h0M115.7 321.7h0M111.2 348.7h0M107.4 353.8h0M110.9 336.2h0M101.9 334.7h0M103.0 343.2h0M104.3 346.9h0M105.5 346.3h0M113.1 325.7h0M105.2 333.0h0M114.6 337.7h0M115.4 340.7h0M104.3 356.0h0M113.7 306.8h0M100.5 358.3h0M108.9 354.6h0M102.0 297.3h0M113.9 356.6h0M101.0 335.6h0M102.0 355.1h0M109.2 358.8h0M104.1 326.0h0M106.8 352.5h0M114.3 357.4h0M114.1 353.2h0M105.9 351.8h0M101.8 348.1h0M101.5 329.2h0M111.8 344.2h0M105.2 337.5h0M106.0 349.7h0M110.9 352.8h0M115.8 340.1h0M113.6 291.2h0M115.3 344.8h0M111.8 344.5h0M102.7 350.0h0M101.9 322.4h0M101.5 359.2h0M110.6 345.6h0M114.7 359.1h0M111.3 340.0h0M110.6 355.2h0M113.0 307.4h0M110.8 357.5h0M115.7 358.0h0M113.6 306.9h0M103.3 344.4h0M114.0 309.0h0M104.0 322.6h0M103.3 341.0h0M105.8 348.9h0M114.1 314.3h0M115.3 349.4h0M108.3 358.4h0M113.7 336.8h0M101.1 293.7h0M103.7 333.9h0M114.1 331.8h0M103.6 314.6h0M104.6 335.6h0M106.3 352.0h0M109.2 357.3h0M103.7 312.1h0M100.5 292.7h0M108.6 354.9h0M114.6 338.2h0M113.8 357.4h0M104.0 344.4h0M103.2 329.0h0M115.6 309.7h0M104.6 342.3h0M112.9 341.6h0M113.8 359.1h0M108.5 357.6h0M102.8 332.7h0M104.5 334.2h0M105.4 348.1h0M115.0 335.3h0M100.7 306.6h0M115.5 351.7h0M109.5 351.7h0M105.4 354.7h0M115.2 314.7h0M101.9 355.6h0M112.2 321.3h0M110.8 346.7h0M101.1 333.4h0M101.6 331.9h0M106.4 358.1h0M116.2 358.0h0M103.5 330.1h0M102.1 307.2h0M103.6 299.7h0M113.8 353.8h0M102.1 299.2h0M112.0 358.2h0M101.1 328.4h0M112.0 340.7h0M112.8 310.8h0M102.0 345.2h0M101.3 334.0h0M101.2 342.6h0M116.2 353.6h0M100.8 351.0h0M111.8 348.5h0M108.9 359.1h0M102.7 348.9h0M111.6 346.3h0M110.5 357.6h0M116.1 329.0h0M113.3 327.1h0M104.8 324.9h0M110.3 359.1h0M100.8 359.0h0M106.8 352.9h0M106.8 349.5h0M114.4 301.6h0M109.6 358.3h0M102.0 345.5h0M114.8 290.3h0M114.3 348.1h0M115.6 349.9h0M102.0 314.1h0M115.6 312.7h0M115.0 343.6h0M101.1 348.4h0M103.2 336.8h0M110.8 341.6h0M115.0 347.4h0M113.6 354.4h0M104.0 342.0h0M102.2 345.6h0M115.0 335.7h0M111.0 342.6h0M114.4 353.4h0M104.9 327.0h0M113.5 341.9h0M102.4 348.5h0M108.1 356.7h0M112.7 314.7h0M111.9 342.0h0M103.4 336.2h0M101.3 297.5h0M109.5 352.2h0M104.7 356.8h0M106.0 344.7h0M110.7 357.9h0M115.2 287.8h0M106.0 353.2h0M113.4 334.1h0M103.7 345.1h0M102.8 354.0h0M112.2 311.3h0M101.5 308.7h0M110.9 352.4h0M115.0 343.8h0M103.0 356.5h0M106.6 352.0h0M104.8 355.7h0M110.9 351.0h0M101.0 344.1h0M102.7 325.0h0M100.5 351.4h0M104.0 326.5h0M103.2 302.2h0M100.6 325.4h0M115.0 341.2h0M103.2 336.5h0M112.7 312.5h0M107.5 358.3h0M112.5 356.9h0M115.2 319.7h0M113.2 322.7h0M102.7 312.8h0M105.9 358.7h0M103.4 358.6h0M116.0 317.9h0M113.6 349.3h0M103.5 302.5h0M110.2 353.2h0M105.6 357.9h0M115.4 350.8h0M100.5 334.6h0M112.6 315.9h0M114.7 346.5h0M112.6 314.7h0M102.2 337.3h0M111.3 337.4h0M106.8 358.2h0M113.6 297.5h0M110.9 354.5h0M102.0 328.5h0M112.3 316.9h0M112.1 322.8h0M113.0 296.1h0M103.1 341.3h0M110.9 358.1h0M111.3 357.3h0M101.1 291.7h0M115.3 336.7h0M102.8 348.8h0M114.1 350.4h0M113.5 338.4h0M114.8 328.9h0M115.1 345.4h0M101.4 333.4h0M101.5 357.5h0M100.5 303.9h0M115.0 354.0h0M100.3 308.1h0M115.1 340.8h0M103.6 300.0h0M101.3 343.3h0M114.3 357.9h0M100.7 337.4h0M107.4 355.1h0M103.7 317.5h0M112.9 343.2h0M113.1 334.7h0M112.1 348.3h0M110.6 341.0h0M115.7 320.4h0M103.2 304.1h0M102.9 291.5h0M102.7 324.5h0M112.5 325.6h0M111.6 346.6h0M100.8 310.0h0M105.2 356.5h0M115.4 352.8h0M112.2 314.9h0M100.6 322.3h0M110.5 356.6h0M111.1 357.8h0M106.0 341.7h0M115.6 346.7h0M114.3 310.0h0M104.0 310.9h0M115.1 319.7h0M116.3 321.9h0M115.7 352.4h0M115.2 339.5h0M101.7 346.4h0M103.6 342.5h0M114.1 359.0h0M113.3 352.7h0M101.1 336.9h0M115.5 323.8h0M101.8 333.0h0M104.5 347.1h0M101.3 336.4h0M107.3 354.8h0M115.5 335.0h0M115.5 334.1h0M112.3 324.2h0M115.7 346.5h0M100.8 322.7h0M112.3 357.7h0M114.2 348.6h0M103.0 345.2h0M111.6 358.1h0M111.4 340.9h0M113.4 339.0h0M111.5 332.8h0M104.0 355.2h0M109.5 357.4h0M115.3 328.7h0M106.9 352.3h0M109.2 358.5h0M101.7 351.7h0M114.4 344.5h0M102.3 340.7h0M112.3 326.1h0M110.9 339.0h0M106.3 346.0h0M103.2 335.6h0M115.9 345.6h0M108.1 359.1h0M104.5 315.8h0M105.9 353.7h0M104.0 310.8h0M110.1 351.2h0M109.7 353.1h0M104.7 342.1h0M114.4 338.3h0M110.2 358.5h0M103.5 331.5h0M102.2 322.0h0M115.3 326.5h0M116.2 305.4h0M101.2 339.7h0M116.3 310.1h0M113.4 348.3h0M116.3 348.8h0M101.8 356.9h0M102.2 322.7h0M106.7 356.9h0M113.0 332.5h0M102.4 343.7h0M110.1 358.2h0M115.7 313.9h0M107.2 356.1h0M115.5 358.8h0M112.2 330.3h0M105.6 341.8h0M101.0 339.5h0M106.1 357.4h0M114.1 292.7h0M111.8 329.2h0M111.4 328.3h0M104.8 350.1h0M102.8 325.6h0M115.8 346.1h0M113.4 316.5h0M107.2 359.4h0M103.5 356.1h0M105.9 357.8h0M101.7 353.5h0M109.2 359.5h0M112.1 329.7h0M105.5 336.3h0M114.4 313.6h0M105.2 349.6h0M112.9 346.9h0M111.9 339.2h0M114.5 334.6h0M115.6 359.4h0M102.4 330.8h0M101.0 316.6h0M112.2 338.8h0M102.9 322.9h0M111.2 348.9h0M116.2 297.6h0M110.6 357.1h0M115.9 357.7h0M113.2 305.6h0M104.7 358.8h0M109.0 357.4h0M102.0 348.1h0M101.3 324.0h0M103.0 352.7h0M106.3 351.6h0M100.4 300.5h0M115.3 358.1h0M115.9 345.2h0M113.3 340.3h0M101.7 350.5h0M111.5 354.2h0M113.3 335.7h0M104.0 335.9h0M115.9 311.7h0M111.5 351.1h0M103.3 338.3h0M107.3 354.4h0M110.9 345.6h0M104.1 358.0h0M102.5 358.9h0M102.5 348.2h0M100.5 341.0h0M111.3 337.5h0M116.0 357.8h0M104.0 337.7h0M103.3 300.5h0M101.1 298.2h0M113.5 339.5h0M101.3 334.7h0M108.4 357.4h0M111.3 348.3h0M100.6 345.7h0M101.7 344.9h0M110.4 359.4h0M113.6 352.7h0M104.2 340.6h0M100.9 350.5h0M113.5 310.6h0M111.2 342.8h0M114.5 326.9h0M100.6 321.9h0M104.0 307.3h0M103.3 347.3h0M114.3 346.5h0M106.3 352.4h0M100.5 332.7h0M106.8 357.8h0M102.7 323.6h0M103.7 339.0h0M115.3 305.7h0M101.6 326.8h0M112.2 330.7h0M102.1 346.8h0M100.6 349.8h0M115.8 358.2h0M102.0 348.0h0M103.6 344.0h0M103.2 358.9h0M104.7 345.3h0M114.7 288.6h0M103.4 335.4h0M102.8 320.5h0M105.2 336.2h0M115.3 357.9h0M100.7 345.8h0M113.4 345.4h0M116.1 290.9h0M115.1 339.4h0M101.0 308.8h0M113.0 353.2h0M100.7 330.6h0M103.2 350.2h0M115.6 326.9h0M102.1 356.8h0M101.9 309.5h0M105.4 345.8h0M112.5 356.4h0M101.2 344.3h0M106.5 348.0h0M105.0 339.1h0M101.7 309.6h0M101.5 317.3h0M110.1 357.4h0M110.7 353.7h0M102.1 332.1h0M102.6 345.1h0M114.1 320.1h0M103.2 357.9h0M111.9 346.3h0M102.7 337.7h0M105.0 334.8h0M104.2 334.1h0M100.7 350.7h0M100.5 359.3h0M113.3 327.8h0M114.7 327.9h0M111.1 348.1h0M100.8 348.2h0M114.8 328.2h0M107.2 352.5h0M110.8 350.2h0M107.3 359.5h0M112.1 315.0h0M111.1 351.7h0M103.5 351.5h0M105.7 359.4h0M102.0 296.7h0M114.5 358.4h0M111.9 344.6h0M101.4 325.2h0M114.7 342.9h0M110.3 345.0h0M101.7 308.5h0M104.7 334.4h0M103.4 349.6h0M104.0 326.6h0M104.3 317.2h0M102.0 355.9h0M113.5 296.8h0M114.0 358.1h0M103.5 336.5h0M110.7 341.7h0M101.7 295.3h0M114.3 344.1h0M108.8 356.2h0M113.7 348.8h0M105.0 345.8h0M103.7 349.9h0M112.8 331.4h0M113.9 352.4h0M102.0 342.5h0M103.6 323.3h0M101.2 357.7h0M116.1 332.6h0M103.1 342.6h0M114.2 319.7h0M116.3 355.9h0M114.7 302.9h0M116.3 338.1h0M110.7 355.5h0M104.2 344.5h0M114.2 320.3h0M115.6 332.3h0M112.8 356.7h0M107.9 356.2h0M114.4 355.1h0M111.2 349.9h0M115.2 315.1h0M112.6 312.5h0M112.6 336.0h0M103.0 351.6h0M100.9 329.2h0M106.6 357.8h0M113.3 333.8h0M101.4 320.0h0M113.8 320.5h0M102.7 310.0h0M115.0 338.2h0M103.5 323.3h0M101.4 341.1h0M109.8 354.5h0M114.8 344.5h0M103.8 326.3h0M115.9 355.9h0M105.3 354.5h0M102.8 305.0h0M110.0 359.2h0M106.4 352.1h0M111.8 346.2h0M101.8 355.9h0M115.3 289.7h0M115.8 340.5h0M111.8 356.0h0M115.6 315.6h0M115.2 357.4h0M101.6 317.0h0M103.9 359.2h0M114.8 357.5h0M112.6 330.1h0M107.6 359.2h0M111.9 357.0h0M108.5 357.9h0M106.1 346.2h0M111.1 349.1h0M104.4 317.9h0M113.6 349.5h0M112.5 334.0h0M116.2 332.2h0M105.4 341.8h0M100.6 345.3h0M111.5 346.1h0M100.3 358.8h0M103.3 356.7h0M102.4 359.4h0M101.8 351.8h0M115.7 336.7h0M100.5 334.4h0M113.5 346.1h0M100.7 299.7h0M110.6 343.9h0M101.0 331.7h0M104.6 359.3h0M113.4 344.4h0M112.0 355.6h0M113.2 339.9h0M103.1 305.5h0M113.6 304.4h0M113.9 341.3h0M103.7 297.8h0M115.4 356.4h0M101.5 298.3h0M102.0 357.3h0M104.1 353.5h0M116.2 349.3h0M110.9 348.1h0M114.7 351.4h0M101.9 337.8h0M113.2 357.8h0M100.8 354.2h0M101.9 315.5h0M112.1 328.6h0M111.5 332.2h0M102.1 344.7h0M104.6 359.3h0M101.9 336.8h0M112.4 354.9h0M104.0 334.6h0M100.8 348.7h0M101.5 296.1h0M114.6 334.0h0M106.0 346.4h0M115.5 305.6h0M104.7 327.4h0M111.7 340.4h0M111.5 330.2h0M113.5 342.4h0M105.1 353.7h0M114.5 300.0h0M116.2 358.5h0M101.6 357.4h0M106.7 351.9h0M107.1 359.5h0M111.8 355.4h0M114.8 346.2h0M115.4 305.1h0M100.7 291.4h0M100.5 357.1h0M103.8 358.8h0M110.7 357.2h0M102.9 317.3h0M115.3 351.1h0M115.7 357.7h0M110.2 350.4h0M104.3 316.5h0M113.1 324.1h0M100.5 349.3h0M113.6 339.2h0M115.2 326.4h0M104.4 324.9h0M100.4 287.9h0M101.9 289.6h0M114.7 314.7h0M114.2 344.3h0M103.9 346.0h0M103.1 314.6h0M102.3 347.4h0M104.2 334.0h0M104.1 317.2h0M116.0 331.3h0M103.5 346.0h0M110.6 355.2h0M101.2 334.4h0M114.7 348.6h0M113.4 322.4h0M103.9 349.0h0M114.6 358.4h0M101.7 348.9h0M112.0 353.3h0M104.9 342.1h0M105.5 338.8h0M102.0 327.5h0M115.3 310.0h0M115.5 341.6h0M100.6 291.5h0M116.3 307.9h0M111.6 335.0h0M103.7 313.6h0M116.2 308.9h0M114.6 359.2h0M102.3 353.0h0M115.3 313.7h0M114.4 338.9h0M114.5 309.4h0M112.6 354.8h0M115.8 323.7h0M102.8 353.7h0M103.1 352.9h0M111.3 355.0h0M114.7 344.8h0M109.3 357.7h0M107.6 354.8h0M100.7 306.9h0M115.2 342.6h0M100.8 340.7h0M115.8 344.8h0M102.5 357.8h0M115.5 320.9h0M104.5 325.7h0M115.9 315.4h0M115.9 329.0h0M104.3 350.5h0M116.2 317.1h0M102.0 340.9h0M112.9 303.3h0M114.0 356.8h0M105.3 344.0h0M105.1 340.8h0M103.2 358.5h0M112.2 330.9h0M110.2 348.7h0M101.0 348.1h0M101.4 288.4h0M115.8 349.4h0M116.0 321.1h0M116.0 317.7h0M103.9 343.6h0M102.9 320.5h0M115.1 347.4h0M104.7 340.4h0M113.8 323.0h0M111.4 346.5h0M101.4 339.6h0M104.4 355.8h0M112.4 347.0h0M105.7 346.7h0M101.4 350.6h0M101.0 308.2h0M104.8 327.9h0M114.8 298.4h0M100.5 352.2h0M114.9 318.1h0M104.5 354.4h0M115.3 294.4h0M112.0 343.3h0M115.9 331.0h0M114.6 336.8h0M103.0 340.1h0M101.8 319.1h0M103.3 357.7h0M108.3 359.4h0M103.5 289.5h0M104.2 334.5h0M105.5 336.7h0M101.2 350.2h0M101.8 331.6h0M113.7 309.6h0M104.8 352.5h0M104.3 347.5h0M105.0 348.6h0M115.8 340.5h0M113.6 336.9h0M107.1 355.5h0M113.7 342.4h0M104.7 340.8h0M116.1 337.6h0M115.3 297.0h0M113.6 344.2h0M110.9 348.9h0M101.4 349.5h0M111.9 345.2h0M109.7 358.4h0M114.8 357.2h0M112.0 341.3h0M104.0 354.8h0M101.6 337.4h0M114.3 349.0h0M105.1 347.3h0M115.4 319.1h0M104.5 318.3h0M115.3 347.7h0M101.2 328.3h0M115.0 323.0h0M101.7 320.2h0M103.1 329.6h0M112.9 356.6h0M100.3 350.4h0M106.4 344.9h0M101.9 296.5h0M115.1 355.1h0M101.7 327.1h0M101.3 356.0h0M114.1 299.7h0M102.3 356.4h0M100.6 332.9h0M113.7 326.6h0M114.9 317.7h0M110.3 356.0h0M113.9 337.6h0M114.3 330.3h0M112.2 315.7h0M111.6 346.9h0M103.5 296.4h0M104.8 341.5h0M114.0 338.9h0M112.3 353.9h0M114.2 355.8h0M112.8 356.0h0M112.3 332.1h0M111.2 343.3h0M100.9 350.1h0M113.5 355.4h0M114.0 300.8h0M111.1 341.6h0M102.1 313.7h0M110.8 337.7h0M105.1 353.0h0M113.4 345.5h0M100.7 291.1h0M114.4 339.3h0M103.8 314.5h0M101.2 319.6h0M102.6 342.3h0M114.0 359.4h0M100.5 338.4h0M102.3 351.4h0M110.5 351.3h0M113.3 342.2h0M105.1 332.3h0M111.2 337.9h0M104.9 342.2h0M103.1 324.9h0M114.1 355.0h0M102.3 329.5h0M109.4 353.8h0M102.3 294.4h0M111.4 338.9h0M115.8 356.4h0M100.5 339.4h0M108.1 356.8h0M110.7 350.8h0M112.9 342.2h0M101.1 336.1h0M104.1 343.7h0M104.2 357.4h0M115.4 341.7h0M113.4 353.5h0M112.9 348.8h0M109.3 352.1h0M114.4 342.0h0M111.2 338.5h0M110.9 342.2h0M105.7 350.4h0M103.5 336.1h0M113.3 358.3h0M105.2 348.5h0M114.9 353.5h0M112.2 354.9h0M104.0 309.7h0M104.9 351.1h0M104.0 358.1h0M114.6 325.9h0M113.5 357.4h0M101.4 302.6h0M104.7 357.4h0M115.9 352.3h0M116.2 357.2h0M102.6 351.3h0M113.4 312.5h0M114.4 322.0h0M112.0 346.8h0M101.8 333.7h0M105.4 338.3h0M114.5 332.3h0M107.4 357.3h0M107.9 357.9h0M114.9 344.3h0M101.3 339.9h0M113.8 348.0h0M103.8 353.8h0M103.6 301.6h0M103.5 347.9h0M109.8 348.8h0M103.9 303.7h0M104.8 352.6h0M101.3 330.9h0M112.6 351.7h0M110.7 356.0h0M102.7 339.5h0M104.1 355.5h0M116.3 352.4h0M106.0 357.9h0M100.6 357.2h0M103.1 293.8h0M114.5 349.3h0M102.7 338.7h0M104.5 328.2h0M104.2 353.1h0M111.1 345.9h0M115.7 329.7h0M114.5 354.8h0M111.9 339.3h0M110.3 359.2h0M101.8 330.9h0M100.7 330.3h0M111.6 339.5h0M115.2 308.2h0M101.6 341.0h0M115.7 359.0h0M105.0 346.2h0M105.8 356.7h0M100.6 356.9h0M104.6 337.5h0M102.1 346.4h0M115.5 295.6h0M104.0 346.0h0M111.1 357.5h0M114.1 351.3h0M113.5 343.6h0M106.8 355.1h0M102.3 346.5h0M106.7 357.2h0M111.7 323.0h0M110.8 358.1h0M111.2 353.7h0M113.7 336.8h0M100.3 359.3h0M106.9 358.3h0M106.3 353.1h0M110.5 343.2h0M100.3 325.3h0M106.8 356.4h0M105.6 350.6h0M114.2 348.0h0M114.5 336.9h0M115.0 340.6h0M103.1 320.0h0M110.7 353.6h0M111.1 343.3h0M113.5 332.7h0M109.7 355.3h0M101.2 339.4h0M106.0 341.1h0M114.4 324.7h0M102.8 350.6h0M105.4 349.5h0M101.2 324.9h0M113.8 358.5h0M115.5 358.5h0M112.6 352.9h0M106.0 346.3h0M107.5 355.5h0M104.3 318.6h0M100.4 356.8h0M100.6 356.7h0M114.0 342.3h0M104.2 351.6h0M112.7 344.7h0M105.2 347.6h0M114.2 336.3h0M115.4 335.9h0M115.1 327.7h0M113.8 291.1h0M105.6 356.7h0M108.0 358.3h0M113.6 341.5h0M114.3 357.9h0M100.8 337.0h0M114.2 322.3h0M100.6 352.4h0M114.6 342.9h0M101.3 336.7h0M102.6 336.0h0M111.8 358.7h0M101.0 345.8h0M113.8 307.3h0M115.1 339.9h0M104.9 350.4h0M113.8 353.7h0M114.0 329.9h0M115.4 329.0h0M108.4 359.5h0M112.6 311.8h0M113.6 321.0h0M101.6 337.7h0M102.9 352.0h0M108.3 356.8h0M114.7 316.5h0M105.6 344.0h0M103.6 344.4h0M115.2 320.1h0M115.6 349.8h0M115.0 329.1h0M102.8 356.6h0M102.9 343.3h0M103.8 331.5h0M113.7 337.2h0M105.9 342.5h0M115.8 320.6h0M110.5 347.8h0M109.5 356.0h0M103.4 332.9h0M115.7 343.1h0M112.3 347.3h0M103.0 342.2h0M114.8 307.9h0M107.8 358.4h0M110.2 351.7h0M103.3 321.6h0M106.2 357.4h0M102.6 332.2h0M113.3 340.4h0M112.2 322.8h0M104.1 348.0h0M100.3 313.6h0M109.4 357.8h0M115.8 314.2h0M101.3 347.6h0M104.2 339.5h0M102.5 359.2h0M103.2 324.6h0M103.0 348.7h0M100.5 335.7h0M110.4 351.8h0M114.6 340.2h0M111.9 358.6h0M107.6 355.0h0M114.2 345.2h0M114.4 351.9h0M103.9 347.9h0M103.9 350.3h0M116.1 289.0h0M106.7 353.1h0M114.7 326.2h0M104.3 321.5h0M101.7 293.8h0M116.2 336.5h0M102.6 318.6h0M101.6 336.0h0M103.9 349.2h0M101.6 306.8h0M116.0 320.6h0M113.1 290.1h0M113.7 357.1h0M104.2 316.9h0M101.6 337.1h0M105.3 346.6h0M112.4 335.6h0M103.7 351.1h0M109.7 354.1h0M105.5 334.3h0M105.9 352.8h0M101.8 306.0h0M104.8 344.9h0M103.2 332.0h0M103.4 326.0h0M102.7 317.6h0M105.8 359.2h0M100.8 355.5h0M100.9 339.2h0M103.6 354.9h0M110.4 356.8h0M113.4 350.5h0M101.7 336.7h0M112.0 338.1h0M112.5 323.2h0M115.9 357.8h0M112.6 339.3h0M108.9 359.4h0M115.1 357.1h0M105.9 352.0h0M103.2 311.6h0M111.2 348.5h0M102.9 356.9h0M103.1 340.3h0M115.0 352.5h0M102.4 325.0h0M104.3 353.2h0M105.0 348.0h0M115.6 330.7h0M112.9 325.0h0M100.7 322.6h0M104.0 339.5h0M112.4 351.2h0M111.9 342.9h0M111.1 358.9h0M110.6 342.9h0M101.2 354.6h0M112.1 355.9h0M112.1 334.9h0M115.9 308.8h0M104.2 340.9h0M114.8 322.4h0M112.2 350.2h0M115.7 352.0h0M106.2 356.7h0M101.6 327.1h0M102.3 358.9h0M103.8 339.2h0M105.3 339.7h0M115.9 330.8h0M114.2 348.9h0M100.4 291.3h0M104.0 339.7h0M114.4 352.6h0M101.7 325.2h0M104.3 343.7h0M116.0 346.3h0M102.2 350.7h0M112.6 358.9h0M112.4 345.1h0M111.7 340.6h0M100.3 358.3h0M104.2 339.6h0M106.8 356.1h0M115.8 294.0h0M101.8 357.2h0M114.8 324.7h0M114.1 319.4h0M100.6 303.9h0M101.9 356.2h0M107.9 355.1h0M113.5 328.1h0M113.2 354.7h0M102.2 353.8h0M102.9 339.3h0M115.6 296.9h0M106.0 351.6h0M100.5 345.9h0M111.8 350.3h0M113.6 345.2h0M110.7 349.9h0M112.5 348.6h0M105.1 354.2h0M110.2 354.9h0M103.7 346.3h0M115.4 337.0h0M100.4 356.9h0M105.9 356.4h0M112.5 308.3h0M105.0 346.0h0M101.1 359.3h0M105.2 339.4h0M100.5 356.7h0M113.5 343.8h0M103.2 349.4h0M102.1 357.9h0M101.0 320.7h0M114.8 348.9h0M112.9 353.4h0M109.5 355.1h0M112.4 355.1h0M110.4 349.6h0M102.9 327.2h0M110.7 358.2h0M112.8 300.5h0M102.3 322.0h0M110.6 343.3h0M104.4 325.0h0M115.6 318.1h0M108.6 356.8h0M114.8 336.8h0M105.2 330.5h0M112.3 345.5h0M111.2 331.2h0M113.5 355.6h0M113.4 355.3h0M113.1 341.4h0M111.2 345.6h0M114.3 323.0h0M115.5 353.4h0M101.7 319.8h0M105.9 345.0h0M115.1 348.7h0M113.0 342.4h0M100.8 312.4h0M110.0 349.7h0M101.0 344.3h0M111.0 340.8h0M110.2 356.4h0M107.9 358.6h0M114.0 306.6h0M100.6 356.9h0M102.0 349.6h0M103.5 308.0h0M100.4 311.8h0M100.7 330.3h0M116.2 321.5h0M103.2 330.1h0M116.0 324.5h0M105.9 358.8h0M105.6 351.7h0M114.3 355.2h0M105.9 346.8h0M112.5 311.2h0M106.0 343.3h0M103.2 320.3h0M114.9 337.6h0M115.5 341.8h0M116.3 347.2h0M113.7 332.0h0M101.3 317.5h0M105.8 356.3h0M101.6 339.4h0M115.5 328.9h0M111.2 348.6h0M115.4 315.7h0M111.6 346.7h0M100.6 310.3h0M100.3 342.0h0M102.4 344.1h0M111.2 348.5h0M112.8 346.7h0M112.7 348.4h0M103.3 321.0h0M105.8 340.8h0M106.9 349.0h0M101.2 357.8h0M114.7 325.9h0M111.8 356.0h0M103.9 357.0h0M113.2 349.3h0M113.5 319.5h0M115.5 317.2h0M113.9 320.5h0M105.6 340.6h0M114.9 349.5h0M105.3 359.0h0M102.7 348.6h0M112.1 348.9h0M116.1 349.1h0M103.4 307.6h0M103.3 348.0h0M100.7 335.0h0M103.3 340.7h0M115.9 355.1h0M103.7 338.7h0M102.9 324.3h0M102.8 356.3h0M113.9 335.9h0M104.5 330.7h0M114.5 324.1h0M112.0 322.3h0M110.8 353.5h0M102.9 344.7h0M102.3 319.5h0M114.8 333.5h0M105.2 354.3h0M110.5 344.0h0M111.5 330.5h0M105.8 337.9h0M115.2 340.3h0M111.6 348.3h0M109.8 355.9h0M104.5 316.2h0M112.6 356.3h0M100.7 319.1h0M103.5 355.2h0M101.1 329.2h0M111.9 353.9h0M100.4 353.7h0M101.6 320.3h0M102.7 321.5h0M110.7 339.9h0M100.3 313.7h0M104.0 355.4h0M115.4 341.2h0M102.4 326.3h0M100.4 320.1h0M115.4 351.2h0M115.1 349.6h0M101.6 350.1h0M115.9 293.6h0M114.4 344.2h0M112.2 347.7h0M104.2 353.3h0M107.7 358.3h0M115.2 311.2h0M105.6 355.9h0M110.7 349.5h0M111.7 345.7h0M110.8 357.0h0M115.2 319.8h0M114.6 351.5h0M116.1 348.6h0M113.3 291.0h0M115.7 347.3h0M114.0 321.2h0M100.8 290.6h0M113.5 344.0h0M105.3 358.0h0M111.0 356.1h0M112.2 335.8h0M111.3 348.6h0M113.7 323.3h0M115.6 329.8h0M101.2 349.6h0M102.0 352.2h0M112.6 355.7h0M103.0 290.5h0M102.7 352.3h0M114.1 355.1h0M102.3 325.9h0M101.5 316.8h0M102.3 350.3h0M100.3 358.7h0M115.3 293.4h0M100.3 336.4h0M115.6 357.1h0M100.9 359.1h0M104.1 358.2h0M103.1 320.3h0M113.0 322.5h0M105.0 325.5h0M115.0 328.6h0M101.4 358.7h0M102.3 356.1h0M100.8 352.5h0M113.1 312.8h0M104.0 357.5h0M102.2 325.7h0M103.1 358.5h0M109.8 359.4h0M115.3 344.0h0M103.8 342.0h0M101.9 331.8h0M113.4 373.0h0M111.3 366.2h0M100.1 363.0h0M101.5 363.2h0M106.1 366.5h0M111.1 371.5h0M106.1 364.1h0M102.4 364.2h0M114.4 372.9h0M107.7 360.8h0M105.1 373.0h0M101.9 364.8h0M114.4 368.7h0M105.7 361.6h0M105.2 360.3h0M104.6 360.0h0M109.9 359.7h0M106.8 372.6h0M104.0 367.3h0M119.2 365.9h0M108.2 361.5h0M113.5 360.7h0M110.0 360.6h0M102.1 367.5h0M119.5 361.7h0M115.3 360.2h0M123.3 359.5h0M102.9 363.3h0M114.7 366.4h0M116.5 372.7h0M108.3 366.3h0M102.9 371.2h0M114.3 371.7h0M95.5 359.5h0M99.8 364.4h0M118.3 364.5h0M117.9 362.7h0M106.6 362.5h0M98.6 371.2h0M115.5 361.7h0M117.4 362.9h0M105.2 360.8h0M117.4 359.8h0M113.6 364.6h0M122.6 364.7h0M104.9 366.9h0M100.8 362.2h0M117.9 369.9h0M104.4 359.6h0M105.1 365.9h0M115.2 367.5h0M97.4 365.2h0M101.3 361.3h0M112.9 360.6h0M115.0 369.9h0M100.5 368.7h0M107.7 365.0h0M109.1 370.3h0M108.6 363.7h0M98.9 368.5h0M120.3 359.6h0M104.4 360.2h0M93.5 362.4h0M108.2 361.2h0M108.9 371.5h0M119.7 359.8h0M105.8 361.1h0M105.0 359.8h0M106.5 360.5h0M108.5 364.3h0M105.7 360.1h0M102.8 359.8h0M112.8 360.4h0M104.8 359.7h0M114.4 370.4h0M103.6 360.7h0M90.8 362.1h0M112.2 372.0h0M92.2 364.9h0M120.5 362.3h0M107.9 364.4h0M112.0 368.6h0M105.6 359.8h0M98.1 359.9h0M104.0 366.6h0M111.1 363.9h0M102.2 361.4h0M105.8 362.4h0M115.2 359.9h0M114.8 367.5h0M113.8 370.3h0M110.8 371.6h0M95.2 363.6h0M105.2 371.3h0M108.6 364.6h0M103.1 368.2h0M118.9 361.1h0M105.5 371.7h0M102.7 360.2h0M100.6 361.3h0M116.8 368.5h0M105.2 369.4h0M112.2 359.6h0M106.8 360.2h0M97.7 368.2h0M110.0 361.7h0M110.4 360.0h0M117.4 360.9h0M105.4 361.7h0M104.6 367.3h0M93.3 363.5h0M105.3 366.2h0M113.0 359.5h0M102.7 360.6h0M102.3 363.6h0M106.2 360.5h0M118.8 359.7h0M102.0 370.8h0M110.4 371.3h0M98.5 366.9h0M118.7 360.6h0M120.3 367.3h0M110.0 363.0h0M102.6 359.7h0M102.0 362.1h0M107.7 369.5h0M106.3 367.6h0M103.9 363.2h0M111.3 367.4h0M108.2 360.1h0M103.0 367.3h0M98.1 365.8h0M101.5 370.4h0M117.1 367.2h0M99.9 362.2h0M112.0 369.4h0M107.8 362.3h0M118.6 369.7h0M107.6 368.2h0M102.2 360.3h0M105.5 372.8h0M110.5 365.2h0M96.9 363.6h0M114.2 362.0h0M103.8 362.2h0M111.7 370.9h0M117.4 368.6h0M102.5 366.2h0M108.1 363.5h0M107.7 371.5h0M106.6 363.9h0M100.0 360.1h0M105.7 363.9h0M110.2 359.6h0M104.8 372.1h0M112.7 363.0h0M114.8 363.0h0M105.5 372.5h0M105.7 359.8h0M117.9 360.6h0M108.6 366.6h0M111.1 359.7h0M102.3 365.3h0M110.7 365.8h0M116.1 363.5h0M106.8 359.7h0M91.5 362.0h0M100.9 359.6h0M113.1 360.4h0M110.1 359.5h0M124.0 368.4h0M103.5 365.0h0M104.2 365.9h0M119.7 363.1h0M109.2 360.3h0M109.0 367.3h0M106.5 362.2h0M103.0 360.3h0M120.9 367.3h0M108.4 361.9h0M125.1 366.0h0M117.3 359.5h0M107.2 368.6h0M109.6 369.8h0M113.1 360.2h0M109.0 360.2h0M107.1 369.6h0M109.7 368.9h0M110.6 363.6h0M101.8 366.8h0M105.5 368.1h0M108.8 368.6h0M100.8 361.0h0M107.8 359.7h0M103.6 370.6h0M98.3 362.5h0M106.9 367.9h0M112.8 365.3h0M104.3 359.6h0M102.0 366.8h0M116.2 370.7h0M110.5 360.2h0M119.5 371.5h0M94.8 361.8h0M111.6 368.1h0M113.2 364.1h0M115.5 360.0h0M103.3 364.9h0M109.4 364.9h0M117.3 372.4h0M111.7 372.0h0M124.2 366.2h0M98.2 361.8h0M99.4 368.7h0M108.9 359.9h0M93.2 365.4h0M100.4 371.2h0M92.4 360.3h0M115.4 363.0h0M111.4 372.0h0M102.5 363.5h0M108.8 361.9h0M107.1 359.7h0M111.6 365.6h0M109.8 363.6h0M111.1 365.2h0M120.9 359.7h0M111.0 372.5h0M105.2 365.4h0M115.5 366.7h0M94.4 368.7h0M113.6 362.9h0M100.6 362.7h0M109.7 365.4h0M117.2 361.6h0M105.8 360.5h0M108.1 367.7h0M109.0 366.1h0M106.6 361.8h0M111.1 367.0h0M107.1 360.8h0M106.6 366.3h0M91.6 362.0h0M123.9 361.0h0M113.2 369.6h0M94.6 361.3h0M118.9 360.2h0M114.4 363.2h0M115.4 360.4h0M115.1 370.6h0M112.2 361.0h0M99.0 365.5h0M111.1 360.3h0M115.8 370.8h0M107.4 365.1h0M113.7 372.5h0M113.1 362.0h0M104.5 367.1h0M102.4 370.9h0M114.2 360.1h0M126.3 359.6h0M107.0 360.1h0M97.2 360.1h0M107.1 359.5h0M107.3 361.0h0M118.9 359.6h0M114.2 360.6h0M103.0 361.7h0M104.4 360.5h0M105.1 363.1h0M110.4 369.7h0M113.6 360.5h0M115.2 371.1h0M105.1 361.0h0M113.8 361.6h0M111.8 367.1h0M111.1 362.6h0M104.0 369.3h0M100.2 368.6h0M109.8 372.9h0M102.5 359.8h0M102.6 372.0h0M104.8 365.9h0M103.8 364.5h0M118.1 361.0h0M109.2 364.0h0M102.5 360.4h0M130.4 363.0h0M109.7 361.1h0M109.7 365.9h0M90.3 360.2h0M119.1 360.6h0M111.2 359.7h0M105.2 360.0h0M105.5 370.0h0M117.6 372.2h0M118.5 369.2h0M106.6 362.4h0M115.5 364.1h0M102.2 369.9h0M99.8 362.4h0M114.0 359.7h0M91.7 369.9h0M102.2 360.4h0M109.5 361.1h0M108.7 365.2h0M115.7 360.5h0M110.4 371.8h0M111.0 372.6h0M113.0 359.8h0M114.3 363.5h0M118.4 362.5h0M97.4 371.5h0M118.5 361.4h0M101.8 371.8h0M104.3 371.6h0M113.2 364.8h0M101.4 367.1h0M118.3 370.2h0M105.2 364.7h0M116.5 360.0h0M111.9 372.0h0M113.3 359.6h0M108.8 360.9h0M115.8 372.9h0M104.3 368.6h0M109.0 360.0h0M99.1 364.0h0M109.1 372.5h0M104.6 364.0h0M93.1 370.0h0M99.5 359.8h0M111.2 359.8h0M90.0 367.8h0M104.3 372.8h0M105.9 364.5h0M111.5 370.3h0M106.6 365.2h0M108.0 368.0h0M101.1 359.5h0M114.6 359.8h0M106.0 363.7h0M112.1 365.4h0M102.5 365.0h0M108.7 360.0h0M108.0 368.2h0M115.8 362.9h0M114.0 360.1h0M107.0 360.2h0M119.4 359.6h0M110.7 364.3h0M106.7 368.3h0M115.6 372.1h0M116.2 361.7h0M94.7 366.1h0M102.5 364.5h0M89.9 361.1h0M113.3 363.4h0M115.7 362.6h0M110.2 360.6h0M105.6 361.4h0M125.2 369.4h0M109.5 359.6h0M103.6 371.9h0M107.6 365.0h0M115.6 367.8h0M110.9 361.3h0M93.5 367.4h0M106.5 363.9h0M111.7 371.0h0M110.4 371.8h0M117.6 367.8h0M104.0 359.9h0M116.1 368.7h0M109.4 359.8h0M110.0 363.9h0M107.3 361.7h0M98.5 361.1h0M107.1 360.4h0M110.8 364.1h0M111.4 369.9h0M111.3 362.8h0M105.2 371.1h0M113.8 359.6h0M107.8 361.7h0M107.4 362.4h0M115.2 360.8h0M111.6 367.4h0M95.8 368.8h0M104.9 359.6h0M106.3 360.3h0M104.1 365.4h0M105.9 361.3h0M100.9 360.5h0M97.4 364.9h0M107.0 362.0h0M109.5 365.3h0M104.4 359.5h0M107.1 361.5h0M107.6 359.7h0M118.2 364.2h0M100.8 359.7h0M108.8 359.5h0M102.5 371.4h0M96.2 364.1h0M110.7 363.7h0M108.9 364.2h0M105.2 366.7h0M114.8 360.4h0M98.7 372.3h0M97.8 363.8h0M117.2 364.7h0M99.8 362.9h0M106.1 359.6h0M102.2 368.4h0M107.7 364.9h0M99.0 359.6h0M114.6 361.5h0M101.9 360.0h0M122.3 360.2h0M108.5 360.7h0M108.2 362.0h0M117.5 370.4h0M103.5 365.9h0M117.4 359.9h0M112.0 360.3h0M105.0 361.2h0M121.2 360.8h0M116.5 370.5h0M98.9 370.2h0M92.0 359.8h0M99.8 369.7h0M106.6 359.7h0M119.3 362.1h0M112.6 360.1h0M103.6 365.3h0M110.0 359.7h0M102.8 362.2h0M103.5 364.1h0M107.0 361.1h0M114.0 366.4h0M102.5 359.6h0M93.5 369.4h0M108.7 360.1h0M108.2 362.2h0M115.1 359.6h0M108.6 360.1h0M112.2 366.8h0M111.6 368.4h0M107.6 364.1h0M98.2 370.7h0M112.4 360.6h0M117.8 363.9h0M110.7 365.7h0M103.2 369.4h0M107.2 365.6h0M102.1 372.7h0M117.1 368.0h0M107.7 368.3h0M104.8 372.8h0M111.2 365.4h0M112.4 364.7h0M107.9 370.3h0M120.6 361.1h0M110.0 366.5h0M112.9 360.2h0M108.5 362.2h0M110.9 366.0h0M100.8 370.9h0M110.5 364.9h0M104.1 365.7h0M118.2 372.3h0M107.8 366.5h0M103.9 365.6h0M109.4 370.5h0M104.9 365.7h0M105.8 363.3h0M109.3 360.6h0M101.2 359.6h0M101.9 370.1h0M107.5 365.1h0M111.2 372.2h0M99.3 363.4h0M100.0 364.3h0M100.5 365.4h0M108.8 364.0h0M104.1 367.6h0M105.8 361.0h0M101.5 369.7h0M112.6 365.2h0M112.3 365.0h0M108.1 368.9h0M112.1 368.8h0M109.3 368.7h0M99.3 367.6h0M106.1 362.4h0M108.4 359.7h0M116.5 366.0h0M110.7 366.7h0M112.4 361.7h0M117.8 361.6h0M112.1 359.6h0M107.4 363.9h0M109.5 360.5h0M102.5 370.9h0M104.7 359.5h0M98.4 368.0h0M119.6 367.3h0M101.2 362.9h0M92.1 360.1h0M103.0 372.9h0M117.0 360.5h0M99.7 365.9h0M118.5 362.3h0M109.2 359.7h0M116.0 369.3h0M107.3 369.9h0M118.1 367.7h0M107.1 361.7h0M123.9 367.2h0M100.2 363.1h0M96.3 373.1h0M111.2 360.9h0M92.5 368.6h0M104.6 361.9h0M116.3 360.7h0M113.8 359.5h0M99.6 368.6h0M108.8 371.5h0M112.2 360.4h0M107.5 360.6h0M99.9 365.7h0M103.5 359.9h0M100.5 369.1h0M105.1 359.9h0M105.0 363.3h0M110.9 361.1h0M105.2 360.4h0M101.9 361.6h0M100.0 368.4h0M107.0 364.7h0M105.9 366.1h0M115.7 362.4h0M108.8 359.7h0M104.0 362.3h0M98.5 361.8h0M110.4 369.9h0M95.1 363.5h0M110.9 361.2h0M109.0 360.6h0M109.6 359.6h0M95.0 360.0h0M124.0 364.0h0M108.7 364.0h0M121.8 362.4h0M110.2 359.7h0M101.8 364.7h0M115.5 363.3h0M105.9 366.4h0M103.4 360.1h0M87.9 363.7h0M97.1 360.3h0M115.0 366.7h0M118.7 363.4h0M115.5 372.2h0M105.9 361.0h0M99.4 362.3h0M96.6 361.0h0M111.3 364.1h0M100.8 368.8h0M105.4 365.3h0M95.1 371.3h0M112.3 366.6h0M101.2 365.1h0M114.7 360.6h0M108.0 362.3h0M111.1 359.5h0M105.0 366.1h0M107.4 369.3h0M97.3 359.7h0M103.0 366.2h0M105.2 366.5h0M105.0 368.6h0M108.5 363.0h0M110.6 368.5h0M107.7 368.0h0M109.5 360.7h0M105.5 368.9h0M115.5 360.2h0M107.6 359.8h0M106.2 365.9h0M108.0 365.9h0M100.6 362.1h0M116.7 364.0h0M121.8 367.5h0M118.1 364.4h0M115.1 368.1h0M103.7 372.9h0M104.5 372.1h0M115.9 363.9h0M116.9 369.6h0M105.9 371.5h0M122.8 361.5h0M103.3 362.5h0M101.8 369.2h0M108.3 368.7h0M110.4 359.6h0M116.2 370.5h0M100.6 364.5h0M97.1 368.6h0M114.9 361.5h0M98.5 363.1h0M109.5 371.2h0M117.7 359.6h0M104.1 372.3h0M105.6 363.2h0M105.0 362.7h0M108.8 368.6h0M115.7 361.3h0M100.4 367.1h0M115.2 366.2h0M104.2 359.9h0M104.6 365.9h0M100.3 366.1h0M109.8 365.4h0M103.9 368.9h0M100.8 362.4h0M97.5 360.0h0M119.2 361.1h0M115.6 363.7h0M110.5 367.3h0M103.0 365.1h0M117.1 366.6h0M108.0 362.2h0M116.1 360.2h0M112.2 368.9h0M109.8 361.1h0M105.8 360.7h0M104.6 362.7h0M103.1 362.9h0M104.7 372.2h0M103.2 360.2h0M105.8 364.8h0M109.8 359.6h0M110.0 360.3h0M112.2 368.4h0M102.4 361.4h0M101.7 362.0h0M115.8 361.1h0M112.1 362.3h0M108.2 364.1h0M113.5 372.7h0M106.9 363.2h0M100.2 368.4h0M111.1 360.4h0M102.2 362.2h0M115.1 359.6h0M113.5 359.9h0M101.5 359.7h0M102.2 361.1h0M100.3 365.7h0M109.5 370.5h0M106.9 366.9h0M97.8 364.5h0M110.3 367.8h0M112.8 361.5h0M108.2 362.8h0M112.7 365.8h0M99.7 363.3h0M96.1 370.8h0M118.5 369.3h0M114.1 364.2h0M107.0 361.5h0M105.9 362.6h0M110.1 365.6h0M103.3 368.4h0M114.0 362.3h0M110.1 359.6h0M122.8 365.9h0M102.2 361.6h0M115.2 363.8h0M106.1 366.6h0M120.3 364.5h0M99.7 363.8h0M109.2 360.6h0M117.2 362.4h0M103.5 365.5h0M113.1 372.6h0M104.7 359.7h0M116.5 360.4h0M105.4 366.4h0M105.3 372.1h0M115.0 365.1h0M116.6 369.8h0M102.5 360.5h0M99.6 366.5h0M99.9 372.0h0M101.0 362.8h0M126.1 369.8h0M103.3 362.5h0M116.0 359.5h0M94.8 365.9h0M104.2 360.6h0M102.7 360.2h0M108.9 371.1h0M94.7 366.4h0M112.9 360.2h0M106.9 371.9h0M118.5 365.4h0M109.7 361.7h0M112.7 372.0h0M99.2 363.8h0M111.5 361.1h0M112.9 362.8h0M112.8 365.1h0M115.3 361.4h0M106.4 367.8h0M98.0 370.5h0M106.8 364.0h0M97.2 372.5h0M106.3 362.9h0M113.8 361.1h0M111.8 367.6h0M106.3 361.9h0M106.5 359.8h0M118.5 359.6h0M109.3 359.7h0M105.3 362.6h0M107.8 369.5h0M108.4 371.8h0M113.3 360.3h0M109.8 361.8h0M104.9 367.2h0M114.6 369.6h0M102.5 364.9h0M109.6 360.2h0M118.9 371.0h0M103.3 367.7h0M105.3 359.7h0M105.9 360.1h0M104.1 360.6h0M116.4 364.5h0M112.1 367.9h0M115.9 360.1h0M111.3 360.2h0M97.7 363.5h0M96.6 360.1h0M102.6 360.4h0M114.6 370.8h0M122.7 370.3h0M123.3 360.7h0M101.3 360.4h0M106.8 372.9h0M91.1 367.3h0M110.8 359.9h0M109.2 367.8h0M113.0 364.0h0M107.4 366.0h0M110.7 363.0h0M113.5 359.6h0M99.0 360.7h0M107.3 369.3h0M110.4 365.1h0M109.4 372.3h0M115.4 371.4h0M106.4 373.0h0M113.5 367.5h0M107.9 368.2h0M108.3 364.6h0M106.7 363.3h0M105.4 367.2h0M106.8 365.1h0M113.8 361.4h0M120.2 371.4h0M109.2 360.2h0M94.3 361.8h0M110.6 361.9h0M109.5 372.3h0M107.1 368.8h0M111.2 360.3h0M97.3 371.6h0M109.1 359.6h0M107.0 360.4h0M113.1 362.4h0M101.9 362.1h0M95.6 371.7h0M106.3 368.8h0M103.7 359.6h0M101.3 365.5h0M102.3 359.6h0M112.7 365.1h0M103.0 359.6h0M119.9 359.6h0M103.8 363.2h0M104.2 371.5h0M110.3 362.2h0M114.2 371.1h0M107.9 365.9h0M111.7 359.6h0M100.3 369.9h0M111.1 370.0h0M101.8 361.7h0M95.7 370.2h0M115.0 368.5h0M95.9 359.7h0M98.8 368.3h0M110.3 363.9h0M114.0 359.7h0M102.7 363.6h0M104.0 362.3h0M107.6 363.7h0M95.3 364.3h0M111.2 365.4h0M113.3 361.4h0M107.0 361.5h0M112.3 359.9h0M116.4 363.7h0M105.7 369.8h0M109.7 359.7h0M110.2 372.9h0M101.5 364.4h0M116.6 365.3h0M111.1 359.8h0M110.8 371.1h0M106.3 363.0h0M107.9 368.3h0M94.2 366.4h0M100.4 370.4h0M104.9 370.5h0M109.0 360.8h0M94.1 361.3h0M117.8 367.6h0M107.8 361.7h0M112.3 360.4h0M109.2 367.9h0M103.7 369.8h0M109.0 359.9h0M110.6 367.0h0M102.6 360.5h0M107.7 371.3h0M96.1 363.7h0M102.2 360.4h0M112.7 363.3h0M121.4 371.5h0M110.8 363.9h0M114.4 360.0h0M110.5 361.4h0M112.3 359.5h0M114.3 359.9h0M110.7 359.8h0M107.7 359.8h0M118.6 365.7h0M104.0 359.6h0M117.9 368.7h0M110.6 372.2h0M105.3 369.7h0M113.1 360.7h0M105.8 363.5h0M108.3 363.1h0M101.9 364.3h0M105.3 369.1h0M95.9 360.9h0M117.8 359.6h0M113.9 373.0h0M109.6 366.9h0M119.5 360.0h0M112.8 370.8h0M109.7 360.9h0M98.8 359.6h0M109.8 361.3h0M95.6 368.1h0M100.5 363.9h0M110.6 362.3h0M106.2 362.2h0M117.4 360.1h0M98.8 365.9h0M111.7 371.2h0M112.1 359.5h0M108.5 361.1h0M107.9 371.8h0M112.2 365.9h0M100.1 359.7h0M108.5 369.7h0M108.7 363.6h0M114.5 361.1h0M124.3 365.3h0M117.7 359.6h0M101.9 372.5h0M97.1 359.5h0M111.7 361.4h0M108.1 370.1h0M108.6 359.6h0M99.3 360.2h0M108.9 361.3h0M112.7 360.1h0M124.8 364.9h0M104.8 370.9h0M109.4 362.9h0M96.6 359.7h0M104.0 367.8h0M95.8 364.3h0M108.6 361.0h0M129.3 359.6h0M109.1 360.1h0M97.9 370.0h0M116.6 361.1h0M100.8 372.5h0M126.1 366.7h0M103.6 370.3h0M106.4 362.7h0M97.3 365.0h0M110.7 367.0h0M101.2 361.2h0M104.2 372.9h0M102.4 370.6h0M106.8 370.8h0M101.0 369.2h0M107.2 364.4h0M109.6 365.4h0M97.0 365.5h0M109.8 367.0h0M100.5 367.8h0M118.7 359.5h0M110.7 364.7h0M113.1 360.6h0M106.2 364.8h0M105.1 363.0h0M101.7 359.9h0M108.1 360.1h0M104.5 364.4h0M103.5 365.6h0M111.4 363.4h0M116.2 363.9h0M109.2 363.3h0M95.9 362.9h0M108.3 368.2h0M103.9 361.9h0M100.8 360.0h0M111.0 371.0h0M106.9 364.9h0M120.5 361.6h0M90.5 367.0h0M108.3 360.2h0M108.1 360.5h0M114.1 362.0h0M108.8 365.1h0M103.3 359.9h0M113.5 363.5h0M110.1 365.2h0M114.7 369.4h0M107.8 360.7h0M102.8 366.7h0M113.9 360.3h0M104.9 364.3h0M113.3 359.8h0M95.2 367.4h0M106.1 360.2h0M104.9 368.0h0M104.1 360.8h0M112.5 369.1h0M113.6 363.8h0M103.8 363.1h0M103.8 361.1h0M107.7 359.7h0M116.6 361.7h0M107.4 365.7h0M108.1 363.3h0M115.8 364.8h0M106.0 367.9h0M107.4 362.7h0M108.6 369.4h0M96.8 368.8h0M107.8 360.5h0M117.6 369.5h0M114.2 367.2h0M99.9 361.1h0M118.3 361.6h0M111.3 367.4h0M109.3 368.4h0M99.8 368.8h0M117.3 361.8h0M117.0 366.3h0M96.9 369.4h0M112.7 369.2h0M101.3 359.7h0M108.5 371.0h0M106.8 360.6h0M102.8 363.2h0M96.1 361.5h0M92.0 366.7h0M107.7 368.7h0M106.8 364.8h0M96.5 365.5h0M115.7 369.5h0M120.4 370.5h0M111.9 360.4h0M109.9 370.3h0M106.0 371.0h0M105.9 371.9h0M102.3 360.4h0M111.1 360.2h0M101.4 364.9h0M102.8 359.7h0M108.5 367.0h0M104.3 366.6h0M106.7 365.5h0M97.2 362.2h0M103.9 366.0h0M104.9 368.3h0M114.8 361.2h0M109.3 366.6h0M110.3 364.8h0M116.5 368.6h0M105.2 363.3h0M105.9 359.7h0M122.5 365.6h0M102.7 361.7h0M114.3 362.1h0M92.9 360.3h0M125.4 365.5h0M106.4 361.8h0M103.2 361.1h0M113.7 371.0h0M97.5 372.0h0M106.4 369.2h0M108.5 366.3h0M109.4 359.7h0M115.0 364.5h0M113.2 371.8h0M117.8 371.9h0M111.3 371.5h0M115.2 359.8h0M106.6 367.5h0M113.7 360.1h0M101.5 361.1h0M95.5 362.7h0M103.4 362.3h0M104.0 363.4h0M107.4 360.8h0M101.0 359.5h0M109.4 361.5h0M103.3 359.8h0M105.2 365.7h0M109.7 363.6h0M91.3 363.0h0M116.2 364.5h0M107.5 360.7h0M116.7 363.5h0M133.7 365.7h0M108.9 368.5h0M118.3 359.7h0M110.4 372.0h0M115.8 359.6h0M102.4 363.9h0M110.3 360.1h0M113.4 362.1h0M110.1 364.0h0M115.3 365.8h0M101.7 362.1h0M112.4 369.9h0M104.9 367.5h0M101.2 368.0h0M98.1 362.3h0M108.3 361.2h0M114.4 369.7h0M107.6 362.1h0M105.8 361.3h0M106.5 369.9h0M100.0 363.6h0M118.6 370.0h0M118.7 360.5h0M105.1 359.6h0M107.1 362.4h0M100.5 369.9h0M103.7 361.3h0M109.3 361.5h0M104.2 363.2h0M106.1 362.8h0M101.1 369.3h0M101.1 360.0h0M114.1 368.0h0M114.7 359.5h0M102.1 369.6h0M119.9 363.9h0M114.3 363.1h0M111.7 364.4h0M115.2 363.2h0M117.1 372.2h0M104.0 364.5h0M107.0 360.1h0M97.1 366.3h0M96.5 364.9h0M116.5 370.7h0M119.1 361.2h0M104.9 371.1h0M101.6 361.6h0M103.6 365.8h0M99.8 365.1h0M117.0 359.6h0M89.3 359.5h0M108.5 359.8h0M118.4 371.3h0M105.5 360.8h0M114.2 372.9h0M108.3 359.7h0M102.3 361.8h0M112.9 370.8h0M89.7 363.2h0M106.3 371.6h0M100.8 371.8h0M104.0 359.8h0M103.9 367.9h0M110.3 360.2h0M114.5 360.6h0M107.1 372.7h0M121.5 362.0h0M114.3 362.4h0M99.8 359.6h0M114.3 359.5h0M106.6 367.8h0M107.5 359.7h0M104.9 364.8h0M104.0 359.5h0M118.3 363.6h0M98.3 360.0h0M104.9 372.3h0M115.6 366.6h0M112.8 359.6h0M97.9 366.4h0M112.0 372.7h0M107.7 367.0h0M101.6 360.5h0M100.0 365.7h0M113.4 362.3h0M113.5 365.2h0M113.3 362.5h0M108.5 360.1h0M104.8 365.0h0M100.8 364.1h0M101.3 366.8h0M103.9 359.7h0M95.6 367.9h0M107.3 363.2h0M104.0 360.3h0M99.5 364.5h0M109.6 371.4h0M105.1 366.7h0M103.4 364.3h0M108.2 366.4h0M105.7 361.9h0M119.6 361.9h0M113.2 360.2h0M100.6 365.5h0M114.3 369.8h0M91.3 359.5h0M117.6 365.8h0M108.9 360.4h0M109.8 369.2h0M116.4 360.4h0M104.0 364.7h0M104.7 362.8h0M113.1 361.6h0M102.5 363.2h0M107.0 371.6h0M115.2 360.8h0M113.3 360.6h0M100.6 360.9h0M113.1 364.0h0M101.6 371.5h0M100.7 365.0h0M95.8 371.1h0M97.4 361.6h0M101.4 362.2h0M114.7 370.9h0M107.8 367.4h0M120.7 359.6h0M115.3 371.9h0M112.9 368.7h0M108.4 364.6h0M103.9 364.4h0M113.8 363.6h0M101.9 370.6h0M115.9 361.1h0M106.9 370.3h0M103.7 359.8h0M110.3 362.8h0M109.4 362.1h0M109.5 361.1h0M113.7 362.8h0M111.2 365.4h0M98.5 364.3h0M109.0 362.2h0M104.1 359.6h0M115.9 360.5h0M112.4 360.4h0M112.2 365.6h0M118.6 365.4h0M116.6 366.0h0M117.1 366.6h0M108.1 361.9h0M99.3 372.4h0M109.9 373.1h0M98.7 365.2h0M99.0 371.9h0M113.7 363.6h0M99.1 359.6h0M97.5 368.3h0M120.7 368.4h0M107.7 359.8h0M110.6 360.8h0M119.2 371.3h0M110.5 361.8h0M97.4 365.0h0M118.6 366.0h0M102.1 365.3h0M109.3 372.6h0M98.3 372.0h0M117.1 360.1h0M110.3 372.5h0M106.3 362.3h0M99.6 359.7h0M114.2 359.5h0M104.4 362.7h0M106.6 359.6h0M106.9 364.4h0M110.5 360.1h0M110.0 363.5h0M117.4 363.0h0M106.8 359.5h0M105.5 369.6h0M109.5 368.6h0M119.6 363.9h0M106.7 370.6h0M115.8 365.6h0M111.8 371.6h0M106.2 372.1h0M119.2 359.7h0M120.6 365.1h0M108.8 367.2h0M114.2 365.7h0M109.7 370.9h0M109.1 369.2h0M109.5 370.4h0M103.8 370.0h0M104.5 362.9h0M114.3 361.0h0M111.5 367.0h0M122.5 366.5h0M106.0 364.2h0M116.3 361.3h0M102.5 366.9h0M105.4 360.9h0M104.6 372.6h0M112.1 370.2h0M104.8 367.1h0M103.4 368.6h0M108.6 370.7h0M99.9 361.3h0M120.0 372.9h0M129.3 360.9h0M100.7 363.1h0M114.2 363.8h0M113.5 362.0h0M113.4 361.5h0M105.1 368.4h0M117.5 367.9h0M108.0 362.3h0M111.0 363.5h0M115.0 363.6h0M105.6 360.9h0M101.8 361.1h0M117.6 360.1h0M103.9 360.3h0M96.1 361.5h0M99.4 366.5h0M112.7 359.5h0M106.3 370.5h0M100.4 361.4h0M98.4 362.8h0M100.2 361.3h0M105.8 362.3h0M100.3 361.0h0M112.6 366.4h0M105.3 362.5h0M105.7 372.4h0M91.2 360.5h0M110.7 364.7h0M111.6 361.7h0M112.4 361.8h0M98.5 361.4h0M97.7 369.9h0M95.7 372.5h0M113.9 366.2h0M115.2 372.4h0M104.7 371.7h0M104.5 360.1h0M115.5 366.2h0M108.6 367.6h0M109.2 360.8h0M102.6 360.8h0M104.6 359.7h0M106.0 363.0h0M117.6 364.3h0M104.6 361.4h0M115.3 365.2h0M105.5 360.3h0M111.2 371.1h0M111.3 359.8h0M104.1 360.0h0M103.4 363.3h0M99.3 367.0h0M104.9 371.8h0M129.4 367.3h0M110.9 362.2h0M95.7 368.1h0M108.8 366.3h0M116.6 368.6h0M104.6 359.7h0M110.5 371.9h0M93.9 361.9h0M110.3 362.1h0M115.6 359.6h0M104.7 360.3h0M108.6 360.1h0M104.7 364.6h0M100.9 361.5h0M105.3 364.5h0M115.5 364.7h0M105.8 362.8h0M106.1 373.0h0M103.4 372.2h0M114.0 363.7h0M123.6 360.3h0M115.1 359.7h0M116.8 370.0h0M112.7 367.4h0M99.6 361.9h0M108.4 366.3h0M105.0 364.9h0M110.4 371.4h0M114.3 360.6h0M105.1 362.5h0M121.2 362.5h0M93.4 372.2h0M109.5 368.8h0M125.3 365.0h0M98.6 359.8h0M113.1 360.7h0M109.8 361.2h0M110.7 365.2h0M112.0 361.3h0M109.3 360.5h0M96.7 364.0h0M106.3 365.5h0M128.4 361.0h0M110.0 372.1h0M109.6 367.0h0M115.0 359.5h0M113.4 365.2h0M93.6 362.3h0M111.9 366.7h0M110.9 364.9h0M107.4 359.8h0M107.6 360.6h0M109.8 360.4h0M109.3 372.1h0M108.7 359.6h0M105.6 366.1h0M113.7 370.9h0M106.8 359.6h0M112.5 368.0h0M91.5 364.5h0M105.7 371.5h0M89.5 361.3h0M113.7 370.1h0M102.0 361.5h0M114.2 360.7h0M100.1 367.7h0M104.1 364.5h0M94.3 368.3h0M121.1 367.5h0M117.2 364.7h0M112.6 365.1h0M114.7 370.0h0M117.8 360.2h0M109.8 371.0h0M119.3 363.0h0M105.1 365.4h0M117.6 364.4h0M104.8 368.5h0M103.1 359.9h0M111.4 365.1h0M89.1 362.4h0M105.9 365.8h0M103.0 363.0h0M106.4 371.9h0M117.8 367.9h0M104.8 371.0h0M110.1 365.9h0M110.7 372.7h0M98.9 371.4h0M115.9 371.8h0M99.3 362.9h0M113.1 363.9h0M93.1 364.5h0M114.8 361.4h0M109.8 364.6h0M103.1 372.6h0M102.0 370.0h0M103.5 361.2h0M105.6 368.7h0M110.8 363.6h0M119.3 360.2h0M87.3 360.4h0M109.1 359.9h0M106.9 362.3h0M106.8 368.7h0M111.6 370.9h0M112.6 365.7h0M113.8 364.9h0M109.7 359.5h0M108.6 366.1h0M121.8 367.6h0M108.2 360.4h0M99.7 362.6h0M99.5 371.8h0M107.3 366.9h0M116.5 365.1h0M111.5 364.8h0M104.5 360.1h0M111.1 364.3h0M105.7 362.6h0M102.2 372.1h0M108.7 372.0h0M107.9 371.9h0M104.3 367.7h0M110.4 359.8h0M118.0 361.1h0M102.3 361.7h0M122.6 361.2h0M100.1 364.0h0M109.3 370.4h0M107.3 372.1h0M114.4 360.8h0M102.1 365.4h0M100.7 372.9h0M93.2 361.5h0M107.2 360.7h0M123.1 372.6h0M109.1 371.5h0M114.4 372.2h0M108.1 361.0h0M92.5 359.5h0M111.3 366.3h0M101.3 364.3h0M103.8 368.1h0M109.4 360.5h0M111.8 366.5h0M115.2 360.0h0M103.4 370.6h0M114.0 360.7h0M113.6 360.8h0M110.9 362.8h0M103.3 360.2h0M102.0 361.6h0M108.5 369.1h0M104.1 365.2h0M117.4 359.7h0M104.2 372.8h0M105.8 365.4h0M106.2 371.4h0M109.5 360.9h0M110.3 361.6h0M105.5 360.1h0M96.5 361.5h0M107.6 364.5h0M114.5 369.5h0M113.1 366.2h0M91.9 372.0h0M111.4 368.2h0M118.6 368.0h0M104.9 364.9h0M111.8 363.3h0M109.7 364.0h0M95.7 359.6h0M118.5 369.9h0M102.5 368.3h0M105.1 360.2h0M115.3 370.8h0M98.8 361.7h0M102.4 360.9h0M107.3 371.1h0M106.7 368.0h0M109.5 366.7h0M99.9 360.8h0M102.9 360.1h0M97.1 359.6h0M105.0 364.2h0M106.5 363.0h0M103.7 368.0h0" stroke="#bebebe" stroke-width="1.7" stroke-linecap="round" fill="none"/><path d="M65.7 236.2h0M77.8 233.1h0M87.4 235.2h0M81.8 240.4h0M75.4 243.5h0M64.1 286.4h0M62.5 305.2h0M93.1 309.2h0M76.9 303.1h0M89.2 350.1h0M90.6 329.0h0M99.2 301.7h0M89.3 323.2h0M94.1 273.2h0M82.4 278.7h0M89.9 307.8h0M86.4 318.0h0M82.9 282.4h0M92.4 343.5h0M96.0 288.6h0M78.1 268.5h0M93.2 297.8h0M91.9 346.7h0M78.6 320.1h0M97.0 342.1h0M89.4 330.6h0M97.4 331.5h0M92.9 279.6h0M94.8 354.6h0M86.4 303.8h0M72.2 296.3h0M96.4 345.4h0M98.0 347.7h0M98.3 306.0h0M98.9 338.9h0M95.4 312.6h0M93.7 347.2h0M77.4 327.4h0M96.6 296.1h0M90.1 323.4h0M98.7 327.9h0M91.1 352.1h0M95.1 308.1h0M92.4 344.0h0M98.1 327.8h0M87.9 340.7h0M93.8 319.0h0M71.9 308.7h0M73.1 311.9h0M95.3 288.5h0M97.4 352.2h0M96.0 297.2h0M91.9 296.0h0M100.2 357.8h0M92.6 335.6h0M100.0 325.2h0M95.2 319.2h0M75.3 325.0h0M90.2 301.4h0M99.9 330.8h0M94.7 297.3h0M96.0 317.9h0M86.3 305.9h0M94.8 338.5h0M92.3 316.2h0M90.4 307.7h0M97.0 289.1h0M68.9 298.6h0M92.5 356.4h0M92.8 278.1h0M82.3 240.9h0M94.2 332.7h0M80.8 236.8h0M90.8 273.3h0M99.7 355.3h0M83.1 328.3h0M71.6 314.9h0M95.8 329.8h0M86.8 313.3h0M82.2 317.5h0M73.3 298.5h0M92.8 278.9h0M97.2 357.5h0M92.8 335.0h0M90.9 345.1h0M92.0 337.3h0M87.1 307.4h0M90.5 330.9h0M93.2 298.9h0M80.9 295.9h0M98.4 337.3h0M96.5 290.0h0M98.9 293.4h0M75.5 273.7h0M96.3 358.3h0M91.9 325.1h0M96.3 359.0h0M99.8 350.4h0M76.2 307.0h0M99.0 304.7h0M82.7 334.3h0M95.7 358.3h0M90.2 341.1h0M94.3 273.1h0M87.4 319.9h0M91.7 342.2h0M91.3 332.2h0M82.8 318.1h0M90.6 323.6h0M90.7 301.4h0M91.5 302.7h0M87.8 334.8h0M89.5 331.0h0M88.3 341.3h0M99.6 301.1h0M91.8 335.6h0M97.9 312.3h0M86.3 340.9h0M89.3 324.9h0M93.0 326.1h0M90.5 344.4h0M71.8 311.7h0M75.7 296.7h0M96.8 341.8h0M76.8 305.5h0M93.0 272.1h0M80.2 323.5h0M77.6 312.9h0M99.9 354.3h0M69.2 288.3h0M94.9 333.2h0M84.3 299.0h0M94.6 299.8h0M96.9 353.0h0M96.1 326.1h0M86.7 335.0h0M88.5 347.7h0M98.1 350.8h0M97.8 315.8h0M89.8 333.4h0M64.1 285.7h0M96.2 328.3h0M94.6 327.6h0M98.1 355.0h0M90.2 330.4h0M99.4 356.1h0M82.3 308.9h0M91.3 269.3h0M89.5 353.7h0M91.1 273.5h0M96.8 348.2h0M92.1 282.5h0M86.2 327.1h0M91.1 306.9h0M99.2 353.2h0M83.8 280.9h0M69.7 310.4h0M92.0 309.2h0M77.1 315.5h0M85.8 298.5h0M98.6 288.8h0M65.6 277.9h0M96.2 303.1h0M75.2 283.4h0M90.5 290.8h0M92.4 346.3h0M90.8 296.5h0M93.3 318.3h0M92.5 352.1h0M69.5 300.2h0M97.8 336.6h0M77.0 314.1h0M97.3 341.2h0M90.6 296.7h0M88.0 321.5h0M89.0 321.6h0M93.4 338.3h0M98.9 356.2h0M97.4 346.0h0M98.8 359.2h0M80.9 322.0h0M90.8 305.9h0M97.7 345.4h0M96.6 344.5h0M80.1 322.0h0M97.4 281.3h0M73.7 292.6h0M97.2 336.4h0M90.1 344.7h0M91.6 315.0h0M79.3 292.5h0M91.4 351.9h0M68.5 300.0h0M82.5 304.1h0M86.0 314.1h0M99.8 328.2h0M99.3 337.9h0M96.0 322.2h0M97.9 301.6h0M97.3 341.8h0M98.5 350.5h0M96.2 350.0h0M93.1 357.9h0M82.1 296.3h0M86.2 341.3h0M73.8 313.2h0M84.9 339.6h0M92.7 344.7h0M92.9 304.1h0M99.5 311.6h0M88.1 299.7h0M91.6 357.8h0M95.8 292.9h0M79.2 294.4h0M95.8 276.3h0M81.4 331.6h0M85.6 320.5h0M85.6 326.4h0M99.9 309.6h0M76.4 315.0h0M87.5 325.5h0M98.7 342.0h0M99.2 315.3h0M93.4 358.2h0M86.9 284.6h0M94.6 317.6h0M88.8 301.5h0M94.4 348.5h0M82.9 337.9h0M87.3 328.8h0M77.6 324.5h0M77.9 301.0h0M95.6 295.4h0M92.8 275.9h0M93.9 328.5h0M99.7 321.5h0M100.1 305.0h0M71.3 312.1h0M97.7 338.8h0M73.1 309.4h0M85.8 335.2h0M87.9 337.9h0M76.7 321.9h0M89.0 319.4h0M79.0 288.1h0M91.0 295.5h0M98.2 303.2h0M87.6 298.9h0M93.8 290.6h0M93.3 340.6h0M99.2 340.9h0M77.1 315.3h0M91.6 352.8h0M91.6 311.0h0M78.8 320.8h0M81.7 313.2h0M89.5 351.4h0M95.2 347.5h0M99.6 297.3h0M87.0 294.3h0M93.4 336.4h0M78.3 303.3h0M75.2 283.9h0M85.8 305.5h0M98.6 338.0h0M95.5 290.3h0M92.3 346.3h0M92.5 340.9h0M84.2 274.5h0M89.4 325.6h0M93.0 342.1h0M97.7 344.0h0M71.1 297.4h0M84.7 296.7h0M98.0 311.3h0M92.5 346.4h0M99.4 322.4h0M86.9 343.2h0M90.8 299.1h0M73.7 315.5h0M98.1 294.6h0M76.1 282.0h0M98.8 329.0h0M98.5 319.9h0M93.2 270.1h0M98.5 338.9h0M98.2 296.6h0M95.7 328.6h0M80.9 316.7h0M97.4 324.3h0M80.5 309.7h0M97.1 331.6h0M92.2 354.2h0M87.9 287.5h0M78.0 321.4h0M80.3 304.1h0M75.8 279.0h0M81.1 255.4h0M94.8 328.1h0M97.0 349.2h0M92.3 326.9h0M86.2 327.0h0M86.4 280.0h0M78.2 325.0h0M89.0 345.1h0M80.7 250.6h0M76.7 273.9h0M81.8 276.0h0M90.7 337.5h0M72.9 309.7h0M88.6 320.8h0M95.5 339.3h0M97.0 328.6h0M93.1 353.8h0M67.0 302.2h0M98.9 349.1h0M95.7 347.8h0M86.5 342.0h0M88.1 348.1h0M99.9 318.1h0M78.8 315.7h0M75.8 307.0h0M80.1 327.5h0M71.0 311.2h0M92.3 355.2h0M80.6 285.4h0M84.6 304.9h0M81.0 337.9h0M92.5 286.8h0M83.4 318.8h0M94.4 307.2h0M90.1 302.7h0M98.7 344.9h0M78.4 290.7h0M88.2 336.7h0M86.8 342.0h0M97.3 288.8h0M89.9 329.1h0M89.7 320.1h0M91.1 329.0h0M100.3 355.8h0M86.1 325.6h0M94.1 338.2h0M94.4 333.5h0M94.0 330.3h0M98.3 298.5h0M98.6 316.6h0M82.2 289.6h0M96.6 348.5h0M79.0 288.0h0M93.5 326.9h0M75.3 278.3h0M99.5 333.2h0M91.3 285.7h0M95.6 311.3h0M80.1 302.9h0M94.4 321.0h0M94.2 285.8h0M75.1 295.9h0M95.8 358.0h0M82.1 278.0h0M92.0 308.0h0M92.8 324.7h0M99.4 315.8h0M89.5 347.7h0M78.9 296.7h0M99.3 309.1h0M80.2 299.2h0M88.0 294.2h0M77.8 272.4h0M70.8 311.7h0M79.7 314.7h0M99.8 317.0h0M81.1 331.5h0M92.4 334.1h0M76.2 320.0h0M91.5 334.7h0M92.7 350.3h0M88.0 301.2h0M90.9 348.4h0M97.0 340.8h0M87.5 280.9h0M96.7 329.5h0M92.6 320.8h0M85.6 343.2h0M93.7 339.4h0M93.0 339.8h0M90.0 284.1h0M86.1 354.2h0M94.6 291.9h0M95.4 316.9h0M81.9 292.8h0M97.2 289.2h0M94.9 345.2h0M83.2 303.6h0M79.9 318.9h0M86.4 337.5h0M89.3 293.8h0M86.6 332.6h0M94.6 331.2h0M89.8 340.3h0M94.0 320.5h0M95.0 289.7h0M74.4 307.2h0M80.9 308.6h0M87.5 281.5h0M86.7 312.1h0M70.2 299.3h0M71.0 310.9h0M82.7 285.2h0M75.0 308.2h0M94.0 338.7h0M87.7 313.6h0M84.1 324.1h0M98.2 336.2h0M83.1 333.5h0M72.7 306.9h0M94.0 357.7h0M90.5 327.0h0M89.8 305.7h0M82.5 334.2h0M100.0 349.9h0M89.0 338.2h0M95.4 289.5h0M80.4 305.8h0M98.9 299.2h0M89.5 293.0h0M100.3 355.6h0M96.9 291.4h0M89.4 299.7h0M91.7 355.1h0M85.8 270.5h0M72.7 315.4h0M91.6 349.6h0M99.8 312.0h0M79.0 276.6h0M98.4 357.3h0M81.7 334.8h0M94.5 322.2h0M90.0 336.7h0M73.6 304.9h0M88.0 285.0h0M79.2 304.3h0M76.9 310.6h0M78.4 320.0h0M99.6 331.1h0M97.2 355.4h0M70.6 303.5h0M91.9 351.5h0M95.3 317.3h0M85.8 318.3h0M98.3 357.2h0M89.5 330.7h0M74.6 307.3h0M93.0 337.8h0M93.8 306.7h0M90.4 286.2h0M96.8 356.9h0M71.6 281.4h0M80.0 330.3h0M99.6 305.4h0M87.1 299.6h0M92.4 345.3h0M93.7 357.9h0M99.3 331.4h0M92.5 351.8h0M83.9 288.6h0M90.1 301.0h0M88.5 341.6h0M97.7 352.7h0M67.4 293.1h0M93.8 325.7h0M91.8 273.4h0M93.8 321.1h0M94.4 314.9h0M99.6 352.1h0M81.6 325.8h0M70.8 305.9h0M86.0 302.0h0M75.7 289.1h0M96.1 294.7h0M92.8 291.7h0M79.0 326.0h0M79.1 337.5h0M81.4 319.2h0M86.4 336.4h0M87.0 349.1h0M96.0 328.4h0M77.8 274.4h0M90.0 343.0h0M99.2 289.3h0M79.1 258.8h0M96.9 354.5h0M95.6 341.5h0M91.3 308.4h0M84.7 320.1h0M100.0 327.3h0M73.2 271.4h0M95.9 331.8h0M89.3 349.2h0M97.9 334.4h0M94.3 347.2h0M98.2 288.6h0M87.7 340.4h0M90.9 324.0h0M89.5 328.1h0M82.6 287.6h0M89.3 339.5h0M72.0 307.3h0M89.8 272.4h0M93.9 295.7h0M84.3 284.2h0M82.0 293.5h0M85.7 287.3h0M83.3 294.6h0M79.8 324.1h0M98.0 279.6h0M70.1 298.9h0M93.1 305.0h0M91.4 336.1h0M94.4 279.9h0M93.4 334.9h0M84.1 338.5h0M99.9 294.0h0M95.6 321.8h0M94.5 293.0h0M93.1 352.6h0M83.6 337.4h0M96.1 302.2h0M78.3 308.2h0M99.5 350.4h0M77.3 323.1h0M98.3 358.4h0M83.9 278.5h0M83.9 329.0h0M99.7 357.4h0M79.5 331.9h0M98.9 327.8h0M99.6 352.4h0M100.2 316.1h0M79.8 326.9h0M99.3 322.2h0M85.7 287.6h0M79.8 326.5h0M99.0 334.5h0M87.4 327.8h0M91.0 285.5h0M97.5 350.8h0M96.8 355.3h0M94.1 334.9h0M94.2 353.4h0M75.4 268.7h0M90.8 344.0h0M100.2 347.7h0M93.4 341.2h0M86.1 338.2h0M83.1 323.4h0M71.9 297.3h0M69.2 306.2h0M97.6 329.9h0M94.2 287.0h0M85.0 302.9h0M97.0 340.5h0M97.4 355.4h0M89.8 315.8h0M94.9 342.3h0M96.6 319.6h0M98.5 344.9h0M89.3 314.0h0M73.1 314.2h0M97.5 357.4h0M95.5 354.2h0M98.8 339.6h0M97.1 357.7h0M99.6 297.4h0M89.6 305.1h0M93.6 266.2h0M94.9 324.1h0M93.9 284.3h0M96.5 346.7h0M95.9 344.6h0M95.3 337.1h0M89.8 338.3h0M88.0 338.4h0M99.6 305.4h0M98.0 333.0h0M93.4 297.4h0M69.8 294.6h0M79.1 299.0h0M99.6 331.6h0M90.1 333.1h0M93.3 303.8h0M87.5 277.6h0M98.9 332.5h0M95.0 319.0h0M93.6 353.8h0M97.0 353.5h0M67.6 338.7h0M96.4 305.8h0M91.3 294.1h0M98.2 323.9h0M90.8 351.8h0M73.4 299.7h0M96.5 342.0h0M89.0 343.7h0M87.0 316.5h0M93.8 351.6h0M79.6 311.6h0M95.3 333.1h0M78.4 330.2h0M70.9 291.0h0M99.6 301.7h0M94.3 346.6h0M98.8 343.2h0M88.0 317.6h0M72.3 289.9h0M84.9 347.9h0M99.8 307.6h0M99.0 339.3h0M94.9 327.6h0M72.2 292.0h0M96.8 353.8h0M84.8 317.5h0M68.9 325.0h0M89.0 295.8h0M97.8 294.6h0M83.0 293.0h0M67.5 301.3h0M96.4 351.4h0M79.7 291.2h0M92.7 306.4h0M97.6 342.8h0M99.4 301.1h0M84.8 315.9h0M71.9 304.3h0M84.0 329.8h0M90.6 351.9h0M77.7 284.0h0M84.2 299.5h0M99.9 353.6h0M95.2 337.4h0M85.8 332.1h0M87.6 337.5h0M93.3 351.0h0M95.6 336.3h0M94.8 272.9h0M94.0 314.0h0M91.5 309.3h0M96.8 346.6h0M79.6 270.4h0M89.7 284.1h0M92.1 323.6h0M84.2 306.8h0M77.0 327.8h0M88.9 280.0h0M90.1 348.0h0M87.2 331.4h0M93.9 348.6h0M95.6 325.2h0M86.4 302.0h0M70.1 314.0h0M89.5 326.7h0M86.2 328.4h0M76.8 315.9h0M82.0 334.8h0M99.0 349.2h0M100.1 350.7h0M94.0 308.7h0M93.5 297.9h0M95.4 307.4h0M81.5 333.4h0M98.7 289.5h0M98.8 353.3h0M81.6 292.2h0M93.0 299.1h0M77.5 294.5h0M100.2 309.0h0M87.3 321.2h0M82.2 291.9h0M80.1 258.3h0M86.4 310.9h0M97.8 344.8h0M99.1 300.4h0M79.5 315.8h0M71.3 280.3h0M99.3 326.2h0M91.1 346.5h0M84.6 285.6h0M97.8 354.4h0M93.8 338.9h0M98.5 352.0h0M81.7 334.0h0M78.3 314.3h0M89.1 323.3h0M90.7 320.9h0M97.2 290.3h0M96.4 330.5h0M94.1 347.5h0M93.6 335.4h0M99.5 354.7h0M85.6 307.8h0M83.1 319.7h0M98.4 308.7h0M100.1 331.3h0M95.5 285.1h0M76.2 304.0h0M97.4 331.3h0M77.7 307.9h0M98.5 297.7h0M78.4 317.0h0M98.6 336.0h0M90.3 294.7h0M91.6 344.3h0M92.0 313.5h0M95.6 350.1h0M97.8 326.2h0M76.4 292.6h0M96.3 322.3h0M95.0 331.8h0M76.2 325.5h0M84.8 310.1h0M82.3 323.3h0M76.6 329.2h0M90.8 280.6h0M99.0 315.0h0M85.6 305.5h0M92.4 336.9h0M90.9 317.3h0M97.5 287.9h0M97.4 308.6h0M95.2 326.2h0M83.6 304.6h0M83.3 299.0h0M98.4 351.2h0M87.7 321.0h0M92.9 358.4h0M93.2 346.8h0M98.5 351.1h0M88.3 340.8h0M81.7 321.5h0M92.3 333.2h0M83.1 323.2h0M94.4 357.7h0M98.7 354.1h0M79.5 281.3h0M85.3 335.3h0M97.7 312.4h0M99.7 357.2h0M98.1 328.1h0M84.6 306.0h0M98.1 297.3h0M68.2 295.4h0M98.0 329.0h0M97.9 281.6h0M91.4 307.1h0M96.0 344.7h0M81.1 334.0h0M82.8 305.1h0M77.4 326.2h0M99.6 305.2h0M86.3 341.0h0M95.0 354.0h0M76.1 307.5h0M94.0 309.9h0M79.5 277.9h0M76.7 294.5h0M91.4 311.7h0M98.1 334.1h0M72.6 299.2h0M81.4 317.6h0M97.0 310.4h0M85.8 301.3h0M84.6 291.4h0M94.4 316.4h0M88.3 262.7h0M88.6 339.9h0M95.3 316.6h0M95.5 298.5h0M90.3 344.9h0M91.4 337.8h0M88.6 349.0h0M97.9 355.3h0M70.3 294.7h0M90.0 350.4h0M99.7 328.9h0M87.3 273.7h0M96.5 334.6h0M99.0 295.6h0M80.1 310.7h0M89.5 348.9h0M96.1 285.8h0M87.7 277.4h0M84.0 321.2h0M89.8 321.6h0M93.8 355.3h0M100.2 352.2h0M97.2 282.5h0M92.0 321.0h0M92.2 312.8h0M99.9 315.1h0M98.4 300.0h0M98.0 330.2h0M95.5 300.9h0M94.8 322.6h0M82.0 310.3h0M80.6 312.5h0M82.9 275.2h0M80.6 336.9h0M89.9 333.1h0M86.7 275.3h0M84.5 297.3h0M85.7 282.6h0M97.1 275.9h0M98.5 354.5h0M91.0 324.9h0M98.9 320.4h0M88.7 328.4h0M86.3 308.5h0M99.6 334.9h0M87.5 338.3h0M100.2 311.7h0M83.6 337.6h0M91.9 335.9h0M96.4 331.1h0M91.3 298.5h0M91.5 308.7h0M80.7 300.9h0M92.6 315.0h0M97.6 305.1h0M75.9 313.6h0M96.8 286.4h0M77.3 282.0h0M96.1 313.1h0M67.6 297.4h0M97.3 338.2h0M84.4 307.8h0M96.2 327.4h0M77.1 309.1h0M82.3 323.1h0M97.3 289.3h0M91.6 350.1h0M81.1 314.8h0M75.9 290.6h0M87.1 339.5h0M76.1 274.7h0M97.0 308.8h0M98.7 320.8h0M92.1 311.6h0M88.2 314.7h0M92.6 335.7h0M71.2 314.9h0M99.9 350.0h0M74.3 287.7h0M89.6 317.0h0M98.2 325.7h0M99.0 347.6h0M99.7 356.6h0M77.4 289.7h0M77.1 340.0h0M76.3 257.1h0M96.8 332.0h0M84.3 301.3h0M78.0 307.2h0M82.8 312.6h0M92.4 328.3h0M99.4 338.6h0M75.2 299.4h0M93.0 346.5h0M90.2 357.5h0M100.1 341.0h0M99.1 350.7h0M84.4 345.9h0M94.3 295.5h0M88.5 288.2h0M93.0 348.4h0M70.8 308.3h0M80.5 300.6h0M94.3 312.8h0M85.5 299.4h0M96.0 285.0h0M98.3 334.1h0M89.1 317.5h0M85.4 296.9h0M82.4 326.7h0M83.0 310.7h0M98.6 330.5h0M96.3 351.2h0M95.2 303.1h0M70.9 290.5h0M98.2 346.2h0M85.8 343.4h0M97.5 324.5h0M78.1 309.6h0M93.8 283.1h0M94.6 334.8h0M86.1 318.8h0M93.2 293.9h0M87.5 343.2h0M98.4 342.2h0M89.2 324.9h0M88.9 273.5h0M100.2 354.3h0M96.0 273.2h0M99.9 347.0h0M98.9 332.1h0M92.0 349.2h0M89.4 331.7h0M98.9 352.1h0M81.5 302.1h0M79.5 334.3h0M90.1 342.1h0M96.6 346.3h0M78.8 328.6h0M66.3 299.6h0M94.0 335.4h0M91.6 349.1h0M88.3 315.3h0M95.2 357.9h0M92.5 327.9h0M92.7 349.8h0M93.0 355.9h0M95.9 292.2h0M100.1 340.3h0M100.1 299.9h0M94.6 357.1h0M77.4 318.7h0M83.4 256.5h0M95.5 344.8h0M86.6 343.5h0M75.8 310.6h0M97.4 327.7h0M93.6 329.8h0M98.7 316.1h0M86.0 264.6h0M85.2 316.2h0M83.6 304.5h0M94.9 306.0h0M94.2 278.6h0M96.6 351.6h0M95.7 358.2h0M89.6 340.7h0M81.5 300.6h0M89.7 281.9h0M94.8 322.4h0M86.7 311.1h0M86.9 300.3h0M98.0 326.6h0M80.8 251.0h0M92.6 338.9h0M77.0 314.4h0M99.1 354.2h0M92.5 337.1h0M100.1 338.3h0M92.3 294.6h0M94.1 323.8h0M81.6 336.4h0M89.3 303.9h0M92.0 290.4h0M81.7 314.4h0M87.5 272.0h0M82.1 292.5h0M90.2 331.2h0M100.2 338.7h0M89.2 278.8h0M76.7 320.3h0M95.8 308.1h0M77.8 296.9h0M89.3 309.7h0M94.9 350.1h0M81.2 295.4h0M97.8 348.9h0M94.3 354.0h0M89.3 269.9h0M87.9 331.4h0M78.1 293.2h0M96.8 297.4h0M89.4 352.2h0M77.6 309.5h0M97.7 356.6h0M76.1 275.6h0M99.5 353.5h0M95.9 347.6h0M84.7 320.5h0M76.2 277.2h0M91.6 332.1h0M78.1 288.0h0M86.6 344.2h0M81.1 334.5h0M72.2 297.1h0M93.9 302.3h0M71.8 311.7h0M76.7 299.6h0M95.0 354.1h0M80.5 277.8h0M87.4 299.4h0M75.5 279.1h0M84.4 336.4h0M75.4 300.9h0M86.6 330.1h0M81.6 330.5h0M88.8 335.2h0M98.6 324.5h0M95.3 282.9h0M73.9 302.7h0M85.0 336.2h0M82.2 271.3h0M76.2 298.1h0M91.2 299.4h0M74.5 293.5h0M89.6 325.9h0M95.0 280.2h0M93.7 333.1h0M89.1 299.4h0M95.8 305.6h0M87.0 291.1h0M75.8 312.5h0M83.9 269.2h0M98.4 346.5h0M92.0 285.5h0M96.8 357.8h0M97.8 304.9h0M94.2 337.0h0M92.9 347.4h0M92.3 324.4h0M95.9 317.6h0M98.7 326.4h0M86.4 302.0h0M97.1 320.8h0M98.6 335.4h0M90.7 347.0h0M85.6 309.7h0M98.9 316.4h0M75.8 296.0h0M94.6 304.5h0M100.1 319.9h0M69.6 295.5h0M72.9 280.0h0M93.3 314.2h0M82.9 300.5h0M97.9 337.8h0M81.3 319.7h0M80.6 284.6h0M71.0 300.1h0M85.9 334.3h0M99.6 302.7h0M73.8 277.1h0M84.6 312.0h0M99.6 354.6h0M98.5 317.0h0M99.1 312.6h0M65.9 298.3h0M100.2 348.4h0M94.5 332.6h0M99.0 354.2h0M96.3 352.5h0M78.0 285.6h0M80.3 322.3h0M95.8 309.1h0M93.4 324.3h0M80.1 327.6h0M95.4 351.4h0M93.3 302.9h0M77.9 272.1h0M94.2 272.4h0M93.9 279.3h0M89.9 352.3h0M98.8 325.9h0M75.8 285.8h0M83.8 273.4h0M96.0 299.1h0M85.8 330.2h0M84.3 319.7h0M96.6 288.9h0M79.2 300.9h0M97.5 313.2h0M91.7 343.9h0M100.2 359.1h0M87.2 322.2h0M98.2 353.7h0M94.3 349.2h0M80.9 324.9h0M76.6 305.2h0M93.6 355.7h0M81.4 257.9h0M95.7 357.8h0M96.3 313.7h0M92.2 329.5h0M95.4 359.0h0M66.7 296.4h0M94.0 356.8h0M87.8 236.4h0M84.6 343.7h0M95.1 355.4h0M88.0 270.3h0M84.0 264.9h0M93.9 307.5h0M76.6 315.3h0M99.8 345.5h0M75.2 268.8h0M98.9 351.5h0M96.4 357.8h0M91.5 354.6h0M98.8 286.9h0M97.1 303.8h0M96.7 303.2h0M96.4 352.2h0M80.8 266.9h0M75.4 298.6h0M99.6 354.9h0M100.1 328.1h0M98.9 342.0h0M83.8 317.4h0M87.0 312.7h0M87.6 343.7h0M94.7 303.6h0M74.2 278.8h0M80.6 270.3h0M71.8 308.1h0M74.8 316.1h0M97.2 315.1h0M90.5 340.1h0M91.3 349.5h0M81.6 282.3h0M82.2 301.2h0M77.4 317.5h0M86.5 335.6h0M99.5 337.1h0M91.0 327.5h0M90.9 332.2h0M96.5 276.0h0M91.8 290.6h0M96.7 333.8h0M82.6 291.9h0M96.8 320.0h0M86.3 297.6h0M71.5 287.1h0M85.5 308.8h0M68.5 302.4h0M93.4 349.5h0M79.6 312.2h0M86.1 341.5h0M92.9 352.4h0M68.6 285.8h0M94.3 286.4h0M98.6 334.1h0M86.0 340.4h0M93.3 345.6h0M82.2 315.1h0M76.0 327.3h0M78.3 329.0h0M96.6 357.8h0M99.7 306.2h0M89.3 322.5h0M85.5 326.4h0M77.9 330.0h0M77.1 295.2h0M88.1 293.7h0M93.8 335.6h0M91.4 311.0h0M83.2 318.5h0M80.3 272.6h0M98.9 298.9h0M95.0 318.7h0M89.6 352.9h0M99.9 347.7h0M97.2 310.1h0M98.3 335.4h0M87.4 279.1h0M99.6 335.0h0M98.9 359.0h0M92.5 316.5h0M81.9 324.5h0M85.5 302.4h0M89.3 334.0h0M99.3 354.7h0M85.1 319.2h0M86.2 287.5h0M80.4 324.5h0M92.5 273.3h0M84.8 279.6h0M97.1 297.9h0M79.1 303.3h0M77.8 287.8h0M89.7 328.6h0M91.2 300.8h0M96.5 349.5h0M96.3 357.6h0M89.6 333.2h0M78.1 288.4h0M86.1 341.4h0M85.5 311.1h0M80.6 316.7h0M96.9 347.7h0M72.3 284.3h0M96.3 355.8h0M71.9 311.8h0M86.1 338.9h0M85.8 270.8h0M92.1 303.9h0M81.5 326.1h0M89.3 323.5h0M77.2 268.0h0M71.4 283.1h0M99.1 332.1h0M94.5 296.4h0M79.9 324.3h0M77.1 289.5h0M98.5 283.2h0M84.9 319.9h0M93.5 350.0h0M91.4 298.6h0M78.5 283.3h0M95.1 282.3h0M98.5 357.6h0M93.1 325.5h0M91.5 343.8h0M83.7 338.4h0M90.9 286.9h0M97.3 338.1h0M92.4 259.7h0M95.4 306.4h0M98.6 310.7h0M93.2 284.2h0M95.1 333.9h0M88.7 315.5h0M99.9 319.1h0M86.6 311.3h0M93.3 347.2h0M79.0 291.9h0M94.0 324.8h0M71.4 297.2h0M96.0 294.1h0M74.3 318.5h0M81.7 324.0h0M97.1 346.7h0M76.0 315.3h0M99.4 293.7h0M69.9 288.0h0M87.3 284.9h0M98.0 291.7h0M98.2 302.9h0M83.5 302.9h0M97.9 322.2h0M88.4 338.2h0M94.5 346.2h0" stroke="#068a06" stroke-width="3.2" stroke-linecap="round" fill="none"/><path d="M170.9 237.3h0M156.5 245.6h0M122.8 249.8h0M140.4 258.2h0M162.9 256.1h0M150.1 265.5h0M167.7 273.8h0M173.3 300.0h0M162.9 308.3h0M166.9 326.1h0M158.9 315.6h0M160.5 332.3h0M164.5 345.9h0M154.9 287.4h0M157.3 298.9h0M153.3 274.9h0M171.7 340.7h0M176.6 348.0h0M139.0 304.3h0M140.3 313.3h0M125.7 308.7h0M131.5 331.9h0M134.5 356.1h0M129.7 284.1h0M120.1 319.4h0M121.2 348.2h0M123.2 303.4h0M132.1 290.7h0M119.5 330.5h0M137.9 315.8h0M130.1 346.9h0M117.7 291.4h0M126.2 326.9h0M118.0 345.2h0M126.6 350.7h0M119.4 333.8h0M139.4 304.0h0M125.9 311.5h0M117.3 352.3h0M116.8 339.7h0M134.2 326.7h0M128.5 338.7h0M129.7 313.2h0M132.2 295.7h0M122.4 345.7h0M122.6 352.3h0M122.0 320.3h0M118.9 293.7h0M124.6 252.1h0M131.5 330.5h0M135.2 343.4h0M126.0 254.8h0M117.0 291.4h0M140.4 300.3h0M116.5 354.6h0M133.9 289.9h0M118.3 346.5h0M139.1 264.9h0M134.0 339.4h0M116.6 289.7h0M134.6 317.5h0M126.2 348.2h0M137.0 319.6h0M125.3 332.5h0M128.9 299.2h0M136.2 314.9h0M136.3 339.2h0M125.6 300.6h0M121.7 334.1h0M136.9 321.9h0M124.2 331.5h0M127.6 327.5h0M117.9 323.3h0M136.3 304.7h0M135.5 330.1h0M128.5 333.7h0M117.0 296.8h0M116.7 282.4h0M147.7 336.3h0M117.9 319.4h0M121.6 350.8h0M128.0 291.7h0M128.8 344.1h0M130.6 304.0h0M144.8 283.7h0M135.0 317.2h0M136.9 359.4h0M130.5 310.8h0M118.8 317.8h0M122.6 297.4h0M136.0 305.4h0M128.7 317.1h0M132.5 358.4h0M119.6 337.9h0M131.5 352.4h0M126.3 324.8h0M118.7 325.1h0M124.7 346.5h0M117.8 344.4h0M120.0 349.6h0M120.7 336.8h0M120.3 321.9h0M120.9 346.6h0M122.2 289.8h0M128.6 337.9h0M137.4 326.0h0M117.3 338.7h0M127.6 322.4h0M122.1 353.3h0M119.8 299.1h0M124.6 324.8h0M122.1 349.4h0M125.5 346.0h0M125.1 288.7h0M117.9 354.7h0M121.3 330.6h0M125.2 308.8h0M118.3 301.0h0M117.5 348.8h0M130.4 355.9h0M133.3 357.3h0M121.3 333.1h0M119.7 324.0h0M127.9 351.2h0M116.9 283.8h0M121.1 293.5h0M133.8 358.6h0M128.2 325.3h0M123.6 248.2h0M134.9 345.4h0M143.5 323.8h0M117.2 278.2h0M118.3 309.5h0M118.7 335.6h0M116.6 312.6h0M116.7 288.5h0M137.8 332.0h0M132.4 326.2h0M129.7 293.4h0M119.9 292.2h0M123.0 292.6h0M118.6 330.8h0M121.8 314.0h0M118.9 353.1h0M143.6 275.4h0M122.3 301.9h0M140.2 320.7h0M121.1 355.5h0M133.7 340.6h0M135.9 307.4h0M139.8 324.8h0M127.9 314.7h0M140.6 310.9h0M137.0 349.3h0M142.4 331.6h0M131.6 338.1h0M121.5 352.9h0M130.5 355.2h0M121.1 338.4h0M135.6 290.9h0M129.4 287.2h0M134.9 326.9h0M118.3 357.0h0M123.1 337.9h0M117.7 286.5h0M119.4 293.7h0M128.5 338.0h0M136.0 335.5h0M121.5 322.1h0M121.7 322.0h0M134.0 320.2h0M135.3 340.4h0M130.3 324.6h0M134.8 343.8h0M136.4 263.0h0M137.4 302.6h0M136.9 326.7h0M124.5 358.7h0M119.0 342.6h0M121.0 312.0h0M117.8 307.2h0M116.6 338.8h0M123.2 348.7h0M137.8 301.5h0M141.7 354.2h0M131.3 285.2h0M128.4 330.3h0M120.0 330.8h0M138.8 331.5h0M123.2 343.9h0M134.3 344.6h0M121.0 314.9h0M126.6 337.5h0M121.6 337.3h0M129.9 343.9h0M117.1 322.6h0M124.1 344.8h0M146.8 306.5h0M130.4 290.5h0M129.7 342.9h0M135.5 330.0h0M122.1 349.3h0M121.9 291.3h0M125.8 356.7h0M123.1 323.0h0M121.3 311.0h0M129.6 347.5h0M134.3 329.9h0M129.7 336.4h0M122.0 304.8h0M119.8 292.2h0M123.6 340.7h0M118.1 272.1h0M123.7 302.1h0M119.3 293.9h0M126.8 315.6h0M117.4 341.2h0M133.2 285.8h0M119.3 285.6h0M117.9 305.4h0M129.2 302.4h0M139.0 315.8h0M126.0 328.0h0M129.9 326.3h0M131.7 300.8h0M131.5 335.9h0M142.1 324.4h0M127.0 310.0h0M132.8 284.4h0M118.6 333.2h0M123.9 296.3h0M127.8 300.8h0M125.8 316.9h0M135.7 338.4h0M124.9 322.0h0M121.7 264.4h0M116.6 355.1h0M134.5 304.4h0M136.6 311.7h0M117.2 315.1h0M129.2 332.0h0M127.8 349.0h0M118.5 313.2h0M133.4 336.4h0M125.1 298.2h0M117.1 338.7h0M120.1 285.1h0M118.1 320.0h0M126.3 347.4h0M139.2 276.9h0M118.0 312.3h0M118.9 347.1h0M126.7 343.3h0M152.6 324.5h0M134.7 312.4h0M127.9 317.8h0M131.7 308.7h0M134.7 311.8h0M119.4 344.7h0M126.4 284.9h0M119.1 329.2h0M116.6 294.6h0M131.9 341.7h0M117.6 286.9h0M120.4 358.0h0M137.0 324.2h0M138.8 334.0h0M126.2 335.6h0M133.6 352.8h0M132.7 318.0h0M133.2 352.4h0M132.1 357.7h0M137.3 306.8h0M128.1 329.8h0M122.8 327.5h0M129.7 350.4h0M119.5 348.2h0M137.9 314.5h0M132.9 343.9h0M139.4 320.1h0M133.8 338.2h0M129.0 319.7h0M123.5 290.9h0M137.2 325.6h0M116.6 334.3h0M125.8 302.7h0M124.1 318.9h0M124.4 288.4h0M118.6 299.2h0M135.7 316.6h0M140.1 334.4h0M134.8 326.8h0M121.3 350.2h0M140.8 338.8h0M135.5 318.9h0M117.9 348.2h0M129.3 291.5h0M135.2 311.2h0M145.1 348.2h0M137.5 320.3h0M119.4 319.3h0M126.4 357.7h0M130.1 281.5h0M129.8 335.2h0M129.4 336.3h0M119.9 354.1h0M118.3 302.4h0M135.7 347.1h0M140.9 354.5h0M124.0 335.8h0M118.6 288.4h0M134.8 263.2h0M129.2 283.4h0M131.3 353.0h0M130.8 288.4h0M118.0 358.0h0M122.9 311.0h0M135.8 348.6h0M134.2 331.5h0M124.8 294.4h0M123.1 288.9h0M127.9 300.8h0M119.9 289.1h0M122.9 303.2h0M121.3 357.5h0M132.5 322.1h0M119.2 345.7h0M129.9 354.0h0M124.2 297.4h0M122.6 353.3h0M127.0 322.3h0M124.6 271.9h0M119.5 339.7h0M136.4 342.1h0M127.0 292.4h0M118.4 354.0h0M125.3 350.0h0M116.5 313.7h0M122.3 309.8h0M129.6 327.4h0M135.6 299.2h0M117.7 271.4h0M128.2 346.3h0M119.7 306.3h0M118.1 322.5h0M123.5 314.8h0M119.9 339.7h0M117.9 314.1h0M135.3 280.3h0M120.8 334.1h0M123.9 340.2h0M123.9 355.0h0M123.6 295.3h0M124.1 312.2h0M130.7 297.1h0M137.8 353.5h0M135.7 334.7h0M116.9 316.7h0M117.4 328.8h0M117.1 302.7h0M128.5 322.8h0M122.2 334.0h0M125.3 319.5h0M123.7 318.0h0M129.8 294.2h0M135.2 310.9h0M133.1 321.1h0M116.6 337.5h0M129.3 300.7h0M133.0 320.3h0M121.6 320.0h0M134.9 328.1h0M135.9 325.9h0M116.4 319.9h0M132.6 333.5h0M121.0 347.0h0M125.5 312.2h0M134.9 293.9h0M116.8 291.2h0M128.0 341.8h0M126.6 359.3h0M126.8 347.8h0M127.8 321.9h0M116.6 322.7h0M131.2 341.6h0M125.9 288.5h0M121.0 342.8h0M126.9 344.6h0M126.3 317.9h0M120.8 347.2h0M139.7 310.1h0M124.5 351.2h0M117.6 329.5h0M127.9 352.7h0M118.1 358.4h0M139.3 333.9h0M116.4 344.6h0M116.4 321.2h0M117.0 352.0h0M130.6 333.7h0M131.2 338.1h0M121.5 336.6h0M121.5 329.9h0M132.1 283.4h0M116.4 331.4h0M130.3 339.4h0M116.9 349.0h0M119.9 289.0h0M128.9 304.0h0M123.0 319.5h0M128.2 336.1h0M129.1 347.1h0M135.3 289.5h0M119.3 339.5h0M119.8 332.8h0M134.6 253.0h0M133.3 308.7h0M136.9 312.5h0M126.5 292.2h0M121.1 351.9h0M134.3 315.5h0M116.6 356.3h0M136.3 314.0h0M137.9 358.5h0M121.9 332.4h0M121.4 331.2h0M119.1 298.3h0M132.6 305.7h0M136.0 310.2h0M121.2 285.2h0M126.3 331.0h0M129.2 321.8h0M127.8 342.6h0M116.4 353.9h0M123.1 300.1h0M132.9 317.1h0M118.7 344.1h0M132.5 260.8h0M133.8 340.6h0M126.3 316.4h0M125.3 348.8h0M121.0 320.6h0M123.0 330.3h0M135.1 313.6h0M128.4 314.9h0M129.5 336.7h0M138.4 314.1h0M119.4 354.1h0M133.2 319.0h0M127.4 281.9h0M121.3 341.8h0M129.0 340.2h0M136.7 348.0h0M138.0 327.9h0M127.2 326.2h0M119.8 334.9h0M128.9 294.4h0M132.6 306.8h0M125.7 320.0h0M137.4 321.7h0M131.4 319.3h0M133.7 349.3h0M124.0 307.2h0M127.0 312.1h0M119.6 306.9h0M127.6 343.8h0M149.1 344.9h0M120.1 355.1h0M124.7 339.2h0M132.0 354.7h0M124.3 317.9h0M129.5 316.1h0M129.1 322.4h0M117.1 338.8h0M116.6 354.0h0M128.2 353.8h0M118.5 332.0h0M127.8 342.2h0M118.2 290.7h0M121.0 358.7h0M129.2 302.3h0M143.0 352.2h0M131.0 346.2h0M120.9 307.0h0M121.3 339.0h0M121.6 345.8h0M118.4 342.3h0M131.9 280.5h0M124.0 329.9h0M122.5 344.5h0M127.6 308.1h0M129.4 299.0h0M126.4 350.4h0M117.5 337.8h0M116.5 296.3h0M120.1 330.2h0M126.2 338.7h0M136.4 309.8h0M117.4 302.6h0M119.1 318.8h0M138.4 332.1h0M136.8 354.6h0M135.9 355.2h0M118.4 323.8h0M124.2 336.6h0M130.6 308.9h0M119.7 326.0h0M135.7 320.4h0M118.2 285.7h0M122.2 349.9h0M120.3 314.6h0M125.7 332.5h0M118.4 344.9h0M117.6 326.9h0M120.3 343.3h0M132.7 325.0h0M116.7 340.8h0M129.8 272.8h0M118.4 341.0h0M136.4 325.1h0M119.6 319.2h0M123.4 330.8h0M129.5 326.9h0M120.8 343.1h0M119.1 291.5h0M138.4 323.5h0M131.2 342.1h0M124.7 309.5h0M123.4 331.4h0M117.2 340.7h0M121.8 313.5h0M117.1 332.0h0M140.3 353.0h0M128.1 358.2h0M118.2 306.0h0M131.7 298.7h0M141.7 330.7h0M127.4 355.4h0M136.8 354.0h0M124.9 335.8h0M121.9 286.2h0M135.8 252.3h0M140.1 307.3h0M131.9 334.5h0M123.4 351.8h0M124.8 329.4h0M129.6 316.0h0M117.9 313.5h0M135.2 332.0h0M120.4 292.7h0M117.4 291.6h0M126.3 278.7h0M141.1 343.0h0M135.3 313.5h0M125.8 353.7h0M127.6 355.9h0M139.2 311.1h0M139.1 269.8h0M131.0 317.7h0M123.9 308.4h0M117.8 290.7h0M120.5 347.2h0M118.0 342.2h0M128.0 322.7h0M136.3 332.7h0M139.5 334.4h0M136.9 343.9h0M140.7 329.6h0M133.2 310.8h0M135.6 349.7h0M139.6 316.5h0M124.7 315.8h0M122.1 265.1h0M128.2 279.6h0M131.0 345.2h0M119.2 341.5h0M133.4 306.8h0M116.9 354.2h0M129.4 327.1h0M144.9 281.1h0M133.6 337.1h0M128.0 337.1h0M123.5 342.0h0M122.9 294.5h0M137.1 348.0h0M139.5 300.0h0M124.7 325.0h0M118.5 347.6h0M116.6 298.1h0M116.6 349.3h0M117.1 359.4h0M119.9 328.3h0M127.9 347.9h0M131.9 355.7h0M135.0 310.7h0M116.7 316.9h0M126.2 315.0h0M139.5 357.3h0M133.9 335.8h0M138.3 312.1h0M128.6 303.5h0M130.3 313.6h0M138.2 346.6h0M118.5 308.7h0M129.6 357.9h0M124.2 356.9h0M135.0 273.4h0M119.3 309.3h0M132.0 344.2h0M117.8 350.6h0M130.9 307.0h0M126.0 336.6h0M139.5 345.5h0M122.3 330.0h0M125.1 296.5h0M121.5 316.7h0M129.3 307.2h0M117.1 351.7h0M122.9 347.5h0M140.7 327.3h0M134.6 343.7h0M140.9 331.8h0M129.5 333.6h0M137.8 296.8h0M131.5 307.0h0M136.3 315.4h0M123.8 357.0h0M136.6 320.8h0M118.5 349.8h0M116.9 338.5h0M123.9 275.7h0M140.4 356.7h0M132.8 335.1h0M130.8 290.8h0M123.4 286.1h0M136.7 343.5h0M124.4 348.9h0M122.5 293.1h0M118.5 336.2h0M123.4 296.1h0M129.5 328.3h0M132.6 340.6h0M116.8 331.3h0M128.4 332.6h0M138.4 320.6h0M140.4 329.7h0M121.4 357.5h0M139.4 350.5h0M119.9 268.8h0M132.3 354.5h0M117.3 303.4h0M117.5 290.8h0M117.6 349.5h0M117.2 290.9h0M139.7 342.9h0M118.4 353.3h0M118.3 297.0h0M132.1 328.9h0M137.1 293.1h0M119.1 330.7h0M117.9 347.0h0M120.2 326.4h0M134.2 292.7h0M126.9 356.5h0M122.9 285.1h0M124.2 288.3h0M125.3 286.6h0M133.9 333.9h0M144.0 358.1h0M125.9 317.2h0M127.7 311.1h0M117.2 329.5h0M146.3 310.4h0M136.6 332.2h0M130.2 309.2h0M116.4 355.3h0M123.9 295.0h0M121.4 325.7h0M119.7 327.1h0M132.3 315.5h0M121.2 317.7h0M141.8 319.5h0M126.2 339.1h0M134.8 306.7h0M118.1 351.8h0M130.8 316.3h0M137.7 317.8h0M125.2 330.5h0M118.8 301.0h0M125.3 349.5h0M117.8 310.0h0M135.6 338.0h0M147.6 319.6h0M119.5 330.4h0M120.2 318.0h0M122.5 310.3h0M117.9 279.8h0M117.4 355.3h0M124.8 319.4h0M132.0 339.5h0M116.6 300.3h0M137.8 266.8h0M124.9 306.2h0M117.5 304.8h0M142.4 344.6h0M140.3 318.7h0M138.0 352.5h0M125.1 299.1h0M127.7 355.9h0M118.8 358.7h0M119.0 271.8h0M118.7 325.7h0M125.2 350.6h0M117.5 342.7h0M135.4 336.9h0M125.2 278.1h0M130.1 339.3h0M119.9 352.9h0M117.8 330.6h0M118.1 303.2h0M132.4 323.0h0M139.9 325.9h0M134.7 335.4h0M131.6 290.1h0M118.6 323.1h0M116.7 344.3h0M116.8 341.9h0M133.0 278.7h0M124.9 330.4h0M124.6 287.7h0M118.4 334.8h0M123.0 318.3h0M138.7 336.3h0M123.5 293.5h0M129.7 331.3h0M131.3 321.0h0M118.7 341.1h0M125.3 332.6h0M126.7 251.0h0M127.7 312.0h0M147.8 312.7h0M130.1 320.2h0M128.2 305.6h0M138.1 295.0h0M119.9 327.2h0M116.5 301.2h0M121.9 299.6h0M127.9 318.6h0M148.5 352.2h0M138.7 323.1h0M120.0 359.4h0M127.1 356.3h0M121.6 292.1h0M135.3 343.5h0M137.1 314.5h0M126.7 315.6h0M131.3 354.0h0M140.3 336.2h0M124.0 306.6h0M125.6 293.7h0M119.0 323.3h0M141.3 354.7h0M124.2 359.1h0M116.4 331.3h0M117.3 300.5h0M127.4 303.9h0M131.5 345.7h0M117.4 337.1h0M117.8 359.0h0M117.5 304.1h0M132.9 330.6h0M120.4 358.0h0M131.8 328.5h0M134.3 320.0h0M120.0 293.9h0M122.5 346.3h0M118.3 275.1h0M118.0 284.5h0M116.9 309.5h0M131.2 330.0h0M120.9 322.4h0M133.3 290.9h0M118.1 336.6h0M129.1 341.0h0M117.1 306.6h0M122.1 347.8h0M118.0 307.0h0M137.2 333.7h0M129.3 251.3h0M119.0 353.4h0M117.3 292.6h0M126.1 329.6h0M133.2 344.6h0M128.3 353.0h0M133.2 340.1h0M121.1 306.8h0M139.0 309.1h0M138.9 311.6h0M126.6 345.3h0M122.2 310.4h0M121.9 336.2h0M120.9 273.5h0M139.7 345.4h0M118.0 351.9h0M133.4 315.1h0M129.2 343.9h0M124.8 330.4h0M137.1 350.4h0M120.5 327.6h0M121.7 315.1h0M118.6 286.7h0M120.5 307.8h0M121.4 346.2h0M127.5 284.1h0M132.2 337.4h0M117.2 322.9h0M120.9 316.2h0M123.8 314.5h0M126.2 331.2h0M117.4 349.9h0M138.0 300.5h0M131.0 357.0h0M117.2 358.3h0M119.4 329.1h0M120.2 312.6h0M135.4 332.1h0M118.1 274.2h0M118.1 285.8h0M121.0 336.9h0M120.3 320.7h0M137.7 305.3h0M139.9 334.1h0M134.2 307.2h0M135.7 311.7h0M148.4 324.1h0M127.0 344.6h0M116.8 318.1h0M144.0 294.8h0M133.5 340.8h0M120.4 346.9h0M127.7 304.1h0M125.0 323.7h0M125.9 346.5h0M125.5 301.3h0M124.9 350.7h0M117.2 340.7h0M127.0 296.8h0M124.6 347.8h0M122.8 346.5h0M118.3 352.9h0M133.2 346.7h0M120.7 326.2h0M132.8 340.0h0M138.7 307.7h0M140.7 328.4h0M120.2 301.5h0M118.4 351.3h0M138.7 344.1h0M134.6 324.2h0M119.4 337.8h0M143.0 327.9h0M116.6 303.7h0M126.8 318.4h0M129.3 342.8h0M117.1 354.6h0M117.2 351.5h0M145.1 333.2h0M135.3 328.3h0M121.1 355.2h0M120.9 325.7h0M116.7 351.9h0M134.8 291.3h0M132.2 353.0h0M137.8 298.1h0M128.6 335.4h0M125.3 300.3h0M140.1 318.8h0M136.4 342.2h0M137.9 318.2h0M127.9 283.1h0M117.4 348.4h0M132.1 320.0h0M133.0 249.4h0M136.5 336.6h0M124.3 291.8h0M116.4 341.2h0M124.8 327.6h0M116.7 321.1h0M116.8 356.3h0M135.0 355.3h0M124.8 310.8h0M135.9 345.5h0M135.9 352.4h0M122.9 347.9h0M121.7 307.6h0M125.1 324.0h0M128.4 318.0h0M123.9 344.3h0M120.7 345.4h0M130.5 310.7h0M134.8 305.0h0M134.4 343.0h0M135.2 331.0h0M116.8 301.3h0M126.7 354.6h0M127.0 312.2h0M127.6 347.8h0M120.7 352.8h0M142.7 305.5h0M129.2 313.8h0M126.7 293.9h0M126.9 332.3h0M138.4 322.6h0M133.5 306.3h0M118.6 343.8h0M138.6 323.0h0M124.4 343.9h0M118.0 336.4h0M131.3 302.9h0M127.4 354.5h0M119.7 298.1h0M133.8 311.7h0M118.7 339.8h0M120.1 337.2h0M125.3 342.7h0M119.5 327.5h0M118.1 349.6h0M121.2 356.7h0M116.6 287.7h0M140.8 248.8h0M118.4 319.8h0M117.1 322.7h0M116.7 293.6h0M130.9 349.5h0M138.4 333.7h0M130.4 314.5h0M120.5 311.9h0M120.1 305.8h0M119.5 340.8h0M118.5 296.3h0M127.2 355.0h0M117.6 354.8h0M127.6 303.9h0M139.3 346.9h0M127.6 311.7h0M126.7 325.2h0M130.1 270.0h0M119.7 293.4h0M118.1 347.4h0M118.4 350.3h0M119.4 353.6h0M139.7 313.2h0M118.6 326.9h0M118.4 356.0h0M140.5 348.3h0M125.1 352.6h0M132.7 311.8h0M123.8 342.0h0M119.9 310.6h0M117.4 313.4h0M133.0 359.5h0M133.2 358.7h0M116.9 348.0h0M120.9 352.6h0M119.9 318.4h0M143.4 321.4h0M137.9 323.8h0M137.3 359.1h0M118.0 357.3h0M116.8 316.5h0M119.1 302.2h0M118.1 316.6h0M123.9 339.3h0M121.0 309.4h0M131.7 249.3h0M137.2 305.7h0M116.8 312.7h0M122.5 334.2h0M127.6 355.7h0M127.5 355.4h0M118.0 314.0h0M123.2 317.2h0M129.3 323.1h0M137.4 292.8h0M116.9 309.1h0M136.9 291.4h0M131.9 342.0h0M118.2 330.3h0M130.7 348.9h0M134.6 307.8h0M117.7 292.4h0M118.2 308.3h0M124.5 343.6h0M126.0 331.8h0M131.3 339.4h0M120.3 292.6h0M144.6 325.1h0M125.3 276.0h0M116.6 315.1h0M154.1 309.6h0M138.2 329.9h0M133.6 336.0h0M122.6 349.0h0M130.5 296.4h0M135.0 348.0h0M143.4 322.9h0M146.3 347.8h0M116.7 337.5h0M120.3 357.5h0M129.7 353.5h0M123.9 339.0h0M132.5 354.0h0M117.5 358.9h0M137.0 333.3h0M129.2 312.3h0M135.5 294.7h0M127.0 332.2h0M135.1 317.2h0M142.1 250.6h0M117.2 352.8h0M124.1 270.2h0M117.8 330.8h0M124.3 350.8h0M121.8 317.6h0M135.4 331.9h0M118.3 349.2h0M135.2 348.4h0M118.1 359.2h0M124.9 337.4h0M134.3 316.5h0M119.4 325.0h0M124.7 253.5h0M125.2 352.4h0M123.0 337.7h0M130.2 358.8h0M129.3 315.8h0M117.7 358.9h0M132.7 261.1h0M127.6 306.8h0M133.6 301.6h0M119.0 278.4h0M122.1 359.1h0M125.7 292.1h0M129.2 345.5h0M124.6 264.1h0M130.6 287.4h0M132.1 337.9h0M130.1 347.7h0M142.1 352.7h0M119.1 348.6h0M127.8 342.8h0M127.0 333.9h0M136.4 355.8h0M117.6 334.8h0M127.7 310.4h0M124.7 352.8h0M150.7 254.9h0M132.3 317.9h0M117.9 306.7h0M139.7 352.4h0M132.1 320.4h0M134.4 307.5h0M119.1 319.3h0M119.5 334.8h0M131.0 310.5h0M119.4 325.7h0M135.0 345.1h0M126.7 338.1h0M125.9 312.0h0M116.7 310.6h0M137.3 315.5h0M117.1 289.7h0M135.8 320.5h0M133.7 267.2h0M127.6 293.3h0M135.4 332.4h0M132.6 296.6h0M124.0 319.3h0M116.4 320.9h0M122.9 296.5h0M131.9 334.9h0M122.3 319.3h0M135.6 344.1h0M124.7 311.2h0M124.3 343.8h0M119.1 338.7h0M128.0 332.2h0M123.5 284.0h0M133.4 343.0h0M121.2 331.0h0M127.8 312.9h0M127.1 254.9h0M141.5 339.2h0M116.4 316.2h0M137.6 352.8h0M117.1 314.4h0M127.7 350.3h0M138.6 331.2h0M134.8 316.5h0M135.3 329.7h0M122.2 313.2h0M133.3 325.7h0M117.5 356.5h0M125.4 299.2h0M129.9 344.3h0M118.8 306.5h0M122.5 326.4h0M117.0 354.7h0M117.4 282.9h0M125.7 325.3h0M136.5 316.8h0M116.4 350.6h0M120.9 310.2h0M130.5 337.1h0M119.2 336.7h0M137.4 310.6h0M137.9 332.6h0M120.4 295.4h0M124.8 330.7h0M135.1 318.4h0M136.0 332.9h0M127.7 319.3h0M130.0 266.5h0M145.1 313.7h0M134.5 313.6h0M150.2 337.8h0M132.9 308.2h0M129.4 320.6h0M122.5 335.8h0M121.6 320.0h0M130.7 349.7h0M127.4 305.1h0M130.1 283.9h0M116.9 346.4h0M154.0 306.2h0M121.6 335.3h0M149.0 319.8h0M129.7 321.6h0M119.8 325.5h0M126.8 326.9h0M124.5 273.2h0M120.2 312.9h0M139.0 319.5h0M118.7 326.1h0M129.4 303.2h0M133.1 306.7h0M119.1 343.4h0M136.1 335.4h0M131.8 317.5h0M116.4 346.3h0M124.5 304.5h0M127.5 315.9h0M117.4 289.7h0M125.6 348.3h0M126.7 353.4h0M139.9 304.8h0M123.4 325.6h0M125.7 329.1h0M121.3 355.9h0M118.9 338.2h0M119.8 307.2h0M118.3 337.5h0M125.9 322.6h0M118.9 301.1h0M125.6 343.9h0M118.5 286.2h0M135.2 276.2h0M134.6 333.5h0M137.4 314.8h0M129.6 336.3h0M135.4 337.2h0M117.1 327.2h0M126.1 289.2h0M132.6 287.3h0M120.5 336.6h0M128.0 359.2h0M131.8 334.9h0M137.7 319.6h0M118.9 349.6h0M119.9 264.1h0M120.3 327.2h0M128.2 358.6h0M117.4 285.4h0M122.0 332.8h0M123.2 333.1h0M122.6 358.0h0M117.0 322.7h0M126.2 273.3h0M130.9 321.5h0M126.5 278.1h0M119.7 358.6h0M116.5 323.6h0M133.2 355.4h0M140.4 327.6h0M131.8 324.6h0M118.0 335.5h0M120.5 353.9h0M130.5 351.9h0M116.4 332.7h0M119.5 286.6h0M126.4 354.7h0M133.5 297.9h0M118.7 286.0h0M124.1 305.8h0M129.8 354.4h0M132.3 351.1h0M123.2 331.4h0M134.5 305.9h0M128.9 313.5h0M127.1 319.1h0M133.0 317.2h0M133.7 320.5h0M123.1 343.2h0M126.2 334.7h0M153.2 337.9h0M132.0 343.9h0M140.6 334.2h0M127.9 320.8h0M128.5 347.4h0M144.4 358.4h0M117.0 354.9h0M125.1 311.8h0M123.6 328.2h0M123.8 346.7h0M127.3 323.8h0M118.2 278.3h0M123.0 306.0h0M131.2 290.8h0M118.2 282.6h0M128.4 342.3h0M116.8 353.8h0M117.5 340.5h0M116.7 343.0h0M143.2 284.5h0M122.7 279.7h0M116.5 338.1h0M124.4 343.7h0M130.5 315.8h0M118.0 319.6h0M129.8 345.1h0M121.8 291.2h0M126.9 318.0h0M116.8 323.3h0M118.5 328.3h0M118.0 324.4h0M130.7 338.2h0M131.7 256.6h0M125.7 305.6h0M123.2 307.7h0M117.7 348.2h0M125.8 305.6h0M118.5 337.7h0M121.7 344.8h0M131.9 350.4h0M139.6 331.0h0M134.0 334.6h0M130.9 346.7h0M120.6 348.0h0M130.3 343.9h0M126.3 345.6h0M116.7 336.2h0M134.8 317.3h0M123.3 295.1h0M148.5 307.2h0M128.2 314.1h0M118.7 297.2h0M117.0 352.1h0M132.0 295.5h0M138.1 326.6h0M139.0 341.5h0M121.4 339.7h0M136.2 325.4h0M135.3 262.3h0M133.7 344.5h0M117.9 323.5h0M120.1 319.8h0M128.7 337.6h0M117.5 334.0h0M135.8 330.1h0M124.1 329.1h0M116.9 346.1h0M118.5 354.2h0M136.7 329.8h0" stroke="#ff0000" stroke-width="3.2" stroke-linecap="round" fill="none"/><line x1="30.2" y1="359.5" x2="187.0" y2="359.5" stroke="#3a3a3a" stroke-width="1.0" stroke-dasharray="1.4 2.3"/><line x1="100.3" y1="225.0" x2="100.3" y2="380.1" stroke="#3a3a3a" stroke-width="1.0" stroke-dasharray="1.4 2.3"/><line x1="116.3" y1="225.0" x2="116.3" y2="380.1" stroke="#3a3a3a" stroke-width="1.0" stroke-dasharray="1.4 2.3"/><text x="78.8" y="362.9" font-size="7.4" fill="#1a1a1a">Q value: 0.05</text><path d="M30.2 225.0V380.1H187.0" stroke="#222" stroke-width="1.1" fill="none"/><line x1="27.6" y1="373.1" x2="30.2" y2="373.1" stroke="#333" stroke-width="0.9"/><text x="26.0" y="375.9" font-size="7.7" fill="#4d4d4d" text-anchor="end">0</text><line x1="27.6" y1="320.9" x2="30.2" y2="320.9" stroke="#333" stroke-width="0.9"/><text x="26.0" y="323.7" font-size="7.7" fill="#4d4d4d" text-anchor="end">5</text><line x1="27.6" y1="268.6" x2="30.2" y2="268.6" stroke="#333" stroke-width="0.9"/><text x="26.0" y="271.4" font-size="7.7" fill="#4d4d4d" text-anchor="end">10</text><line x1="68.2" y1="380.1" x2="68.2" y2="382.7" stroke="#333" stroke-width="0.9"/><text x="68.2" y="390.1" font-size="7.7" fill="#4d4d4d" text-anchor="middle">-5</text><line x1="108.3" y1="380.1" x2="108.3" y2="382.7" stroke="#333" stroke-width="0.9"/><text x="108.3" y="390.1" font-size="7.7" fill="#4d4d4d" text-anchor="middle">0</text><line x1="148.4" y1="380.1" x2="148.4" y2="382.7" stroke="#333" stroke-width="0.9"/><text x="148.4" y="390.1" font-size="7.7" fill="#4d4d4d" text-anchor="middle">5</text><text x="108.0" y="401.2" font-size="9.6" font-weight="bold" fill="#111" text-anchor="middle">Log2 (J2/J1)</text><text transform="translate(14.0,305.5) rotate(-90)" font-size="9.6" font-weight="bold" fill="#111" text-anchor="middle">−Log10 (Q value)</text><text x="173.1" y="217.7" font-size="9.5" fill="#222">regulated</text><path d="M180.4 231.3h0" stroke="#0f8c0f" stroke-width="3.0" stroke-linecap="round"/><text x="192.7" y="233.9" font-size="7.6" fill="#333">down</text><path d="M180.4 246.8h0" stroke="#c4c4c4" stroke-width="2.0" stroke-linecap="round"/><text x="192.7" y="249.4" font-size="7.6" fill="#333">none</text><path d="M180.4 261.8h0" stroke="#ff0000" stroke-width="3.0" stroke-linecap="round"/><text x="192.7" y="264.4" font-size="7.6" fill="#333">up</text><text x="217.9" y="233.9" font-size="7.2" font-weight="bold" fill="#111">1245</text><text x="217.9" y="265.4" font-size="7.2" font-weight="bold" fill="#111">1283</text><path d="M102.0 547.5h0M115.0 527.0h0M112.2 560.9h0M103.2 554.0h0M115.4 520.6h0M101.4 543.0h0M101.5 559.3h0M110.7 565.5h0M105.5 568.2h0M101.9 533.0h0M105.7 554.0h0M113.9 552.4h0M115.2 540.2h0M108.1 567.2h0M100.7 555.8h0M106.5 567.3h0M100.7 540.4h0M111.8 569.6h0M105.4 569.2h0M114.1 545.1h0M103.3 553.9h0M114.6 546.0h0M107.3 569.4h0M102.3 564.8h0M100.5 554.9h0M103.7 560.9h0M107.3 568.6h0M103.0 565.2h0M104.2 543.9h0M115.2 530.3h0M103.4 544.0h0M109.4 565.4h0M102.2 553.8h0M102.4 547.3h0M111.2 562.8h0M113.0 543.9h0M110.8 548.0h0M113.3 566.2h0M103.3 563.9h0M115.3 564.9h0M115.8 553.0h0M112.0 562.9h0M114.5 551.3h0M102.1 561.9h0M104.1 532.9h0M105.9 557.9h0M110.2 569.2h0M102.7 562.4h0M103.9 555.1h0M105.7 542.7h0M110.8 549.5h0M103.1 513.4h0M111.9 540.1h0M115.3 530.6h0M100.7 558.4h0M104.0 541.6h0M104.1 551.1h0M111.6 568.4h0M112.3 566.3h0M113.2 554.2h0M112.2 556.6h0M108.4 567.4h0M111.6 568.4h0M104.4 564.1h0M112.8 555.9h0M116.5 540.6h0M105.0 566.7h0M112.7 557.8h0M100.6 561.3h0M116.1 545.9h0M105.3 536.3h0M116.0 563.5h0M114.3 561.1h0M113.4 560.3h0M101.3 538.2h0M105.7 553.3h0M103.8 560.2h0M103.2 542.3h0M100.4 543.4h0M110.7 556.9h0M111.7 543.6h0M116.1 557.2h0M100.4 556.1h0M112.6 556.9h0M102.1 529.5h0M106.1 561.0h0M111.5 566.9h0M113.5 550.7h0M104.2 559.9h0M113.7 547.7h0M101.2 559.5h0M101.0 543.2h0M105.1 545.7h0M104.2 530.7h0M112.3 542.9h0M114.1 523.3h0M103.9 549.1h0M104.5 552.2h0M111.9 538.0h0M114.1 562.4h0M100.4 518.9h0M102.3 548.1h0M105.8 548.0h0M111.9 560.2h0M105.7 540.9h0M113.1 561.5h0M110.6 567.6h0M114.2 566.2h0M108.9 569.0h0M100.7 525.8h0M108.6 564.6h0M102.3 523.1h0M114.4 521.7h0M115.9 524.8h0M103.6 557.1h0M113.4 530.0h0M114.5 564.6h0M112.0 553.8h0M101.7 569.0h0M103.6 562.6h0M106.4 563.5h0M112.1 566.3h0M106.3 552.1h0M103.1 566.5h0M108.0 567.5h0M113.7 541.7h0M111.8 555.7h0M107.6 563.5h0M115.0 542.0h0M109.1 564.6h0M112.3 538.0h0M101.6 564.7h0M116.4 560.9h0M107.3 562.2h0M110.6 568.7h0M105.0 532.9h0M115.9 520.8h0M105.6 562.5h0M114.3 536.1h0M104.0 553.3h0M113.2 558.7h0M114.8 531.3h0M102.2 564.5h0M105.4 550.7h0M110.7 568.5h0M107.0 564.9h0M114.4 542.5h0M113.2 555.2h0M110.5 567.3h0M111.8 556.3h0M111.9 549.7h0M115.2 553.6h0M102.1 544.4h0M102.4 561.2h0M102.0 538.1h0M106.7 566.7h0M105.1 539.6h0M104.3 535.2h0M113.0 566.7h0M104.2 546.3h0M102.5 533.7h0M111.2 548.9h0M115.9 525.5h0M115.8 547.0h0M116.3 550.9h0M104.0 560.7h0M104.0 541.6h0M107.2 567.2h0M107.8 561.5h0M112.7 569.2h0M115.4 536.6h0M102.9 556.4h0M113.4 560.9h0M114.8 563.6h0M104.4 522.8h0M110.7 548.8h0M100.4 558.9h0M106.6 557.9h0M101.3 567.8h0M114.0 556.8h0M112.6 545.0h0M106.2 565.4h0M101.4 550.6h0M111.1 568.4h0M103.3 552.8h0M107.5 568.1h0M100.4 531.2h0M105.4 553.4h0M101.3 566.0h0M103.8 549.3h0M102.6 538.5h0M105.3 558.0h0M110.1 562.3h0M103.7 565.9h0M103.8 539.0h0M101.7 530.9h0M115.7 551.7h0M114.9 516.2h0M102.3 558.8h0M105.1 545.1h0M104.3 557.4h0M102.5 518.3h0M103.1 558.3h0M109.6 567.0h0M111.8 545.6h0M103.2 513.5h0M106.3 560.2h0M104.7 531.1h0M109.7 568.4h0M111.8 558.7h0M115.1 557.2h0M112.5 559.7h0M113.4 524.0h0M112.8 566.3h0M115.2 560.0h0M102.8 556.8h0M102.1 523.7h0M115.4 564.6h0M116.5 553.7h0M115.6 545.0h0M101.6 533.3h0M114.3 537.8h0M106.2 556.4h0M116.3 564.7h0M115.5 563.3h0M113.5 519.3h0M114.4 542.3h0M114.6 563.4h0M114.2 561.9h0M114.2 561.8h0M105.0 531.5h0M101.8 538.5h0M110.6 553.9h0M109.6 558.9h0M114.2 547.9h0M102.3 542.3h0M105.3 565.2h0M113.2 535.9h0M114.9 522.6h0M113.1 516.6h0M104.6 558.7h0M114.0 549.3h0M107.7 567.4h0M103.7 542.7h0M114.2 555.1h0M112.0 541.8h0M111.2 537.6h0M113.0 564.4h0M114.5 559.7h0M102.0 527.8h0M116.2 528.2h0M111.4 536.0h0M111.6 564.3h0M115.0 540.3h0M106.0 567.7h0M101.7 554.5h0M110.5 564.7h0M111.3 564.9h0M112.5 560.4h0M101.7 558.4h0M103.5 526.3h0M103.7 561.9h0M114.7 550.5h0M103.4 563.5h0M105.2 538.1h0M106.7 557.7h0M116.0 549.6h0M105.0 568.2h0M101.6 552.2h0M116.4 550.8h0M102.8 524.6h0M113.5 542.2h0M106.7 562.6h0M106.8 559.5h0M104.5 541.0h0M112.2 556.7h0M108.7 561.5h0M101.8 557.0h0M112.9 540.2h0M112.8 532.0h0M105.7 566.8h0M110.3 564.9h0M115.8 509.3h0M105.9 554.5h0M105.3 549.4h0M105.8 551.0h0M103.1 564.0h0M100.4 564.7h0M100.8 560.1h0M103.5 547.0h0M102.4 568.1h0M105.3 555.2h0M116.5 545.7h0M111.5 562.3h0M113.2 525.7h0M116.0 554.7h0M105.3 563.4h0M104.0 555.4h0M115.1 554.8h0M115.3 514.3h0M102.1 562.9h0M104.8 551.2h0M101.7 543.4h0M104.5 564.8h0M112.6 523.5h0M112.9 539.6h0M103.2 556.7h0M106.3 550.5h0M104.3 561.6h0M110.2 567.2h0M110.5 563.3h0M114.9 553.3h0M105.6 545.8h0M106.7 552.9h0M111.5 541.6h0M100.9 533.8h0M109.9 556.1h0M102.2 551.9h0M102.8 552.3h0M103.2 534.0h0M104.7 558.4h0M116.2 566.6h0M115.5 525.2h0M106.3 566.6h0M107.1 564.4h0M114.2 544.2h0M110.6 569.2h0M115.6 537.3h0M102.2 557.8h0M115.5 559.0h0M110.3 565.0h0M111.1 544.5h0M103.2 549.8h0M105.4 549.9h0M104.5 564.7h0M111.9 563.7h0M115.6 547.0h0M108.1 569.8h0M115.0 569.0h0M112.5 552.3h0M113.5 541.5h0M104.2 561.9h0M115.0 520.6h0M107.9 566.9h0M105.1 565.4h0M102.5 569.3h0M105.6 556.4h0M102.1 536.2h0M100.6 560.0h0M104.5 565.1h0M114.2 567.9h0M102.8 557.3h0M114.2 537.9h0M111.1 557.2h0M112.7 565.9h0M112.1 545.8h0M112.1 549.4h0M114.7 544.9h0M103.5 558.3h0M111.7 547.6h0M110.9 551.8h0M112.2 558.7h0M113.8 524.4h0M111.0 552.6h0M113.1 544.9h0M111.6 555.2h0M115.3 566.3h0M101.7 564.9h0M107.4 563.4h0M114.3 563.8h0M112.5 543.0h0M115.4 550.8h0M115.9 555.5h0M114.0 523.1h0M114.2 569.4h0M114.8 560.0h0M105.1 569.6h0M107.7 564.6h0M114.6 530.7h0M115.9 566.9h0M100.5 569.3h0M105.2 556.9h0M116.4 544.4h0M106.1 553.4h0M113.0 556.1h0M103.8 567.7h0M109.5 559.6h0M103.5 556.0h0M102.6 562.2h0M115.6 544.7h0M116.1 562.6h0M113.6 538.6h0M112.0 544.8h0M111.3 536.2h0M114.6 534.3h0M113.1 559.6h0M102.1 568.1h0M116.4 553.2h0M110.2 556.7h0M115.3 541.6h0M104.3 563.3h0M116.3 558.1h0M116.1 548.2h0M109.1 563.3h0M113.8 555.3h0M101.0 545.3h0M112.8 562.1h0M105.3 563.3h0M101.0 563.3h0M101.9 548.4h0M114.5 559.5h0M114.0 527.5h0M112.4 541.0h0M102.6 536.1h0M101.2 559.7h0M110.3 568.6h0M105.4 544.0h0M111.2 551.3h0M113.0 538.3h0M105.5 549.7h0M101.3 554.8h0M102.8 561.8h0M100.9 561.5h0M115.6 524.8h0M113.4 554.9h0M112.9 519.1h0M112.2 564.0h0M104.6 541.8h0M105.1 569.4h0M108.1 568.0h0M116.4 560.0h0M115.7 531.2h0M102.5 560.6h0M111.9 567.8h0M111.9 544.1h0M115.6 525.6h0M115.6 568.9h0M102.1 538.2h0M113.3 516.4h0M101.7 568.1h0M103.4 564.2h0M116.1 568.3h0M114.1 555.3h0M107.2 560.3h0M113.6 557.8h0M116.0 552.9h0M103.5 537.9h0M101.8 565.3h0M114.3 548.4h0M112.7 539.1h0M114.1 553.9h0M115.4 559.6h0M104.9 539.4h0M112.9 519.3h0M115.4 568.9h0M110.9 558.1h0M104.7 563.9h0M115.8 563.5h0M103.7 545.7h0M115.9 568.6h0M110.2 567.4h0M100.5 563.6h0M112.7 510.3h0M112.9 556.8h0M103.9 542.0h0M114.6 549.5h0M102.8 564.5h0M115.6 559.9h0M115.0 560.1h0M101.5 549.4h0M105.8 560.6h0M103.0 565.7h0M101.4 516.7h0M115.8 565.0h0M107.9 561.6h0M115.0 551.2h0M103.9 535.1h0M114.1 566.0h0M114.6 550.1h0M100.6 558.0h0M111.0 564.6h0M115.9 532.0h0M114.5 528.5h0M111.7 569.0h0M104.6 537.1h0M100.7 568.2h0M114.2 547.9h0M101.7 545.3h0M107.3 564.4h0M111.8 537.8h0M113.9 524.5h0M104.0 522.6h0M102.2 553.3h0M110.6 550.1h0M107.6 564.3h0M109.5 569.7h0M104.7 545.6h0M111.3 566.0h0M105.9 563.8h0M112.2 560.9h0M112.5 544.6h0M115.8 557.3h0M101.8 542.6h0M115.3 548.9h0M100.5 538.9h0M112.4 559.5h0M112.9 566.4h0M113.0 551.7h0M102.5 536.6h0M100.8 551.4h0M102.3 557.2h0M115.3 561.5h0M111.0 568.0h0M111.7 566.8h0M107.5 561.6h0M106.2 559.3h0M104.7 554.7h0M111.7 569.7h0M101.2 537.5h0M105.8 553.4h0M113.0 549.9h0M112.7 535.3h0M112.7 535.2h0M101.8 569.7h0M105.1 562.9h0M114.3 554.6h0M109.1 560.9h0M103.8 549.3h0M116.2 547.6h0M106.3 565.8h0M113.8 561.2h0M111.7 530.2h0M114.5 565.4h0M107.4 567.7h0M103.2 533.7h0M100.6 555.3h0M106.9 555.0h0M101.8 550.9h0M106.0 559.9h0M114.4 556.9h0M105.6 547.0h0M108.9 561.6h0M100.6 553.9h0M102.6 560.2h0M113.3 549.7h0M115.9 536.4h0M113.6 561.7h0M104.8 535.6h0M101.9 551.4h0M107.6 565.2h0M114.8 559.9h0M113.9 554.3h0M110.1 558.0h0M111.2 567.0h0M115.5 530.1h0M113.2 545.0h0M114.9 555.3h0M112.5 534.5h0M113.3 546.7h0M112.6 510.2h0M106.5 552.0h0M102.1 538.9h0M112.7 549.3h0M114.6 536.6h0M108.6 566.7h0M109.2 562.1h0M115.5 531.6h0M115.7 544.0h0M115.8 546.7h0M113.2 560.4h0M112.4 554.5h0M104.7 522.7h0M110.0 565.0h0M100.6 556.4h0M115.0 562.1h0M109.6 563.2h0M114.1 556.1h0M105.1 569.7h0M106.0 566.4h0M115.2 555.1h0M114.0 547.8h0M103.9 533.0h0M110.2 566.7h0M100.5 549.8h0M102.6 554.2h0M110.5 557.5h0M114.1 557.8h0M112.6 566.2h0M113.9 521.4h0M115.2 548.2h0M115.3 562.8h0M112.6 542.9h0M102.9 535.9h0M101.9 560.5h0M103.4 561.8h0M114.0 565.9h0M115.6 552.3h0M106.4 549.6h0M104.2 555.3h0M111.9 562.0h0M114.3 542.0h0M100.5 531.5h0M106.7 568.1h0M100.7 543.5h0M103.6 568.5h0M114.8 557.3h0M105.7 557.7h0M112.5 566.6h0M106.0 554.6h0M110.9 564.8h0M105.3 531.1h0M103.0 542.0h0M114.9 564.9h0M100.4 556.2h0M100.6 542.9h0M102.2 543.9h0M116.5 551.8h0M110.0 554.3h0M111.6 541.4h0M112.1 568.0h0M112.8 523.7h0M103.3 557.4h0M107.4 565.6h0M116.1 531.4h0M113.0 562.1h0M102.2 539.5h0M100.6 521.8h0M111.8 552.0h0M104.5 552.1h0M113.5 556.1h0M101.9 527.2h0M111.1 543.6h0M112.0 553.7h0M114.2 542.6h0M104.2 569.3h0M105.3 545.5h0M101.0 568.9h0M102.0 515.5h0M103.7 567.7h0M111.0 565.7h0M111.2 566.3h0M101.5 536.5h0M103.3 510.4h0M111.7 568.7h0M115.2 569.6h0M112.3 565.3h0M111.9 559.4h0M109.8 560.1h0M110.0 558.7h0M110.1 560.9h0M102.2 568.7h0M100.6 553.8h0M101.8 569.6h0M102.0 553.3h0M108.1 567.2h0M112.9 521.1h0M115.6 558.1h0M106.2 560.9h0M102.2 537.1h0M114.0 540.1h0M103.9 543.6h0M114.8 543.8h0M101.2 536.8h0M102.8 562.6h0M101.4 560.9h0M106.4 557.1h0M114.6 535.9h0M103.5 526.6h0M104.8 557.0h0M112.2 555.8h0M107.4 558.9h0M114.4 563.8h0M104.9 544.6h0M105.3 557.4h0M102.8 537.6h0M102.4 513.8h0M100.6 563.5h0M103.4 534.6h0M106.8 560.9h0M104.6 552.1h0M106.6 551.6h0M112.9 568.5h0M109.1 566.1h0M116.2 555.7h0M103.5 565.8h0M111.0 562.5h0M105.9 542.8h0M106.9 568.6h0M110.9 560.1h0M100.8 562.2h0M110.0 559.7h0M111.8 568.4h0M103.3 538.3h0M115.7 539.5h0M110.7 567.9h0M103.0 558.3h0M113.8 545.9h0M105.1 542.5h0M116.1 565.2h0M103.2 547.4h0M108.9 567.9h0M113.0 555.2h0M112.6 561.7h0M112.3 528.9h0M115.5 537.4h0M103.5 564.5h0M104.3 568.1h0M107.3 564.7h0M101.3 569.6h0M101.7 525.4h0M101.3 547.5h0M115.3 547.7h0M111.9 561.7h0M114.4 557.5h0M101.3 538.0h0M102.2 535.9h0M106.1 562.2h0M114.8 556.6h0M105.4 562.9h0M115.4 523.5h0M102.7 561.6h0M101.7 517.9h0M112.9 557.3h0M111.3 561.8h0M105.4 560.8h0M101.2 562.9h0M100.9 549.0h0M105.5 551.9h0M101.8 568.6h0M104.2 549.3h0M112.4 549.0h0M101.1 569.0h0M101.5 547.9h0M107.6 566.0h0M104.6 551.6h0M113.6 539.9h0M115.9 560.9h0M110.1 561.9h0M101.2 544.6h0M113.3 554.0h0M100.8 564.8h0M101.9 555.6h0M101.1 561.4h0M104.5 536.6h0M102.8 550.8h0M113.0 551.6h0M111.5 540.1h0M112.0 524.3h0M108.3 563.3h0M106.2 557.9h0M102.0 561.1h0M114.2 518.0h0M104.7 551.6h0M108.9 565.9h0M113.7 566.4h0M106.9 556.7h0M113.2 543.3h0M102.4 513.4h0M115.2 557.3h0M103.3 513.9h0M105.9 559.4h0M103.2 562.0h0M104.3 525.6h0M100.9 541.1h0M103.2 542.4h0M102.9 534.1h0M101.6 569.4h0M110.2 556.3h0M114.5 535.8h0M115.7 552.3h0M111.7 559.9h0M105.4 550.8h0M111.5 534.6h0M104.0 529.6h0M113.2 548.2h0M105.4 560.1h0M102.9 554.2h0M106.3 558.6h0M103.8 524.9h0M116.2 566.0h0M111.3 555.6h0M100.8 561.0h0M113.1 546.3h0M105.7 560.4h0M112.2 560.9h0M115.3 553.9h0M115.5 513.4h0M114.1 536.6h0M113.2 535.7h0M112.9 531.3h0M101.8 538.0h0M107.8 568.9h0M114.9 529.0h0M105.8 544.4h0M115.0 560.2h0M113.4 542.1h0M116.0 511.0h0M113.4 556.5h0M115.9 515.4h0M104.4 519.5h0M101.8 559.4h0M113.5 522.2h0M100.6 562.8h0M115.5 544.0h0M105.2 546.2h0M101.3 514.3h0M115.3 523.6h0M107.1 557.8h0M111.8 558.2h0M105.1 561.0h0M108.7 568.4h0M102.6 528.9h0M105.0 566.6h0M112.4 548.2h0M101.6 530.6h0M111.9 561.7h0M114.0 530.4h0M113.5 565.5h0M104.8 524.3h0M104.9 524.9h0M114.2 546.9h0M102.8 544.8h0M115.8 542.9h0M114.1 566.1h0M112.1 569.2h0M112.7 560.4h0M101.7 562.1h0M103.9 549.1h0M102.7 565.0h0M114.7 557.4h0M115.7 522.6h0M104.3 568.8h0M103.4 552.5h0M105.6 560.0h0M113.2 547.9h0M113.7 538.1h0M113.2 529.8h0M102.6 553.5h0M112.3 555.5h0M110.3 553.7h0M102.7 532.0h0M109.5 568.8h0M112.1 545.0h0M110.4 557.6h0M112.9 569.2h0M103.0 535.0h0M113.9 559.0h0M113.9 562.2h0M101.6 534.9h0M115.6 523.8h0M111.6 544.4h0M105.5 550.6h0M115.5 562.9h0M105.7 562.6h0M103.1 524.8h0M106.4 558.5h0M101.4 548.8h0M113.5 535.7h0M104.0 567.6h0M116.5 549.4h0M112.9 532.3h0M102.0 551.2h0M101.2 552.3h0M107.0 562.0h0M101.1 556.9h0M102.7 530.3h0M114.8 568.8h0M103.6 556.4h0M109.4 560.7h0M112.0 547.5h0M114.3 533.3h0M114.3 557.3h0M114.5 565.9h0M114.6 564.1h0M113.7 509.8h0M103.5 567.2h0M110.1 565.5h0M115.8 562.5h0M115.4 544.6h0M100.9 552.5h0M102.8 568.5h0M113.2 536.3h0M116.2 540.4h0M114.5 558.2h0M104.3 559.9h0M109.5 568.4h0M116.1 567.6h0M102.9 553.5h0M115.3 530.1h0M107.7 566.1h0M111.9 527.0h0M102.6 532.9h0M101.1 536.3h0M102.7 569.5h0M107.7 569.1h0M111.0 544.2h0M102.2 563.6h0M104.2 565.7h0M102.3 538.8h0M112.3 565.6h0M116.3 559.9h0M101.7 511.1h0M112.0 564.9h0M101.1 540.8h0M112.3 567.7h0M110.5 550.8h0M104.0 564.7h0M104.2 555.7h0M110.0 565.2h0M103.9 552.9h0M105.1 551.8h0M105.9 549.8h0M114.5 555.0h0M106.3 550.1h0M111.5 534.6h0M108.6 563.6h0M107.1 557.8h0M115.2 520.9h0M116.5 548.5h0M114.7 554.0h0M103.7 567.4h0M111.3 565.2h0M102.0 556.5h0M102.4 568.3h0M104.9 537.0h0M102.4 552.6h0M103.7 553.6h0M104.9 541.8h0M104.3 542.3h0M106.2 567.3h0M114.6 556.2h0M104.6 526.6h0M101.1 554.8h0M102.9 561.8h0M104.6 565.0h0M104.8 547.6h0M113.6 532.8h0M101.3 569.2h0M113.5 526.8h0M102.6 555.3h0M110.1 563.9h0M106.1 561.7h0M113.4 542.7h0M103.1 559.0h0M107.1 564.6h0M111.3 556.0h0M109.0 568.5h0M101.1 520.2h0M101.6 547.4h0M113.8 543.7h0M115.6 539.1h0M111.0 554.7h0M103.3 547.0h0M108.9 565.7h0M106.3 568.6h0M114.0 540.3h0M112.0 551.7h0M105.1 565.1h0M111.4 568.0h0M112.6 529.1h0M101.2 540.1h0M111.5 550.2h0M104.9 558.2h0M113.6 550.6h0M114.4 557.9h0M114.1 565.7h0M116.2 566.5h0M114.2 545.9h0M105.7 543.5h0M112.3 540.8h0M104.2 560.1h0M105.3 569.7h0M110.5 566.7h0M103.7 530.6h0M100.4 547.9h0M110.3 567.1h0M102.4 564.3h0M115.3 563.5h0M111.6 534.9h0M113.0 551.6h0M105.0 554.7h0M104.0 538.3h0M112.3 545.9h0M112.9 537.2h0M105.0 543.2h0M109.9 569.2h0M103.4 551.9h0M102.1 564.0h0M116.0 567.7h0M109.5 569.2h0M103.9 565.0h0M107.5 564.3h0M108.3 565.7h0M101.1 554.5h0M114.3 557.8h0M105.2 569.3h0M102.9 545.7h0M104.8 564.9h0M102.6 569.3h0M110.7 548.0h0M100.4 549.7h0M110.3 564.6h0M111.1 562.2h0M110.9 557.4h0M115.6 539.4h0M105.0 559.1h0M102.3 524.1h0M102.3 552.1h0M101.2 565.7h0M114.4 561.3h0M115.9 550.8h0M105.3 559.1h0M113.2 568.5h0M110.0 567.3h0M112.5 557.3h0M106.0 560.3h0M113.3 549.4h0M115.9 548.3h0M108.4 567.9h0M104.3 545.9h0M112.1 554.3h0M114.7 540.9h0M102.3 540.3h0M114.8 528.8h0M116.4 549.3h0M106.1 564.1h0M101.4 548.6h0M105.3 536.1h0M100.8 565.4h0M111.6 569.7h0M101.4 554.2h0M107.0 556.1h0M113.0 536.2h0M110.1 558.7h0M109.4 565.9h0M104.8 526.3h0M114.5 521.4h0M106.1 548.2h0M114.8 562.3h0M105.5 567.9h0M102.3 569.1h0M114.1 558.8h0M104.3 536.3h0M111.1 555.2h0M114.7 567.3h0M114.6 530.1h0M104.3 510.5h0M101.8 537.1h0M101.1 553.4h0M106.7 563.3h0M115.7 563.2h0M103.4 544.6h0M114.8 552.3h0M102.2 562.5h0M110.8 569.1h0M107.2 563.6h0M102.2 525.8h0M114.2 534.9h0M104.7 527.3h0M113.4 563.1h0M115.2 550.6h0M101.1 553.2h0M100.5 513.6h0M112.1 530.9h0M113.1 526.3h0M100.7 566.2h0M111.5 567.7h0M105.6 543.6h0M113.2 522.9h0M104.6 562.4h0M104.2 518.6h0M116.0 553.5h0M107.4 561.5h0M116.1 560.7h0M101.7 524.6h0M112.2 530.4h0M103.1 532.1h0M107.2 562.2h0M107.9 568.5h0M103.1 567.3h0M103.1 548.1h0M112.5 525.4h0M115.4 536.2h0M107.7 568.8h0M113.9 509.6h0M100.9 559.6h0M114.4 554.7h0M104.2 522.6h0M104.0 552.4h0M112.3 530.2h0M102.7 565.8h0M101.7 518.6h0M101.4 547.2h0M115.0 563.4h0M102.5 564.3h0M115.7 563.9h0M103.1 541.8h0M101.6 540.2h0M114.0 562.6h0M115.3 560.4h0M107.1 562.2h0M106.9 554.7h0M116.5 544.4h0M103.9 517.7h0M114.7 551.9h0M107.0 555.2h0M101.6 553.0h0M103.7 565.7h0M111.4 563.0h0M109.8 556.3h0M104.9 531.8h0M113.8 564.5h0M114.0 535.3h0M116.2 512.3h0M116.2 548.7h0M103.4 556.4h0M105.9 564.0h0M112.1 559.2h0M104.6 560.9h0M103.4 555.6h0M106.4 548.0h0M115.3 567.2h0M106.7 566.2h0M113.1 522.5h0M100.7 564.7h0M113.2 552.2h0M111.8 528.6h0M115.8 565.4h0M108.5 569.6h0M113.2 529.8h0M107.5 560.2h0M115.2 546.5h0M112.4 539.4h0M102.4 563.8h0M111.6 559.5h0M111.9 531.3h0M113.9 555.2h0M112.5 546.7h0M101.7 558.8h0M103.0 549.1h0M104.6 533.3h0M103.9 546.4h0M116.4 554.6h0M108.1 568.2h0M101.8 550.3h0M103.4 536.7h0M110.0 558.7h0M109.2 559.9h0M112.8 557.9h0M100.4 567.7h0M109.6 564.9h0M106.7 568.4h0M104.4 569.7h0M112.6 568.8h0M112.2 522.7h0M112.2 569.7h0M113.1 557.7h0M115.7 546.9h0M116.0 556.1h0M106.3 561.9h0M101.6 567.4h0M114.8 567.6h0M102.8 516.6h0M105.3 551.6h0M101.2 538.2h0M113.9 569.5h0M116.3 563.4h0M110.2 557.3h0M111.5 561.1h0M114.8 564.2h0M112.7 566.9h0M111.6 564.1h0M102.2 559.6h0M116.1 545.6h0M108.1 565.1h0M106.2 551.0h0M101.7 566.0h0M105.8 547.0h0M102.9 566.2h0M114.4 523.7h0M112.6 546.7h0M112.6 557.1h0M115.4 516.7h0M104.9 539.8h0M103.3 540.5h0M115.3 521.0h0M111.6 560.1h0M102.0 511.4h0M116.2 544.6h0M105.5 557.0h0M100.5 558.1h0M101.0 536.3h0M113.2 558.9h0M103.7 567.8h0M114.0 513.1h0M106.8 565.1h0M115.4 553.3h0M110.1 567.3h0M101.9 531.8h0M112.7 533.3h0M107.4 559.1h0M114.6 525.0h0M100.9 524.6h0M112.5 542.2h0M116.3 542.4h0M113.0 547.0h0M110.3 559.9h0M101.3 553.9h0M100.7 513.3h0M102.2 559.7h0M110.6 555.1h0M112.2 556.5h0M112.9 569.1h0M114.0 538.2h0M115.8 566.1h0M110.1 569.7h0M103.0 524.3h0M113.3 569.2h0M102.8 556.2h0M105.4 557.9h0M105.8 569.2h0M112.2 559.0h0M110.8 546.9h0M110.5 557.8h0M104.5 560.9h0M113.8 562.9h0M114.6 535.6h0M104.7 549.6h0M114.0 533.8h0M101.4 532.5h0M112.8 527.2h0M114.5 554.0h0M102.9 520.7h0M105.9 562.0h0M101.2 520.8h0M101.6 513.8h0M106.7 566.2h0M114.5 562.2h0M102.1 566.3h0M114.3 532.3h0M116.4 548.5h0M100.8 522.3h0M102.3 555.3h0M113.4 544.1h0M113.2 561.1h0M104.4 563.3h0M113.6 568.8h0M113.1 522.7h0M116.1 523.7h0M107.5 562.0h0M105.7 548.6h0M103.8 569.7h0M105.2 533.0h0M103.0 565.0h0M112.4 557.4h0M101.5 547.4h0M104.0 530.5h0M102.1 549.5h0M102.1 565.3h0M107.6 565.5h0M101.3 552.2h0M106.8 555.8h0M106.3 563.2h0M107.5 561.4h0M104.2 549.6h0M115.4 559.8h0M101.0 562.1h0M114.4 565.6h0M113.7 537.9h0M112.7 541.3h0M116.3 544.9h0M102.7 553.4h0M115.9 547.6h0M102.3 561.4h0M103.6 561.8h0M104.1 567.0h0M104.5 535.2h0M116.3 545.4h0M115.4 523.1h0M100.6 538.4h0M103.2 557.3h0M111.5 567.2h0M114.1 554.8h0M103.0 564.2h0M101.4 533.0h0M115.6 528.5h0M113.7 568.5h0M114.6 559.0h0M101.2 539.4h0M101.2 568.2h0M103.0 523.2h0M112.7 536.4h0M113.9 563.7h0M111.9 565.9h0M112.0 560.3h0M103.1 523.3h0M109.6 562.4h0M108.2 563.1h0M106.8 554.5h0M101.2 567.5h0M106.1 559.6h0M108.6 563.9h0M113.2 529.5h0M113.3 520.7h0M104.8 541.7h0M105.3 555.0h0M115.7 555.4h0M114.5 522.0h0M108.0 561.6h0M110.9 554.5h0M113.3 526.9h0M111.2 563.3h0M108.9 568.6h0M109.4 562.7h0M116.4 522.3h0M104.8 548.5h0M112.1 561.0h0M111.2 565.4h0M112.7 551.2h0M112.5 550.1h0M113.4 511.4h0M113.4 547.2h0M104.3 560.3h0M106.1 554.4h0M108.5 561.0h0M101.9 544.2h0M114.3 563.0h0M104.7 547.4h0M114.0 512.2h0M110.8 548.7h0M106.4 567.7h0M111.4 541.9h0M105.4 552.6h0M115.3 569.2h0M104.0 521.9h0M105.8 561.5h0M107.5 563.6h0M105.5 555.8h0M106.3 569.4h0M112.1 542.1h0M105.6 545.6h0M113.7 527.4h0M114.0 567.5h0M111.9 556.8h0M107.7 567.3h0M107.6 568.3h0M106.2 562.1h0M106.7 567.9h0M102.4 560.4h0M115.7 564.2h0M102.6 551.3h0M114.6 554.1h0M109.8 564.4h0M112.9 564.7h0M103.5 563.9h0M114.4 551.7h0M116.1 527.1h0M111.1 552.7h0M101.0 531.4h0M112.1 562.3h0M107.3 559.8h0M105.1 555.8h0M112.6 532.4h0M101.5 553.3h0M114.7 514.4h0M103.5 535.4h0M102.0 550.9h0M106.1 557.6h0M104.6 569.6h0M105.7 554.1h0M111.1 558.4h0M113.0 545.6h0M101.1 561.8h0M108.3 561.6h0M105.2 558.3h0M108.4 562.5h0M113.6 565.8h0M103.7 525.4h0M101.2 560.9h0M102.1 568.7h0M101.3 533.5h0M110.6 551.9h0M107.7 560.3h0M102.5 536.1h0M104.9 552.9h0M113.0 515.5h0M104.5 566.3h0M101.8 529.1h0M105.6 548.9h0M115.8 556.5h0M112.1 557.9h0M113.1 567.4h0M108.8 565.0h0M105.0 558.5h0M113.4 525.2h0M113.7 555.3h0M111.7 551.6h0M113.9 535.9h0M109.1 561.0h0M109.3 564.1h0M100.5 556.9h0M116.4 544.1h0M109.8 563.3h0M112.4 544.3h0M115.7 567.3h0M103.7 567.7h0M115.9 569.2h0M108.8 566.7h0M114.0 556.2h0M112.4 512.5h0M102.5 543.4h0M103.6 547.7h0M106.8 555.8h0M109.4 558.9h0M100.6 535.1h0M105.4 542.6h0M105.5 564.0h0M112.6 560.5h0M115.1 566.4h0M101.0 557.7h0M114.4 559.3h0M114.5 561.3h0M100.7 536.6h0M106.6 558.8h0M106.6 551.6h0M113.4 550.0h0M104.1 554.8h0M104.2 528.8h0M105.4 563.9h0M100.5 542.5h0M103.3 561.6h0M102.1 536.3h0M104.5 514.1h0M107.1 556.5h0M113.7 523.3h0M110.8 544.3h0M103.7 548.1h0M113.7 538.4h0M100.5 520.6h0M103.4 558.4h0M114.2 567.1h0M109.6 560.0h0M113.2 532.0h0M115.8 569.4h0M102.8 553.6h0M102.9 552.9h0M110.3 553.1h0M114.1 565.5h0M109.9 554.9h0M114.1 549.9h0M101.8 555.7h0M106.5 564.2h0M111.5 549.5h0M116.3 528.5h0M114.4 517.5h0M115.8 562.4h0M109.2 568.8h0M106.6 559.6h0M112.4 550.6h0M100.8 544.5h0M116.0 542.3h0M100.4 554.1h0M112.6 513.5h0M104.5 521.2h0M112.5 553.2h0M103.6 549.2h0M107.9 564.6h0M113.1 553.0h0M111.5 544.1h0M102.2 553.8h0M110.0 569.1h0M114.0 517.9h0M105.9 562.1h0M113.9 526.8h0M112.7 524.4h0M114.2 529.2h0M107.1 569.1h0M105.6 561.6h0M100.8 517.0h0M113.3 558.2h0M100.8 551.1h0M112.5 542.0h0M114.9 556.9h0M115.4 531.1h0M104.1 545.8h0M113.4 551.8h0M105.0 553.7h0M113.8 568.5h0M113.6 559.4h0M103.4 512.4h0M109.2 566.9h0M103.6 569.3h0M116.2 558.5h0M115.9 512.6h0M113.5 523.4h0M108.9 566.7h0M111.6 566.8h0M114.6 531.0h0M106.5 567.2h0M113.3 551.0h0M114.7 563.6h0M115.8 556.9h0M101.6 533.8h0M113.2 554.4h0M114.0 564.0h0M102.0 564.3h0M114.9 566.5h0M104.6 533.3h0M115.3 549.0h0M113.1 567.5h0M102.0 567.2h0M102.2 550.5h0M104.2 563.9h0M113.2 543.9h0M111.8 536.7h0M111.4 545.1h0M113.9 518.7h0M112.0 538.3h0M110.5 553.8h0M104.7 544.0h0M113.1 518.2h0M100.5 567.0h0M100.6 558.9h0M116.0 537.2h0M112.1 556.7h0M100.4 532.5h0M104.6 557.0h0M114.2 515.7h0M100.6 549.7h0M104.4 528.6h0M111.7 552.4h0M114.0 566.2h0M112.2 540.4h0M106.4 555.0h0M114.1 542.4h0M115.9 569.5h0M114.0 564.4h0M106.2 551.5h0M104.6 553.9h0M102.0 545.1h0M102.5 544.4h0M101.2 550.0h0M111.8 560.1h0M114.3 568.3h0M111.5 568.3h0M111.6 550.9h0M103.1 532.2h0M116.0 546.5h0M102.5 546.1h0M114.1 551.4h0M112.3 558.7h0M114.5 535.2h0M100.8 547.6h0M103.5 530.1h0M113.5 556.7h0M106.9 557.0h0M112.1 552.5h0M100.6 564.3h0M114.8 563.0h0M105.9 554.5h0M116.2 539.6h0M101.5 545.0h0M115.2 558.8h0M102.1 543.6h0M115.1 549.7h0M104.2 518.2h0M112.9 537.8h0M113.3 568.5h0M104.0 526.2h0M115.9 566.5h0M108.8 565.8h0M105.9 552.1h0M104.7 566.7h0M113.1 540.3h0M103.8 537.2h0M108.2 563.3h0M113.7 528.5h0M109.2 564.1h0M115.9 556.8h0M103.6 568.9h0M101.5 569.2h0M105.1 562.2h0M101.2 545.5h0M105.8 552.3h0M103.8 536.2h0M103.3 541.4h0M115.8 567.4h0M113.7 548.3h0M112.0 549.3h0M114.6 542.6h0M113.2 552.2h0M105.2 561.8h0M104.7 543.1h0M116.2 565.6h0M108.7 568.5h0M114.6 547.3h0M116.4 540.1h0M116.1 540.9h0M111.6 564.6h0M108.5 568.2h0M115.8 560.7h0M103.3 557.5h0M110.9 544.9h0M103.9 548.0h0M103.6 551.5h0M100.9 540.4h0M111.7 567.2h0M104.5 569.2h0M101.3 516.4h0M112.5 543.4h0M102.7 510.7h0M111.9 560.3h0M107.7 563.8h0M111.7 531.6h0M102.1 566.1h0M111.5 566.8h0M111.4 542.7h0M109.4 561.1h0M111.0 559.4h0M109.0 569.6h0M104.8 566.3h0M102.0 548.8h0M110.9 565.0h0M113.5 533.9h0M101.3 568.4h0M103.4 523.9h0M113.1 544.3h0M114.6 564.1h0M113.3 516.0h0M104.2 563.9h0M107.1 565.6h0M114.7 523.8h0M102.3 510.3h0M114.8 523.4h0M112.9 542.8h0M101.3 547.8h0M116.1 518.2h0M107.1 564.6h0M102.0 563.3h0M105.3 547.3h0M110.8 568.9h0M114.4 509.9h0M109.6 561.9h0M111.1 547.9h0M105.1 549.6h0M115.6 537.8h0M107.7 560.5h0M116.1 549.2h0M104.0 560.3h0M101.7 563.3h0M104.8 547.8h0M113.3 553.7h0M112.3 554.3h0M110.0 568.3h0M115.0 536.8h0M102.1 527.2h0M114.6 521.8h0M105.9 560.1h0M106.0 561.4h0M101.2 525.3h0M100.6 535.9h0M111.2 558.3h0M103.3 511.8h0M101.5 560.7h0M112.4 528.6h0M101.6 560.5h0M100.7 561.0h0M110.3 562.3h0M103.9 538.6h0M104.4 528.3h0M103.6 560.0h0M106.4 561.2h0M105.2 551.3h0M113.4 569.2h0M114.3 557.8h0M111.2 558.3h0M116.2 537.1h0M101.6 533.2h0M108.4 563.9h0M105.2 529.9h0M110.3 562.9h0M104.1 546.0h0M102.6 545.0h0M104.2 536.0h0M115.0 562.3h0M102.3 562.7h0M107.1 557.4h0M105.9 566.4h0M111.8 558.8h0M114.4 538.1h0M101.4 569.2h0M108.7 568.3h0M112.2 553.4h0M105.9 543.3h0M105.6 549.7h0M113.0 509.5h0M113.5 539.9h0M102.9 567.9h0M114.4 566.2h0M104.8 569.7h0M101.6 532.7h0M103.9 542.7h0M108.5 561.2h0M112.1 546.5h0M115.6 560.4h0M112.6 513.6h0M113.0 543.9h0M104.5 553.5h0M105.3 550.2h0M104.6 551.6h0M111.3 549.9h0M103.3 560.8h0M107.6 564.0h0M101.4 551.4h0M110.3 565.1h0M116.0 519.5h0M114.8 516.4h0M101.9 539.8h0M108.6 564.7h0M111.2 563.8h0M114.4 564.5h0M102.7 544.3h0M106.0 562.6h0M110.9 562.5h0M102.7 553.5h0M105.8 566.8h0M103.1 565.1h0M109.6 566.3h0M104.6 524.6h0M104.1 557.6h0M114.9 550.8h0M109.8 563.9h0M113.0 530.0h0M106.1 547.5h0M108.2 569.5h0M101.8 535.4h0M104.7 569.6h0M113.3 532.6h0M108.3 569.5h0M106.3 563.1h0M106.5 549.7h0M116.1 517.8h0M101.0 532.1h0M110.7 557.5h0M107.1 568.3h0M114.4 569.5h0M115.0 528.2h0M101.6 517.3h0M103.9 552.1h0M110.2 554.9h0M116.3 550.4h0M114.3 522.2h0M109.8 558.9h0M109.1 560.4h0M112.1 543.4h0M104.0 565.7h0M116.3 548.8h0M110.9 569.5h0M112.7 527.3h0M115.1 550.2h0M102.5 547.8h0M102.3 541.1h0M104.1 557.1h0M106.8 558.7h0M102.9 537.4h0M113.5 533.8h0M104.0 557.6h0M110.5 552.0h0M109.8 561.5h0M112.4 539.5h0M111.7 560.9h0M115.8 562.4h0M100.4 563.3h0M115.4 532.5h0M102.1 532.4h0M109.9 567.8h0M115.3 524.2h0M113.2 518.3h0M101.0 550.7h0M114.0 556.2h0M115.8 554.1h0M104.6 568.4h0M100.4 524.5h0M104.0 565.4h0M111.2 557.9h0M109.2 562.8h0M109.9 566.1h0M102.3 546.2h0M101.8 517.8h0M111.8 560.0h0M102.5 563.8h0M102.6 509.6h0M102.4 546.3h0M111.8 554.1h0M100.5 550.0h0M114.9 510.1h0M108.1 568.1h0M114.0 569.4h0M114.9 544.8h0M102.2 544.0h0M101.5 568.4h0M100.5 522.0h0M115.6 541.1h0M107.0 565.0h0M107.0 560.0h0M112.1 565.3h0M115.5 546.5h0M103.5 563.7h0M115.3 563.1h0M103.9 537.3h0M112.7 564.6h0M105.8 567.9h0M112.3 557.0h0M103.7 538.9h0M103.0 563.9h0M112.5 549.9h0M111.9 555.5h0M102.3 532.9h0M112.8 552.5h0M103.8 513.4h0M101.8 535.7h0M102.4 543.0h0M114.4 549.4h0M115.2 513.9h0M106.8 564.0h0M115.7 510.3h0M110.5 562.1h0M111.1 552.2h0M103.0 551.0h0M102.9 562.5h0M109.5 558.9h0M110.6 549.4h0M111.2 559.6h0M116.5 517.3h0M110.1 556.9h0M115.8 519.2h0M100.7 538.7h0M115.6 537.4h0M111.3 551.3h0M111.7 567.0h0M116.1 552.4h0M115.5 539.8h0M103.8 552.2h0M105.5 567.8h0M111.2 551.5h0M101.2 558.5h0M115.9 565.6h0M113.5 562.5h0M104.2 565.7h0M114.5 552.8h0M114.3 523.8h0M110.7 566.4h0M101.5 567.5h0M101.2 566.0h0M106.6 563.6h0M113.3 525.1h0M115.3 563.3h0M100.8 546.5h0M105.3 566.1h0M112.6 523.3h0M113.3 549.3h0M106.2 564.3h0M113.4 552.5h0M110.7 560.1h0M115.4 539.4h0M112.9 564.4h0M113.6 565.8h0M100.8 514.6h0M111.6 559.4h0M106.3 547.7h0M104.7 555.1h0M112.7 545.4h0M113.3 569.2h0M102.8 564.2h0M112.1 553.3h0M104.1 568.0h0M112.3 567.4h0M116.4 559.6h0M107.7 568.9h0M104.8 536.6h0M115.7 557.6h0M101.3 523.4h0M111.8 547.6h0M100.5 564.1h0M106.8 568.3h0M107.0 565.2h0M114.1 527.3h0M116.4 536.4h0M100.5 561.9h0M108.1 564.4h0M104.7 550.6h0M116.2 561.5h0M106.5 558.6h0M101.3 539.0h0M103.8 529.1h0M105.5 568.4h0M106.9 565.1h0M104.9 564.2h0M105.5 545.7h0M105.3 544.0h0M113.8 568.7h0M113.8 557.4h0M115.8 563.1h0M115.2 559.0h0M116.0 566.8h0M101.1 526.6h0M115.4 543.5h0M105.1 528.8h0M114.9 548.5h0M100.9 513.2h0M111.4 569.6h0M116.2 567.9h0M111.3 547.7h0M102.5 564.6h0M102.3 550.3h0M114.9 566.7h0M109.8 565.6h0M116.1 564.4h0M103.2 563.3h0M102.2 555.4h0M110.9 553.2h0M112.0 562.7h0M102.1 556.9h0M105.3 538.2h0M115.5 529.1h0M101.3 544.3h0M107.8 569.4h0M105.4 568.9h0M113.2 540.9h0M104.4 548.0h0M102.6 566.7h0M110.8 567.3h0M116.1 528.1h0M112.8 563.3h0M105.7 567.7h0M104.8 551.2h0M113.6 524.4h0M102.5 528.0h0M116.1 559.5h0M101.3 557.7h0M105.6 565.1h0M100.7 551.0h0M114.3 555.1h0M100.5 555.2h0M103.6 567.5h0M113.2 545.0h0M116.3 554.8h0M113.8 549.6h0M101.1 542.6h0M104.9 553.6h0M107.3 567.6h0M101.3 518.9h0M112.5 553.6h0M113.3 539.6h0M101.6 517.2h0M115.5 525.8h0M101.5 557.5h0M110.1 566.5h0M114.3 525.2h0M100.7 555.2h0M111.8 560.8h0M105.4 547.2h0M115.7 568.7h0M104.4 518.5h0M102.2 561.8h0M101.8 539.3h0M111.9 528.9h0M112.8 548.3h0M101.3 566.7h0M115.5 558.4h0M104.6 551.0h0M101.9 551.4h0M112.4 559.4h0M105.3 551.0h0M108.7 566.4h0M108.0 562.8h0M105.1 552.2h0M101.4 533.2h0M114.0 535.0h0M100.4 564.3h0M104.7 521.2h0M102.2 531.6h0M101.9 549.7h0M114.2 564.9h0M107.5 560.0h0M111.4 543.1h0M105.2 557.9h0M111.9 527.6h0M104.3 557.4h0M102.1 569.0h0M111.1 562.3h0M101.7 547.7h0M103.9 556.7h0M105.1 564.7h0M105.3 559.7h0M115.8 542.1h0M105.1 539.8h0M116.2 559.0h0M100.7 568.5h0M111.9 528.4h0M104.2 568.2h0M111.9 541.1h0M102.9 556.8h0M115.8 511.6h0M105.1 558.5h0M112.6 562.8h0M106.2 560.6h0M104.9 569.5h0M104.6 568.4h0M112.3 562.2h0M112.9 558.8h0M102.7 553.4h0M111.3 535.9h0M101.9 552.9h0M115.2 554.5h0M115.4 519.3h0M105.3 547.8h0M114.0 552.7h0M103.9 564.5h0M115.0 545.4h0M100.9 565.6h0M115.4 529.0h0M105.9 566.4h0M111.3 539.8h0M107.1 563.1h0M114.8 550.0h0M102.4 565.9h0M103.8 568.9h0M106.3 551.3h0M111.4 566.5h0M100.9 555.7h0M112.8 540.7h0M115.7 569.6h0M114.5 558.0h0M114.9 513.3h0M101.8 561.1h0M106.9 564.3h0M102.0 558.8h0M116.2 556.6h0M104.7 534.9h0M116.1 562.2h0M108.6 566.8h0M107.9 563.9h0M101.3 535.9h0M113.8 556.5h0M111.5 562.7h0M100.5 544.8h0M107.2 563.7h0M100.7 518.2h0M100.6 527.7h0M115.7 516.8h0M115.8 519.3h0M101.9 542.5h0M104.2 543.7h0M103.2 509.5h0M108.7 563.2h0M110.9 546.7h0M114.2 555.9h0M114.8 542.2h0M102.3 544.3h0M107.6 567.3h0M114.1 543.9h0M101.3 539.6h0M111.9 561.7h0M107.8 565.8h0M111.7 566.0h0M115.6 520.0h0M103.0 542.2h0M115.0 558.3h0M111.3 558.7h0M103.7 566.7h0M111.6 539.5h0M114.6 552.2h0M103.4 542.0h0M101.4 565.9h0M112.4 565.1h0M105.0 531.1h0M106.6 559.0h0M108.5 562.8h0M102.9 558.8h0M101.9 557.5h0M104.1 560.4h0M104.5 569.4h0M110.7 568.6h0M103.4 558.7h0M104.9 543.7h0M104.4 524.0h0M114.5 547.4h0M100.5 538.3h0M101.1 523.4h0M112.5 565.4h0M113.8 537.4h0M114.4 552.9h0M109.3 567.6h0M108.9 562.9h0M106.8 567.1h0M112.3 531.4h0M115.3 515.2h0M115.1 515.1h0M108.9 569.4h0M102.2 535.5h0M111.2 557.9h0M113.7 546.2h0M116.2 553.9h0M112.0 563.7h0M109.9 564.1h0M112.8 526.2h0M113.2 569.0h0M106.5 565.7h0M115.1 552.8h0M108.6 568.5h0M111.8 534.0h0M113.4 564.9h0M115.5 552.0h0M105.0 527.8h0M115.7 539.8h0M115.3 518.8h0M104.7 540.1h0M112.0 552.5h0M112.2 525.6h0M102.6 554.2h0M114.3 569.4h0M115.7 514.7h0M115.9 557.6h0M103.2 541.4h0M111.3 549.6h0M108.7 567.2h0M107.0 562.8h0M101.9 568.0h0M113.3 554.5h0M113.2 568.2h0M102.9 529.8h0M101.8 545.4h0M104.0 543.1h0M102.8 546.4h0M106.7 562.8h0M112.7 565.9h0M116.1 540.5h0M108.1 565.9h0M102.1 568.1h0M106.0 557.3h0M109.5 562.6h0M105.3 536.9h0M111.1 562.5h0M106.0 551.4h0M101.8 551.0h0M113.4 550.1h0M108.3 567.6h0M104.2 569.6h0M107.0 560.8h0M104.7 568.0h0M105.2 548.3h0M110.4 562.0h0M105.3 543.8h0M104.6 526.7h0M106.6 562.4h0M106.4 558.3h0M112.6 516.4h0M113.8 547.0h0M111.9 564.6h0M116.0 568.2h0M114.0 568.4h0M101.8 550.3h0M115.9 568.0h0M115.5 550.9h0M109.6 563.6h0M103.0 551.5h0M109.3 562.8h0M111.2 558.3h0M116.1 560.1h0M109.3 562.0h0M113.8 568.9h0M111.1 551.2h0M104.5 540.0h0M101.6 562.3h0M115.0 553.0h0M104.5 545.0h0M101.1 525.6h0M101.1 568.6h0M109.7 567.2h0M114.9 557.7h0M106.9 566.8h0M111.3 565.8h0M113.8 509.2h0M104.4 568.6h0M102.1 549.1h0M106.0 545.3h0M110.2 568.4h0M112.3 555.8h0M108.1 566.9h0M101.1 567.5h0M111.6 568.4h0M101.5 560.4h0M109.5 560.2h0M100.4 565.7h0M113.8 549.9h0M101.1 550.1h0M113.6 555.2h0M105.8 544.6h0M101.2 557.5h0M110.2 573.6h0M107.8 572.9h0M101.4 581.4h0M108.5 571.1h0M109.7 571.3h0M109.4 577.3h0M114.3 578.6h0M106.2 575.4h0M110.0 570.1h0M115.4 573.4h0M110.1 581.6h0M117.5 575.8h0M109.3 573.5h0M110.5 572.8h0M119.2 571.6h0M108.9 570.3h0M105.5 577.7h0M110.6 577.0h0M121.0 577.3h0M109.3 572.8h0M111.0 582.2h0M111.3 575.2h0M110.2 580.7h0M112.6 573.4h0M103.0 576.5h0M116.1 577.6h0M110.6 576.1h0M105.5 574.3h0M112.3 579.5h0M114.3 570.3h0M116.7 570.0h0M108.3 575.3h0M101.7 572.3h0M109.7 577.1h0M106.5 578.4h0M108.1 571.7h0M105.8 571.8h0M118.8 573.9h0M108.9 570.7h0M111.8 571.1h0M114.1 573.0h0M108.3 570.4h0M106.2 576.1h0M109.0 578.7h0M107.1 572.9h0M114.3 575.7h0M117.7 579.4h0M101.7 582.4h0M106.3 572.6h0M109.6 570.7h0M111.9 578.0h0M106.6 572.4h0M112.0 570.3h0M111.4 577.2h0M107.5 582.5h0M111.3 570.0h0M100.7 570.4h0M111.9 572.7h0M100.5 571.6h0M105.4 572.1h0M102.5 579.4h0M119.9 576.9h0M118.4 569.9h0M108.7 574.6h0M104.2 571.4h0M110.7 574.8h0M97.1 574.2h0M107.4 570.5h0M108.2 574.0h0M109.3 576.0h0M115.8 569.8h0M110.3 569.9h0M111.7 570.2h0M112.6 581.0h0M111.9 578.4h0M107.9 575.4h0M108.3 570.4h0M95.1 573.1h0M113.1 571.0h0M109.9 570.1h0M108.2 576.4h0M114.0 571.0h0M100.9 574.9h0M97.9 579.7h0M104.8 569.8h0M108.6 574.7h0M103.6 572.8h0M107.2 570.2h0M106.8 576.5h0M104.9 575.2h0M117.1 573.0h0M110.9 571.3h0M110.2 570.8h0M117.4 572.7h0M114.3 581.4h0M105.7 570.7h0M118.7 569.9h0M117.7 571.2h0M106.2 579.2h0M109.4 579.6h0M115.1 576.3h0M105.8 569.9h0M106.9 570.1h0M105.0 570.4h0M101.5 572.5h0M115.0 575.8h0M103.5 574.2h0M100.5 570.1h0M109.9 573.6h0M110.1 570.5h0M106.0 577.9h0M109.1 574.8h0M97.8 574.6h0M107.6 576.9h0M104.0 570.9h0M105.6 576.8h0M109.2 571.9h0M111.1 572.5h0M107.2 574.0h0M104.4 576.5h0M106.4 569.8h0M108.5 572.7h0M103.7 575.4h0M103.0 573.5h0M110.0 580.0h0M109.1 574.6h0M110.8 572.4h0M120.8 569.9h0M111.9 570.9h0M100.9 572.3h0M110.4 580.7h0M104.4 580.4h0M108.7 570.0h0M110.9 570.0h0M107.5 576.0h0M105.7 577.7h0M103.4 576.6h0M105.6 580.9h0M102.7 570.2h0M109.6 569.8h0M107.3 578.0h0M109.0 570.6h0M101.8 573.7h0M103.2 578.7h0M119.4 570.4h0M97.9 569.8h0M110.4 573.2h0M104.0 578.5h0M119.0 577.4h0M111.8 577.1h0M105.0 570.5h0M104.3 570.0h0M112.3 578.2h0M109.4 580.9h0M111.7 573.2h0M101.2 573.7h0M107.2 570.2h0M109.9 570.9h0M118.5 572.4h0M113.2 578.7h0M109.6 570.1h0M104.4 576.4h0M116.7 569.9h0M112.0 571.8h0M115.5 577.5h0M105.0 572.8h0M108.0 570.3h0M102.8 581.5h0M111.0 571.7h0M110.4 579.8h0M107.1 573.0h0M112.7 569.8h0M113.0 578.2h0M113.4 579.2h0M104.0 570.0h0M114.5 571.0h0M112.6 582.1h0M108.1 572.1h0M111.8 581.6h0M112.8 574.5h0M105.9 582.2h0M100.8 579.9h0M117.2 572.4h0M107.8 582.0h0M119.2 574.1h0M102.4 570.8h0M106.6 580.1h0M102.5 569.8h0M104.5 571.0h0M109.9 570.5h0M111.5 581.5h0M103.5 570.8h0M111.9 570.9h0M115.2 571.0h0M110.9 575.0h0M106.8 576.3h0M111.6 573.1h0M118.8 571.6h0M102.0 582.3h0M102.2 578.9h0M116.9 575.3h0M103.6 576.1h0M112.9 577.7h0M107.2 579.2h0M118.4 577.2h0M108.6 581.7h0M100.3 571.9h0M109.4 577.5h0M102.9 576.3h0M111.8 576.4h0M109.9 570.6h0M111.1 578.5h0M113.9 575.1h0M118.6 581.4h0M106.9 575.7h0M106.3 578.4h0M112.2 574.7h0M104.5 575.6h0M111.2 575.7h0M112.0 569.9h0M111.4 578.5h0M113.6 570.1h0M107.5 575.1h0M113.9 570.8h0M103.1 575.8h0M106.5 570.1h0M100.7 581.7h0M107.9 581.0h0M108.8 582.2h0M116.0 577.0h0M119.6 580.8h0M106.5 577.5h0M99.0 571.7h0M115.6 581.7h0M100.2 570.2h0M101.0 582.1h0M112.1 570.7h0M106.6 571.9h0M108.9 571.1h0M105.6 579.4h0M112.2 580.1h0M104.0 571.0h0M104.7 573.9h0M113.3 574.8h0M118.2 571.4h0M111.9 569.9h0M113.6 572.1h0M115.3 579.6h0M99.4 577.6h0M112.8 578.4h0M107.2 569.9h0M97.8 576.0h0M110.6 569.9h0M110.7 574.2h0M112.8 570.4h0M115.3 569.8h0M99.2 570.1h0M109.2 577.3h0M108.0 575.7h0M102.1 582.3h0M103.4 576.1h0M110.0 581.2h0M98.3 572.0h0M115.7 573.5h0M114.4 570.0h0M113.9 571.0h0M105.3 569.8h0M104.4 570.7h0M98.8 573.0h0M106.2 571.7h0M110.0 571.7h0M105.7 575.9h0M113.3 570.6h0M110.4 570.2h0M108.7 571.2h0M114.7 569.9h0M104.7 573.6h0M103.3 581.8h0M107.8 579.0h0M112.2 581.8h0M112.5 576.1h0M112.8 581.9h0M107.1 571.5h0M108.8 574.4h0M110.2 572.0h0M110.0 570.7h0M102.2 579.6h0M118.4 570.7h0M105.7 571.2h0M115.2 575.7h0M106.3 582.2h0M111.1 571.5h0M111.1 578.9h0M116.0 576.4h0M106.3 570.5h0M101.5 578.6h0M109.5 575.4h0M105.1 579.5h0M109.4 579.7h0M110.0 570.1h0M102.0 571.5h0M107.9 576.8h0M98.1 571.6h0M110.2 570.4h0M102.5 573.4h0M111.4 571.5h0M107.8 582.4h0M111.7 575.4h0M100.7 573.8h0M102.5 578.5h0M114.8 573.5h0M112.4 582.2h0M102.2 579.7h0M109.0 571.3h0M105.2 569.9h0M108.9 574.2h0M111.8 580.2h0M108.5 575.4h0M113.7 574.3h0M115.0 578.6h0M102.4 577.2h0M106.5 578.8h0M103.0 575.2h0M110.2 581.4h0M101.7 572.9h0M102.6 574.0h0M110.1 571.5h0M112.0 570.5h0M106.7 576.5h0M100.6 570.3h0M103.8 571.1h0M108.5 574.6h0M111.5 580.6h0M104.4 572.3h0M112.5 579.4h0M109.2 579.6h0M110.5 570.3h0M100.7 571.2h0M112.3 579.1h0M112.1 581.0h0M111.3 571.9h0M116.7 572.7h0M113.1 577.6h0M106.6 573.2h0M114.8 569.8h0M114.1 574.0h0M105.0 577.3h0M102.4 575.4h0M116.4 580.8h0M111.4 574.2h0M108.6 570.9h0M110.6 582.0h0M101.2 572.1h0M108.6 575.9h0M102.2 577.3h0M102.9 570.2h0M94.9 572.2h0M107.5 570.1h0M103.9 571.4h0M111.9 578.8h0M105.2 575.8h0M98.0 572.1h0M112.2 578.8h0M110.2 581.9h0M102.3 569.9h0M103.0 572.1h0M107.9 571.2h0M111.4 582.3h0M101.5 582.5h0M114.2 582.1h0M103.0 575.8h0M104.8 580.1h0M109.5 570.2h0M106.1 569.8h0M98.1 581.6h0M114.8 570.7h0M111.0 572.6h0M102.7 574.0h0M107.1 574.2h0M110.9 572.1h0M104.6 570.1h0M108.6 576.5h0M114.1 576.3h0M104.1 575.9h0M109.8 580.0h0M111.2 570.2h0M102.7 582.5h0M108.0 574.7h0M98.5 577.4h0M113.3 574.2h0M113.2 580.9h0M105.1 572.8h0M108.2 580.3h0M110.8 578.3h0M100.8 574.9h0M104.5 574.6h0M104.2 574.6h0M99.0 573.7h0M109.0 576.8h0M104.5 569.9h0M115.6 569.8h0M97.7 572.8h0M101.9 571.5h0M107.3 575.1h0M112.0 580.6h0M110.9 573.1h0M111.2 581.1h0M103.2 579.5h0M111.1 574.0h0M115.1 574.2h0M111.6 580.3h0M104.8 574.7h0M110.6 570.5h0M107.6 571.1h0M107.2 580.9h0M105.2 578.5h0M108.3 570.1h0M104.5 579.1h0M106.1 572.0h0M112.4 572.5h0M111.1 570.1h0M112.6 571.0h0M108.4 582.3h0M112.0 570.0h0M103.6 569.9h0M101.3 575.4h0M107.0 570.3h0M107.6 577.7h0M108.1 577.4h0M107.2 573.8h0M116.5 578.5h0M112.1 570.4h0M103.8 579.5h0M114.7 581.1h0M99.2 570.1h0M106.1 570.3h0M102.5 575.7h0M109.9 571.9h0M103.3 577.0h0M110.4 571.5h0M97.0 580.0h0M105.8 571.9h0M118.3 571.6h0M104.7 571.3h0M97.1 572.0h0M92.9 581.2h0M110.3 569.9h0M103.5 573.6h0M109.1 581.5h0M113.6 569.9h0M103.0 575.3h0M115.9 569.9h0M111.8 573.6h0M111.5 573.6h0M104.6 574.4h0M112.1 581.0h0M111.6 573.1h0M111.1 572.9h0M105.8 576.1h0M106.5 580.6h0M113.1 570.4h0M112.3 569.9h0M112.7 582.3h0M105.5 573.2h0M102.8 571.7h0M98.9 579.5h0M100.2 580.3h0M99.0 572.8h0M114.1 573.6h0M102.3 570.7h0M103.4 570.1h0M104.5 570.9h0M107.4 570.2h0M105.2 570.3h0M105.6 570.4h0M106.1 570.4h0M107.3 571.0h0M106.2 571.0h0M104.8 572.9h0M109.4 578.7h0M110.0 570.5h0M104.0 575.7h0M105.0 570.1h0M109.0 578.6h0M112.1 573.1h0M101.1 571.2h0M111.9 570.5h0M99.7 577.3h0M103.8 581.9h0M105.3 572.2h0M107.1 578.3h0M105.6 580.6h0M121.6 571.2h0M117.6 573.4h0M108.8 570.5h0M114.9 570.4h0M108.8 581.5h0M100.7 579.2h0M109.8 582.4h0M110.3 572.7h0M110.6 580.4h0M106.3 573.1h0M108.3 573.8h0M108.4 575.9h0M103.4 581.4h0M103.9 571.4h0M110.1 580.3h0M112.0 572.5h0M111.3 574.2h0M106.0 577.3h0M104.7 569.9h0M109.3 579.5h0M114.5 573.3h0M108.7 569.8h0M105.3 571.0h0M103.8 570.0h0M109.5 580.6h0M109.5 579.0h0M116.2 570.5h0M108.4 576.8h0M114.2 574.1h0M114.1 570.0h0M108.1 577.1h0M118.1 573.8h0M109.2 572.6h0M101.4 579.3h0M109.0 579.1h0M111.7 576.1h0M107.6 569.9h0M109.0 578.4h0M103.7 572.4h0M116.7 579.1h0M108.8 570.8h0M108.2 569.9h0M105.0 580.4h0M115.3 576.6h0M105.0 570.1h0M117.4 571.2h0M108.3 571.4h0M103.5 570.5h0M113.7 578.6h0M109.4 574.8h0M110.4 574.1h0M105.6 571.4h0M108.6 570.5h0M107.9 572.7h0M104.4 573.6h0M124.1 570.3h0M108.5 574.5h0M102.2 581.5h0M103.3 574.2h0M113.3 582.4h0M106.2 570.8h0M114.2 574.0h0M121.8 575.5h0M113.0 580.2h0M112.8 570.6h0M110.7 581.0h0M102.8 571.9h0M113.5 575.0h0M106.7 572.1h0M111.9 570.0h0M104.7 571.8h0M104.7 581.3h0M112.7 581.6h0M111.1 569.8h0M106.5 575.0h0M117.7 572.3h0M106.9 569.9h0M111.4 576.6h0M110.5 570.7h0M101.7 579.8h0M108.9 574.5h0M107.8 574.3h0M106.0 571.3h0M107.9 571.3h0M104.8 569.8h0M108.7 573.7h0M112.1 575.9h0M113.0 571.7h0M103.2 570.4h0M109.4 582.4h0M111.0 570.0h0M109.1 571.6h0M111.5 580.3h0M106.8 575.9h0M114.3 573.6h0M108.4 572.7h0M121.9 571.5h0M109.9 576.4h0M113.3 575.4h0M109.1 578.2h0M114.2 574.3h0M108.6 577.4h0M107.9 570.1h0M110.6 578.8h0M112.6 581.0h0M111.0 573.3h0M106.4 573.0h0M104.6 573.9h0M110.2 573.7h0M108.0 575.5h0M97.6 570.7h0M107.1 571.5h0M114.4 569.8h0M111.3 576.1h0M100.2 582.1h0M109.0 576.0h0M111.5 577.6h0M108.6 570.4h0M108.8 573.6h0M110.9 571.0h0M118.8 573.2h0M117.5 582.2h0M113.2 574.3h0M103.6 575.9h0M110.3 577.6h0M115.4 573.9h0M105.8 569.8h0M107.4 577.3h0M110.3 575.5h0M117.1 572.6h0M108.8 571.2h0M111.5 575.7h0M111.0 574.8h0M109.8 582.4h0M107.6 571.1h0M109.4 574.3h0M102.0 569.9h0M109.8 577.1h0M113.7 581.3h0M105.3 573.4h0M101.0 573.7h0M109.4 580.6h0M109.2 570.7h0M112.6 570.7h0M109.8 574.0h0M113.4 571.6h0M106.4 573.8h0M111.8 579.8h0M109.7 576.1h0M103.3 575.1h0M103.7 579.0h0M107.3 570.6h0M112.8 570.5h0M101.4 571.1h0M108.0 574.2h0M108.2 578.7h0M109.8 572.3h0M104.4 579.8h0M104.5 572.5h0M109.5 578.2h0M111.6 575.1h0M112.0 580.0h0M114.4 573.8h0M109.1 570.0h0M112.2 571.2h0M108.0 577.2h0M108.8 575.3h0M102.7 582.4h0M106.9 579.4h0M119.7 576.7h0M102.0 579.4h0M105.1 576.6h0M110.7 580.2h0M106.7 581.7h0M108.6 571.1h0M110.8 572.3h0M114.9 570.1h0M110.1 570.4h0M108.2 580.1h0M105.5 571.8h0M111.7 573.2h0M115.1 573.5h0M98.8 572.7h0M116.8 570.4h0M104.8 579.6h0M103.0 570.0h0M107.9 579.9h0M105.4 572.3h0M112.0 573.4h0M99.2 570.2h0M102.3 571.5h0M112.3 571.1h0M104.3 571.0h0M101.5 570.6h0M113.5 577.8h0M111.7 575.6h0M112.9 573.8h0M106.4 575.1h0M109.4 573.2h0M100.3 574.6h0M119.1 570.0h0M111.3 576.6h0M103.6 574.9h0M105.1 575.4h0M104.5 582.3h0M99.9 578.6h0M114.1 577.9h0M110.7 569.8h0M109.8 581.5h0M113.0 573.8h0M117.6 581.8h0M105.3 580.7h0M117.4 573.0h0M115.2 582.3h0M104.3 572.7h0M104.4 570.4h0M104.6 575.5h0M105.6 579.1h0M91.7 571.0h0M102.3 571.0h0M106.8 574.9h0M114.4 575.4h0M111.5 570.0h0M113.0 573.0h0M106.2 574.3h0M103.4 569.8h0M114.7 573.9h0M116.8 570.0h0M111.5 571.5h0M104.6 571.9h0M101.1 581.9h0M100.8 581.8h0M106.3 572.2h0M101.7 579.9h0M117.8 574.5h0M106.1 576.2h0M117.3 571.8h0M116.5 576.8h0M109.2 574.8h0M106.2 574.0h0M106.5 572.6h0M102.0 571.4h0M110.0 569.8h0M107.7 577.7h0M114.0 581.5h0M109.1 573.6h0M109.1 569.9h0M106.1 571.8h0M105.2 576.7h0M105.5 574.1h0M107.7 581.5h0M114.1 573.9h0M117.9 570.2h0M114.4 580.5h0M114.0 569.8h0M113.6 570.0h0M110.1 582.0h0M105.3 576.0h0M106.9 578.8h0M107.3 570.6h0M103.4 574.6h0M105.3 570.4h0M108.3 575.6h0M111.5 576.9h0M108.3 578.4h0M114.6 572.0h0M102.2 570.1h0M116.9 570.0h0M108.4 569.9h0M112.7 572.3h0M101.7 570.1h0M102.8 576.1h0M104.2 569.8h0M110.4 574.0h0M107.0 573.3h0M108.1 580.5h0M113.1 582.1h0M113.5 582.2h0M108.8 571.1h0M115.5 582.1h0M106.7 570.8h0M108.7 581.5h0M109.0 570.0h0M104.6 570.1h0M108.9 571.6h0M105.9 579.9h0M109.3 571.1h0M103.4 571.7h0M118.4 576.5h0M106.0 573.3h0M115.6 570.0h0M106.6 577.4h0M93.7 570.0h0M108.6 579.1h0M110.8 570.4h0M109.2 571.3h0M109.1 580.3h0M105.3 572.3h0M111.8 578.9h0M105.6 570.2h0M100.8 575.0h0M102.9 575.9h0M102.5 575.9h0M103.5 578.1h0M109.9 574.2h0M110.0 573.6h0M107.5 574.8h0M109.8 580.4h0M106.7 573.3h0M111.3 580.3h0M101.1 571.6h0M113.1 576.6h0M108.3 573.3h0M104.9 570.0h0M109.8 569.9h0M105.6 574.8h0M110.6 574.0h0M113.9 580.8h0M105.2 576.2h0M104.2 570.9h0M108.0 574.2h0M110.9 570.5h0M112.1 577.4h0M100.3 577.9h0M109.0 579.1h0M102.1 576.1h0M104.1 570.4h0M105.4 582.2h0M116.9 572.7h0M103.4 578.3h0M106.2 576.6h0M108.9 573.7h0M112.2 572.0h0M104.6 574.5h0M102.8 571.1h0M101.9 573.5h0M110.1 570.9h0M109.4 571.3h0M107.1 571.6h0M120.4 573.7h0M112.4 570.2h0M110.7 576.0h0M109.3 581.8h0M114.3 572.5h0M106.9 572.1h0M114.5 569.8h0M111.5 572.3h0M100.6 576.1h0M98.7 579.8h0M112.6 574.5h0M116.5 573.3h0M107.8 577.6h0M102.2 577.3h0M110.2 572.6h0M114.7 578.2h0M107.7 571.9h0M108.7 575.9h0M102.2 576.8h0M105.8 580.4h0M113.3 574.3h0M115.8 580.1h0M111.6 581.4h0M112.6 577.9h0M109.7 574.5h0M101.4 575.3h0M100.2 572.0h0M108.7 577.4h0M103.5 576.1h0M99.1 572.3h0M114.9 575.9h0M105.3 580.9h0M117.1 571.8h0M106.5 578.0h0M101.8 575.5h0M104.9 570.0h0M113.0 570.2h0M98.0 571.0h0M108.5 569.8h0M109.0 576.7h0M108.2 574.8h0M108.8 569.9h0M106.7 570.4h0M106.6 576.0h0M108.0 576.5h0M104.5 573.8h0M114.3 576.3h0M113.5 570.3h0M107.3 578.5h0M114.9 575.4h0M106.3 578.5h0M102.7 577.4h0M110.9 574.6h0M114.5 573.1h0M106.7 569.8h0M106.5 574.5h0M107.3 581.9h0M105.0 575.2h0M108.3 574.3h0M106.1 573.2h0M106.7 575.1h0M108.9 576.2h0M111.7 579.0h0M107.0 575.6h0M106.4 581.0h0M111.5 580.7h0M109.5 580.2h0M111.4 576.3h0M113.3 572.9h0M108.0 572.0h0M110.7 569.8h0M100.1 574.4h0M101.1 576.7h0M109.0 579.7h0M114.6 573.6h0M100.5 569.9h0M104.1 570.3h0M109.1 572.5h0M99.7 572.1h0M97.9 571.2h0M111.1 569.9h0M125.9 569.9h0M100.0 579.5h0M107.4 578.2h0M111.5 574.9h0M111.1 580.9h0M106.3 577.0h0M111.1 576.2h0M114.5 580.9h0M107.6 575.2h0M107.7 570.3h0M117.2 581.5h0M105.8 570.2h0M106.2 574.6h0M108.5 571.1h0M111.4 575.6h0M112.9 574.4h0M110.9 574.5h0M109.7 572.3h0M97.3 572.9h0M113.2 579.2h0M102.0 573.4h0M115.1 580.7h0M109.8 575.6h0M108.2 573.5h0M115.4 573.8h0M108.1 578.0h0M104.3 572.6h0M110.0 569.9h0M108.4 576.9h0M114.7 574.7h0M115.2 578.3h0M106.6 571.4h0M107.7 575.3h0M107.8 572.0h0M111.7 570.6h0M106.9 570.2h0M111.3 576.3h0M107.6 571.7h0M106.9 574.9h0M102.8 578.6h0M109.6 569.9h0M107.1 578.6h0M105.2 572.9h0M106.9 571.6h0M110.3 570.2h0M111.5 581.4h0M95.9 582.2h0M110.9 573.7h0M104.8 577.6h0M103.5 571.8h0M104.1 576.6h0M120.5 573.2h0M104.1 581.0h0M106.1 577.6h0M97.5 575.3h0M106.0 578.5h0M108.4 578.9h0M102.9 571.0h0M113.2 571.3h0M104.8 579.9h0M98.6 571.1h0M108.7 573.8h0M104.9 577.3h0M106.2 571.9h0M109.9 575.0h0M117.3 579.9h0M105.5 575.9h0M105.6 570.0h0M116.3 579.2h0M104.9 579.8h0M119.7 570.8h0M106.3 577.0h0M104.8 573.3h0M102.9 578.1h0M104.2 581.6h0M108.9 581.1h0M115.8 569.9h0M115.0 577.9h0M97.0 577.8h0M104.5 570.2h0M108.7 575.2h0M116.3 579.3h0M110.1 577.9h0M104.7 571.9h0M101.2 577.0h0M115.8 571.3h0M102.4 574.9h0M106.5 571.8h0M107.5 577.2h0M115.9 569.8h0M104.5 570.1h0M105.5 575.6h0M99.8 569.8h0M109.9 575.0h0M109.6 574.2h0M113.6 569.9h0M110.0 574.2h0M115.9 571.9h0M107.6 580.6h0M112.8 570.3h0M112.1 574.6h0M111.3 578.8h0M113.3 577.7h0M99.1 574.3h0M106.1 570.1h0M111.7 571.6h0M105.9 573.3h0M111.7 570.0h0M95.9 581.6h0M102.2 575.2h0M110.8 569.8h0M116.6 577.5h0M107.7 572.6h0M111.6 576.4h0M110.5 570.7h0M122.1 571.7h0M105.0 576.0h0M100.1 579.2h0M108.0 581.4h0M113.9 581.8h0M107.8 577.9h0M108.9 570.4h0M110.9 575.2h0M113.4 575.4h0M102.2 572.1h0M105.1 570.3h0M102.5 572.8h0M109.2 576.6h0M104.4 575.9h0M111.6 569.8h0M106.5 570.0h0M116.0 570.0h0M110.5 579.6h0M113.8 578.5h0M104.9 570.9h0M102.4 570.1h0M103.3 573.7h0M111.6 576.5h0M103.9 570.8h0M109.5 571.3h0M109.1 579.7h0M108.7 571.6h0M109.2 571.9h0M105.1 577.4h0M113.4 576.4h0M109.9 573.0h0M100.1 575.0h0M111.3 577.6h0M111.6 572.3h0M110.5 574.9h0M106.8 570.1h0M106.6 573.0h0M102.9 572.3h0M109.0 578.1h0M102.4 575.0h0M103.7 570.8h0M99.6 575.9h0M100.8 570.4h0M103.0 576.3h0M114.3 576.4h0M108.4 572.8h0M112.6 576.2h0M98.6 570.1h0M107.7 581.5h0M107.3 570.4h0M113.4 574.2h0M113.0 578.2h0M104.1 574.4h0M116.0 581.4h0M99.9 570.2h0M111.8 569.9h0M108.4 569.8h0M106.4 576.6h0M101.9 575.7h0M99.3 581.3h0M107.2 581.1h0M113.2 573.3h0M105.1 574.0h0M110.2 576.1h0M112.8 580.0h0M100.5 582.0h0M105.4 577.4h0M108.1 571.5h0M102.4 577.5h0M110.9 575.9h0M112.7 570.9h0M111.9 571.5h0M108.8 572.0h0M105.1 570.7h0M111.4 570.2h0M106.1 574.5h0M109.8 570.6h0M111.7 575.7h0M98.9 581.5h0M106.0 580.2h0M101.2 576.8h0M108.1 574.1h0M114.5 574.3h0M116.5 570.0h0M110.0 575.9h0M108.3 576.5h0M114.0 571.9h0M102.4 582.2h0M105.1 574.6h0M97.8 577.9h0M103.0 580.9h0M103.8 572.5h0M110.8 570.0h0M103.6 573.1h0M110.4 573.5h0M101.2 571.1h0M105.1 577.6h0M114.5 573.8h0M104.6 571.6h0M107.5 570.1h0M108.0 575.0h0M106.4 574.2h0M104.6 570.3h0M113.0 577.5h0M115.7 581.9h0M114.9 581.5h0M102.2 570.6h0M107.8 570.9h0M108.5 570.1h0M105.8 569.8h0M106.4 582.5h0M112.4 571.4h0M104.3 572.7h0M107.0 571.3h0M107.9 570.7h0M105.5 578.5h0M105.9 572.1h0M109.1 574.5h0M106.4 570.1h0M111.1 571.4h0M105.5 572.5h0M112.3 576.5h0M113.6 574.2h0M104.7 570.8h0M109.4 577.7h0M111.3 572.8h0M103.2 571.8h0M102.1 577.6h0M103.2 579.1h0M105.2 576.1h0M103.7 569.9h0M104.8 570.6h0M99.5 573.0h0M111.1 578.2h0M101.1 571.4h0M107.3 569.8h0M104.2 571.7h0M106.5 576.9h0M107.4 569.8h0M112.9 569.8h0M103.3 573.0h0M105.1 571.1h0M111.2 575.5h0M106.3 574.7h0M106.5 574.5h0M114.3 572.4h0M104.1 572.4h0M109.5 570.4h0M102.0 578.6h0M99.3 579.2h0M95.7 579.0h0M102.4 569.8h0M111.6 575.6h0M109.1 577.8h0M108.5 571.4h0M109.9 572.5h0M110.7 573.1h0M118.6 578.7h0M99.7 579.6h0M109.2 582.4h0M103.6 571.3h0M106.5 571.9h0M111.3 575.0h0M103.5 569.8h0M110.7 571.2h0M109.6 577.1h0M103.3 576.6h0M112.7 570.7h0M107.2 572.2h0M102.0 581.7h0M111.6 575.5h0M111.9 577.6h0M111.7 574.9h0M108.8 581.1h0M107.5 581.0h0M101.6 580.4h0M107.2 571.9h0M110.2 571.1h0M104.3 574.1h0M109.0 580.5h0M106.0 579.7h0M111.8 573.0h0M108.6 579.1h0M109.3 571.3h0M112.8 582.0h0M115.5 571.7h0M101.7 569.8h0M109.0 575.2h0M109.7 571.2h0M113.8 572.5h0M101.0 569.9h0M109.9 571.9h0M111.6 577.1h0M110.9 573.7h0M110.1 570.4h0M109.6 572.5h0M117.1 579.1h0M107.3 578.3h0M103.8 570.6h0M96.2 573.8h0M114.1 570.3h0M111.8 570.7h0M117.6 571.5h0M104.6 575.7h0M105.8 580.3h0M107.5 569.8h0M102.6 569.8h0M105.7 576.8h0M115.1 578.9h0M106.2 581.0h0M106.4 571.3h0M102.7 569.9h0M111.2 569.8h0M116.5 572.6h0M117.8 571.1h0M111.2 571.8h0M117.6 571.0h0M96.9 570.8h0M110.2 578.9h0M112.6 570.5h0M99.5 570.6h0M112.7 572.8h0M108.0 570.8h0M110.9 572.1h0M112.6 582.2h0M103.2 569.8h0M109.9 570.2h0M104.6 569.9h0M115.7 579.0h0M109.3 571.5h0M107.3 571.8h0M114.3 572.3h0M119.2 579.1h0M114.3 573.2h0M106.1 569.8h0M103.2 573.1h0M111.8 570.0h0M104.4 576.1h0M103.2 572.7h0M115.0 572.6h0M99.1 575.2h0M102.6 570.7h0M110.7 579.1h0M108.0 578.7h0M116.1 572.7h0M118.0 574.5h0M103.3 571.1h0M118.3 580.0h0M104.7 574.7h0M109.8 577.6h0M102.4 580.4h0M112.9 570.3h0M114.3 569.8h0M111.8 578.5h0M107.0 575.5h0M110.1 574.4h0M107.7 576.2h0M101.2 570.0h0M114.6 580.2h0M109.2 577.6h0M115.2 577.0h0M104.9 575.7h0M105.9 570.0h0M114.0 572.8h0M106.9 579.6h0M106.3 575.5h0M114.1 571.5h0M107.4 572.2h0M105.9 575.3h0M105.1 574.7h0M107.7 579.1h0M110.9 571.7h0M116.5 576.2h0M105.7 573.7h0M106.7 570.0h0M116.3 582.1h0M98.6 571.8h0M103.7 570.0h0M110.4 576.9h0M112.7 572.5h0M111.6 576.0h0M106.7 572.2h0M104.9 571.3h0M104.0 576.8h0M112.5 577.9h0M111.7 574.2h0M102.0 574.1h0M111.3 571.7h0M105.9 581.2h0M112.3 578.8h0M105.7 571.9h0M113.8 578.9h0M105.0 570.8h0M112.8 572.2h0M104.5 571.2h0M107.5 578.8h0M99.0 575.0h0M109.8 569.8h0M111.5 580.4h0M103.4 573.6h0M105.3 578.1h0M99.0 573.0h0M112.1 574.5h0M111.5 575.2h0M116.3 573.4h0M110.0 572.9h0M116.9 576.9h0M105.1 579.4h0M118.0 572.1h0M114.0 569.8h0M110.0 570.5h0M109.2 571.8h0M105.9 573.3h0M110.8 571.1h0M102.3 570.2h0M106.3 570.0h0M111.1 570.1h0M109.0 572.8h0M106.9 569.9h0M99.3 571.5h0M111.1 575.5h0M103.8 570.2h0M103.9 579.4h0M106.1 573.9h0M102.4 578.8h0M109.8 571.5h0M112.3 581.4h0M105.6 575.0h0M106.3 581.9h0M111.2 582.3h0M111.6 579.1h0M112.7 570.0h0M111.0 576.3h0M101.6 582.1h0M100.5 570.1h0M102.6 569.9h0M102.9 574.9h0M109.3 577.0h0M104.9 571.4h0M108.4 569.9h0M104.8 574.4h0M116.0 574.0h0M111.0 572.4h0M109.5 569.9h0M108.2 572.6h0M103.2 576.5h0M110.4 575.2h0M103.3 570.4h0M108.8 571.9h0M103.4 576.6h0M108.1 579.5h0M101.6 580.7h0M112.8 575.2h0M106.1 570.1h0M107.7 574.7h0M108.4 576.7h0M115.6 570.9h0M106.2 570.4h0M113.5 573.2h0M110.7 574.3h0M100.5 573.9h0M108.1 569.8h0M111.2 574.1h0M98.9 573.5h0M102.2 572.3h0M105.7 572.9h0M116.4 574.1h0M113.4 581.1h0M120.6 575.8h0M105.1 578.2h0M111.3 580.6h0M105.1 575.3h0M110.7 574.6h0M105.4 570.1h0M110.0 573.6h0M104.4 576.8h0M102.0 579.1h0M105.9 580.3h0M107.7 578.6h0M107.4 574.8h0M103.5 581.9h0M109.2 573.4h0M103.2 569.8h0M113.1 570.0h0M109.7 582.3h0M113.2 572.6h0M109.6 570.3h0M114.2 573.7h0M111.0 578.3h0M116.0 571.5h0M107.3 571.8h0M98.9 570.0h0M110.5 580.3h0M112.6 569.8h0M111.4 572.2h0M111.8 574.6h0M105.5 574.0h0M101.0 571.4h0M111.2 571.6h0M104.3 571.2h0M105.9 579.0h0M107.7 570.1h0M110.7 570.1h0M105.5 580.7h0M105.2 577.6h0M111.8 578.9h0M116.7 579.1h0M112.6 571.6h0M114.2 580.6h0M104.9 570.7h0M101.3 575.3h0M111.3 581.3h0M106.4 570.4h0M110.0 580.3h0M109.9 577.8h0M110.8 572.0h0M109.8 570.3h0M106.4 569.8h0M116.2 571.5h0M110.9 574.5h0M108.2 571.0h0M110.1 571.1h0M111.5 580.6h0M106.1 570.7h0M108.6 575.6h0M109.3 569.8h0M109.2 575.8h0M106.2 573.3h0M112.6 576.5h0M116.0 572.3h0M117.5 579.3h0M100.2 579.1h0M112.5 576.9h0M112.1 580.4h0M111.2 576.1h0M103.8 569.9h0M115.0 569.9h0M116.7 570.6h0M104.7 571.1h0M105.0 574.5h0M106.2 577.5h0M111.1 571.9h0M103.3 577.9h0M109.5 572.7h0M102.3 572.8h0M113.9 572.5h0M108.0 570.5h0M103.6 579.6h0M109.2 581.3h0M113.2 575.0h0M103.9 578.4h0M116.4 570.0h0M105.9 581.6h0M113.0 580.5h0M101.2 581.0h0M111.8 569.9h0M106.3 574.7h0M103.6 572.0h0M100.7 580.5h0M106.9 578.0h0M115.8 574.4h0M107.5 579.3h0M114.4 582.1h0M118.3 572.4h0M108.9 578.1h0M114.2 579.7h0M106.9 573.1h0M101.2 580.3h0M107.0 576.3h0M104.1 573.3h0M98.3 570.8h0M112.0 582.4h0M104.4 579.1h0" stroke="#bebebe" stroke-width="1.7" stroke-linecap="round" fill="none"/><path d="M76.9 473.0h0M63.1 499.4h0M65.5 512.1h0M69.6 523.8h0M73.6 478.8h0M71.2 486.7h0M84.3 524.0h0M99.8 552.6h0M89.6 555.7h0M95.7 543.5h0M85.1 491.2h0M81.2 511.4h0M95.9 550.8h0M96.9 568.8h0M83.7 505.0h0M96.1 510.4h0M97.4 549.3h0M91.8 495.3h0M90.9 534.3h0M97.3 569.2h0M93.2 544.8h0M95.3 512.1h0M88.4 548.2h0M89.6 541.2h0M89.4 548.8h0M91.7 550.0h0M96.7 557.6h0M90.7 546.6h0M91.4 497.8h0M97.3 523.6h0M81.6 522.0h0M88.1 507.7h0M90.4 490.5h0M100.3 557.6h0M89.0 527.5h0M71.8 489.8h0M100.2 514.3h0M99.8 569.5h0M87.4 549.2h0M75.4 524.1h0M94.2 527.3h0M97.6 501.1h0M94.7 550.0h0M99.9 505.3h0M97.5 493.1h0M93.2 558.1h0M93.5 514.2h0M83.4 503.1h0M97.5 565.6h0M97.1 541.8h0M91.9 559.8h0M98.6 539.8h0M96.0 518.7h0M86.8 534.0h0M99.4 521.6h0M94.3 531.5h0M94.1 476.8h0M86.3 511.5h0M97.8 526.6h0M99.5 523.7h0M93.8 541.9h0M98.1 510.0h0M86.4 527.9h0M94.6 566.8h0M89.4 531.7h0M79.9 518.0h0M99.8 542.6h0M99.8 542.8h0M95.5 562.9h0M100.0 528.3h0M87.8 506.2h0M98.1 556.6h0M97.6 548.2h0M99.7 530.8h0M92.0 561.6h0M99.3 513.6h0M90.7 551.1h0M96.9 512.2h0M96.6 541.2h0M88.8 550.9h0M98.6 569.2h0M96.6 534.8h0M98.3 554.9h0M96.2 547.1h0M87.2 497.8h0M100.2 560.9h0M87.9 508.6h0M83.4 510.3h0M97.9 565.5h0M80.1 516.2h0M97.7 515.8h0M95.7 551.7h0M99.2 533.2h0M83.0 492.9h0M98.9 522.0h0M97.5 516.4h0M95.2 565.1h0M91.1 546.4h0M86.5 554.9h0M90.3 525.1h0M91.8 541.5h0M80.4 517.8h0M90.6 505.1h0M96.7 505.6h0M93.0 507.8h0M91.4 532.1h0M92.0 543.1h0M85.6 494.9h0M92.5 536.9h0M96.6 525.8h0M88.1 544.9h0M92.6 557.1h0M91.2 553.9h0M97.4 543.9h0M92.8 507.6h0M97.4 554.2h0M94.7 538.5h0M94.8 542.4h0M100.3 512.3h0M86.5 495.3h0M95.2 536.5h0M85.3 505.5h0M94.5 541.1h0M96.2 568.5h0M88.7 527.2h0M87.5 505.8h0M85.1 542.4h0M95.3 549.6h0M94.9 549.6h0M84.4 526.0h0M86.9 547.3h0M95.9 567.7h0M97.2 529.1h0M99.5 554.2h0M91.1 533.3h0M96.5 557.5h0M86.9 493.3h0M89.4 530.2h0M93.3 543.5h0M77.2 507.8h0M98.2 531.7h0M84.5 489.8h0M100.2 538.5h0M99.6 556.1h0M92.7 549.9h0M97.5 536.5h0M81.2 498.3h0M82.0 523.7h0M94.1 548.7h0M83.5 503.6h0M89.9 554.9h0M85.6 522.9h0M98.9 568.0h0M94.8 561.2h0M93.1 526.0h0M92.6 566.8h0M100.3 553.4h0M93.6 556.7h0M99.0 523.8h0M93.3 551.7h0M72.6 491.9h0M92.6 549.6h0M82.7 528.8h0M94.7 555.4h0M93.7 539.9h0M85.6 500.6h0M93.4 553.7h0M95.4 555.2h0M96.3 558.1h0M82.0 530.2h0M92.6 519.9h0M86.0 509.3h0M75.9 497.5h0M97.4 536.4h0M91.4 555.6h0M90.1 557.9h0M96.2 553.7h0M96.0 544.2h0M99.3 569.7h0M95.3 566.4h0M92.8 562.3h0M94.4 547.8h0M83.0 530.9h0M91.7 554.6h0M80.1 511.7h0M93.7 533.6h0M100.3 543.0h0M86.4 493.7h0M90.4 503.8h0M99.1 548.3h0M99.8 543.8h0M85.1 500.0h0M87.9 547.3h0M96.5 518.0h0M97.7 536.1h0M93.9 490.7h0M97.7 550.6h0M95.5 526.7h0M90.9 549.7h0M100.3 511.2h0M92.7 561.4h0M99.3 555.8h0M85.3 527.3h0M99.9 548.3h0M89.5 525.5h0M95.9 552.2h0M82.5 521.1h0M96.2 528.3h0M96.1 559.2h0M98.6 544.6h0M99.6 523.7h0M93.0 528.1h0M99.7 506.8h0M97.4 519.4h0M83.3 547.7h0M81.3 506.0h0M100.2 566.9h0M87.8 524.9h0M94.0 533.9h0M78.2 499.5h0M97.6 533.8h0M96.9 490.7h0M98.0 569.3h0M96.3 558.1h0M94.1 557.6h0M97.6 493.2h0M95.9 563.4h0M90.2 524.4h0M96.1 510.1h0M91.1 494.8h0M94.6 517.9h0M88.0 541.8h0M92.6 566.5h0M83.3 508.7h0M93.5 534.9h0M82.0 501.1h0M97.3 518.0h0M89.8 529.0h0M97.4 514.8h0M98.0 561.5h0M79.4 526.7h0M97.7 546.3h0M99.1 511.4h0M87.5 523.4h0M91.2 518.6h0M99.6 548.0h0M92.4 525.1h0M82.9 523.3h0M100.2 563.9h0M94.9 560.5h0M98.0 560.0h0M93.1 557.2h0M95.3 497.7h0M93.2 521.9h0M82.8 480.6h0M92.7 569.2h0M96.3 549.9h0M92.4 565.6h0M98.6 554.5h0M84.4 533.1h0M90.5 549.4h0M89.9 520.7h0M84.6 518.8h0M97.7 510.4h0M87.0 500.1h0M94.2 540.6h0M97.7 558.9h0M97.6 547.8h0M82.4 527.5h0M96.8 535.0h0M91.2 480.4h0M84.5 528.8h0M98.5 534.6h0M98.9 527.5h0M90.6 551.6h0M90.3 535.4h0M94.1 559.1h0M99.2 555.9h0M100.2 566.4h0M96.4 553.0h0M91.8 504.6h0M87.4 555.9h0M83.5 493.5h0M81.7 542.9h0M95.5 552.1h0M70.6 500.6h0M99.0 535.2h0M99.1 560.8h0M94.2 540.7h0M89.6 525.0h0M93.8 549.0h0M99.9 562.6h0M96.0 493.5h0M99.8 547.3h0M86.0 520.3h0M99.8 546.7h0M98.5 569.6h0M97.1 549.7h0M98.7 528.6h0M99.7 527.8h0M97.3 504.8h0M91.3 559.3h0M98.8 558.8h0M73.0 485.3h0M96.0 484.6h0M100.2 514.6h0M98.2 540.9h0M92.5 537.7h0M90.0 519.5h0M98.6 560.3h0M99.2 494.8h0M99.2 513.2h0M83.2 501.7h0M99.3 513.7h0M88.6 549.9h0M99.3 539.7h0M95.4 547.3h0M98.6 523.7h0M99.2 562.1h0M85.4 501.1h0M99.6 553.3h0M93.8 504.8h0M88.1 536.4h0M87.8 498.3h0M98.7 510.6h0M70.1 511.0h0M79.9 495.0h0M89.9 546.6h0M97.4 507.9h0M85.9 492.4h0M92.4 476.7h0M84.5 540.7h0M93.1 556.1h0M93.5 563.6h0M96.8 568.1h0M95.3 565.8h0M92.2 544.7h0M95.6 498.1h0M84.6 555.3h0M79.5 497.1h0M96.6 519.9h0M93.5 569.0h0M84.4 540.5h0M75.3 489.6h0M89.2 526.8h0M98.6 544.4h0M89.0 552.1h0M93.3 557.1h0M91.3 537.2h0M87.9 550.5h0M84.4 515.4h0M97.1 558.7h0M88.7 517.8h0M94.2 507.4h0M99.1 512.9h0M98.0 541.9h0M87.2 538.1h0M98.1 509.3h0M99.9 523.0h0M96.1 528.4h0M81.5 546.6h0M82.2 528.4h0M98.4 532.0h0M86.3 507.2h0M99.1 527.3h0M83.0 504.4h0M89.4 552.1h0M80.5 487.1h0M92.2 487.1h0M90.6 529.8h0M98.8 563.1h0M97.8 538.0h0M85.2 517.1h0M99.5 529.1h0M98.1 532.6h0M96.0 546.8h0M92.1 558.9h0M87.8 505.9h0M100.0 557.5h0M91.4 552.8h0M83.5 490.9h0M99.7 546.0h0M97.5 568.3h0M92.3 527.1h0M99.6 522.2h0M94.7 549.9h0M97.3 559.7h0M82.7 531.1h0M97.0 560.5h0M92.1 538.4h0M95.4 568.2h0M99.4 569.6h0M100.0 569.6h0M94.0 504.9h0M93.5 564.2h0M93.7 567.7h0M92.6 495.2h0M86.7 500.8h0M88.7 520.8h0M88.3 548.7h0M93.2 537.4h0M75.5 517.1h0M92.4 507.2h0M93.8 524.2h0M85.1 510.8h0M82.5 513.6h0M96.2 556.0h0M87.8 543.8h0M78.2 493.4h0M88.6 542.2h0M80.8 535.8h0M95.2 521.1h0M95.9 557.0h0M99.2 554.8h0M98.5 560.0h0M93.5 523.0h0M90.6 549.6h0M90.2 550.8h0M88.6 554.8h0M98.4 510.7h0M88.0 536.3h0M95.7 564.5h0M96.1 537.1h0M92.6 549.3h0M99.4 545.9h0M99.1 555.4h0M95.9 524.6h0M98.7 560.3h0M85.5 522.6h0M99.4 530.7h0M90.9 531.5h0M81.4 513.7h0M87.1 511.2h0M99.5 556.0h0M83.0 506.8h0M92.8 561.8h0M80.4 502.1h0M100.1 565.6h0M82.6 504.6h0M93.8 554.4h0M97.9 528.0h0M89.1 536.5h0M100.2 525.0h0M100.1 513.4h0M98.0 537.8h0M73.1 494.4h0M90.4 560.0h0M96.1 488.7h0M96.6 505.0h0M96.7 492.7h0M97.2 566.3h0M98.3 567.7h0M94.8 568.1h0M95.4 488.1h0M97.2 560.6h0M95.2 524.0h0M88.5 505.9h0M99.3 555.0h0M78.7 521.4h0M100.1 544.2h0M99.5 560.1h0M95.6 567.0h0M78.2 484.0h0M100.2 527.3h0M85.8 532.7h0M89.4 556.6h0M90.4 488.3h0M94.2 547.0h0M91.3 550.5h0M99.0 540.3h0M97.7 524.0h0M97.5 516.9h0M84.7 511.0h0M99.3 538.7h0M95.1 555.6h0M83.2 523.3h0M96.3 520.2h0M96.5 542.7h0M89.8 501.3h0M98.4 535.3h0M91.6 557.0h0M95.7 563.4h0M84.8 521.6h0M83.2 526.9h0M93.2 552.5h0M83.6 511.2h0M93.4 549.8h0M99.0 527.5h0M87.1 524.6h0M91.1 511.8h0M93.4 547.9h0M97.4 512.1h0M98.7 545.4h0M99.3 563.5h0M77.8 504.5h0M98.4 553.6h0M91.7 540.0h0M97.6 506.2h0M81.1 538.5h0M87.8 498.1h0M93.9 503.2h0M87.8 539.2h0M94.4 567.5h0M95.6 555.8h0M97.4 564.4h0M96.8 512.0h0M95.9 491.9h0M95.9 525.1h0M79.2 510.0h0M90.1 550.1h0M95.3 569.1h0M78.0 486.7h0M90.4 501.0h0M97.4 514.1h0M79.7 518.6h0M86.9 516.8h0M99.1 526.2h0M96.0 534.3h0M90.5 562.8h0M99.4 544.0h0M87.5 532.5h0M96.5 521.6h0M98.1 553.8h0M85.9 487.6h0M97.1 568.6h0M84.8 512.3h0M99.2 507.0h0M77.1 506.5h0M96.2 554.7h0M84.3 536.9h0M98.0 525.0h0M83.7 532.6h0M98.2 510.9h0M91.7 538.0h0M99.3 562.8h0M84.3 519.9h0M99.0 565.7h0M96.0 527.7h0M97.9 546.9h0M92.3 526.6h0M96.3 555.5h0M91.4 523.8h0M94.5 566.5h0M99.9 550.9h0M100.2 552.7h0M95.6 558.2h0M97.1 555.2h0M83.8 518.3h0M96.9 515.7h0M80.3 511.9h0M94.8 551.1h0M93.8 517.6h0M92.8 544.1h0M83.8 530.0h0M98.0 568.0h0M89.4 524.6h0M96.5 567.1h0M99.8 529.9h0M74.2 521.7h0M84.8 515.7h0M95.9 556.0h0M97.9 566.2h0M79.5 532.8h0M96.1 551.8h0M99.9 536.1h0M93.4 535.5h0M97.2 530.6h0M96.2 554.3h0M87.4 506.2h0M95.4 542.7h0M86.8 536.6h0M98.8 566.0h0M95.2 566.3h0M79.1 503.9h0M99.1 561.4h0M98.6 568.5h0M99.1 508.4h0M80.5 515.5h0M89.4 510.8h0M93.1 540.9h0M99.8 556.2h0M99.8 542.9h0M97.7 550.3h0M78.8 500.2h0M93.6 515.1h0M89.0 542.0h0M98.2 539.3h0M86.1 510.9h0M97.0 568.1h0M86.4 543.9h0M97.8 536.3h0M82.6 496.8h0M96.5 537.7h0M96.6 535.5h0M88.8 539.3h0M95.5 568.0h0M83.4 503.6h0M91.4 537.8h0M91.6 507.6h0M99.9 547.0h0M95.3 500.1h0M92.7 564.1h0M99.4 527.4h0M95.4 525.3h0M82.0 514.5h0M89.4 532.1h0M86.6 509.8h0M99.8 560.7h0M96.6 568.9h0M81.4 517.9h0M80.6 544.7h0M93.8 558.0h0M100.2 557.7h0M96.3 507.8h0M95.2 541.7h0M95.8 509.2h0M86.4 543.7h0M89.9 539.8h0M78.6 510.0h0M76.6 508.1h0M89.0 532.2h0M100.3 553.0h0M96.2 536.9h0M99.5 563.6h0M87.0 508.7h0M100.2 526.5h0M97.5 542.6h0M89.5 545.6h0M88.3 497.7h0M87.0 553.6h0M91.0 534.4h0M84.4 484.7h0M95.9 548.7h0M95.8 494.9h0M97.7 567.3h0M99.3 551.5h0M95.1 564.8h0M91.4 536.0h0M91.3 509.2h0M90.0 544.1h0M80.7 504.3h0M80.9 502.6h0M99.5 560.6h0M93.2 506.1h0M91.4 560.6h0M91.7 519.5h0M81.4 511.6h0M95.2 557.6h0M76.0 502.8h0M98.1 564.7h0M96.0 548.8h0M87.8 550.7h0M99.9 563.8h0M99.6 563.3h0M98.1 544.5h0M98.9 560.7h0M84.3 530.7h0M96.4 534.7h0M91.7 550.8h0M93.1 560.6h0M97.9 516.0h0M82.2 515.6h0M78.9 506.9h0M82.4 500.2h0M94.2 559.2h0M94.0 517.8h0M98.7 511.7h0M91.8 551.3h0M95.6 561.1h0M98.5 559.6h0M93.7 546.2h0M98.0 492.3h0M94.7 567.6h0M99.4 511.1h0M100.0 563.6h0M96.3 541.8h0M99.2 510.6h0M96.5 562.1h0M89.9 550.8h0M84.4 546.1h0M90.8 514.1h0M86.2 536.7h0M99.4 564.1h0M99.5 565.5h0M98.6 568.8h0M97.8 545.9h0M88.3 514.8h0M90.7 554.7h0M98.2 567.2h0M91.8 529.1h0M96.4 501.0h0M83.5 524.5h0M93.3 475.7h0M90.4 536.3h0M81.2 538.5h0M97.4 497.1h0M84.9 513.7h0M98.1 543.2h0M72.4 489.3h0M89.2 544.1h0M91.5 498.2h0M88.1 501.4h0M96.8 568.9h0M86.1 540.5h0M99.5 566.2h0M95.0 569.2h0M79.7 521.4h0M88.2 537.8h0M98.8 526.8h0M72.4 493.4h0M74.9 506.1h0M97.2 552.2h0M97.9 564.1h0M97.5 564.1h0M87.3 519.0h0M100.1 515.8h0M96.8 522.4h0M90.1 506.4h0M83.1 514.2h0M100.1 560.3h0M93.9 553.4h0M98.8 530.9h0M95.4 504.9h0M81.8 525.3h0M86.5 537.7h0M94.3 533.6h0M93.9 538.0h0M93.8 534.9h0M96.4 501.9h0M93.9 563.4h0M98.9 568.0h0M88.8 562.3h0M98.0 550.0h0M89.3 514.2h0M90.3 513.1h0M81.8 515.7h0M89.3 546.9h0M98.5 526.6h0M81.9 514.1h0M91.7 563.0h0M92.7 536.6h0M96.2 566.0h0M84.0 532.2h0M96.8 560.0h0M96.6 551.9h0M97.8 514.4h0M86.1 516.1h0M99.4 519.5h0M86.0 519.1h0M95.4 555.1h0M93.7 557.3h0M85.2 509.3h0M92.9 552.3h0M96.0 564.7h0M91.2 524.7h0M83.9 529.3h0M77.3 513.4h0M85.9 526.9h0M85.6 513.9h0M95.4 504.9h0M85.6 527.4h0M93.2 491.4h0M94.7 486.9h0M95.3 490.6h0M93.7 552.5h0M77.4 515.8h0M91.1 523.8h0M70.6 509.5h0M87.9 549.2h0M98.0 516.7h0M97.3 561.7h0M82.0 497.5h0M90.5 512.5h0M89.0 549.8h0M92.8 540.3h0M99.5 568.3h0M92.6 519.0h0M98.1 521.9h0M98.7 525.1h0M93.8 546.6h0M82.8 520.9h0M99.0 509.6h0M81.4 505.7h0M92.5 521.0h0M98.1 531.3h0M100.2 564.3h0M89.1 512.1h0M92.5 495.8h0M85.5 509.4h0M99.7 563.6h0M81.9 511.0h0M90.2 552.2h0M88.8 515.3h0M86.1 537.3h0M94.7 548.4h0M92.4 542.9h0M86.3 534.6h0M98.7 537.3h0M67.5 533.5h0M82.2 514.7h0M87.2 517.7h0M81.0 524.2h0M93.9 498.3h0M94.2 555.5h0M89.7 552.5h0M100.0 568.0h0M84.0 524.7h0M96.6 564.7h0M79.6 509.9h0M95.8 548.5h0M77.6 494.0h0M93.9 555.7h0M91.0 500.8h0M94.0 563.1h0M98.7 548.9h0M98.3 559.0h0M99.0 543.8h0M88.2 514.7h0M85.4 505.1h0M100.0 525.6h0M88.8 526.8h0M92.9 554.6h0M88.6 536.7h0M86.6 483.2h0M97.5 549.5h0M98.3 563.9h0M78.9 487.1h0M92.8 515.0h0M93.4 550.8h0M97.1 543.2h0M96.1 516.5h0M97.9 544.3h0M84.4 510.1h0M94.4 510.7h0M99.3 568.9h0M87.5 529.5h0M100.2 551.4h0M89.4 488.0h0M98.5 519.9h0M88.8 520.1h0M92.0 521.8h0M90.7 548.5h0M82.7 504.3h0M97.8 525.4h0M82.7 525.5h0M95.8 566.2h0M87.8 542.2h0M99.6 547.6h0M97.6 562.9h0M100.2 554.5h0M81.6 507.5h0M90.2 550.3h0M85.5 516.1h0M93.1 514.2h0M86.8 534.2h0M98.9 495.7h0M92.3 519.8h0M94.3 559.0h0M94.7 565.2h0M98.9 551.9h0M97.8 516.4h0M99.8 560.7h0M92.4 526.8h0M86.2 543.8h0M85.9 522.3h0M95.6 543.9h0M95.9 553.1h0M94.1 566.8h0M85.7 527.5h0M88.0 529.7h0M91.4 492.2h0M94.7 499.7h0M88.4 516.6h0M93.6 545.8h0M99.9 550.9h0M92.6 560.3h0M93.5 521.1h0M97.3 538.9h0M97.9 509.9h0M83.6 532.6h0M87.1 483.4h0M99.7 558.9h0M95.1 561.6h0M97.4 552.2h0M90.7 551.0h0M95.7 526.1h0M94.9 565.1h0M82.8 524.5h0M90.5 548.2h0M96.9 517.6h0M89.9 526.6h0M99.3 523.5h0M99.1 546.0h0M93.6 506.8h0M74.9 491.7h0M79.5 493.3h0M85.1 535.2h0M90.3 569.7h0M87.5 553.2h0M97.2 516.2h0M91.4 557.6h0M81.7 512.3h0M99.2 504.6h0M94.6 534.8h0M89.5 543.3h0M99.4 556.3h0M75.0 517.6h0M86.0 531.5h0M94.6 544.4h0M95.3 540.0h0M94.9 561.6h0M91.9 533.9h0M99.1 539.7h0M99.9 538.8h0" stroke="#068a06" stroke-width="3.2" stroke-linecap="round" fill="none"/><path d="M153.8 440.7h0M135.2 453.4h0M149.8 459.3h0M123.8 466.1h0M160.3 490.6h0M166.8 503.3h0M178.1 511.1h0M175.7 522.8h0M162.7 533.6h0M171.6 527.7h0M158.7 546.3h0M169.2 539.5h0M154.6 558.0h0M145.7 469.1h0M166.0 484.7h0M173.2 495.5h0M129.4 516.1h0M132.4 539.4h0M136.5 535.6h0M136.9 501.9h0M124.9 534.4h0M125.8 557.5h0M118.5 555.5h0M134.4 558.2h0M119.4 548.4h0M129.5 541.9h0M123.0 507.7h0M117.5 533.3h0M138.0 499.7h0M117.3 567.7h0M142.0 508.2h0M138.0 515.5h0M116.9 537.2h0M127.5 516.0h0M117.5 565.8h0M126.8 493.4h0M120.7 566.0h0M123.6 528.8h0M141.1 481.1h0M140.6 516.2h0M138.5 516.8h0M139.3 510.7h0M120.8 554.9h0M128.6 553.0h0M118.2 547.2h0M129.3 498.3h0M122.3 495.9h0M120.1 558.2h0M130.7 532.8h0M120.0 558.5h0M131.8 498.4h0M140.2 546.2h0M126.6 569.5h0M143.7 532.5h0M140.9 520.7h0M127.5 474.3h0M118.3 553.3h0M121.7 561.3h0M121.2 557.0h0M131.8 489.3h0M142.8 514.3h0M121.4 505.5h0M117.8 501.5h0M130.3 567.1h0M128.3 532.1h0M129.4 554.3h0M127.4 509.2h0M138.3 524.5h0M138.5 552.9h0M118.1 534.1h0M117.8 518.3h0M134.3 565.6h0M135.5 565.4h0M125.0 551.7h0M123.4 561.4h0M127.0 543.8h0M129.5 561.5h0M119.1 534.8h0M118.2 520.8h0M120.3 556.7h0M153.8 515.5h0M128.1 514.6h0M139.0 490.4h0M141.4 529.6h0M125.6 564.3h0M131.9 565.0h0M120.4 529.9h0M131.3 494.6h0M116.7 545.5h0M117.2 558.3h0M146.1 534.3h0M128.6 527.7h0M145.3 467.2h0M130.7 509.0h0M128.4 551.6h0M131.6 551.5h0M146.7 547.4h0M118.9 564.5h0M128.5 568.7h0M141.3 516.2h0M127.8 506.0h0M117.6 567.0h0M116.7 536.0h0M129.1 556.6h0M128.7 547.9h0M143.1 523.5h0M147.0 543.5h0M116.6 567.0h0M129.4 541.9h0M123.5 542.7h0M135.0 492.1h0M136.2 513.3h0M134.1 529.8h0M121.9 548.1h0M151.4 499.4h0M132.9 542.9h0M119.2 526.9h0M120.1 523.4h0M136.0 515.0h0M128.1 537.6h0M118.3 542.5h0M118.2 517.0h0M122.6 559.4h0M131.0 538.4h0M118.8 557.8h0M119.4 505.8h0M117.2 544.8h0M133.2 537.6h0M116.8 549.1h0M137.7 528.2h0M127.8 567.3h0M123.7 524.0h0M143.0 517.0h0M121.2 566.6h0M137.5 542.3h0M119.7 543.2h0M129.8 518.0h0M118.4 539.2h0M121.8 556.8h0M130.3 564.8h0M125.0 569.3h0M123.1 538.5h0M126.9 483.3h0M116.9 567.7h0M127.3 507.4h0M124.5 559.2h0M118.7 551.8h0M121.7 537.6h0M127.3 476.2h0M117.6 546.8h0M157.2 542.8h0M132.4 513.3h0M144.2 528.3h0M130.6 510.1h0M126.5 558.3h0M119.4 525.3h0M119.6 569.6h0M122.3 526.1h0M126.9 557.0h0M143.1 543.0h0M124.0 556.9h0M124.1 555.6h0M117.1 569.0h0M132.4 547.5h0M124.7 553.8h0M116.7 520.2h0M122.4 569.2h0M135.8 515.9h0M146.6 529.5h0M120.8 549.2h0M135.4 550.6h0M129.4 565.0h0M118.0 548.3h0M122.7 488.1h0M127.5 506.9h0M141.4 526.9h0M140.8 528.4h0M135.7 556.3h0M128.7 565.8h0M132.5 561.9h0M134.1 530.4h0M152.6 548.7h0M126.3 545.5h0M127.8 567.1h0M116.6 534.2h0M131.0 516.6h0M123.9 557.1h0M139.5 527.1h0M122.8 504.2h0M120.1 565.8h0M126.5 550.4h0M129.9 542.8h0M121.1 497.2h0M118.2 555.8h0M141.1 506.3h0M122.8 482.1h0M121.6 560.9h0M125.8 508.3h0M129.1 563.8h0M157.9 527.3h0M123.7 518.5h0M120.6 514.1h0M138.3 550.5h0M122.9 531.3h0M126.4 496.7h0M124.6 565.2h0M131.8 553.4h0M127.5 504.3h0M156.9 514.8h0M133.4 497.1h0M128.2 555.7h0M125.4 565.5h0M129.9 538.0h0M123.3 495.2h0M135.5 553.4h0M126.3 566.4h0M121.5 517.6h0M140.3 550.3h0M134.4 528.6h0M133.6 517.0h0M133.1 518.2h0M150.1 495.0h0M122.9 519.7h0M144.9 509.4h0M120.6 563.2h0M120.0 506.5h0M118.0 534.8h0M124.6 562.6h0M123.3 488.1h0M125.0 525.6h0M135.4 516.4h0M118.1 556.5h0M137.3 496.3h0M119.2 529.9h0M131.0 521.7h0M139.8 528.2h0M129.9 559.2h0M144.2 527.9h0M127.5 558.9h0M116.6 551.6h0M143.1 515.3h0M137.7 561.2h0M134.6 536.9h0M137.6 551.0h0M140.9 538.2h0M118.6 500.8h0M141.5 508.8h0M118.2 564.5h0M138.5 537.1h0M147.9 512.0h0M133.9 554.4h0M119.1 559.6h0M134.6 557.1h0M127.5 532.9h0M121.4 555.9h0M117.2 549.3h0M138.0 489.5h0M133.5 513.5h0M129.8 500.3h0M116.9 560.4h0M134.6 554.6h0M119.3 560.3h0M135.5 514.0h0M125.0 565.4h0M131.3 549.5h0M128.0 559.2h0M142.5 530.9h0M124.7 563.4h0M135.4 556.4h0M122.1 553.5h0M130.4 490.1h0M117.3 509.8h0M119.0 561.2h0M139.1 535.7h0M154.0 534.7h0M123.3 547.4h0M116.8 550.5h0M121.3 509.3h0M117.7 536.5h0M141.0 546.6h0M122.0 544.2h0M128.7 479.2h0M134.1 528.0h0M139.5 503.6h0M142.7 542.8h0M126.0 563.5h0M123.6 543.2h0M126.3 543.5h0M148.0 521.8h0M125.1 517.2h0M118.5 534.7h0M127.8 551.3h0M146.3 519.4h0M126.1 516.5h0M141.1 544.4h0M117.8 518.6h0M117.2 552.8h0M118.2 565.3h0M143.1 493.6h0M137.7 541.8h0M129.5 495.5h0M128.2 537.3h0M129.6 548.4h0M135.1 565.5h0M138.4 504.8h0M138.0 554.6h0M118.2 562.1h0M147.5 506.5h0M138.4 535.2h0M124.7 550.2h0M166.2 467.9h0M127.8 555.0h0M118.6 556.5h0M125.1 558.2h0M127.9 489.1h0M121.5 497.1h0M116.6 536.7h0M117.3 560.3h0M124.4 518.6h0M118.5 545.1h0M125.2 549.2h0M139.2 534.7h0M143.5 505.4h0M142.9 511.1h0M116.7 539.4h0M150.8 517.9h0M122.0 532.8h0M118.1 567.9h0M125.9 553.5h0M127.7 478.4h0M117.1 513.0h0M140.0 533.9h0M132.8 542.7h0M171.9 525.5h0M127.5 555.9h0M118.3 534.5h0M128.4 488.2h0M127.1 507.4h0M128.9 558.8h0M118.8 543.3h0M133.9 551.6h0M126.6 536.2h0M126.2 550.6h0M143.0 513.3h0M129.5 492.8h0M118.4 518.5h0M129.6 553.8h0M123.9 508.7h0M130.4 556.4h0M130.8 532.4h0M156.4 505.4h0M133.5 548.6h0M141.7 532.7h0M117.9 556.1h0M146.9 480.3h0M143.5 556.4h0M121.2 542.8h0M128.8 517.8h0M119.3 545.4h0M130.1 494.7h0M118.0 526.1h0M137.2 555.2h0M134.9 514.8h0M135.1 518.5h0M136.6 511.2h0M118.8 525.7h0M132.1 556.8h0M117.6 537.9h0M126.4 494.2h0M123.5 532.9h0M129.4 514.2h0M136.2 495.0h0M146.8 493.4h0M119.4 564.3h0M140.5 538.1h0M119.1 518.5h0M120.0 533.0h0M118.3 561.1h0M121.9 558.1h0M117.0 552.5h0M142.8 511.8h0M141.0 552.4h0M145.2 493.6h0M117.4 544.3h0M125.7 538.2h0M122.1 567.9h0M130.9 538.8h0M135.0 519.8h0M126.2 546.3h0M116.7 547.4h0M141.5 534.4h0M132.6 516.0h0M124.2 525.9h0M123.3 559.4h0M117.5 526.6h0M136.0 551.6h0M131.0 538.9h0M121.6 504.1h0M126.5 541.5h0M130.0 547.2h0M132.8 512.2h0M131.1 540.6h0M123.6 567.4h0M123.0 523.4h0M124.9 511.9h0M134.8 493.1h0M122.2 549.2h0M140.6 525.8h0M140.7 491.9h0M134.0 541.4h0M138.9 518.6h0M120.2 529.7h0M143.6 560.0h0M132.4 523.7h0M129.6 516.8h0M135.7 500.4h0M120.4 557.7h0M143.7 548.1h0M142.1 534.9h0M131.7 526.7h0M122.0 540.3h0M136.9 493.7h0M131.4 543.9h0M130.1 497.9h0M153.9 528.7h0M145.9 526.8h0M118.1 520.3h0M133.7 546.1h0M127.5 535.6h0M136.3 508.3h0M139.4 501.4h0M116.7 527.9h0M120.0 514.5h0M141.6 545.1h0M138.7 505.4h0M119.4 558.6h0M148.1 518.0h0M121.2 565.1h0M119.7 502.1h0M137.5 508.0h0M116.9 546.7h0M138.3 554.5h0M127.5 555.7h0M118.3 523.3h0M125.2 502.0h0M124.7 552.4h0M126.5 513.3h0M137.2 546.7h0M120.4 559.4h0M116.8 531.5h0M120.3 558.4h0M119.0 515.2h0M133.3 558.9h0M117.9 557.9h0M133.2 552.8h0M121.1 508.9h0M125.3 508.9h0M134.4 564.0h0M119.8 523.1h0M129.1 567.8h0M117.7 508.9h0M122.1 567.7h0M117.6 552.1h0M127.1 490.0h0M117.6 514.6h0M124.9 548.9h0M149.4 505.6h0M143.3 519.5h0M129.4 554.4h0M121.7 541.3h0M134.6 492.0h0M139.9 525.5h0M118.5 541.2h0M138.5 508.8h0M132.8 568.7h0M120.1 554.6h0M144.8 539.3h0M144.8 502.7h0M122.6 508.3h0M121.1 505.9h0M123.5 484.2h0M137.9 542.0h0M120.4 534.5h0M118.2 532.9h0M129.6 553.1h0M142.3 498.6h0M135.8 509.9h0M118.1 557.3h0M129.0 517.1h0M118.0 514.8h0M136.6 528.9h0M142.6 546.1h0M123.6 560.2h0M130.3 565.6h0M127.2 533.4h0M130.3 549.6h0M142.0 501.1h0M124.1 543.8h0M135.4 509.3h0M118.5 520.9h0M127.0 559.6h0M135.5 511.0h0M125.3 494.6h0M138.2 515.0h0M149.2 517.1h0M123.7 564.4h0M140.5 559.8h0M128.1 533.9h0M122.5 506.7h0M130.6 497.0h0M117.1 567.3h0M121.9 517.9h0M123.3 495.5h0M124.7 523.1h0M131.5 543.5h0M149.2 543.2h0M135.6 492.1h0M124.5 497.5h0M118.3 540.2h0M121.0 567.8h0M144.2 518.8h0M118.8 550.7h0M136.7 510.9h0M125.5 502.1h0M135.3 556.3h0M117.1 548.4h0M120.1 523.6h0M157.7 550.2h0M142.5 512.5h0M147.1 535.5h0M118.5 558.1h0M149.7 504.4h0M132.5 564.4h0M161.5 535.6h0M131.4 506.1h0M122.7 548.0h0M131.0 549.4h0M121.9 499.9h0M122.0 494.6h0M136.0 544.4h0M137.4 518.5h0M119.5 543.1h0M122.5 520.3h0M131.1 559.2h0M120.9 522.7h0M139.9 554.2h0M121.3 554.6h0M119.1 567.6h0M117.6 519.4h0M144.2 523.8h0M132.8 495.7h0M119.0 522.2h0M128.1 515.6h0M146.7 529.5h0M117.3 540.9h0M137.2 516.2h0M117.5 536.9h0M116.8 542.4h0M124.4 530.5h0M124.2 522.9h0M119.8 558.8h0M126.2 508.8h0M119.4 561.1h0M117.1 543.8h0M123.1 545.7h0M139.7 483.9h0M130.0 555.0h0M118.2 560.6h0M168.8 518.2h0M142.1 528.3h0M130.6 529.4h0M123.1 550.5h0M119.2 510.5h0M142.7 535.7h0M130.0 568.3h0M117.7 515.7h0M136.0 553.2h0M123.5 565.8h0M121.6 522.6h0M133.9 495.1h0M127.7 560.9h0M160.5 454.6h0M121.1 567.0h0M117.1 527.8h0M125.8 511.4h0M139.1 507.6h0M122.7 515.2h0M158.2 533.7h0M116.9 538.2h0M140.2 548.9h0M127.3 510.1h0M139.2 538.6h0M140.9 518.5h0M124.6 504.4h0M116.6 545.6h0M119.1 568.4h0M142.8 475.8h0M129.6 497.2h0M146.9 521.4h0M128.8 548.3h0M125.7 533.8h0M144.4 503.5h0M124.7 551.4h0M146.9 528.4h0M138.8 554.7h0M128.0 511.0h0M139.5 529.3h0M120.7 510.1h0M133.6 490.0h0M121.6 528.6h0M133.9 500.9h0M138.7 529.8h0M144.5 504.4h0M118.9 557.9h0M121.5 565.0h0M130.5 540.6h0M143.4 543.8h0M132.0 564.4h0M125.6 508.0h0M126.5 524.6h0M141.3 549.9h0M119.3 561.9h0M121.1 545.7h0M129.5 567.2h0M117.6 515.0h0M142.4 528.8h0M133.5 562.4h0M133.4 536.4h0M134.7 524.5h0M143.7 500.8h0M121.6 542.3h0M117.4 520.1h0M122.0 488.8h0M117.4 556.4h0M131.4 565.0h0M134.2 506.2h0M129.2 551.1h0M118.5 546.3h0M136.8 502.3h0M135.1 568.2h0M131.3 545.5h0M137.3 517.2h0M125.3 532.4h0M143.1 513.3h0M146.8 515.8h0M121.9 560.1h0M127.9 550.0h0M125.8 524.1h0M128.2 505.8h0M129.8 477.3h0M142.0 510.9h0M141.8 540.3h0M122.0 546.2h0M130.8 543.8h0M137.2 563.1h0M139.5 532.2h0M130.1 549.6h0M128.8 517.4h0M147.6 512.6h0M159.6 509.2h0M132.9 514.5h0M125.6 506.3h0M151.4 541.9h0M119.5 541.1h0M122.7 546.9h0M117.1 522.3h0M125.5 511.8h0M134.9 506.1h0M123.7 528.1h0M117.7 524.0h0M132.6 464.6h0M122.8 494.8h0M126.5 567.4h0M119.4 550.5h0M121.2 558.6h0M122.7 502.5h0M120.1 559.9h0M140.0 552.1h0M149.3 521.4h0M132.5 568.5h0M138.4 554.2h0M130.6 526.4h0M146.0 509.9h0M126.0 548.6h0M122.0 554.2h0M120.7 564.3h0M118.0 525.0h0M116.6 535.8h0M118.2 539.7h0M123.8 566.0h0M119.4 566.7h0M140.8 480.7h0M139.2 567.3h0M145.5 553.5h0M138.9 538.7h0M118.4 569.3h0M129.1 560.3h0M117.2 563.9h0M139.7 526.9h0M124.0 500.7h0M116.9 542.7h0M121.5 529.4h0M124.7 534.9h0M124.9 542.1h0M127.9 546.7h0M118.5 561.5h0M139.6 501.2h0M119.9 540.0h0M129.7 542.2h0M116.7 558.7h0M131.6 544.2h0M121.9 521.9h0M129.3 543.5h0M133.0 567.2h0M140.7 533.2h0M129.6 528.4h0M118.8 554.3h0M118.0 528.6h0M145.2 519.9h0M124.8 564.3h0M117.9 523.4h0M121.3 562.5h0M117.1 534.9h0M129.1 508.3h0M122.1 520.5h0M132.1 554.1h0M118.6 530.1h0M117.1 557.5h0M119.8 510.0h0M134.1 469.9h0M151.4 537.3h0M130.7 516.9h0M152.4 496.2h0M138.0 520.1h0M142.6 546.1h0M122.0 528.5h0M142.9 525.7h0M122.2 551.9h0M118.2 560.2h0M138.6 536.3h0M141.6 542.3h0M123.7 505.5h0M116.6 541.6h0M136.3 519.2h0M124.9 485.5h0M122.6 480.3h0M134.8 508.9h0M125.6 527.9h0M123.5 546.6h0M129.2 543.5h0M126.8 475.0h0M117.2 555.0h0M132.7 509.8h0M139.1 547.0h0M132.4 507.4h0M121.4 551.8h0M136.5 555.6h0M122.3 502.6h0M136.6 542.4h0M117.1 537.1h0M119.6 513.1h0M139.2 565.3h0M116.9 545.9h0M125.8 532.1h0M130.2 499.8h0M139.9 552.8h0M132.4 506.7h0M144.8 535.2h0M118.2 551.5h0M119.2 542.4h0M145.4 503.7h0M146.2 528.9h0M147.2 528.1h0M129.3 562.9h0M153.2 508.9h0M133.1 554.8h0M140.2 492.1h0M146.1 509.6h0M122.6 569.3h0M139.4 511.6h0M128.8 537.1h0M137.0 530.4h0M127.7 501.3h0M123.2 494.4h0M129.6 548.6h0M116.8 523.3h0M126.9 548.8h0M162.3 525.5h0M135.5 546.2h0M127.9 473.4h0M123.3 536.5h0M126.1 530.0h0M140.8 548.4h0M131.3 542.6h0M120.0 562.1h0M173.6 540.9h0M138.6 513.7h0M121.1 561.3h0M132.2 452.6h0M154.7 508.7h0M120.9 536.2h0M117.8 507.8h0M129.5 541.7h0M127.8 554.2h0M117.0 521.5h0M119.6 519.1h0M150.2 532.5h0M130.0 540.4h0M120.9 558.9h0M133.5 535.5h0M133.1 537.8h0M123.5 551.8h0M126.4 526.7h0M140.2 517.2h0M150.0 523.1h0M130.8 545.7h0M139.2 520.5h0M119.5 567.0h0M138.0 559.7h0M134.2 541.0h0M128.8 564.9h0M141.0 548.2h0M128.5 543.1h0M119.1 565.0h0M121.8 510.9h0M116.6 540.5h0M120.7 534.9h0M120.9 521.4h0M136.1 457.3h0M144.3 516.1h0M117.2 566.6h0M137.9 551.9h0M124.6 542.9h0M123.4 534.4h0M149.6 513.2h0M119.8 530.3h0M140.1 556.6h0M126.6 559.9h0M117.8 517.1h0M140.1 554.2h0M144.5 493.2h0M123.4 530.5h0M125.7 567.6h0M146.1 549.1h0M127.4 543.2h0M147.2 530.4h0M122.9 526.0h0M144.6 527.6h0M144.7 529.2h0M129.4 537.9h0M131.6 537.1h0M141.8 524.8h0M130.9 551.7h0M136.5 566.6h0M128.6 559.2h0M117.8 528.5h0M139.8 517.6h0M145.2 490.7h0M151.7 517.7h0M165.3 457.1h0M155.5 554.2h0M135.8 550.6h0M150.6 534.5h0M119.9 553.5h0M121.3 512.3h0M125.9 516.9h0M125.7 528.6h0M119.8 556.8h0M123.7 542.2h0M119.5 564.6h0M129.8 535.9h0M138.0 515.4h0M123.1 527.6h0M133.1 514.3h0M154.7 508.6h0M137.5 543.4h0M134.7 561.0h0M129.9 483.2h0M117.5 564.2h0M117.4 558.9h0M119.2 503.9h0M117.9 537.6h0M124.2 513.5h0M135.0 559.7h0M147.9 501.4h0M117.0 516.4h0M135.8 525.6h0M128.6 506.2h0M126.0 537.6h0M135.2 533.7h0M117.0 540.9h0M134.5 558.0h0M127.8 543.5h0M119.4 510.6h0M121.5 553.7h0M148.9 530.0h0M141.3 519.0h0M123.6 550.9h0M130.0 543.4h0M121.5 531.7h0M123.3 527.0h0M136.8 559.9h0M136.5 492.4h0M143.7 496.9h0M130.3 568.8h0M148.7 537.7h0M117.4 561.8h0M125.7 536.9h0M134.0 553.9h0M120.8 568.8h0M149.0 550.9h0M130.4 492.3h0M127.8 542.1h0M116.7 519.5h0M142.7 546.2h0M127.0 548.3h0M127.7 498.3h0M129.8 469.7h0M131.7 472.2h0M121.4 564.5h0M116.7 533.7h0M134.2 534.6h0M122.6 537.2h0M122.3 566.7h0M125.6 566.6h0M145.9 499.9h0M132.2 547.4h0M146.2 534.9h0M120.9 556.5h0M125.2 557.4h0M119.1 527.8h0M149.6 496.5h0M125.3 473.8h0M119.3 499.3h0M135.4 516.6h0M124.2 498.3h0M142.2 530.2h0M117.9 516.6h0M147.5 535.3h0M132.5 525.0h0M123.0 544.4h0M122.8 506.5h0M138.7 563.8h0M135.3 463.7h0M117.7 516.6h0M126.8 502.3h0M159.2 502.7h0M118.2 562.6h0M117.1 555.3h0M123.3 517.2h0M122.8 536.1h0M124.5 520.1h0M116.6 521.2h0M127.1 563.9h0M125.4 524.8h0M133.0 495.0h0M121.7 527.3h0M139.7 547.8h0M130.9 492.8h0M134.4 520.7h0M125.1 538.4h0M141.6 548.1h0M134.5 544.8h0M143.2 489.2h0M119.5 541.6h0M123.8 519.6h0M118.8 532.0h0M124.0 502.1h0M120.2 569.2h0M122.9 509.6h0M135.4 542.1h0M137.9 539.9h0M133.6 521.6h0M137.6 532.2h0M117.6 514.1h0M133.8 561.4h0M136.4 518.1h0M123.3 561.3h0M123.8 483.8h0M120.3 513.0h0M117.5 566.4h0M130.4 569.6h0M126.2 556.5h0M117.9 532.9h0M129.4 539.4h0M134.6 525.0h0M125.7 556.6h0M121.7 513.6h0M120.6 506.4h0M173.9 498.1h0M120.3 515.2h0M123.7 519.0h0M124.8 519.1h0M122.5 555.2h0M124.3 519.2h0M125.8 556.5h0M127.3 483.4h0M144.4 520.1h0M134.4 541.5h0M139.8 524.9h0M120.0 533.8h0M118.6 546.9h0M118.1 552.0h0M120.9 525.6h0M121.9 524.4h0M136.8 550.9h0M170.6 542.2h0M125.8 555.3h0M167.6 528.0h0M137.1 546.3h0M133.2 555.2h0M129.9 503.0h0M126.0 545.7h0M139.5 505.9h0M125.2 556.8h0M151.2 519.8h0M126.9 506.4h0M123.5 558.9h0M135.7 511.1h0M138.1 551.0h0M139.7 538.8h0M150.0 534.0h0M148.1 497.2h0M133.4 551.2h0M131.4 482.9h0M122.4 567.0h0M118.2 559.8h0M130.4 554.9h0M131.1 562.1h0M135.6 482.5h0M128.5 514.8h0M132.3 525.7h0M128.1 552.0h0M139.8 524.9h0M122.9 499.6h0M127.1 553.2h0M122.7 547.1h0M118.9 549.5h0M117.2 531.3h0M130.3 545.0h0M122.7 545.7h0M131.6 538.4h0M129.3 531.8h0M154.4 520.7h0M138.2 569.2h0M133.4 520.1h0M116.7 551.5h0M169.1 490.1h0M124.5 550.7h0M119.0 509.2h0M122.9 513.0h0M131.2 558.4h0M137.0 544.6h0M130.4 534.0h0M143.5 490.6h0M134.7 490.1h0M121.0 517.7h0M139.5 536.8h0M122.6 565.5h0M125.3 552.9h0M145.6 514.3h0M116.6 567.4h0M140.6 486.0h0M135.8 523.3h0M127.8 487.1h0M135.4 516.2h0M139.2 538.4h0M124.5 513.8h0M152.2 549.5h0M122.0 503.1h0M146.2 511.0h0M121.4 562.2h0M139.6 525.6h0M118.0 565.4h0M139.7 461.5h0M117.7 534.6h0M124.2 541.6h0M120.6 540.2h0M140.5 516.0h0M142.5 527.1h0M122.4 522.8h0M119.0 502.2h0M158.3 506.6h0M132.6 497.7h0M142.6 554.5h0M117.5 562.4h0M119.8 542.0h0M143.9 548.3h0M117.7 568.1h0M133.8 568.1h0M124.3 525.4h0M128.4 500.2h0M124.4 539.2h0M130.9 565.9h0M120.7 566.0h0M119.5 509.8h0M122.6 559.3h0M123.4 503.8h0M124.1 541.5h0M149.1 529.7h0M134.4 542.1h0M134.7 521.8h0M121.3 534.7h0M126.8 519.7h0M128.9 547.0h0M117.1 563.0h0M146.1 545.9h0M123.8 488.6h0M127.5 494.5h0M171.7 507.6h0M133.6 515.4h0M121.6 534.5h0M135.8 481.2h0M148.0 536.9h0M129.8 527.9h0M147.3 505.6h0M131.1 568.6h0M119.7 535.8h0M133.4 500.4h0M135.8 490.4h0M133.1 527.7h0M147.2 535.8h0M130.8 519.8h0M131.6 517.0h0M125.4 554.5h0M142.4 527.6h0M141.0 519.2h0M119.6 538.0h0M123.5 535.9h0M117.4 569.0h0M138.6 504.7h0M142.6 510.0h0M128.8 541.7h0M140.7 552.8h0M118.6 568.6h0M116.6 568.2h0M128.2 498.0h0M121.9 545.9h0M132.4 544.1h0M142.7 491.7h0M164.4 505.2h0M134.2 537.3h0M143.8 519.1h0M133.9 520.3h0M126.8 535.0h0M124.5 517.2h0M131.8 525.1h0M122.6 567.7h0M140.8 550.2h0M117.9 504.0h0M116.6 557.5h0M145.7 513.3h0M130.0 452.9h0M116.7 548.3h0M146.3 563.0h0M123.7 527.2h0M118.0 539.7h0M132.7 507.9h0M125.7 535.2h0M142.6 525.1h0M130.4 567.4h0M143.9 520.3h0M145.0 530.9h0M131.9 564.8h0M119.2 504.2h0M119.9 529.9h0M128.1 515.9h0M121.0 550.4h0M117.3 561.8h0M137.2 555.5h0M141.3 527.4h0M116.6 544.2h0M117.9 524.9h0M118.8 539.1h0M132.1 523.3h0M122.5 484.4h0M137.8 531.1h0M118.1 520.2h0M119.8 554.3h0M121.6 510.6h0M122.6 509.3h0M123.7 512.4h0M132.6 545.4h0M120.4 511.2h0M123.2 508.4h0M132.3 526.7h0M122.2 504.6h0M144.8 529.3h0M145.0 538.5h0M125.7 553.6h0M117.9 548.7h0M118.2 524.7h0M134.4 569.7h0M116.6 542.9h0M122.2 539.3h0M131.4 550.7h0M136.2 499.7h0M127.0 520.8h0M155.8 532.5h0M166.0 536.6h0M137.7 527.6h0M121.1 567.9h0M134.9 567.0h0M140.3 529.7h0M134.5 561.0h0M154.3 496.2h0M140.9 517.3h0M121.2 512.8h0M116.9 506.0h0M151.2 512.6h0M147.4 504.3h0M137.3 527.9h0M116.7 561.1h0M124.0 504.1h0M119.2 548.8h0M132.8 543.4h0M127.0 524.7h0M130.0 567.2h0M129.4 525.6h0M142.0 547.3h0M133.6 529.5h0M119.1 560.9h0M122.6 539.5h0M122.4 569.6h0M125.6 500.9h0M127.6 531.5h0M127.3 556.0h0M116.8 550.2h0M122.5 568.9h0M122.9 544.9h0M130.1 521.2h0M124.7 524.1h0M123.7 541.1h0M127.4 565.1h0M127.4 564.3h0M131.5 565.6h0M120.4 548.8h0M131.6 554.8h0M120.9 539.5h0M122.1 563.5h0M132.8 517.7h0M116.8 561.6h0M149.2 512.8h0M146.0 527.1h0M132.7 495.0h0M120.3 555.8h0M122.5 517.1h0M119.0 516.4h0M131.6 530.9h0M138.7 501.4h0M124.4 555.5h0M119.4 539.7h0M122.0 525.4h0M118.7 515.1h0M135.6 514.0h0M128.0 494.0h0M141.6 532.2h0M121.6 546.0h0M121.2 509.2h0M123.6 540.8h0M126.1 555.4h0M133.9 549.1h0M123.1 562.5h0M148.7 508.1h0M140.8 515.9h0M134.7 517.3h0M121.8 541.5h0M120.9 501.1h0M116.6 568.2h0M120.1 549.6h0M120.1 563.6h0M122.3 550.2h0M121.4 550.9h0M148.5 517.1h0M142.6 527.5h0M145.0 526.5h0M117.9 530.2h0M150.2 508.3h0M124.4 540.0h0M130.0 505.5h0M150.7 508.0h0M151.9 522.7h0M133.3 554.2h0M128.1 544.2h0M133.1 559.2h0M137.0 555.2h0M122.6 513.7h0M126.4 562.8h0M148.2 491.8h0M128.0 563.8h0M133.6 529.4h0M116.8 533.4h0M134.5 539.0h0M117.8 519.4h0M134.0 514.5h0M143.5 490.2h0M148.0 522.0h0M119.9 524.7h0M140.7 523.0h0M119.4 549.2h0M123.3 561.1h0M139.0 502.8h0M126.0 562.9h0M134.6 517.9h0M129.2 546.3h0M120.7 538.8h0M119.2 515.3h0M124.0 528.0h0M120.8 564.1h0M143.1 534.6h0M117.1 555.7h0M139.4 546.5h0M124.2 531.2h0M135.7 540.9h0M122.7 524.9h0M119.1 551.7h0M122.6 542.9h0M119.1 533.2h0M117.0 563.6h0M129.5 538.6h0M125.6 518.6h0M161.7 521.8h0M127.4 539.2h0M143.3 552.1h0M142.2 531.8h0M146.2 531.7h0M120.9 567.3h0M134.3 557.9h0M126.1 552.9h0M131.5 566.6h0M132.4 516.1h0M144.7 525.3h0M123.8 510.0h0M131.4 501.8h0M123.9 558.5h0M146.6 544.6h0M123.5 537.7h0M120.0 522.7h0M118.9 530.6h0M124.0 557.0h0M142.4 541.3h0M126.7 519.3h0M130.2 498.4h0M144.6 524.3h0M167.3 519.2h0M119.6 541.0h0M120.9 530.9h0M126.5 550.9h0M124.4 518.1h0M117.4 566.8h0M130.2 531.3h0M119.1 564.6h0M131.7 540.8h0M124.5 553.2h0M126.7 527.4h0M119.0 559.1h0M132.8 513.4h0M140.7 536.3h0M138.7 518.8h0M137.1 531.8h0M132.9 491.3h0M121.5 534.7h0M128.6 485.3h0M146.4 531.0h0M126.9 541.9h0M127.1 556.9h0M137.2 492.9h0M119.4 515.8h0M128.5 527.1h0M141.9 531.2h0M118.6 557.6h0M144.6 543.1h0M125.7 517.0h0M146.9 538.2h0M127.6 502.2h0M118.0 531.1h0M134.7 555.4h0M117.2 531.3h0M127.2 489.6h0M141.8 564.9h0M123.2 553.2h0M140.8 540.7h0M120.1 542.0h0M116.6 532.1h0M120.0 506.6h0M120.0 560.1h0M117.4 553.2h0M129.1 536.5h0M126.2 507.3h0M120.3 534.7h0M130.7 491.7h0M128.2 525.6h0M117.6 542.5h0M130.3 527.0h0M125.1 525.3h0M116.6 558.1h0M133.2 540.1h0M118.9 532.8h0M116.9 530.7h0M141.9 467.1h0M119.7 567.9h0M120.9 542.3h0M127.0 555.0h0M121.8 494.5h0M131.8 527.9h0M131.1 522.6h0M123.1 545.6h0M124.3 489.6h0M121.0 547.2h0M137.0 525.0h0M116.8 536.0h0M121.3 516.1h0M120.4 534.5h0M139.4 534.5h0M146.7 513.9h0M141.1 524.8h0M131.2 552.1h0M121.9 491.4h0M129.2 496.1h0M136.8 547.6h0M127.2 532.2h0M135.5 514.4h0M131.3 568.3h0M150.0 542.2h0M131.5 566.8h0M118.4 565.5h0M123.1 530.0h0M129.2 507.0h0M123.7 562.2h0M122.2 512.8h0M148.4 548.9h0M128.0 488.7h0M129.2 521.0h0M141.8 532.2h0M136.0 498.3h0M130.6 523.9h0M122.9 495.3h0M121.8 511.0h0M173.2 520.1h0M119.6 520.5h0M120.7 569.3h0M121.3 522.6h0M143.3 541.0h0M122.9 501.1h0M124.4 476.6h0M123.7 507.8h0M135.4 533.3h0M141.8 516.6h0M124.2 520.0h0M140.5 518.8h0M147.8 557.2h0M119.8 529.2h0M118.8 533.8h0M120.7 535.3h0M117.7 514.7h0M124.7 561.9h0M121.1 502.3h0M134.1 525.9h0M123.0 545.1h0M124.5 540.1h0M133.7 508.5h0M122.4 529.7h0M119.5 550.2h0M120.3 487.7h0M136.5 516.2h0M133.7 556.5h0M143.6 514.9h0M140.5 547.2h0M123.7 509.2h0M129.7 507.2h0M139.6 523.3h0M125.8 567.9h0M130.1 506.0h0M132.3 546.5h0M116.8 514.7h0M117.5 515.5h0M121.2 504.0h0M134.2 477.0h0M116.6 525.8h0M123.1 515.2h0M125.6 563.7h0M147.5 542.0h0M141.8 514.3h0M130.1 518.8h0M120.8 532.0h0M116.7 553.4h0M120.0 537.1h0M119.9 558.9h0M119.0 569.7h0M130.2 550.6h0M125.3 553.9h0M127.2 511.3h0M122.4 506.6h0M146.1 512.9h0M125.0 555.8h0M121.6 501.4h0M134.7 555.8h0M135.4 528.9h0M125.5 565.4h0M123.4 544.9h0M133.2 549.3h0M131.7 550.0h0M141.6 505.8h0M123.8 515.4h0M121.5 541.1h0M138.1 511.8h0M126.9 531.9h0M127.0 534.4h0M122.3 540.9h0M118.5 559.2h0M120.1 544.1h0M131.1 530.5h0M119.6 553.3h0M134.4 544.0h0M121.9 566.5h0M128.7 566.0h0M132.1 518.4h0M121.4 515.3h0M118.0 527.7h0M127.7 547.1h0M137.0 561.8h0M125.2 562.1h0M145.8 535.4h0M121.2 552.2h0M128.3 496.1h0M117.2 560.0h0M133.0 515.3h0M133.1 559.1h0M132.1 495.4h0M126.5 554.8h0M144.2 492.8h0M126.8 534.9h0M132.2 512.2h0M127.0 553.9h0M157.5 496.9h0M134.8 525.7h0M124.7 530.2h0M123.6 519.7h0M116.8 530.5h0M116.9 520.5h0M149.3 529.4h0M124.4 532.3h0M120.7 521.1h0M128.7 502.0h0M121.7 555.0h0M130.6 534.1h0M152.1 533.7h0M138.5 518.1h0M139.8 556.3h0M125.7 545.9h0M133.5 462.9h0M140.6 517.4h0M128.8 503.4h0M139.1 514.7h0M137.1 510.3h0M156.3 518.9h0M121.1 529.4h0M125.8 522.2h0M130.5 543.2h0M120.7 498.3h0M139.9 469.6h0M133.6 562.4h0M141.3 512.0h0M128.3 497.5h0M141.8 529.4h0M125.1 529.9h0M147.5 502.2h0M139.2 563.9h0M126.3 518.5h0M128.6 569.6h0M116.8 556.8h0M126.2 471.7h0M145.6 536.9h0M118.3 568.2h0M124.9 566.0h0M142.0 546.9h0M170.2 510.8h0M138.2 527.8h0M120.5 554.4h0M144.2 510.7h0M132.5 513.4h0M120.5 557.9h0M124.1 491.4h0M118.7 551.8h0M131.4 513.2h0M117.9 554.0h0M122.4 521.7h0M127.9 557.3h0M142.7 480.7h0M145.0 540.1h0M127.1 545.2h0M120.2 539.8h0M127.4 515.6h0M135.4 530.6h0M117.8 530.8h0M117.4 551.6h0M120.0 530.9h0M123.8 535.1h0M118.3 534.0h0M117.4 564.0h0M135.1 553.2h0M136.4 513.4h0M117.9 548.4h0M127.2 562.2h0M116.9 524.5h0M140.1 506.8h0M136.1 518.0h0M135.7 537.0h0M128.2 526.1h0M120.0 547.0h0M134.6 481.4h0M121.2 513.4h0M134.7 561.9h0M117.0 531.1h0M117.8 566.4h0M117.4 509.3h0M117.7 505.3h0M118.9 546.6h0M121.3 522.1h0M143.5 555.0h0M120.4 518.4h0M124.0 495.8h0M124.3 559.0h0M119.1 541.1h0M127.8 512.0h0M144.6 515.0h0M160.6 531.0h0M142.9 504.3h0M124.9 563.3h0M122.0 523.4h0M150.8 546.5h0M117.0 549.1h0M124.0 500.8h0M125.6 551.2h0M125.6 515.5h0M135.4 541.6h0M140.4 466.6h0M119.3 562.1h0M126.8 459.8h0M128.8 561.6h0M141.1 558.7h0M127.7 502.7h0M131.9 511.7h0M125.6 551.7h0M127.1 522.7h0M136.1 493.6h0M145.5 528.9h0M143.6 527.0h0M118.9 567.2h0M128.7 488.0h0M121.5 563.0h0M129.1 545.9h0M131.4 503.0h0M118.5 523.8h0M126.6 515.1h0M126.0 542.9h0M164.6 506.8h0M142.5 469.2h0M146.6 513.9h0M127.0 492.5h0M144.3 522.3h0M128.6 541.3h0M137.1 502.6h0M147.5 536.5h0M128.8 553.2h0M121.3 501.2h0M138.9 535.7h0M126.3 520.5h0M116.9 562.4h0M128.3 543.8h0M117.7 561.1h0M129.4 536.7h0M129.0 519.8h0M123.9 543.9h0M121.1 560.7h0M119.3 516.2h0M126.9 515.8h0M150.1 525.0h0M128.6 569.4h0M121.8 497.8h0M129.6 518.3h0M133.7 477.4h0M122.9 560.4h0M126.6 547.4h0M138.4 528.9h0M129.1 548.8h0M118.9 546.5h0M143.0 497.4h0M132.4 563.8h0M121.3 544.6h0M124.7 568.4h0M142.6 518.3h0M123.8 559.7h0M136.2 460.4h0M146.0 497.3h0M117.6 536.7h0M117.3 521.7h0M126.5 562.9h0M124.9 550.2h0M116.8 569.0h0M160.5 471.8h0M121.3 534.7h0M138.4 561.3h0M136.2 509.8h0M124.8 508.4h0M132.6 533.8h0M120.6 558.2h0M118.8 562.3h0M142.3 552.1h0M127.7 553.5h0M141.0 537.7h0M117.7 521.8h0M123.6 493.6h0M118.0 514.0h0M129.7 529.9h0M122.6 525.5h0M120.0 510.5h0M123.5 537.7h0M150.0 542.5h0M145.2 518.3h0M142.6 530.6h0M116.7 514.5h0M125.1 558.0h0M127.8 546.2h0M138.9 529.1h0M147.2 529.6h0M125.4 537.4h0M139.8 527.8h0M143.7 526.1h0M143.8 527.3h0M143.8 551.8h0M120.9 510.5h0M129.9 540.5h0M145.5 541.0h0M119.0 531.9h0M129.5 543.9h0M128.7 494.9h0M133.0 528.9h0M131.0 563.7h0M119.6 557.4h0M146.4 531.1h0M121.5 550.5h0M140.8 509.7h0M122.7 502.8h0M171.8 529.8h0M139.6 537.0h0M123.9 526.2h0M139.4 562.7h0M132.4 568.9h0M131.0 518.8h0M144.2 504.2h0M118.0 548.5h0M155.3 535.9h0M140.3 526.1h0M121.4 551.3h0M146.4 527.6h0M118.1 526.2h0M146.4 542.6h0M124.4 471.8h0M118.9 513.5h0M122.4 551.3h0M131.6 551.6h0M118.7 526.6h0M124.8 515.1h0M123.1 525.1h0M143.2 537.6h0M124.4 538.3h0M121.4 523.7h0M125.8 558.7h0M142.4 513.7h0M125.4 558.5h0M131.9 533.6h0M131.8 504.6h0M141.8 550.8h0M118.2 551.6h0M119.1 555.5h0M131.8 555.3h0M132.9 515.9h0M140.6 529.3h0M120.7 548.4h0M116.8 523.7h0M139.3 510.3h0M131.8 508.1h0M119.8 560.7h0M156.0 535.7h0M149.6 524.9h0M139.2 531.4h0M130.2 559.4h0M133.7 530.3h0M127.1 548.0h0M127.6 548.1h0M131.8 518.5h0M117.4 531.5h0M132.5 564.5h0M126.5 546.6h0M138.5 501.4h0M120.9 503.4h0M131.1 529.1h0M132.3 516.3h0M152.8 499.5h0M128.4 513.9h0M123.7 494.7h0M154.5 558.3h0M168.7 515.2h0M142.8 543.7h0M127.2 560.8h0M133.7 529.6h0M126.6 545.4h0M127.7 522.3h0" stroke="#ff0000" stroke-width="3.2" stroke-linecap="round" fill="none"/><line x1="30.2" y1="569.8" x2="186.9" y2="569.8" stroke="#3a3a3a" stroke-width="1.0" stroke-dasharray="1.4 2.3"/><line x1="100.4" y1="435.5" x2="100.4" y2="589.1" stroke="#3a3a3a" stroke-width="1.0" stroke-dasharray="1.4 2.3"/><line x1="116.5" y1="435.5" x2="116.5" y2="589.1" stroke="#3a3a3a" stroke-width="1.0" stroke-dasharray="1.4 2.3"/><text x="78.2" y="573.2" font-size="7.4" fill="#1a1a1a">Q value: 0.05</text><path d="M30.2 435.5V589.1H186.9" stroke="#222" stroke-width="1.1" fill="none"/><line x1="27.6" y1="582.5" x2="30.2" y2="582.5" stroke="#333" stroke-width="0.9"/><text x="26.0" y="585.3" font-size="7.7" fill="#4d4d4d" text-anchor="end">0</text><line x1="27.6" y1="533.6" x2="30.2" y2="533.6" stroke="#333" stroke-width="0.9"/><text x="26.0" y="536.4" font-size="7.7" fill="#4d4d4d" text-anchor="end">5</text><line x1="27.6" y1="484.7" x2="30.2" y2="484.7" stroke="#333" stroke-width="0.9"/><text x="26.0" y="487.5" font-size="7.7" fill="#4d4d4d" text-anchor="end">10</text><line x1="27.6" y1="435.8" x2="30.2" y2="435.8" stroke="#333" stroke-width="0.9"/><text x="26.0" y="438.6" font-size="7.7" fill="#4d4d4d" text-anchor="end">15</text><line x1="68.0" y1="589.1" x2="68.0" y2="591.7" stroke="#333" stroke-width="0.9"/><text x="68.0" y="599.1" font-size="7.7" fill="#4d4d4d" text-anchor="middle">-5</text><line x1="108.5" y1="589.1" x2="108.5" y2="591.7" stroke="#333" stroke-width="0.9"/><text x="108.5" y="599.1" font-size="7.7" fill="#4d4d4d" text-anchor="middle">0</text><line x1="148.9" y1="589.1" x2="148.9" y2="591.7" stroke="#333" stroke-width="0.9"/><text x="148.9" y="599.1" font-size="7.7" fill="#4d4d4d" text-anchor="middle">5</text><text x="108.5" y="610.3" font-size="9.6" font-weight="bold" fill="#111" text-anchor="middle">Log2 (M2/M1)</text><text transform="translate(13.8,513.3) rotate(-90)" font-size="9.6" font-weight="bold" fill="#111" text-anchor="middle">−Log10 (Q value)</text><text x="167.8" y="426.7" font-size="9.5" fill="#222">regulated</text><path d="M174.6 440.5h0" stroke="#0f8c0f" stroke-width="3.0" stroke-linecap="round"/><text x="187.0" y="443.1" font-size="7.6" fill="#333">down</text><path d="M174.6 455.8h0" stroke="#c4c4c4" stroke-width="2.0" stroke-linecap="round"/><text x="187.0" y="458.4" font-size="7.6" fill="#333">none</text><path d="M174.6 470.8h0" stroke="#ff0000" stroke-width="3.0" stroke-linecap="round"/><text x="187.0" y="473.4" font-size="7.6" fill="#333">up</text><text x="211.4" y="443.1" font-size="7.2" font-weight="bold" fill="#111">914</text><text x="210.0" y="473.4" font-size="7.2" font-weight="bold" fill="#111">1809</text><text x="2.6" y="21.7" font-size="16" font-weight="bold" fill="#000">A</text><text x="237.6" y="21.1" font-size="14.2" font-weight="bold" fill="#000">B</text></svg>
</body></html>
